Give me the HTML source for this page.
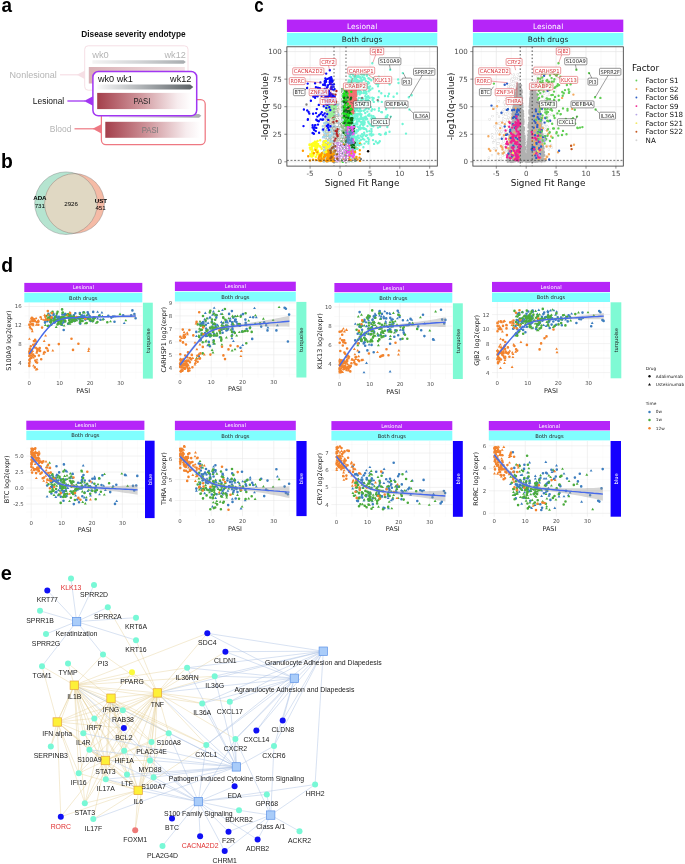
<!DOCTYPE html>
<html><head><meta charset="utf-8"><title>Figure</title>
<style>
html,body{margin:0;padding:0;background:#fff;}
svg{display:block;}
text.ls{font-family:"Liberation Sans",sans-serif;}
text.dv{font-family:"DejaVu Sans","Liberation Sans",sans-serif;}
</style></head><body>
<svg width="685" height="864" viewBox="0 0 685 864">
<rect width="685" height="864" fill="#fff"/>
<g id="panel_ab">
<defs>
<linearGradient id="gA" x1="0" x2="1" y1="0" y2="0"><stop offset="0" stop-color="#fafafa"/><stop offset="0.12" stop-color="#e6e7e8"/><stop offset="0.5" stop-color="#a9adb0"/><stop offset="1" stop-color="#5b6165"/></linearGradient>
<linearGradient id="gA2" x1="0" x2="1" y1="0" y2="0"><stop offset="0" stop-color="#f4f4f4"/><stop offset="0.5" stop-color="#d2d4d6"/><stop offset="1" stop-color="#a8acaf"/></linearGradient>
<linearGradient id="gP" x1="0" x2="1" y1="0" y2="0"><stop offset="0" stop-color="#a43f4b"/><stop offset="0.45" stop-color="#cf959b"/><stop offset="0.85" stop-color="#f7ecee"/><stop offset="1" stop-color="#ffffff"/></linearGradient>
<linearGradient id="gP2" x1="0" x2="1" y1="0" y2="0"><stop offset="0" stop-color="#d9b0b5"/><stop offset="1" stop-color="#f3e3e5"/></linearGradient>
</defs>
<text class="ls" x="1.4" y="11.8" font-size="21" fill="#000" font-weight="bold" textLength="10.5" lengthAdjust="spacingAndGlyphs">a</text>
<text class="ls" x="0.9" y="168.2" font-size="21" fill="#000" font-weight="bold" textLength="11.8" lengthAdjust="spacingAndGlyphs">b</text>
<text class="ls" x="254.3" y="11.6" font-size="21" fill="#000" font-weight="bold" textLength="9.4" lengthAdjust="spacingAndGlyphs">c</text>
<text class="ls" x="1.2" y="271.5" font-size="21" fill="#000" font-weight="bold" textLength="11.8" lengthAdjust="spacingAndGlyphs">d</text>
<text class="ls" x="0.7" y="579.9" font-size="21" fill="#000" font-weight="bold" textLength="11.1" lengthAdjust="spacingAndGlyphs">e</text>
<text class="ls" x="81.2" y="36.6" font-size="8.4" fill="#111" font-weight="bold" textLength="104.5" lengthAdjust="spacingAndGlyphs">Disease severity endotype</text>
<rect x="84.7" y="45.8" width="103.3" height="44.4" rx="3.5" fill="#fff" stroke="#f6dfe5" stroke-width="1"/>
<text class="ls" x="92.2" y="57.6" font-size="8.4" fill="#b4b4b4" textLength="16.6" lengthAdjust="spacingAndGlyphs">wk0</text>
<text class="ls" x="164.5" y="57.6" font-size="8.4" fill="#b4b4b4" textLength="21.3" lengthAdjust="spacingAndGlyphs">wk12</text>
<path d="M92.4 60.2 H183.6 L185.8 62 L183.6 63.8 H92.4 Z" fill="url(#gA2)"/>
<rect x="88.8" y="67" width="96" height="16.5" fill="url(#gP2)"/>
<text class="ls" x="9.6" y="77.6" font-size="8.4" fill="#b4b4b4" textLength="47.2" lengthAdjust="spacingAndGlyphs">Nonlesional</text>
<path d="M60 74.8 H78" stroke="#f6dfe5" stroke-width="1.2"/><path d="M76.8 74.8 L85 70.4 V79.2 Z" fill="#f6dfe5"/>
<rect x="101.4" y="99.5" width="103.8" height="45.1" rx="4.5" fill="#fff" stroke="#ee7882" stroke-width="1.25"/>
<path d="M109 113.9 H199 L201.3 115.8 L199 117.8 H109 Z" fill="url(#gA2)"/>
<rect x="105.3" y="121.8" width="95" height="16" fill="url(#gP)"/>
<text class="ls" x="150.2" y="132.5" font-size="8.2" fill="#7a7a7a" text-anchor="middle" textLength="17" lengthAdjust="spacingAndGlyphs">PASI</text>
<text class="ls" x="49.8" y="131.8" font-size="8.4" fill="#b4b4b4" textLength="21.6" lengthAdjust="spacingAndGlyphs">Blood</text>
<path d="M74.5 128.8 H94" stroke="#ee7882" stroke-width="1.2"/><path d="M92.6 128.8 L101.4 124.2 V133.4 Z" fill="#ee7882"/>
<rect x="92.9" y="71.5" width="103.8" height="44.3" rx="5.5" fill="#fff" stroke="#a136f2" stroke-width="1.5"/>
<text class="ls" x="97.9" y="82.3" font-size="8.4" fill="#111" textLength="35" lengthAdjust="spacingAndGlyphs">wk0 wk1</text>
<text class="ls" x="170.1" y="82.3" font-size="8.4" fill="#111" textLength="21.3" lengthAdjust="spacingAndGlyphs">wk12</text>
<path d="M97.2 84.5 H190.2 L193.3 87 L190.2 89.5 H97.2 Z" fill="url(#gA)"/>
<rect x="97.2" y="92.9" width="94.2" height="16.2" fill="url(#gP)"/>
<text class="ls" x="141.9" y="104" font-size="8.2" fill="#222" text-anchor="middle" textLength="17" lengthAdjust="spacingAndGlyphs">PASI</text>
<text class="ls" x="32.8" y="104" font-size="8.4" fill="#111" textLength="31.4" lengthAdjust="spacingAndGlyphs">Lesional</text>
<path d="M67.4 101 H85" stroke="#a136f2" stroke-width="1.3"/><path d="M84 101 L93 96.2 V105.8 Z" fill="#a136f2"/>
<circle cx="66" cy="203.2" r="31.3" fill="#b5e4d0"/>
<circle cx="74.5" cy="203.5" r="29.9" fill="#f5bba6"/>
<clipPath id="cv"><circle cx="66" cy="203.2" r="31.3"/></clipPath>
<circle cx="74.5" cy="203.5" r="29.9" fill="#e0d8c3" clip-path="url(#cv)"/>
<circle cx="66" cy="203.2" r="31.3" fill="none" stroke="#6b6b6b" stroke-width="0.35"/>
<circle cx="74.5" cy="203.5" r="29.9" fill="none" stroke="#6b6b6b" stroke-width="0.35"/>
<text class="ls" x="39.9" y="200.1" font-size="6.2" fill="#000" text-anchor="middle" font-weight="bold">ADA</text>
<text class="ls" x="39.8" y="207.8" font-size="6.2" fill="#000" text-anchor="middle">731</text>
<text class="ls" x="71.1" y="206" font-size="6.2" fill="#000" text-anchor="middle">2926</text>
<text class="ls" x="100.9" y="202.9" font-size="6.2" fill="#000" text-anchor="middle" font-weight="bold">UST</text>
<text class="ls" x="100.6" y="210" font-size="6.2" fill="#000" text-anchor="middle">451</text>
</g>
<g id="panel_c">
<rect x="286.9" y="19.6" width="150.4" height="12.4" fill="#b525f8"/>
<rect x="286.9" y="32.9" width="150.4" height="12.6" fill="#80fefe"/>
<text class="dv" x="362.1" y="28.6" font-size="7.4" fill="#fff" text-anchor="middle">Lesional</text>
<text class="dv" x="362.1" y="41.8" font-size="7.4" fill="#1a1a1a" text-anchor="middle">Both drugs</text>
<path d="M295.15 46.8 V166.1 M325.05 46.8 V166.1 M354.95 46.8 V166.1 M384.85 46.8 V166.1 M414.75 46.8 V166.1 M286.9 148.03 H437.3 M286.9 120.48 H437.3 M286.9 92.93 H437.3 M286.9 65.38 H437.3" stroke="#f0f0f0" stroke-width="0.4" fill="none"/>
<path d="M310.1 46.8 V166.1 M340 46.8 V166.1 M369.9 46.8 V166.1 M399.8 46.8 V166.1 M429.7 46.8 V166.1 M286.9 161.8 H437.3 M286.9 134.25 H437.3 M286.9 106.7 H437.3 M286.9 79.15 H437.3 M286.9 51.6 H437.3" stroke="#e6e6e6" stroke-width="0.7" fill="none"/>
<clipPath id="cc0"><rect x="286.9" y="46.8" width="150.4" height="119.3"/></clipPath>
<g clip-path="url(#cc0)" fill="none" stroke-linecap="round"><path d="M327.8 148.6h0M332.4 128.7h0M327.8 138.3h0M338.5 127.3h0M333.7 150.4h0M337.3 123.8h0M329.6 152.7h0M324.4 151.2h0M335.8 130.5h0M330.0 107.1h0M335.9 126.2h0M335.2 114.6h0M324.3 151.4h0M332.1 131.9h0M330.6 144.5h0M335.9 108.8h0M331.2 117.6h0M328.5 120.0h0M335.6 148.4h0M327.3 129.6h0M330.3 151.7h0M328.2 139.6h0M336.3 160.0h0M332.5 116.5h0M329.5 124.0h0M328.4 106.6h0M336.8 130.7h0M327.6 115.6h0M337.9 136.1h0M334.0 134.2h0M334.7 154.1h0M339.1 149.5h0M323.9 136.4h0M327.3 120.6h0M337.9 134.3h0M334.4 118.0h0M325.6 135.1h0M339.0 149.0h0M334.3 137.0h0M333.6 152.2h0M327.0 129.3h0M332.0 114.6h0M332.2 139.4h0M333.2 161.7h0M327.6 108.1h0M326.7 131.8h0M328.8 148.8h0M336.7 142.4h0M326.2 148.9h0M330.2 130.2h0M329.4 113.3h0M329.6 150.6h0M328.0 132.5h0M333.2 155.8h0M325.8 117.7h0M335.3 143.3h0M323.7 141.4h0M338.6 124.0h0M333.8 152.9h0M332.2 109.9h0M335.4 104.1h0M329.1 111.6h0M328.1 139.4h0M333.8 138.2h0M333.2 122.7h0M334.9 109.0h0M329.0 142.2h0M336.5 126.7h0M338.6 157.0h0M325.4 133.1h0M330.0 141.7h0M333.5 134.9h0M330.1 154.4h0M336.6 129.8h0M335.5 103.1h0M335.6 106.7h0M333.1 126.5h0" stroke="#9a9a9a" stroke-width="2.4"/><path d="M327.8 148.6h0M332.4 128.7h0M327.8 138.3h0M338.5 127.3h0M333.7 150.4h0M337.3 123.8h0M329.6 152.7h0M324.4 151.2h0M335.8 130.5h0M330.0 107.1h0M335.9 126.2h0M335.2 114.6h0M324.3 151.4h0M332.1 131.9h0M330.6 144.5h0M335.9 108.8h0M331.2 117.6h0M328.5 120.0h0M335.6 148.4h0M327.3 129.6h0M330.3 151.7h0M328.2 139.6h0M336.3 160.0h0M332.5 116.5h0M329.5 124.0h0M328.4 106.6h0M336.8 130.7h0M327.6 115.6h0M337.9 136.1h0M334.0 134.2h0M334.7 154.1h0M339.1 149.5h0M323.9 136.4h0M327.3 120.6h0M337.9 134.3h0M334.4 118.0h0M325.6 135.1h0M339.0 149.0h0M334.3 137.0h0M333.6 152.2h0M327.0 129.3h0M332.0 114.6h0M332.2 139.4h0M333.2 161.7h0M327.6 108.1h0M326.7 131.8h0M328.8 148.8h0M336.7 142.4h0M326.2 148.9h0M330.2 130.2h0M329.4 113.3h0M329.6 150.6h0M328.0 132.5h0M333.2 155.8h0M325.8 117.7h0M335.3 143.3h0M323.7 141.4h0M338.6 124.0h0M333.8 152.9h0M332.2 109.9h0M335.4 104.1h0M329.1 111.6h0M328.1 139.4h0M333.8 138.2h0M333.2 122.7h0M334.9 109.0h0M329.0 142.2h0M336.5 126.7h0M338.6 157.0h0M325.4 133.1h0M330.0 141.7h0M333.5 134.9h0M330.1 154.4h0M336.6 129.8h0M335.5 103.1h0M335.6 106.7h0M333.1 126.5h0" stroke="#ffffff" stroke-width="1.7"/><path d="M335.3 137.2h0M330.9 138.5h0M326.0 135.4h0M328.8 152.8h0M338.2 133.9h0M334.1 147.1h0M327.4 121.4h0M335.2 150.0h0M330.8 107.3h0M326.4 134.8h0M335.6 127.8h0M329.1 119.3h0M325.2 157.6h0M339.1 143.2h0M333.2 120.4h0M323.8 154.9h0M331.9 115.2h0M332.5 119.1h0M335.2 114.1h0M331.8 159.0h0M334.5 108.2h0M338.1 115.2h0M337.2 141.6h0M326.1 159.9h0M331.9 123.5h0M337.6 151.5h0M328.3 116.1h0M337.7 127.2h0M324.7 153.9h0M331.9 110.5h0M331.8 160.9h0M332.3 107.5h0M332.6 154.3h0M331.7 104.9h0M332.5 124.3h0M332.1 103.9h0M337.0 102.9h0M336.0 117.0h0M326.8 137.8h0M333.0 142.4h0M334.0 161.6h0M326.3 159.3h0M329.7 113.2h0M328.6 113.8h0M332.0 103.0h0M337.9 132.2h0M327.2 105.2h0M338.5 129.1h0M335.0 146.9h0M336.5 147.3h0M335.2 138.4h0M332.4 102.5h0M332.1 121.6h0M337.3 150.4h0M330.2 136.1h0M337.6 149.9h0M330.8 140.3h0M336.0 130.1h0M336.5 136.1h0M335.1 148.7h0M330.0 149.6h0M330.9 124.9h0M328.7 127.6h0M337.2 119.2h0M328.5 140.3h0M336.5 118.5h0M338.8 134.1h0M329.9 146.9h0M337.2 122.7h0M333.5 156.7h0M331.4 116.6h0M325.3 147.1h0M336.7 143.3h0M339.2 138.9h0M338.9 145.1h0M335.4 122.2h0M328.8 130.0h0M325.9 133.9h0M338.1 127.7h0M324.0 154.7h0M329.7 159.1h0M331.2 154.7h0M331.2 127.3h0M330.5 129.4h0M338.0 119.1h0" stroke="#8b5a2b" stroke-width="2.4"/><path d="M335.3 137.2h0M330.9 138.5h0M326.0 135.4h0M328.8 152.8h0M338.2 133.9h0M334.1 147.1h0M327.4 121.4h0M335.2 150.0h0M330.8 107.3h0M326.4 134.8h0M335.6 127.8h0M329.1 119.3h0M325.2 157.6h0M339.1 143.2h0M333.2 120.4h0M323.8 154.9h0M331.9 115.2h0M332.5 119.1h0M335.2 114.1h0M331.8 159.0h0M334.5 108.2h0M338.1 115.2h0M337.2 141.6h0M326.1 159.9h0M331.9 123.5h0M337.6 151.5h0M328.3 116.1h0M337.7 127.2h0M324.7 153.9h0M331.9 110.5h0M331.8 160.9h0M332.3 107.5h0M332.6 154.3h0M331.7 104.9h0M332.5 124.3h0M332.1 103.9h0M337.0 102.9h0M336.0 117.0h0M326.8 137.8h0M333.0 142.4h0M334.0 161.6h0M326.3 159.3h0M329.7 113.2h0M328.6 113.8h0M332.0 103.0h0M337.9 132.2h0M327.2 105.2h0M338.5 129.1h0M335.0 146.9h0M336.5 147.3h0M335.2 138.4h0M332.4 102.5h0M332.1 121.6h0M337.3 150.4h0M330.2 136.1h0M337.6 149.9h0M330.8 140.3h0M336.0 130.1h0M336.5 136.1h0M335.1 148.7h0M330.0 149.6h0M330.9 124.9h0M328.7 127.6h0M337.2 119.2h0M328.5 140.3h0M336.5 118.5h0M338.8 134.1h0M329.9 146.9h0M337.2 122.7h0M333.5 156.7h0M331.4 116.6h0M325.3 147.1h0M336.7 143.3h0M339.2 138.9h0M338.9 145.1h0M335.4 122.2h0M328.8 130.0h0M325.9 133.9h0M338.1 127.7h0M324.0 154.7h0M329.7 159.1h0M331.2 154.7h0M331.2 127.3h0M330.5 129.4h0M338.0 119.1h0" stroke="#ffffff" stroke-width="1.7"/><path d="M327.4 160.5h0M336.4 130.9h0M338.4 116.1h0M329.8 114.2h0M334.4 152.1h0M329.8 157.4h0M337.1 153.9h0M330.8 151.4h0M335.2 113.8h0M335.1 138.4h0M332.2 141.8h0M337.9 130.8h0M325.9 118.2h0M332.6 136.9h0M330.1 107.7h0M328.8 151.0h0M332.3 104.9h0M323.9 155.9h0M325.4 131.6h0M336.5 154.8h0M336.0 131.0h0M329.7 155.3h0M324.9 141.3h0M328.9 104.2h0M330.7 114.8h0M326.4 124.4h0M335.4 110.0h0M329.8 135.3h0M336.6 133.0h0M337.0 112.2h0M335.9 108.2h0M334.2 137.9h0M337.9 112.7h0M331.7 148.6h0M335.0 115.6h0M330.8 151.9h0M335.0 135.4h0M337.5 133.2h0M329.0 153.7h0M325.5 159.4h0M325.3 150.4h0M330.9 160.6h0M335.5 131.7h0M329.2 130.3h0M334.5 131.4h0M329.7 111.1h0M329.1 157.6h0M330.7 108.4h0M328.6 118.0h0M331.3 150.5h0M326.4 147.6h0M327.8 120.7h0M335.7 123.5h0M338.2 104.4h0M332.5 143.1h0M334.2 154.9h0M329.6 136.3h0M332.8 139.5h0M338.3 155.2h0M334.3 122.7h0M325.1 137.2h0M331.3 143.3h0M339.2 148.1h0M328.0 121.8h0M330.0 108.5h0M328.6 138.1h0M333.7 114.0h0" stroke="#bdbdbd" stroke-width="2.4"/><path d="M324.2 146.9h0M336.0 125.7h0M336.6 124.1h0M331.6 138.7h0M327.8 116.7h0M334.8 128.2h0M326.2 145.9h0M337.7 146.3h0M338.3 143.1h0M331.6 114.2h0M338.7 127.4h0M332.5 157.7h0M336.3 115.8h0M329.8 114.3h0M331.9 129.4h0M336.1 142.7h0M334.7 153.1h0M337.4 130.2h0M337.1 113.5h0M333.8 118.7h0M332.0 134.9h0M328.3 113.3h0M324.0 146.8h0M330.7 120.8h0M329.4 135.3h0M327.9 131.9h0M333.7 105.6h0M329.5 115.9h0M328.2 153.0h0M324.4 142.2h0M338.2 103.6h0M333.3 132.8h0M336.7 147.3h0M331.2 154.7h0M335.0 145.1h0M328.0 111.7h0M331.4 120.1h0M334.0 103.8h0M334.7 124.6h0M329.2 157.1h0M334.7 131.2h0M329.3 110.0h0M337.7 108.1h0M332.6 126.1h0M328.2 139.8h0M338.0 156.2h0M330.6 151.1h0M335.5 132.4h0M336.3 133.2h0M325.8 148.7h0M333.6 106.1h0M326.4 137.2h0M336.9 160.5h0M334.4 111.0h0M328.5 134.7h0M338.2 142.7h0M323.8 161.5h0M327.2 121.0h0M334.5 112.6h0M336.8 109.1h0M336.2 118.1h0M335.0 153.2h0M327.4 149.2h0M324.3 132.2h0M326.4 148.8h0M327.6 153.7h0M327.5 129.8h0M325.0 147.7h0M336.1 125.4h0M331.1 140.7h0M334.9 137.4h0M332.3 135.6h0M334.4 157.4h0M327.5 133.1h0M329.4 159.2h0M336.8 159.3h0M334.8 137.2h0M330.0 140.8h0M329.1 109.2h0" stroke="#9cc" stroke-width="2.4"/><path d="M324.2 146.9h0M336.0 125.7h0M336.6 124.1h0M331.6 138.7h0M327.8 116.7h0M334.8 128.2h0M326.2 145.9h0M337.7 146.3h0M338.3 143.1h0M331.6 114.2h0M338.7 127.4h0M332.5 157.7h0M336.3 115.8h0M329.8 114.3h0M331.9 129.4h0M336.1 142.7h0M334.7 153.1h0M337.4 130.2h0M337.1 113.5h0M333.8 118.7h0M332.0 134.9h0M328.3 113.3h0M324.0 146.8h0M330.7 120.8h0M329.4 135.3h0M327.9 131.9h0M333.7 105.6h0M329.5 115.9h0M328.2 153.0h0M324.4 142.2h0M338.2 103.6h0M333.3 132.8h0M336.7 147.3h0M331.2 154.7h0M335.0 145.1h0M328.0 111.7h0M331.4 120.1h0M334.0 103.8h0M334.7 124.6h0M329.2 157.1h0M334.7 131.2h0M329.3 110.0h0M337.7 108.1h0M332.6 126.1h0M328.2 139.8h0M338.0 156.2h0M330.6 151.1h0M335.5 132.4h0M336.3 133.2h0M325.8 148.7h0M333.6 106.1h0M326.4 137.2h0M336.9 160.5h0M334.4 111.0h0M328.5 134.7h0M338.2 142.7h0M323.8 161.5h0M327.2 121.0h0M334.5 112.6h0M336.8 109.1h0M336.2 118.1h0M335.0 153.2h0M327.4 149.2h0M324.3 132.2h0M326.4 148.8h0M327.6 153.7h0M327.5 129.8h0M325.0 147.7h0M336.1 125.4h0M331.1 140.7h0M334.9 137.4h0M332.3 135.6h0M334.4 157.4h0M327.5 133.1h0M329.4 159.2h0M336.8 159.3h0M334.8 137.2h0M330.0 140.8h0M329.1 109.2h0" stroke="#cfeef5" stroke-width="1.7"/><path d="M338.5 154.2h0M330.1 141.6h0M337.2 123.7h0M338.2 143.3h0M327.9 136.3h0M337.6 147.4h0M328.7 145.8h0M329.5 121.3h0M335.7 106.3h0M331.2 112.0h0M328.8 147.0h0M328.1 122.3h0M336.2 130.3h0M331.4 130.3h0M327.1 136.2h0M333.6 121.3h0M334.5 160.2h0M330.5 140.3h0M327.6 109.8h0M339.1 150.4h0M332.6 135.9h0M328.9 143.8h0M338.6 131.3h0M328.6 142.8h0M328.1 124.2h0M328.7 150.9h0M329.5 159.4h0M332.7 111.7h0M338.8 154.0h0M333.4 135.2h0M326.4 131.3h0M337.7 131.8h0M337.2 136.7h0M331.3 112.9h0M336.1 159.0h0M331.3 144.1h0M326.1 159.5h0M335.0 161.5h0M331.5 115.2h0M338.6 146.2h0M330.4 139.2h0M337.2 105.1h0M330.7 160.9h0M334.2 123.6h0M335.4 149.4h0M334.0 135.3h0M329.9 157.6h0M337.9 151.9h0M335.4 160.6h0M333.3 129.2h0M326.3 143.1h0M337.6 150.4h0M335.8 142.5h0M334.8 161.0h0M335.6 132.1h0M329.8 149.5h0M337.8 120.6h0M333.0 113.2h0M335.1 148.6h0M333.6 141.7h0M324.5 156.5h0M328.7 139.8h0M333.5 113.5h0M328.0 141.7h0M333.8 111.5h0M327.6 161.3h0M334.0 145.9h0M334.4 153.4h0M333.1 129.7h0M339.1 144.4h0M324.2 150.7h0M326.0 143.6h0M326.3 122.6h0M330.4 109.6h0M339.1 143.0h0M336.0 130.0h0M336.6 136.8h0M334.2 155.1h0" stroke="#a6e3a6" stroke-width="2.4"/><path d="M338.1 150.2h0M337.1 158.9h0M331.1 109.0h0M329.4 158.8h0M332.5 114.2h0M338.0 114.1h0M333.2 122.5h0M327.2 160.9h0M331.6 117.7h0M331.9 104.5h0M335.0 131.5h0M326.6 112.8h0M338.2 155.0h0M333.2 123.4h0M336.7 108.6h0M325.1 160.4h0M338.2 141.3h0M328.9 139.7h0M328.1 151.5h0M337.6 152.2h0M329.6 125.6h0M333.9 123.7h0M336.4 115.2h0M334.6 131.6h0M326.9 156.2h0M337.5 120.5h0M324.9 155.2h0M334.9 108.6h0M334.5 142.7h0M332.9 138.4h0M336.4 152.9h0M328.5 158.3h0M324.4 160.4h0M336.3 151.9h0M328.4 144.9h0M330.3 120.8h0M336.7 145.9h0M334.7 112.8h0M331.7 116.6h0M331.4 128.4h0M327.1 142.9h0M334.2 134.1h0M335.5 109.9h0M332.9 102.6h0M330.7 137.6h0M326.7 143.6h0M327.5 107.3h0M337.5 140.6h0M329.5 151.1h0M334.7 116.7h0M333.6 158.9h0M333.9 124.8h0M329.9 139.1h0M337.3 135.8h0M328.8 109.5h0M326.6 152.0h0M327.7 118.7h0M334.1 158.3h0M338.6 148.5h0M331.5 111.9h0M331.1 124.4h0M325.4 128.1h0M332.3 130.1h0M334.6 135.8h0M330.8 124.4h0M327.5 110.5h0M328.4 128.4h0M335.5 131.1h0M329.2 107.0h0M336.0 121.3h0M337.5 125.2h0M338.8 142.4h0M332.9 109.6h0M327.8 154.7h0M322.4 160.2h0M327.2 112.3h0" stroke="#777777" stroke-width="2.4"/><path d="M338.1 150.2h0M337.1 158.9h0M331.1 109.0h0M329.4 158.8h0M332.5 114.2h0M338.0 114.1h0M333.2 122.5h0M327.2 160.9h0M331.6 117.7h0M331.9 104.5h0M335.0 131.5h0M326.6 112.8h0M338.2 155.0h0M333.2 123.4h0M336.7 108.6h0M325.1 160.4h0M338.2 141.3h0M328.9 139.7h0M328.1 151.5h0M337.6 152.2h0M329.6 125.6h0M333.9 123.7h0M336.4 115.2h0M334.6 131.6h0M326.9 156.2h0M337.5 120.5h0M324.9 155.2h0M334.9 108.6h0M334.5 142.7h0M332.9 138.4h0M336.4 152.9h0M328.5 158.3h0M324.4 160.4h0M336.3 151.9h0M328.4 144.9h0M330.3 120.8h0M336.7 145.9h0M334.7 112.8h0M331.7 116.6h0M331.4 128.4h0M327.1 142.9h0M334.2 134.1h0M335.5 109.9h0M332.9 102.6h0M330.7 137.6h0M326.7 143.6h0M327.5 107.3h0M337.5 140.6h0M329.5 151.1h0M334.7 116.7h0M333.6 158.9h0M333.9 124.8h0M329.9 139.1h0M337.3 135.8h0M328.8 109.5h0M326.6 152.0h0M327.7 118.7h0M334.1 158.3h0M338.6 148.5h0M331.5 111.9h0M331.1 124.4h0M325.4 128.1h0M332.3 130.1h0M334.6 135.8h0M330.8 124.4h0M327.5 110.5h0M328.4 128.4h0M335.5 131.1h0M329.2 107.0h0M336.0 121.3h0M337.5 125.2h0M338.8 142.4h0M332.9 109.6h0M327.8 154.7h0M322.4 160.2h0M327.2 112.3h0" stroke="#ffffff" stroke-width="1.7"/><path d="M326.2 143.0h0M332.5 116.7h0M334.6 122.2h0M335.0 145.2h0M333.5 122.7h0M323.3 146.6h0M324.3 134.7h0M334.1 159.9h0M338.2 108.7h0M327.3 117.9h0M335.0 126.5h0M332.8 104.3h0M326.1 153.4h0M331.9 155.7h0M337.0 103.9h0M329.2 114.6h0M336.9 160.3h0M329.8 151.1h0M335.3 108.8h0M334.3 102.9h0M338.5 122.9h0M338.8 140.5h0M334.6 139.1h0M334.6 114.2h0M333.3 150.1h0M330.4 127.1h0M326.6 123.7h0M335.8 130.8h0M329.7 132.3h0M332.6 131.9h0M338.9 159.0h0M321.9 155.2h0M328.8 141.3h0M331.0 130.3h0M328.8 129.0h0M334.8 110.4h0M330.2 121.0h0M329.8 116.6h0M330.2 156.9h0M332.4 142.9h0M336.7 158.7h0M328.3 142.5h0M337.4 111.6h0M334.4 157.7h0M324.5 125.6h0M325.0 146.6h0M327.1 153.7h0M337.7 108.7h0M331.3 156.9h0M333.5 132.4h0M329.9 139.3h0M338.0 147.5h0M330.5 144.3h0M327.2 108.8h0M335.9 160.5h0M333.3 140.5h0M327.7 129.7h0M332.6 121.6h0M327.7 124.5h0M337.4 106.6h0M333.7 117.8h0M327.7 109.3h0M324.8 134.1h0M336.5 149.8h0M330.4 111.8h0M334.2 109.2h0M336.7 109.2h0M327.8 143.3h0M339.5 159.5h0M333.0 134.9h0M327.7 119.7h0M330.2 107.8h0M339.4 159.9h0M337.2 139.1h0" stroke="#d8c9a3" stroke-width="2.4"/><path d="M331.0 114.9h0M337.2 102.6h0M328.1 121.5h0M327.9 118.4h0M330.6 146.8h0M337.0 118.5h0M338.1 147.8h0M336.7 122.3h0M329.3 111.8h0M325.1 158.0h0M338.3 114.5h0M337.5 124.5h0M327.1 119.0h0M332.0 112.1h0M337.0 144.6h0M326.6 158.4h0M333.0 141.2h0M329.4 106.8h0M334.8 131.0h0M327.8 104.6h0M331.4 130.2h0M330.2 104.0h0M336.4 149.2h0M337.2 105.0h0M330.9 111.3h0M330.8 154.3h0M329.5 143.8h0M330.9 125.6h0M338.5 139.2h0M331.1 131.2h0M334.5 114.3h0M326.2 133.6h0M336.3 112.2h0M332.1 135.6h0M324.6 152.7h0M335.1 126.5h0M329.1 111.9h0M332.4 148.5h0M325.4 136.4h0M332.0 111.7h0M337.7 133.9h0M335.4 141.3h0M339.0 156.7h0M330.7 121.2h0M334.6 107.4h0M335.6 132.9h0M338.6 145.8h0M328.9 115.5h0M327.1 123.9h0M339.3 147.1h0M330.4 145.0h0M334.9 161.2h0M328.9 136.5h0M331.7 108.5h0M331.5 138.3h0M336.1 129.2h0M330.5 147.4h0M327.8 116.5h0M332.0 152.1h0M335.5 127.4h0M325.5 122.6h0M329.6 151.8h0M335.8 109.9h0M335.7 145.7h0M335.4 157.7h0M338.4 151.1h0M337.9 130.8h0M333.4 120.5h0M338.5 122.5h0M330.6 156.8h0M332.6 154.8h0M330.2 140.9h0M326.9 132.4h0M329.9 137.5h0" stroke="#9fd0ea" stroke-width="2.4"/><path d="M336.2 124.4h0M333.0 154.9h0M337.6 119.4h0M334.7 113.0h0M330.4 119.7h0M327.1 113.2h0M333.7 128.3h0M335.1 143.3h0M335.6 150.6h0M336.8 134.8h0M336.2 136.1h0M327.9 148.5h0M336.5 124.9h0M330.6 147.4h0M334.1 138.9h0M339.3 152.2h0M331.5 103.5h0M331.6 116.2h0M334.1 127.1h0M325.9 151.9h0M337.6 155.5h0M325.9 140.8h0M338.5 120.2h0M326.8 148.8h0M338.8 143.6h0M337.8 150.3h0M338.6 146.7h0M334.5 137.9h0M336.9 129.2h0M333.6 113.0h0M329.3 114.3h0M338.4 135.9h0M327.4 161.5h0M338.7 149.8h0M328.4 128.4h0M330.3 121.4h0M338.0 102.7h0M336.1 140.6h0M333.3 160.0h0M327.7 154.3h0M328.5 140.7h0M326.6 153.6h0M332.4 138.9h0M327.7 137.9h0M338.4 141.1h0M332.2 108.2h0M328.0 141.5h0M324.5 151.5h0M336.8 117.4h0M338.6 136.8h0M338.6 157.5h0M339.4 153.3h0M337.4 124.5h0M335.9 124.0h0M336.7 113.2h0M328.2 112.8h0M336.2 145.0h0M337.1 119.4h0M324.8 137.6h0M333.5 123.1h0M337.4 119.3h0M322.6 160.3h0M331.5 108.8h0M335.8 139.3h0M329.6 109.9h0M334.3 152.2h0M326.6 148.4h0M329.8 156.0h0M336.3 110.6h0M328.2 106.5h0M332.3 123.2h0M339.2 141.8h0M337.2 125.2h0M329.5 157.1h0M334.4 146.8h0M326.9 159.9h0M334.8 106.8h0M326.1 159.0h0M337.0 107.4h0M332.1 107.0h0M334.8 122.9h0M333.4 135.6h0M329.0 140.7h0" stroke="#b8b8b8" stroke-width="2.4"/><path d="M336.2 124.4h0M333.0 154.9h0M337.6 119.4h0M334.7 113.0h0M330.4 119.7h0M327.1 113.2h0M333.7 128.3h0M335.1 143.3h0M335.6 150.6h0M336.8 134.8h0M336.2 136.1h0M327.9 148.5h0M336.5 124.9h0M330.6 147.4h0M334.1 138.9h0M339.3 152.2h0M331.5 103.5h0M331.6 116.2h0M334.1 127.1h0M325.9 151.9h0M337.6 155.5h0M325.9 140.8h0M338.5 120.2h0M326.8 148.8h0M338.8 143.6h0M337.8 150.3h0M338.6 146.7h0M334.5 137.9h0M336.9 129.2h0M333.6 113.0h0M329.3 114.3h0M338.4 135.9h0M327.4 161.5h0M338.7 149.8h0M328.4 128.4h0M330.3 121.4h0M338.0 102.7h0M336.1 140.6h0M333.3 160.0h0M327.7 154.3h0M328.5 140.7h0M326.6 153.6h0M332.4 138.9h0M327.7 137.9h0M338.4 141.1h0M332.2 108.2h0M328.0 141.5h0M324.5 151.5h0M336.8 117.4h0M338.6 136.8h0M338.6 157.5h0M339.4 153.3h0M337.4 124.5h0M335.9 124.0h0M336.7 113.2h0M328.2 112.8h0M336.2 145.0h0M337.1 119.4h0M324.8 137.6h0M333.5 123.1h0M337.4 119.3h0M322.6 160.3h0M331.5 108.8h0M335.8 139.3h0M329.6 109.9h0M334.3 152.2h0M326.6 148.4h0M329.8 156.0h0M336.3 110.6h0M328.2 106.5h0M332.3 123.2h0M339.2 141.8h0M337.2 125.2h0M329.5 157.1h0M334.4 146.8h0M326.9 159.9h0M334.8 106.8h0M326.1 159.0h0M337.0 107.4h0M332.1 107.0h0M334.8 122.9h0M333.4 135.6h0M329.0 140.7h0" stroke="#ffffff" stroke-width="1.7"/><path d="M334.1 155.7h0M337.4 121.7h0M328.6 109.5h0M327.6 135.0h0M328.6 145.0h0M330.1 113.0h0M330.4 159.8h0M332.8 150.1h0M327.6 131.7h0M326.7 120.5h0M336.4 128.1h0M335.3 110.5h0M328.7 147.3h0M330.1 153.2h0M324.4 149.2h0M338.2 142.8h0M339.1 159.7h0M330.2 122.2h0M323.7 148.4h0M323.5 152.0h0M338.5 139.5h0M333.1 102.9h0M332.0 106.9h0M338.0 109.4h0M331.0 112.5h0M326.2 142.2h0M334.9 141.4h0M330.9 121.0h0M337.8 121.3h0M332.0 120.1h0M334.2 129.1h0M336.9 115.6h0M335.8 141.3h0M336.8 159.7h0M337.0 135.7h0M326.2 156.6h0M334.8 160.4h0M330.7 118.9h0M331.0 128.5h0M335.9 160.8h0M332.8 111.1h0M331.4 113.3h0M329.2 139.8h0M331.8 146.5h0M326.6 149.2h0M332.7 130.9h0M328.0 151.0h0M333.9 121.6h0M334.8 150.6h0M337.1 147.7h0M322.5 156.0h0M332.6 135.7h0M332.6 123.6h0M337.3 161.2h0M329.1 124.6h0M328.3 150.6h0M333.7 156.4h0M333.9 128.7h0M329.9 131.9h0M326.2 131.8h0M336.1 161.7h0M330.3 122.2h0M329.4 153.2h0M335.1 122.4h0M334.6 110.1h0M328.6 118.4h0M332.3 154.5h0M338.8 135.4h0M335.3 119.2h0M328.3 121.6h0M328.3 156.0h0M332.8 125.3h0M327.2 159.8h0M338.2 109.3h0M334.9 120.1h0M333.4 116.5h0M322.7 156.6h0M336.5 155.6h0M330.1 124.5h0M331.9 137.3h0M330.2 119.4h0M331.6 113.8h0M336.7 148.8h0M327.7 151.9h0" stroke="#aa9" stroke-width="2.4"/><path d="M334.1 155.7h0M337.4 121.7h0M328.6 109.5h0M327.6 135.0h0M328.6 145.0h0M330.1 113.0h0M330.4 159.8h0M332.8 150.1h0M327.6 131.7h0M326.7 120.5h0M336.4 128.1h0M335.3 110.5h0M328.7 147.3h0M330.1 153.2h0M324.4 149.2h0M338.2 142.8h0M339.1 159.7h0M330.2 122.2h0M323.7 148.4h0M323.5 152.0h0M338.5 139.5h0M333.1 102.9h0M332.0 106.9h0M338.0 109.4h0M331.0 112.5h0M326.2 142.2h0M334.9 141.4h0M330.9 121.0h0M337.8 121.3h0M332.0 120.1h0M334.2 129.1h0M336.9 115.6h0M335.8 141.3h0M336.8 159.7h0M337.0 135.7h0M326.2 156.6h0M334.8 160.4h0M330.7 118.9h0M331.0 128.5h0M335.9 160.8h0M332.8 111.1h0M331.4 113.3h0M329.2 139.8h0M331.8 146.5h0M326.6 149.2h0M332.7 130.9h0M328.0 151.0h0M333.9 121.6h0M334.8 150.6h0M337.1 147.7h0M322.5 156.0h0M332.6 135.7h0M332.6 123.6h0M337.3 161.2h0M329.1 124.6h0M328.3 150.6h0M333.7 156.4h0M333.9 128.7h0M329.9 131.9h0M326.2 131.8h0M336.1 161.7h0M330.3 122.2h0M329.4 153.2h0M335.1 122.4h0M334.6 110.1h0M328.6 118.4h0M332.3 154.5h0M338.8 135.4h0M335.3 119.2h0M328.3 121.6h0M328.3 156.0h0M332.8 125.3h0M327.2 159.8h0M338.2 109.3h0M334.9 120.1h0M333.4 116.5h0M322.7 156.6h0M336.5 155.6h0M330.1 124.5h0M331.9 137.3h0M330.2 119.4h0M331.6 113.8h0M336.7 148.8h0M327.7 151.9h0" stroke="#e8e8d0" stroke-width="1.7"/><path d="M344.9 142.4h0M345.4 115.8h0M350.3 106.7h0M344.9 110.7h0M343.2 126.6h0M346.4 144.5h0M346.6 136.9h0M344.0 91.2h0M343.3 126.9h0M347.8 139.2h0M345.9 125.2h0M342.1 144.2h0M342.9 152.2h0M344.7 136.8h0M350.8 125.4h0M342.6 133.2h0M345.5 143.5h0M349.6 137.4h0M344.3 138.2h0M343.2 113.0h0M344.1 98.7h0M343.8 114.2h0M344.2 124.7h0M349.2 158.4h0M348.8 156.7h0M347.8 98.4h0M343.5 132.8h0M348.0 155.9h0M345.6 135.6h0M350.9 134.2h0M350.1 149.8h0M350.6 110.2h0M344.3 130.6h0M342.0 101.9h0M350.7 151.2h0M345.3 129.0h0M343.8 133.3h0M349.7 147.3h0M343.0 132.7h0M346.4 113.9h0M342.2 122.5h0M350.8 151.2h0M342.9 145.3h0M345.7 130.1h0M345.8 119.8h0M344.7 132.9h0M351.0 123.5h0M348.9 116.1h0M348.0 143.9h0M345.8 150.3h0M341.5 124.0h0M343.4 149.8h0M348.4 122.9h0M344.2 103.0h0M344.3 131.2h0M355.3 158.3h0M344.6 139.9h0M342.3 142.5h0M341.2 155.5h0M343.6 156.8h0M349.4 122.1h0M345.3 98.7h0M340.2 159.3h0M342.3 149.7h0M349.8 107.9h0M341.4 137.4h0M343.4 151.3h0M345.4 161.1h0M349.0 135.6h0M351.3 131.7h0M353.3 150.0h0M351.0 108.6h0M343.4 147.8h0M342.1 119.8h0M348.0 93.6h0M344.0 156.9h0M343.0 127.8h0M353.3 141.1h0M343.2 138.5h0M346.5 98.8h0M347.5 110.6h0" stroke="#9a9a9a" stroke-width="2.4"/><path d="M344.9 142.4h0M345.4 115.8h0M350.3 106.7h0M344.9 110.7h0M343.2 126.6h0M346.4 144.5h0M346.6 136.9h0M344.0 91.2h0M343.3 126.9h0M347.8 139.2h0M345.9 125.2h0M342.1 144.2h0M342.9 152.2h0M344.7 136.8h0M350.8 125.4h0M342.6 133.2h0M345.5 143.5h0M349.6 137.4h0M344.3 138.2h0M343.2 113.0h0M344.1 98.7h0M343.8 114.2h0M344.2 124.7h0M349.2 158.4h0M348.8 156.7h0M347.8 98.4h0M343.5 132.8h0M348.0 155.9h0M345.6 135.6h0M350.9 134.2h0M350.1 149.8h0M350.6 110.2h0M344.3 130.6h0M342.0 101.9h0M350.7 151.2h0M345.3 129.0h0M343.8 133.3h0M349.7 147.3h0M343.0 132.7h0M346.4 113.9h0M342.2 122.5h0M350.8 151.2h0M342.9 145.3h0M345.7 130.1h0M345.8 119.8h0M344.7 132.9h0M351.0 123.5h0M348.9 116.1h0M348.0 143.9h0M345.8 150.3h0M341.5 124.0h0M343.4 149.8h0M348.4 122.9h0M344.2 103.0h0M344.3 131.2h0M355.3 158.3h0M344.6 139.9h0M342.3 142.5h0M341.2 155.5h0M343.6 156.8h0M349.4 122.1h0M345.3 98.7h0M340.2 159.3h0M342.3 149.7h0M349.8 107.9h0M341.4 137.4h0M343.4 151.3h0M345.4 161.1h0M349.0 135.6h0M351.3 131.7h0M353.3 150.0h0M351.0 108.6h0M343.4 147.8h0M342.1 119.8h0M348.0 93.6h0M344.0 156.9h0M343.0 127.8h0M353.3 141.1h0M343.2 138.5h0M346.5 98.8h0M347.5 110.6h0" stroke="#ffffff" stroke-width="1.7"/><path d="M352.7 152.4h0M342.6 152.9h0M340.5 152.8h0M342.8 102.8h0M346.0 136.6h0M343.6 116.0h0M347.5 131.1h0M350.7 118.1h0M348.0 140.4h0M350.3 147.1h0M349.7 123.7h0M343.8 94.2h0M348.0 131.0h0M353.1 160.8h0M343.2 122.4h0M345.3 150.8h0M349.4 136.5h0M348.0 107.9h0M353.8 150.9h0M350.3 124.9h0M344.7 159.1h0M348.2 103.5h0M344.2 100.4h0M341.0 145.2h0M350.7 115.1h0M350.7 138.3h0M343.9 150.7h0M341.8 145.4h0M344.5 117.4h0M349.0 100.6h0M347.0 138.8h0M347.7 120.2h0M351.8 144.5h0M350.9 119.8h0M349.1 123.1h0M342.3 89.1h0M342.7 148.5h0M349.2 120.4h0M342.4 115.9h0M353.0 124.2h0M346.3 93.7h0M348.5 120.2h0M349.8 148.7h0M352.2 146.8h0M344.7 91.5h0M354.3 156.6h0M349.5 153.2h0M344.7 127.0h0M351.5 150.1h0M350.0 109.9h0M346.6 118.8h0M349.1 144.8h0M344.1 129.4h0M347.1 119.7h0M341.9 123.5h0M348.3 90.3h0M342.8 91.6h0M355.3 160.8h0M342.2 140.1h0M347.5 134.9h0M354.0 145.3h0M348.1 143.0h0M347.4 95.0h0M343.5 146.0h0M349.3 153.0h0M350.5 102.7h0M342.4 156.0h0M342.3 144.0h0M342.4 116.1h0M345.7 134.6h0M345.3 149.5h0M351.3 139.2h0M350.1 108.1h0M344.8 131.4h0M350.4 141.6h0M346.4 139.5h0M351.7 115.1h0M353.8 136.6h0M350.2 102.3h0M350.1 113.3h0M351.8 120.5h0M352.1 115.0h0M341.8 126.0h0M350.7 101.7h0M344.8 139.4h0M348.1 135.6h0" stroke="#0b6b1a" stroke-width="2.4"/><path d="M347.6 92.5h0M346.2 140.5h0M350.0 127.0h0M344.9 115.8h0M341.3 158.6h0M355.6 158.4h0M354.8 150.8h0M349.5 147.0h0M342.6 101.5h0M345.5 125.1h0M343.9 96.2h0M340.6 151.8h0M351.9 159.3h0M353.2 151.7h0M352.4 136.3h0M348.7 112.4h0M345.1 125.4h0M349.6 161.1h0M344.8 140.3h0M352.6 133.7h0M342.9 98.4h0M348.4 98.7h0M342.5 122.3h0M352.0 161.1h0M347.9 113.6h0M349.7 141.7h0M352.6 127.7h0M344.5 100.6h0M348.5 115.4h0M345.8 126.2h0M349.9 123.4h0M343.4 90.5h0M346.4 102.5h0M354.1 157.6h0M342.1 113.5h0M342.8 161.8h0M346.2 136.3h0M342.8 95.0h0M349.1 140.0h0M343.8 104.7h0M345.8 122.1h0M344.4 154.8h0M346.2 121.3h0M342.9 157.8h0M349.3 146.6h0M349.4 112.8h0M344.7 129.5h0M344.7 133.8h0M347.9 150.8h0M346.0 97.3h0M350.1 125.6h0M346.1 150.9h0M343.7 99.6h0M342.6 139.9h0M347.3 116.1h0M347.9 157.7h0M343.5 152.5h0M350.6 144.4h0M344.4 117.7h0M343.7 142.9h0M344.7 145.0h0M344.5 119.0h0M350.9 150.2h0M353.1 154.1h0M350.4 130.8h0M342.4 115.9h0M353.5 160.0h0M348.4 117.6h0M347.8 137.2h0M350.3 142.0h0M346.2 93.0h0M342.5 155.8h0M347.1 144.5h0M343.7 128.1h0M345.8 103.4h0M351.2 117.4h0M352.1 120.1h0M343.1 153.5h0" stroke="#1fe01f" stroke-width="2.4"/><path d="M348.4 153.2h0M351.0 106.7h0M342.8 100.4h0M348.7 151.7h0M342.5 117.8h0M347.3 143.9h0M342.2 136.4h0M344.2 105.6h0M347.4 127.9h0M342.7 125.3h0M348.7 159.7h0M346.3 103.9h0M350.4 139.4h0M345.1 155.2h0M341.6 151.6h0M340.9 143.8h0M350.6 116.6h0M349.1 144.8h0M341.3 135.3h0M347.3 156.5h0M342.7 108.5h0M344.4 97.3h0M346.8 112.0h0M350.4 123.3h0M345.0 143.6h0M343.7 158.3h0M351.9 133.6h0M341.5 148.6h0M348.8 100.1h0M343.9 118.7h0M350.9 160.6h0M353.8 149.4h0M342.4 90.1h0M353.0 144.5h0M351.4 144.1h0M343.9 125.6h0M349.7 126.3h0M350.3 132.6h0M345.0 151.1h0M343.0 107.3h0M341.1 149.7h0M347.5 155.8h0M349.1 117.4h0M340.3 155.0h0M342.1 110.0h0M344.6 149.5h0M346.4 107.1h0M347.8 103.5h0M344.5 119.4h0M344.1 91.0h0M350.4 156.9h0M351.7 153.2h0M344.5 138.5h0M347.1 115.7h0M343.1 99.1h0M345.0 111.2h0M352.1 159.6h0M346.1 142.1h0M350.6 152.4h0M349.1 158.7h0M344.5 132.1h0M348.5 152.4h0M347.1 129.7h0M348.8 161.2h0M347.1 90.8h0M346.7 159.0h0M352.3 135.2h0M350.7 113.8h0M351.9 123.7h0M353.3 142.8h0M345.8 150.9h0M346.2 158.6h0M349.6 111.1h0" stroke="#bdbdbd" stroke-width="2.4"/><path d="M349.8 122.6h0M345.4 158.0h0M344.6 114.0h0M349.4 138.4h0M350.9 136.4h0M353.2 125.2h0M344.3 113.0h0M352.6 159.9h0M349.3 117.2h0M346.1 91.0h0M344.6 100.4h0M352.2 142.8h0M349.8 137.6h0M346.2 114.7h0M340.8 151.1h0M349.0 141.4h0M341.4 139.2h0M347.1 100.5h0M343.6 122.7h0M349.0 139.4h0M342.5 92.1h0M352.3 158.7h0M350.8 116.8h0M345.1 132.1h0M346.6 99.7h0M344.8 100.1h0M351.3 112.3h0M348.2 113.1h0M345.6 146.9h0M350.3 144.5h0M342.8 160.1h0M345.7 89.8h0M342.6 125.7h0M347.8 135.7h0M345.1 148.5h0M341.5 147.5h0M345.0 159.2h0M342.4 91.7h0M343.1 99.5h0M349.2 106.5h0M349.0 131.6h0M347.9 104.7h0M350.3 152.4h0M348.0 152.2h0M345.3 102.8h0M344.7 121.9h0M346.2 155.7h0M346.3 155.1h0M350.7 107.4h0M345.3 97.7h0M348.1 140.8h0M344.0 133.1h0M349.1 140.5h0M346.2 141.1h0M346.8 145.2h0M346.8 137.6h0M344.1 130.5h0M342.0 144.5h0M349.0 97.3h0M350.6 109.8h0M352.0 160.8h0M348.3 123.6h0M345.3 130.6h0M348.5 147.1h0M350.4 113.3h0M346.2 89.9h0M348.9 122.5h0M350.1 143.4h0M346.0 159.7h0M349.1 144.1h0M350.9 136.3h0M341.3 149.8h0M343.0 145.9h0M347.2 103.0h0M351.3 114.3h0M344.4 97.4h0M346.3 106.3h0M347.2 110.7h0M350.3 141.8h0M348.1 129.3h0M350.1 116.2h0M348.9 116.0h0M341.7 123.8h0" stroke="#556b2f" stroke-width="2.4"/><path d="M349.8 122.6h0M345.4 158.0h0M344.6 114.0h0M349.4 138.4h0M350.9 136.4h0M353.2 125.2h0M344.3 113.0h0M352.6 159.9h0M349.3 117.2h0M346.1 91.0h0M344.6 100.4h0M352.2 142.8h0M349.8 137.6h0M346.2 114.7h0M340.8 151.1h0M349.0 141.4h0M341.4 139.2h0M347.1 100.5h0M343.6 122.7h0M349.0 139.4h0M342.5 92.1h0M352.3 158.7h0M350.8 116.8h0M345.1 132.1h0M346.6 99.7h0M344.8 100.1h0M351.3 112.3h0M348.2 113.1h0M345.6 146.9h0M350.3 144.5h0M342.8 160.1h0M345.7 89.8h0M342.6 125.7h0M347.8 135.7h0M345.1 148.5h0M341.5 147.5h0M345.0 159.2h0M342.4 91.7h0M343.1 99.5h0M349.2 106.5h0M349.0 131.6h0M347.9 104.7h0M350.3 152.4h0M348.0 152.2h0M345.3 102.8h0M344.7 121.9h0M346.2 155.7h0M346.3 155.1h0M350.7 107.4h0M345.3 97.7h0M348.1 140.8h0M344.0 133.1h0M349.1 140.5h0M346.2 141.1h0M346.8 145.2h0M346.8 137.6h0M344.1 130.5h0M342.0 144.5h0M349.0 97.3h0M350.6 109.8h0M352.0 160.8h0M348.3 123.6h0M345.3 130.6h0M348.5 147.1h0M350.4 113.3h0M346.2 89.9h0M348.9 122.5h0M350.1 143.4h0M346.0 159.7h0M349.1 144.1h0M350.9 136.3h0M341.3 149.8h0M343.0 145.9h0M347.2 103.0h0M351.3 114.3h0M344.4 97.4h0M346.3 106.3h0M347.2 110.7h0M350.3 141.8h0M348.1 129.3h0M350.1 116.2h0M348.9 116.0h0M341.7 123.8h0" stroke="#ffffff" stroke-width="1.7"/><path d="M342.6 103.7h0M353.0 138.5h0M349.0 104.3h0M343.3 111.5h0M343.1 158.4h0M343.9 127.8h0M353.4 159.3h0M344.2 160.2h0M342.8 144.6h0M349.5 100.7h0M353.3 161.3h0M346.5 161.8h0M344.1 105.6h0M349.9 109.0h0M345.6 101.7h0M348.7 154.9h0M342.0 116.6h0M344.3 97.1h0M344.1 105.7h0M345.3 150.7h0M351.3 146.0h0M351.6 124.4h0M343.8 109.4h0M349.2 131.1h0M342.2 112.4h0M347.7 94.4h0M342.7 115.3h0M346.0 152.7h0M345.4 114.3h0M348.6 102.0h0M351.2 116.2h0M344.5 94.0h0M352.3 117.2h0M347.5 139.2h0M350.2 119.0h0M343.0 115.6h0M351.8 155.1h0M346.5 119.3h0M353.5 141.4h0M343.7 129.9h0M347.5 97.5h0M342.7 119.7h0M343.7 101.1h0M342.2 105.4h0M343.6 94.6h0M346.9 137.1h0M349.0 131.0h0M355.7 160.3h0M352.0 150.1h0M347.5 155.9h0M344.0 141.0h0M351.4 157.5h0M352.5 155.6h0M346.3 145.9h0M350.3 114.0h0M347.7 156.6h0M348.1 140.6h0M347.5 112.4h0M348.9 112.9h0M351.6 131.1h0M341.2 139.4h0M344.6 96.2h0" stroke="#b8b8b8" stroke-width="2.4"/><path d="M342.6 103.7h0M353.0 138.5h0M349.0 104.3h0M343.3 111.5h0M343.1 158.4h0M343.9 127.8h0M353.4 159.3h0M344.2 160.2h0M342.8 144.6h0M349.5 100.7h0M353.3 161.3h0M346.5 161.8h0M344.1 105.6h0M349.9 109.0h0M345.6 101.7h0M348.7 154.9h0M342.0 116.6h0M344.3 97.1h0M344.1 105.7h0M345.3 150.7h0M351.3 146.0h0M351.6 124.4h0M343.8 109.4h0M349.2 131.1h0M342.2 112.4h0M347.7 94.4h0M342.7 115.3h0M346.0 152.7h0M345.4 114.3h0M348.6 102.0h0M351.2 116.2h0M344.5 94.0h0M352.3 117.2h0M347.5 139.2h0M350.2 119.0h0M343.0 115.6h0M351.8 155.1h0M346.5 119.3h0M353.5 141.4h0M343.7 129.9h0M347.5 97.5h0M342.7 119.7h0M343.7 101.1h0M342.2 105.4h0M343.6 94.6h0M346.9 137.1h0M349.0 131.0h0M355.7 160.3h0M352.0 150.1h0M347.5 155.9h0M344.0 141.0h0M351.4 157.5h0M352.5 155.6h0M346.3 145.9h0M350.3 114.0h0M347.7 156.6h0M348.1 140.6h0M347.5 112.4h0M348.9 112.9h0M351.6 131.1h0M341.2 139.4h0M344.6 96.2h0" stroke="#ffffff" stroke-width="1.7"/><path d="M350.6 119.0h0M345.3 105.2h0M349.2 144.9h0M344.3 160.4h0M354.8 158.1h0M347.5 158.0h0M343.3 149.5h0M342.2 155.9h0M345.2 157.4h0M347.1 149.2h0M346.9 144.8h0M343.7 106.6h0M345.1 137.7h0M347.7 135.9h0M345.9 90.8h0M347.3 111.3h0M347.6 159.8h0M348.9 116.5h0M343.5 135.5h0M344.0 117.5h0M350.2 109.0h0M346.4 118.6h0M344.5 130.1h0M352.6 137.5h0M350.9 124.3h0M353.5 143.5h0M349.4 125.5h0M352.2 147.1h0M347.7 112.3h0M351.1 148.2h0M349.9 108.7h0M348.6 131.4h0M343.0 113.0h0M352.7 132.0h0M342.6 103.1h0M342.7 95.8h0M349.3 127.5h0M342.5 109.3h0M347.2 125.7h0M345.2 98.3h0M350.5 143.1h0M343.4 89.4h0M345.1 159.7h0M342.2 148.6h0M353.1 143.7h0M346.7 119.5h0M349.9 131.4h0M343.9 157.7h0M341.8 126.8h0M340.2 161.4h0M349.1 134.0h0M344.8 129.8h0M349.9 152.7h0M348.9 135.9h0M344.0 140.2h0M351.8 113.2h0M350.3 157.0h0M347.5 111.1h0M342.1 103.1h0M352.0 139.1h0M343.2 139.9h0M346.2 126.9h0M347.9 108.0h0M344.3 95.8h0M349.2 94.5h0M352.6 136.2h0M346.0 154.1h0M350.8 152.5h0M347.1 113.1h0" stroke="#d8c9a3" stroke-width="2.4"/><path d="M347.7 103.5h0M344.7 96.7h0M350.9 119.4h0M352.4 119.5h0M353.5 150.9h0M344.7 124.2h0M351.2 136.5h0M349.6 110.6h0M346.5 144.3h0M353.5 132.3h0M345.2 149.8h0M341.8 158.1h0M344.4 102.6h0M350.9 107.9h0M355.9 159.8h0M343.2 139.8h0M342.3 156.0h0M345.6 102.0h0M350.9 112.3h0M348.8 111.4h0M350.1 155.3h0M342.6 129.1h0M342.4 136.7h0M346.1 126.9h0M347.7 94.7h0M344.9 91.4h0M348.1 98.9h0M349.8 154.3h0M346.3 141.5h0M347.3 138.5h0M348.2 137.0h0M351.4 115.7h0M352.2 116.7h0M342.8 104.6h0M343.5 157.5h0M345.5 139.3h0M348.8 130.0h0M342.2 156.0h0M349.6 142.9h0M347.8 159.2h0M342.3 98.9h0M343.0 124.5h0M344.6 102.4h0M347.1 132.5h0M343.2 107.0h0M347.7 127.9h0M344.3 147.8h0M340.9 157.3h0M344.9 156.9h0M352.3 148.9h0M344.2 100.6h0M350.9 141.8h0M346.7 142.9h0M353.8 132.6h0M342.9 92.5h0M355.7 157.1h0M352.2 148.1h0M349.1 154.3h0M350.7 123.1h0M342.9 150.2h0M347.5 144.0h0M345.9 149.5h0M349.9 116.9h0M351.8 125.9h0M344.6 102.7h0M348.4 99.6h0M352.1 119.6h0M345.5 120.0h0M347.3 159.9h0M343.5 133.3h0M350.2 139.7h0M349.3 149.1h0M347.1 149.5h0M347.4 122.1h0M343.3 91.4h0M344.0 102.4h0M350.6 138.9h0M346.2 100.0h0M353.8 142.8h0M348.4 139.6h0M343.0 150.6h0M350.6 145.2h0M344.3 131.7h0M349.3 132.0h0M343.3 148.1h0M346.3 97.4h0M351.6 159.6h0M351.7 137.3h0M341.2 147.2h0M348.8 110.5h0M346.9 148.4h0M343.1 95.5h0M341.8 116.0h0M342.5 118.9h0" stroke="#888" stroke-width="2.4"/><path d="M347.7 103.5h0M344.7 96.7h0M350.9 119.4h0M352.4 119.5h0M353.5 150.9h0M344.7 124.2h0M351.2 136.5h0M349.6 110.6h0M346.5 144.3h0M353.5 132.3h0M345.2 149.8h0M341.8 158.1h0M344.4 102.6h0M350.9 107.9h0M355.9 159.8h0M343.2 139.8h0M342.3 156.0h0M345.6 102.0h0M350.9 112.3h0M348.8 111.4h0M350.1 155.3h0M342.6 129.1h0M342.4 136.7h0M346.1 126.9h0M347.7 94.7h0M344.9 91.4h0M348.1 98.9h0M349.8 154.3h0M346.3 141.5h0M347.3 138.5h0M348.2 137.0h0M351.4 115.7h0M352.2 116.7h0M342.8 104.6h0M343.5 157.5h0M345.5 139.3h0M348.8 130.0h0M342.2 156.0h0M349.6 142.9h0M347.8 159.2h0M342.3 98.9h0M343.0 124.5h0M344.6 102.4h0M347.1 132.5h0M343.2 107.0h0M347.7 127.9h0M344.3 147.8h0M340.9 157.3h0M344.9 156.9h0M352.3 148.9h0M344.2 100.6h0M350.9 141.8h0M346.7 142.9h0M353.8 132.6h0M342.9 92.5h0M355.7 157.1h0M352.2 148.1h0M349.1 154.3h0M350.7 123.1h0M342.9 150.2h0M347.5 144.0h0M345.9 149.5h0M349.9 116.9h0M351.8 125.9h0M344.6 102.7h0M348.4 99.6h0M352.1 119.6h0M345.5 120.0h0M347.3 159.9h0M343.5 133.3h0M350.2 139.7h0M349.3 149.1h0M347.1 149.5h0M347.4 122.1h0M343.3 91.4h0M344.0 102.4h0M350.6 138.9h0M346.2 100.0h0M353.8 142.8h0M348.4 139.6h0M343.0 150.6h0M350.6 145.2h0M344.3 131.7h0M349.3 132.0h0M343.3 148.1h0M346.3 97.4h0M351.6 159.6h0M351.7 137.3h0M341.2 147.2h0M348.8 110.5h0M346.9 148.4h0M343.1 95.5h0M341.8 116.0h0M342.5 118.9h0" stroke="#ffffff" stroke-width="1.7"/><path d="M342.2 103.4h0M344.4 132.2h0M344.3 89.7h0M351.6 123.9h0M350.8 125.4h0M345.3 108.0h0M351.3 156.6h0M345.3 107.3h0M353.3 153.4h0M344.5 156.4h0M343.8 108.5h0M350.1 101.3h0M346.4 118.6h0M347.9 108.6h0M346.8 131.9h0M344.4 92.1h0M343.6 102.5h0M342.3 144.6h0M349.5 158.3h0M344.0 146.1h0M345.4 142.7h0M346.6 118.4h0M341.8 121.3h0M353.0 131.2h0M343.3 89.9h0M342.3 95.7h0M346.5 145.9h0M350.6 110.4h0M341.6 129.9h0M342.9 144.0h0M346.6 130.5h0M352.1 136.7h0M342.8 118.3h0M350.1 125.4h0M349.4 104.1h0M345.6 159.5h0M345.7 90.5h0M346.4 99.8h0M342.0 109.3h0M350.1 109.1h0M349.5 142.0h0M350.7 158.1h0M343.8 150.5h0M350.0 141.9h0M342.9 134.4h0M342.4 136.7h0M346.6 159.1h0M348.9 115.3h0M343.8 100.9h0M349.8 99.2h0M344.3 158.0h0M346.8 157.5h0M346.9 146.7h0M348.8 154.1h0M348.2 116.4h0M344.7 142.7h0M351.5 119.0h0M344.3 102.7h0M349.3 107.0h0M346.2 141.3h0M350.9 149.8h0M352.7 148.0h0M343.1 113.2h0M346.6 117.0h0M346.2 123.9h0M346.2 126.8h0M348.4 158.2h0M349.9 157.6h0M344.0 111.8h0M342.8 134.3h0M343.5 150.1h0M349.7 132.8h0M350.1 158.8h0M346.0 133.7h0M343.0 119.7h0M349.1 95.5h0M345.8 108.9h0M354.8 156.9h0M345.0 114.9h0M344.4 131.3h0M347.3 153.7h0" stroke="#9cc" stroke-width="2.4"/><path d="M342.2 103.4h0M344.4 132.2h0M344.3 89.7h0M351.6 123.9h0M350.8 125.4h0M345.3 108.0h0M351.3 156.6h0M345.3 107.3h0M353.3 153.4h0M344.5 156.4h0M343.8 108.5h0M350.1 101.3h0M346.4 118.6h0M347.9 108.6h0M346.8 131.9h0M344.4 92.1h0M343.6 102.5h0M342.3 144.6h0M349.5 158.3h0M344.0 146.1h0M345.4 142.7h0M346.6 118.4h0M341.8 121.3h0M353.0 131.2h0M343.3 89.9h0M342.3 95.7h0M346.5 145.9h0M350.6 110.4h0M341.6 129.9h0M342.9 144.0h0M346.6 130.5h0M352.1 136.7h0M342.8 118.3h0M350.1 125.4h0M349.4 104.1h0M345.6 159.5h0M345.7 90.5h0M346.4 99.8h0M342.0 109.3h0M350.1 109.1h0M349.5 142.0h0M350.7 158.1h0M343.8 150.5h0M350.0 141.9h0M342.9 134.4h0M342.4 136.7h0M346.6 159.1h0M348.9 115.3h0M343.8 100.9h0M349.8 99.2h0M344.3 158.0h0M346.8 157.5h0M346.9 146.7h0M348.8 154.1h0M348.2 116.4h0M344.7 142.7h0M351.5 119.0h0M344.3 102.7h0M349.3 107.0h0M346.2 141.3h0M350.9 149.8h0M352.7 148.0h0M343.1 113.2h0M346.6 117.0h0M346.2 123.9h0M346.2 126.8h0M348.4 158.2h0M349.9 157.6h0M344.0 111.8h0M342.8 134.3h0M343.5 150.1h0M349.7 132.8h0M350.1 158.8h0M346.0 133.7h0M343.0 119.7h0M349.1 95.5h0M345.8 108.9h0M354.8 156.9h0M345.0 114.9h0M344.4 131.3h0M347.3 153.7h0" stroke="#cfeef5" stroke-width="1.7"/><path d="M347.8 98.7h0M343.4 152.2h0M348.4 139.5h0M346.5 113.2h0M341.3 141.5h0M353.7 152.0h0M350.3 146.9h0M346.3 138.7h0M348.5 102.9h0M349.0 107.1h0M342.3 130.9h0M353.6 131.7h0M346.1 128.7h0M350.2 148.7h0M344.4 115.4h0M346.9 141.7h0M349.5 119.9h0M353.5 137.5h0M342.9 122.5h0M346.2 131.4h0M349.4 114.1h0M342.0 107.1h0M352.3 153.1h0M353.5 133.3h0M342.2 89.3h0M344.2 130.6h0M348.9 136.1h0M343.9 130.6h0M342.3 117.6h0M349.1 132.4h0M344.5 114.2h0M344.9 115.4h0M341.6 126.9h0M346.9 124.2h0M347.2 93.2h0M345.8 93.0h0M343.3 147.7h0M349.1 158.6h0M345.5 143.7h0M351.0 123.6h0M344.7 155.1h0M349.0 100.3h0M346.4 128.6h0M342.1 161.0h0M350.5 106.8h0M347.2 128.2h0M348.5 131.4h0M350.6 137.1h0M345.9 115.5h0M348.3 115.0h0M351.0 153.1h0M346.8 130.5h0M346.5 100.4h0M349.8 126.9h0M344.2 97.3h0M349.5 151.2h0M349.7 125.1h0M344.9 130.1h0M349.2 143.2h0M345.7 118.9h0M351.5 150.8h0M350.8 118.7h0M349.6 119.2h0M345.1 129.9h0M346.7 109.7h0M344.0 108.8h0M346.7 138.8h0M340.8 152.4h0M345.5 122.3h0M346.7 130.5h0M349.6 156.5h0M350.3 146.0h0M353.0 136.5h0M343.1 128.0h0M343.0 106.1h0M348.0 132.6h0" stroke="#8fbf8f" stroke-width="2.4"/><path d="M333.9 118.5h0M336.8 131.4h0M336.4 91.0h0M334.1 147.1h0M335.7 101.5h0M335.5 138.6h0M335.7 103.5h0M336.3 156.6h0M335.9 102.3h0M333.2 116.7h0M333.4 110.1h0M333.4 122.2h0M337.5 129.2h0M332.8 94.4h0M337.4 135.6h0M336.7 121.1h0M334.5 140.7h0M334.4 144.2h0M335.5 94.6h0M337.6 135.1h0M333.8 101.7h0M337.6 136.3h0M335.6 130.9h0M336.7 133.8h0" stroke="#b32424" stroke-width="2.4"/><path d="M331.9 107.8h0M331.0 111.5h0M331.9 115.5h0M331.4 115.0h0M334.4 108.5h0M326.6 109.2h0M329.6 107.7h0M332.8 114.2h0M331.7 106.4h0M335.8 103.6h0M335.8 105.8h0M329.4 110.5h0M329.1 115.3h0M330.3 102.3h0M331.7 108.6h0M329.0 113.5h0M327.4 107.5h0M330.9 116.3h0M334.1 118.8h0M333.1 115.8h0M334.3 106.7h0M334.0 103.9h0M325.8 107.4h0M332.0 103.7h0M329.8 115.3h0M334.1 113.2h0M331.5 113.9h0M326.1 110.1h0M333.8 106.4h0M330.2 114.5h0M330.5 106.9h0M331.4 108.9h0M332.7 113.6h0M332.7 110.4h0M332.5 111.4h0M335.8 106.1h0M328.9 104.9h0M334.0 104.5h0M335.8 108.0h0M331.8 115.7h0M328.6 105.9h0M327.8 113.1h0M332.9 113.0h0M329.3 117.4h0M334.0 110.5h0M330.6 106.4h0M327.5 106.9h0M333.4 105.9h0" stroke="#98f098" stroke-width="2.4"/><path d="M322.8 126.3h0M322.2 118.6h0M331.4 129.9h0M330.6 136.3h0M323.5 131.3h0M327.5 140.8h0M324.2 123.2h0M330.3 145.3h0M327.8 130.3h0M322.3 129.7h0M330.2 135.4h0M332.5 133.5h0M332.5 134.6h0M325.1 133.6h0M324.6 142.0h0M330.0 128.7h0M328.2 125.5h0M332.1 132.8h0M333.2 126.2h0M323.0 137.2h0M327.4 126.7h0M324.8 150.2h0M326.3 145.9h0M324.1 137.0h0M327.4 147.0h0M324.6 145.3h0" stroke="#9fd8ee" stroke-width="2.4"/><path d="M315.0 148.7h0M320.6 146.7h0M314.8 144.6h0M323.4 144.4h0M322.5 156.3h0M323.0 145.3h0M328.9 152.5h0M322.3 152.9h0M319.6 154.9h0M318.0 152.2h0M322.4 156.5h0M322.8 154.4h0M313.4 155.6h0M317.6 141.0h0M324.2 144.4h0M323.5 145.3h0M322.7 144.6h0M321.2 153.9h0M327.5 153.8h0M312.7 150.2h0M317.5 152.3h0M312.1 151.7h0M320.2 140.3h0M325.9 144.4h0M328.7 155.8h0M313.1 152.4h0M316.2 143.4h0M327.6 153.9h0M329.2 146.5h0M314.9 146.0h0M326.4 152.1h0M325.6 145.2h0M319.2 153.8h0M314.4 146.1h0M323.5 142.4h0M317.9 150.8h0M326.8 145.7h0M311.8 148.4h0M322.3 153.2h0M325.5 151.7h0M311.6 154.5h0M330.3 144.4h0M311.8 146.5h0M312.2 155.1h0M330.0 151.9h0M313.6 143.0h0M310.6 155.7h0M316.6 150.8h0M312.1 153.5h0M315.8 156.9h0M317.5 145.0h0M313.2 154.5h0M312.6 145.3h0M327.9 147.4h0M321.6 148.7h0M314.9 141.8h0M316.7 154.8h0M315.2 146.5h0M316.2 151.8h0M315.7 145.8h0M325.9 148.4h0M316.6 143.4h0M328.1 142.6h0M311.5 155.0h0M309.5 144.4h0M316.6 141.8h0M319.6 146.3h0M326.7 154.2h0M324.4 141.3h0M325.9 140.9h0M311.6 156.5h0M312.4 143.7h0M310.2 154.2h0M309.9 147.7h0M311.9 145.2h0M320.3 156.3h0M315.6 148.8h0M316.2 149.6h0M312.8 152.8h0M317.3 147.0h0M317.7 144.1h0M318.6 153.9h0M328.7 155.3h0M316.0 145.1h0M318.2 144.2h0M314.2 153.1h0M310.5 149.4h0M312.1 156.6h0M316.6 148.5h0M314.6 142.2h0M312.1 146.7h0M327.5 147.6h0M327.3 150.8h0M311.2 144.4h0M309.5 144.9h0" stroke="#ffff1e" stroke-width="2.4"/><path d="M333.6 154.2h0M329.6 156.3h0M319.2 159.7h0M331.8 158.5h0M327.1 155.0h0M327.9 156.8h0M334.4 155.2h0M332.6 161.3h0M327.5 155.1h0M324.7 154.6h0M329.9 159.5h0M331.0 158.8h0M329.5 159.6h0M329.9 160.5h0M320.9 156.3h0M329.0 159.1h0M333.4 161.2h0M331.4 154.4h0M334.3 150.9h0M329.6 159.1h0M332.7 159.3h0M334.0 155.7h0M329.7 157.0h0M334.2 157.1h0M329.9 156.1h0M327.1 160.1h0M328.8 160.2h0M328.2 150.4h0M334.1 160.8h0M320.8 154.8h0M321.8 153.3h0M331.4 151.9h0M318.8 157.2h0M326.0 160.6h0M328.1 160.6h0M325.4 156.0h0M327.1 154.3h0M331.6 153.2h0M333.2 159.1h0M323.5 159.3h0M321.4 158.2h0M330.8 158.2h0M333.9 155.5h0M334.0 157.9h0M329.6 158.9h0M330.1 158.3h0M317.3 152.3h0M319.9 159.6h0M329.5 157.7h0M333.3 158.2h0M334.2 152.2h0M331.1 156.5h0M308.2 156.3h0M326.0 154.9h0M329.6 154.8h0M329.6 156.6h0M315.5 150.1h0M327.0 158.4h0M310.0 160.5h0M331.4 156.3h0M318.7 160.3h0M333.0 156.4h0M331.4 160.0h0M332.3 159.8h0M327.0 158.8h0M329.9 154.8h0M328.7 153.2h0M320.2 161.0h0M333.4 155.7h0M321.3 160.7h0M331.4 152.3h0M329.1 157.6h0M334.2 158.0h0M330.8 160.4h0M326.8 161.3h0M313.8 153.3h0M328.5 152.1h0M319.5 155.4h0M327.1 160.1h0M328.8 158.2h0M329.3 158.0h0M318.6 158.8h0M324.0 157.0h0M313.0 159.6h0M328.0 154.6h0M315.9 160.0h0M333.3 153.8h0M333.3 159.0h0M331.4 155.6h0M328.8 158.4h0M328.4 159.1h0M330.6 157.0h0M333.6 157.5h0M329.2 159.0h0M331.8 158.5h0M332.4 160.2h0M321.2 155.0h0M330.9 159.4h0M323.9 159.8h0M359.5 157.6h0M349.4 145.0h0M347.2 159.0h0M358.2 144.8h0M353.1 145.9h0M351.3 151.8h0M349.4 155.1h0M349.0 147.5h0M348.5 159.5h0M344.5 157.9h0M355.4 145.8h0M357.3 143.4h0M359.8 150.3h0M354.6 151.4h0M343.4 144.4h0M345.4 152.2h0M350.5 154.1h0M359.7 154.1h0M349.3 156.8h0M355.2 152.2h0M356.5 156.9h0M354.7 151.0h0M350.3 152.2h0M357.5 159.5h0M360.0 160.9h0M360.0 143.5h0M354.7 158.8h0M350.7 159.9h0M343.9 159.1h0M351.6 152.3h0M356.6 148.5h0M347.0 144.0h0M345.2 159.7h0M352.9 151.0h0" stroke="#ff9a00" stroke-width="2.4"/><path d="M328.1 91.5h0M330.6 77.7h0M331.2 88.2h0M333.2 95.8h0M329.1 102.5h0M333.6 86.9h0M331.2 77.1h0M330.5 78.0h0M325.1 90.7h0M330.7 84.0h0M327.5 87.0h0M331.3 87.9h0M330.7 88.7h0M334.6 100.0h0M325.8 104.2h0M331.5 79.9h0M325.4 78.4h0M329.6 82.1h0M330.1 83.6h0M329.0 91.0h0M329.0 93.8h0M333.6 89.9h0M330.6 95.1h0M335.1 104.0h0M324.7 88.9h0M327.7 78.9h0M326.9 97.3h0M330.2 77.6h0M324.7 90.7h0M330.0 80.3h0M326.2 101.5h0M331.1 99.7h0M327.2 94.7h0M325.9 79.9h0M325.8 104.1h0M328.5 93.6h0M330.5 83.1h0M331.0 88.3h0M326.2 99.9h0M333.5 97.9h0M329.4 77.9h0M324.7 95.3h0M328.6 93.3h0M328.5 102.0h0M326.1 102.1h0M325.9 89.4h0M325.3 99.6h0M330.2 100.0h0M325.8 81.3h0M331.4 87.0h0M331.3 94.5h0M331.8 97.7h0M326.1 81.7h0M330.0 83.7h0M326.9 87.8h0M333.3 98.8h0M327.9 97.7h0M330.3 81.1h0M332.8 80.7h0M324.8 83.2h0M334.6 101.1h0M331.6 78.8h0M331.8 97.1h0M334.6 89.1h0M330.5 81.1h0M332.2 81.7h0M328.1 85.3h0M334.7 96.8h0M330.6 93.6h0M332.4 84.6h0M328.1 95.6h0M330.3 79.8h0M330.0 96.1h0M326.7 98.9h0M328.5 93.5h0M334.0 84.3h0M326.7 99.6h0M331.9 89.1h0M331.2 88.3h0M331.2 81.1h0M323.1 84.7h0M318.3 92.1h0M323.8 94.6h0M317.9 94.9h0M320.4 82.4h0M325.6 97.2h0M315.9 87.3h0M323.8 84.9h0M319.9 93.7h0M317.9 87.7h0M318.9 92.9h0M319.1 88.2h0M315.1 83.2h0M319.9 88.3h0M320.5 93.9h0M325.4 85.3h0M324.5 92.0h0M321.6 95.8h0M316.2 95.7h0M324.7 81.4h0M321.6 93.4h0M324.9 80.9h0M312.6 133.0h0M317.4 116.6h0M327.6 104.7h0M323.2 129.5h0M314.4 127.2h0M322.5 119.7h0M328.3 124.7h0M325.3 116.5h0M328.2 127.8h0M318.8 104.9h0M323.7 106.2h0M328.1 95.2h0M329.0 130.0h0M316.3 127.9h0M327.9 125.2h0M326.3 107.9h0M319.1 115.2h0M313.3 96.6h0M318.0 124.6h0M323.2 119.4h0M312.6 127.4h0M312.6 125.3h0M324.8 99.9h0M329.3 107.2h0M315.6 95.8h0M330.0 102.5h0M314.5 95.4h0M317.5 120.8h0M326.7 126.1h0M324.6 113.5h0M319.1 132.8h0M317.6 96.3h0M313.6 128.7h0M328.9 130.1h0M322.9 115.3h0M316.0 113.1h0M313.1 113.8h0M329.0 103.9h0M315.4 125.1h0M327.2 114.1h0M326.2 95.9h0M318.8 121.3h0M320.6 93.9h0M324.5 98.1h0M330.2 93.2h0M316.8 109.1h0M316.3 119.8h0M315.1 97.8h0M315.8 131.1h0M315.1 125.3h0M329.1 100.3h0M314.2 130.0h0M330.2 102.6h0M321.8 112.2h0M330.4 126.2h0M330.3 110.0h0M313.9 133.7h0M320.7 113.8h0M328.3 119.9h0M320.5 119.4h0M307.9 119.3h0M310.9 100.8h0M307.8 119.7h0M303.9 109.5h0M308.6 112.0h0M303.5 126.1h0M307.2 110.4h0M309.3 113.6h0" stroke="#0a0aff" stroke-width="2.4"/><path d="M378.9 110.7h0M350.7 89.8h0M386.1 109.2h0M355.0 85.7h0M349.6 110.8h0M354.1 103.0h0M348.7 83.6h0M359.5 81.0h0M359.4 92.2h0M350.8 118.4h0M397.0 93.5h0M357.8 100.1h0M364.4 74.8h0M350.9 100.0h0M368.2 87.2h0M355.8 92.5h0M361.6 81.4h0M352.3 96.8h0M356.2 118.8h0M349.7 87.0h0M348.3 82.5h0M367.5 101.3h0M359.9 91.0h0M355.9 80.3h0M363.7 74.6h0M381.3 93.3h0M363.7 79.5h0M387.0 116.9h0M351.8 99.7h0M350.8 112.5h0M367.0 75.8h0M370.1 86.4h0M365.8 98.9h0M353.2 75.3h0M358.5 105.8h0M351.0 104.1h0M368.1 96.3h0M358.4 75.8h0M354.1 87.3h0M352.2 79.4h0M353.1 92.8h0M365.2 105.5h0M351.0 116.5h0M365.3 109.6h0M398.1 79.4h0M354.8 110.3h0M351.7 97.8h0M372.2 109.3h0M357.7 92.1h0M368.9 83.0h0M364.3 106.8h0M361.7 74.5h0M373.7 98.2h0M351.0 111.5h0M368.7 109.1h0M382.0 112.3h0M351.2 117.9h0M350.1 115.6h0M368.7 101.0h0M360.4 118.7h0M370.3 89.8h0M398.5 83.0h0M357.8 105.9h0M364.9 78.9h0M379.0 108.3h0M355.8 104.7h0M372.5 117.9h0M367.5 84.6h0M348.5 84.9h0M356.8 79.7h0M360.3 105.7h0M352.8 119.7h0M378.8 76.8h0M371.5 110.8h0M356.1 115.6h0M348.7 80.4h0M355.3 111.3h0M358.1 77.0h0M356.5 85.2h0M353.4 109.2h0M350.0 81.2h0M355.8 91.5h0M367.4 111.6h0M357.3 105.1h0M352.2 91.1h0M353.1 85.7h0M352.2 96.5h0M352.3 110.7h0M352.6 107.8h0M355.8 114.0h0M357.4 79.9h0M360.3 78.1h0M357.5 84.8h0M361.7 80.9h0M360.9 91.8h0M358.9 90.5h0M400.5 106.6h0M355.8 99.2h0M354.4 110.8h0M352.8 83.8h0M354.1 94.6h0M356.2 110.1h0M348.9 117.3h0M355.2 78.2h0M348.8 117.9h0M351.1 90.8h0M352.2 112.6h0M354.1 113.6h0M352.2 91.9h0M359.6 107.9h0M352.2 97.7h0M354.6 104.6h0M350.1 105.6h0M368.8 101.1h0M352.3 118.2h0M354.3 78.1h0M360.0 109.9h0M349.4 84.2h0M356.7 103.9h0M350.6 74.1h0M358.9 86.0h0M355.1 108.3h0M361.7 80.3h0M354.9 80.5h0M378.4 84.1h0M362.2 88.6h0M351.1 89.8h0M352.1 80.6h0M349.2 104.1h0M349.5 109.6h0M367.9 115.4h0M355.7 114.2h0M365.2 113.0h0M351.9 92.3h0M373.8 101.9h0M365.6 104.1h0M365.5 93.5h0M350.1 103.8h0M352.2 73.7h0M356.6 87.3h0M367.3 75.0h0M353.4 96.5h0M353.0 80.7h0M358.5 82.1h0M348.2 85.2h0M360.8 78.6h0M351.9 114.0h0M363.9 88.7h0M356.7 116.0h0M378.0 86.2h0M350.1 87.1h0M352.0 98.5h0M356.1 86.7h0M352.8 112.0h0M367.0 74.1h0M367.2 84.3h0M355.9 78.4h0M351.3 77.4h0M362.4 98.5h0M352.4 110.5h0M360.5 101.6h0M402.6 102.8h0M349.5 87.5h0M353.5 85.6h0M364.0 87.9h0M359.9 111.3h0M359.8 76.9h0M352.4 74.1h0M358.2 113.8h0M376.4 84.0h0M363.2 104.2h0M357.1 114.4h0M350.4 86.0h0M356.6 76.3h0M361.6 99.9h0M370.8 106.9h0M363.1 98.8h0M366.5 93.8h0M369.3 114.1h0M368.7 91.3h0M356.3 114.4h0M360.3 113.8h0M360.0 77.1h0M362.2 84.4h0M365.8 80.9h0M366.4 108.3h0M365.9 88.3h0M352.2 119.7h0M348.9 94.1h0M373.6 119.3h0M363.4 102.1h0M364.7 90.1h0M358.8 85.4h0M351.4 86.8h0M351.9 97.0h0M361.3 110.8h0M361.1 74.3h0M366.8 106.5h0M357.2 87.4h0M349.7 76.3h0M350.6 83.5h0M354.8 81.0h0M365.9 102.4h0M381.8 101.9h0M378.5 97.3h0M385.9 116.8h0M389.0 93.7h0M356.5 109.5h0M352.6 73.8h0M352.0 88.3h0M359.3 88.0h0M359.7 114.4h0M357.1 107.3h0M352.1 91.5h0M357.7 85.5h0M356.0 96.5h0M366.5 85.4h0M351.0 83.5h0M353.7 96.0h0M405.4 107.0h0M372.6 100.0h0M388.1 96.3h0M356.9 94.6h0M372.4 88.4h0M360.3 85.8h0M365.7 100.3h0M360.3 107.8h0M368.4 78.1h0M364.4 104.4h0M355.5 108.4h0M357.3 109.1h0M365.3 96.3h0M352.9 113.7h0M349.8 80.7h0M363.5 93.0h0M361.0 98.3h0M389.6 84.3h0M354.4 88.5h0M364.3 117.5h0M352.1 82.3h0M352.2 101.3h0M358.2 81.5h0M364.1 74.9h0M352.9 87.5h0M355.7 93.7h0M362.2 87.5h0M379.5 78.5h0M393.6 96.8h0M387.6 115.3h0M353.5 105.1h0M363.1 87.5h0M366.2 91.7h0M351.8 92.5h0M352.7 118.1h0M381.2 112.1h0M354.5 97.8h0M383.4 121.2h0M385.0 96.0h0M363.8 91.0h0M356.8 82.1h0M365.3 103.6h0M378.2 101.2h0M363.8 110.7h0M352.5 84.0h0M358.1 110.7h0M351.4 110.8h0M374.6 109.5h0M359.2 106.0h0M350.7 90.5h0M353.7 75.8h0M371.3 80.2h0M372.2 97.6h0M362.5 77.0h0M359.7 110.4h0M356.4 101.5h0M369.8 101.9h0M349.7 80.5h0M350.7 115.9h0M384.5 120.8h0M359.7 94.4h0M350.7 101.0h0M354.6 108.7h0M374.0 78.8h0M356.3 119.5h0M350.9 110.7h0M351.9 94.2h0M358.7 89.5h0M364.6 92.9h0M358.8 97.9h0M349.9 92.2h0M369.6 97.7h0M364.3 77.6h0M357.7 90.7h0M353.6 96.8h0M369.0 88.5h0M369.6 79.0h0M393.7 107.2h0M356.3 104.3h0M357.2 93.7h0M366.0 96.8h0M373.5 78.1h0M371.3 115.7h0M359.7 103.0h0M351.7 93.7h0M354.6 95.9h0M374.8 117.7h0M379.1 91.2h0M351.8 86.0h0M366.2 117.7h0M353.4 80.8h0M365.3 84.5h0M365.7 87.2h0M354.8 76.3h0M353.1 87.7h0M355.2 79.4h0M356.0 77.4h0M367.4 97.3h0M375.2 119.3h0M350.7 82.4h0M411.7 95.3h0M350.4 107.8h0M361.2 93.1h0M348.2 116.8h0M368.0 81.9h0M368.0 99.7h0M351.6 91.8h0M351.5 104.4h0M361.5 114.4h0M353.6 97.4h0M366.9 87.8h0M359.5 145.1h0M377.1 124.8h0M373.3 134.6h0M352.1 136.2h0M367.5 126.1h0M367.8 138.0h0M356.6 138.4h0M368.2 121.7h0M357.3 123.9h0M359.4 119.0h0M351.2 137.7h0M356.4 132.7h0M358.0 130.4h0M361.4 123.9h0M355.7 139.9h0M352.4 132.6h0M363.0 122.8h0M357.6 115.9h0M351.5 135.1h0M369.4 131.1h0M363.9 128.8h0M353.7 136.3h0M366.0 135.9h0M357.4 119.1h0M358.0 135.7h0M352.6 147.6h0M364.3 121.5h0M349.8 126.0h0M389.5 131.7h0M354.1 134.8h0M357.0 142.5h0M355.5 116.6h0M362.1 134.1h0M357.2 139.9h0M368.5 141.7h0M353.8 120.1h0M353.0 141.0h0M352.9 121.9h0M363.4 147.2h0M351.1 133.4h0M385.8 134.0h0M380.4 122.5h0M356.6 115.6h0M364.1 118.4h0M351.4 139.0h0M365.8 117.3h0M368.8 139.5h0M362.3 137.0h0M371.5 135.6h0M358.5 121.3h0M360.5 135.6h0M360.9 139.7h0M363.4 120.5h0M361.7 118.3h0M373.4 123.8h0M354.0 127.7h0M353.7 148.4h0M360.3 118.2h0M351.1 120.8h0M357.6 148.6h0M349.3 143.2h0M373.0 140.1h0M353.8 118.4h0M354.6 115.9h0M349.6 119.0h0M363.3 124.5h0M360.0 129.2h0M357.1 136.8h0M363.3 118.8h0M351.8 142.9h0M361.5 118.7h0M352.9 141.4h0M359.2 119.9h0M350.1 119.1h0M351.5 140.7h0M360.8 116.0h0M380.1 126.8h0M354.3 149.5h0M363.3 135.4h0M379.2 134.1h0M363.7 124.5h0M364.4 124.3h0M374.5 120.7h0M369.7 134.4h0M355.6 138.3h0M360.2 125.6h0M385.3 123.9h0M359.2 145.4h0M378.0 127.6h0M357.5 143.2h0M358.9 138.1h0M371.6 131.3h0M353.1 119.9h0M355.7 124.6h0M352.3 141.3h0M354.5 144.2h0M357.0 137.7h0M355.0 132.0h0M366.2 141.6h0M352.5 130.4h0M351.1 148.8h0M356.4 139.4h0M383.3 121.0h0M351.9 144.6h0M356.6 130.3h0M371.6 125.9h0M355.4 132.7h0M353.0 135.9h0M365.8 119.4h0M365.7 116.8h0M364.3 134.2h0M352.8 148.1h0M373.3 126.2h0M371.4 128.9h0M351.1 136.6h0M354.0 148.7h0M364.7 122.7h0M352.7 121.6h0M385.8 132.8h0M362.6 118.4h0M359.0 128.3h0M353.0 131.2h0M356.7 139.1h0M380.0 121.8h0M360.8 122.0h0M351.7 117.4h0M367.2 119.0h0M373.4 116.1h0M353.5 135.2h0M402.6 124.0h0M351.4 140.0h0M355.4 123.6h0M350.0 118.0h0M356.2 145.5h0M350.4 149.1h0M364.3 139.6h0M368.4 143.6h0M351.6 129.8h0M350.8 131.9h0M368.8 123.3h0M363.6 128.0h0M357.7 126.8h0M355.8 131.5h0M358.9 120.8h0M406.0 133.6h0M357.2 136.4h0M356.9 121.6h0M354.4 149.5h0M355.9 138.8h0M371.3 118.4h0M376.4 123.7h0M351.0 127.1h0M375.8 141.5h0M376.8 122.7h0M349.5 126.2h0M370.2 124.5h0M385.1 134.0h0M361.6 128.3h0M387.3 127.1h0M367.0 131.4h0M352.1 116.1h0M348.9 138.6h0M361.3 117.1h0M353.5 129.2h0M352.9 132.6h0M350.9 130.5h0M357.0 140.0h0M353.4 144.5h0M352.7 138.4h0M359.8 127.5h0M349.3 121.9h0M355.2 143.1h0M366.9 135.1h0M361.3 144.4h0M350.6 142.4h0M353.2 137.0h0M349.6 143.7h0M351.2 137.7h0M366.2 129.5h0M364.8 128.8h0M356.6 140.9h0M353.6 125.0h0M353.8 146.0h0M350.1 133.6h0M380.6 134.7h0M364.1 132.6h0M379.5 121.9h0M349.7 124.8h0M352.5 132.4h0M374.1 143.9h0M354.9 137.0h0M359.4 141.2h0M357.8 131.1h0M377.6 143.3h0M355.1 149.2h0M351.6 132.8h0M371.3 133.4h0M358.1 144.5h0M357.3 148.8h0M372.2 118.7h0M352.4 143.0h0M363.0 139.0h0M356.7 122.6h0M379.8 141.2h0M352.8 142.6h0M351.8 132.9h0M350.7 140.3h0M352.4 142.8h0M363.9 122.9h0M353.4 124.4h0M360.6 136.3h0M360.6 128.7h0M363.1 125.4h0M353.3 134.7h0M385.8 117.6h0M349.3 132.5h0M369.0 115.8h0M357.6 118.2h0M355.1 126.4h0M362.7 119.4h0M354.6 117.7h0M352.0 127.0h0M362.4 128.3h0M349.9 120.9h0M351.0 147.8h0M378.7 142.5h0M364.5 143.6h0M349.3 149.0h0M354.2 135.6h0M362.5 122.0h0" stroke="#6ff5d6" stroke-width="2.4"/><path d="M343.3 95.9h0M345.4 96.3h0M343.9 109.8h0M349.2 102.0h0M346.2 100.9h0M350.6 107.8h0M348.4 112.3h0M347.4 121.0h0M347.4 113.2h0M344.3 115.5h0M350.6 108.0h0M349.8 100.3h0M349.4 121.1h0M343.8 101.1h0M349.6 109.5h0M345.4 93.9h0M346.1 100.7h0M346.2 98.7h0M349.3 113.4h0M347.6 122.0h0M343.5 112.8h0M347.7 125.4h0M344.7 90.4h0M343.5 123.4h0M347.4 117.3h0M349.6 111.8h0M345.6 117.0h0M343.6 93.6h0M350.4 120.8h0M348.6 106.8h0M345.4 89.6h0M345.8 90.0h0M350.7 119.7h0M347.7 112.0h0M349.2 103.9h0M347.4 122.5h0M343.8 109.1h0M350.1 110.4h0M349.7 101.6h0M350.0 101.1h0M350.6 103.9h0M347.7 95.2h0M349.5 125.1h0M348.4 111.9h0M349.1 97.5h0M343.6 117.6h0M348.5 111.2h0M343.5 113.2h0M348.8 115.5h0M344.6 115.7h0M346.8 114.2h0M348.6 116.2h0M344.6 95.2h0M345.3 108.7h0M344.3 122.3h0M343.8 93.7h0M346.6 112.6h0M344.4 100.5h0M346.4 114.2h0M346.7 119.1h0M346.5 108.3h0M343.8 98.1h0M344.1 96.6h0M345.0 99.5h0M348.3 106.0h0M344.6 122.4h0M347.7 120.0h0M347.4 95.0h0M346.4 122.2h0M346.4 110.0h0M350.2 122.1h0M345.5 106.4h0M346.7 92.8h0M350.3 120.7h0M346.8 123.7h0M345.3 100.7h0M344.3 102.3h0M349.1 102.7h0M346.0 125.4h0M348.2 94.5h0M347.8 114.0h0M350.4 107.4h0M344.5 96.9h0M345.1 104.7h0M349.0 126.2h0" stroke="#19e619" stroke-width="2.4"/><path d="M352.9 110.3h0M354.4 147.7h0M343.9 106.8h0M347.7 108.1h0M345.6 102.8h0M354.1 128.0h0M352.5 96.1h0M349.9 127.8h0M344.2 111.4h0M353.7 131.3h0M348.1 102.2h0M343.6 132.7h0M349.0 123.0h0M351.5 120.2h0M352.4 118.3h0M349.2 108.1h0M346.2 119.0h0M351.3 144.7h0M352.8 130.3h0M351.5 130.2h0M346.9 145.8h0M352.2 98.7h0M352.1 105.3h0M345.1 123.1h0M352.4 132.7h0M346.3 117.4h0M354.2 103.8h0M354.0 126.3h0M346.5 118.9h0M348.5 135.3h0M352.7 131.9h0M353.3 130.5h0M343.7 101.7h0M345.4 110.3h0M349.0 142.9h0M353.9 145.1h0M353.3 111.1h0M347.4 114.7h0M348.2 142.1h0M345.9 141.6h0M352.1 120.2h0M350.4 101.9h0M353.0 99.1h0M345.3 102.0h0M346.5 140.4h0M346.6 109.0h0M351.7 118.5h0M344.2 97.8h0M351.3 131.1h0M353.0 98.6h0M347.8 113.8h0M346.5 111.9h0M351.2 123.3h0M352.5 144.6h0M347.6 101.7h0M352.2 147.2h0M349.4 103.6h0M348.5 117.8h0M344.7 145.6h0M354.8 142.7h0" stroke="#0a6a14" stroke-width="2.4"/><path d="M352.7 103.8h0M353.4 97.3h0M350.5 101.2h0M352.8 108.4h0M350.8 94.5h0M352.8 103.0h0M349.0 89.7h0M351.0 107.1h0M349.8 112.2h0M349.5 89.6h0M351.3 106.0h0M351.9 94.8h0M352.8 95.0h0M352.8 90.5h0M356.2 98.8h0M352.7 91.9h0M349.3 103.2h0M356.2 96.0h0M352.1 99.8h0M353.8 103.0h0M353.0 92.7h0M354.3 97.1h0M353.2 100.3h0M354.2 90.8h0M352.4 93.2h0M349.4 92.7h0M349.7 98.5h0M353.7 94.6h0M352.6 104.5h0M352.4 102.2h0M355.7 101.0h0M352.0 92.6h0M349.5 104.9h0M352.1 92.5h0M350.7 97.2h0M348.5 102.0h0M354.1 99.0h0M355.3 89.5h0M351.7 98.1h0M352.3 103.1h0M350.8 107.2h0M355.3 105.8h0M348.5 94.2h0M349.6 92.8h0M350.9 96.1h0M351.8 100.2h0M356.1 101.0h0M352.9 109.9h0M349.8 98.1h0M353.2 112.3h0M350.0 99.3h0M350.7 93.9h0M354.2 103.2h0M350.6 109.1h0M354.1 101.5h0M351.0 91.0h0M349.8 97.6h0M349.0 92.0h0M349.8 93.7h0M348.4 109.5h0M352.6 106.7h0M351.3 111.3h0M349.5 99.0h0M351.6 90.5h0M353.0 107.4h0M353.7 103.7h0M356.1 105.6h0M354.0 92.1h0M349.1 107.9h0M353.1 90.4h0M355.5 96.2h0M351.8 106.5h0M351.9 94.9h0M355.8 89.3h0M349.9 91.8h0M352.1 100.4h0M353.7 102.0h0M352.0 109.6h0M349.8 98.9h0M350.3 101.3h0M356.0 94.2h0M350.6 105.6h0M350.8 108.5h0M353.7 105.7h0M350.0 106.0h0M352.0 95.0h0M348.6 110.1h0M353.2 112.2h0M349.6 94.0h0M348.4 102.6h0M353.8 94.8h0M352.5 105.8h0M350.4 96.1h0M355.3 91.2h0M350.8 105.4h0M353.4 113.1h0M354.0 97.2h0M349.7 111.6h0M356.1 99.5h0M349.4 92.4h0M352.3 106.8h0M349.4 110.6h0M355.0 98.3h0M348.9 91.6h0M354.0 104.8h0M356.3 103.6h0M351.7 107.0h0M355.8 92.5h0M354.9 97.4h0M352.7 111.5h0M351.5 101.3h0M353.4 97.7h0M350.0 102.0h0M355.6 93.8h0M353.9 101.5h0M355.9 89.3h0M352.5 111.8h0M352.7 89.8h0M352.1 112.2h0M349.7 94.7h0M351.6 94.2h0M349.6 95.7h0M354.1 89.9h0M352.8 103.8h0M348.6 104.7h0M355.3 98.3h0M351.6 111.9h0M349.6 93.9h0M351.7 93.5h0M348.5 90.0h0M353.7 92.1h0M349.7 109.3h0M355.1 99.2h0M350.3 109.6h0M352.1 96.5h0M350.0 98.7h0M350.0 97.2h0M350.5 96.3h0M351.9 113.3h0M351.0 100.2h0M355.8 106.1h0M349.8 106.9h0M350.4 106.5h0M356.0 90.5h0M351.5 91.5h0M351.2 100.8h0M354.8 97.0h0M355.8 102.8h0M351.6 90.9h0M351.1 95.4h0M351.7 101.1h0M349.5 107.9h0M354.9 104.1h0M356.0 104.1h0M351.7 104.9h0M354.9 92.4h0M355.0 100.2h0M350.2 103.8h0M354.7 99.4h0M348.8 90.2h0M356.1 104.3h0M349.0 103.4h0M354.6 99.8h0M353.5 104.2h0M355.6 102.3h0M349.2 95.0h0M350.1 96.5h0M354.5 93.2h0M355.6 102.1h0M353.6 89.2h0M352.9 110.9h0M351.6 107.4h0M349.6 94.8h0M352.1 106.6h0M355.2 96.1h0M348.5 92.2h0M354.7 97.7h0M352.0 106.1h0M350.8 107.0h0M349.4 102.3h0" stroke="#f07272" stroke-width="2.4"/><path d="M349.9 110.5h0" stroke="#19e619" stroke-width="2.4"/><path d="M344.4 115.9h0" stroke="#0a6a14" stroke-width="2.4"/><path d="M345.0 91.5h0M347.8 103.8h0M351.3 91.8h0" stroke="#19e619" stroke-width="2.4"/><path d="M351.3 118.2h0M350.7 119.3h0" stroke="#0a6a14" stroke-width="2.4"/><path d="M351.2 113.7h0" stroke="#19e619" stroke-width="2.4"/><path d="M347.5 97.4h0" stroke="#0a6a14" stroke-width="2.4"/><path d="M345.5 113.4h0M346.4 119.2h0" stroke="#19e619" stroke-width="2.4"/><path d="M344.6 123.2h0" stroke="#0a6a14" stroke-width="2.4"/><path d="M344.4 106.4h0M349.9 106.0h0" stroke="#19e619" stroke-width="2.4"/><path d="M348.5 122.9h0M351.1 97.8h0M351.4 109.4h0M351.4 119.3h0" stroke="#0a6a14" stroke-width="2.4"/><path d="M348.4 114.8h0" stroke="#19e619" stroke-width="2.4"/><path d="M347.6 111.2h0" stroke="#0a6a14" stroke-width="2.4"/><path d="M347.7 114.5h0M347.5 93.4h0" stroke="#19e619" stroke-width="2.4"/><path d="M345.2 120.3h0M350.6 99.2h0M348.9 110.9h0M346.6 111.7h0" stroke="#0a6a14" stroke-width="2.4"/><path d="M351.0 108.9h0M351.3 109.0h0" stroke="#19e619" stroke-width="2.4"/><path d="M349.9 112.8h0M348.5 107.5h0M346.4 91.6h0" stroke="#0a6a14" stroke-width="2.4"/><path d="M344.9 119.7h0" stroke="#19e619" stroke-width="2.4"/><path d="M351.9 122.7h0M346.1 111.4h0M350.9 118.8h0" stroke="#0a6a14" stroke-width="2.4"/><path d="M346.3 150.4h0M353.9 127.0h0M348.1 134.3h0M352.8 130.6h0M350.0 155.2h0M351.2 142.3h0M349.6 133.4h0M348.6 143.3h0M353.6 133.4h0M352.7 149.7h0M349.5 142.8h0M353.6 142.6h0M348.0 127.7h0M347.9 152.4h0M347.8 145.6h0M349.4 148.5h0M352.4 134.3h0M347.4 130.2h0M353.6 155.7h0M352.8 139.9h0M349.0 127.5h0M354.1 153.9h0M353.2 156.9h0M349.8 152.4h0M346.5 136.9h0M346.8 153.0h0M349.8 143.4h0M352.0 155.7h0M351.5 128.4h0M353.1 139.4h0M347.9 127.1h0M352.6 141.9h0M349.3 151.8h0M352.7 130.4h0M346.4 156.6h0M348.8 146.8h0M352.6 152.0h0M352.3 130.9h0M349.1 136.5h0M347.3 130.5h0M353.3 133.4h0M346.7 132.5h0M351.3 126.9h0M352.3 128.4h0M346.3 145.4h0" stroke="#f050f0" stroke-width="2.4"/><path d="M348.2 137.4h0M348.4 141.2h0M349.9 132.2h0M350.3 132.5h0M348.5 142.8h0M350.0 134.9h0M351.7 138.7h0M349.6 132.5h0M347.7 142.3h0M347.4 137.6h0M351.6 132.8h0M347.4 139.7h0M347.5 136.2h0M352.3 142.8h0M350.6 134.1h0M347.2 135.5h0M351.8 142.9h0M350.3 143.1h0M351.3 140.9h0M347.3 143.4h0M346.2 132.5h0M351.2 143.3h0M349.5 139.7h0M348.4 135.7h0M348.9 137.5h0" stroke="#5a8fc8" stroke-width="2.4"/><path d="M346.5 145.7h0" stroke="#c878e0" stroke-width="2.4"/><path d="M346.5 145.7h0" stroke="#ffffff" stroke-width="1.7"/><path d="M343.8 153.1h0" stroke="#b050d8" stroke-width="2.4"/><path d="M343.8 153.1h0" stroke="#ffffff" stroke-width="1.7"/><path d="M346.4 147.4h0" stroke="#c878e0" stroke-width="2.4"/><path d="M346.4 147.4h0" stroke="#ffffff" stroke-width="1.7"/><path d="M335.6 156.1h0" stroke="#b050d8" stroke-width="2.4"/><path d="M335.6 156.1h0" stroke="#ffffff" stroke-width="1.7"/><path d="M335.7 146.1h0M344.7 148.2h0" stroke="#c878e0" stroke-width="2.4"/><path d="M335.7 146.1h0M344.7 148.2h0" stroke="#ffffff" stroke-width="1.7"/><path d="M340.3 153.5h0" stroke="#b050d8" stroke-width="2.4"/><path d="M340.3 153.5h0" stroke="#ffffff" stroke-width="1.7"/><path d="M339.7 146.3h0M338.7 151.9h0" stroke="#c878e0" stroke-width="2.4"/><path d="M339.7 146.3h0M338.7 151.9h0" stroke="#ffffff" stroke-width="1.7"/><path d="M337.3 146.1h0" stroke="#b050d8" stroke-width="2.4"/><path d="M337.3 146.1h0" stroke="#ffffff" stroke-width="1.7"/><path d="M342.3 145.8h0M346.4 148.2h0" stroke="#c878e0" stroke-width="2.4"/><path d="M342.3 145.8h0M346.4 148.2h0" stroke="#ffffff" stroke-width="1.7"/><path d="M340.3 147.1h0M344.0 160.7h0" stroke="#b050d8" stroke-width="2.4"/><path d="M340.3 147.1h0M344.0 160.7h0" stroke="#ffffff" stroke-width="1.7"/><path d="M338.5 152.0h0M337.3 159.9h0M335.0 156.3h0" stroke="#c878e0" stroke-width="2.4"/><path d="M338.5 152.0h0M337.3 159.9h0M335.0 156.3h0" stroke="#ffffff" stroke-width="1.7"/><path d="M335.1 146.1h0" stroke="#b050d8" stroke-width="2.4"/><path d="M335.1 146.1h0" stroke="#ffffff" stroke-width="1.7"/><path d="M336.4 157.4h0" stroke="#c878e0" stroke-width="2.4"/><path d="M336.4 157.4h0" stroke="#ffffff" stroke-width="1.7"/><path d="M347.0 144.4h0M337.8 161.1h0M341.2 148.9h0" stroke="#b050d8" stroke-width="2.4"/><path d="M347.0 144.4h0M337.8 161.1h0M341.2 148.9h0" stroke="#ffffff" stroke-width="1.7"/><path d="M336.0 158.1h0" stroke="#c878e0" stroke-width="2.4"/><path d="M336.0 158.1h0" stroke="#ffffff" stroke-width="1.7"/><path d="M338.2 143.3h0" stroke="#b050d8" stroke-width="2.4"/><path d="M338.2 143.3h0" stroke="#ffffff" stroke-width="1.7"/><path d="M338.7 145.9h0M336.8 146.0h0" stroke="#c878e0" stroke-width="2.4"/><path d="M338.7 145.9h0M336.8 146.0h0" stroke="#ffffff" stroke-width="1.7"/><path d="M347.3 154.9h0M341.6 143.4h0" stroke="#b050d8" stroke-width="2.4"/><path d="M347.3 154.9h0M341.6 143.4h0" stroke="#ffffff" stroke-width="1.7"/><path d="M344.4 157.8h0" stroke="#c878e0" stroke-width="2.4"/><path d="M344.4 157.8h0" stroke="#ffffff" stroke-width="1.7"/><path d="M338.6 155.2h0" stroke="#b050d8" stroke-width="2.4"/><path d="M338.6 155.2h0" stroke="#ffffff" stroke-width="1.7"/><path d="M347.7 154.4h0M343.7 151.1h0" stroke="#c878e0" stroke-width="2.4"/><path d="M347.7 154.4h0M343.7 151.1h0" stroke="#ffffff" stroke-width="1.7"/><path d="M339.0 143.4h0M335.7 143.1h0" stroke="#b050d8" stroke-width="2.4"/><path d="M339.0 143.4h0M335.7 143.1h0" stroke="#ffffff" stroke-width="1.7"/><path d="M338.6 146.5h0" stroke="#c878e0" stroke-width="2.4"/><path d="M338.6 146.5h0" stroke="#ffffff" stroke-width="1.7"/><path d="M338.3 150.2h0" stroke="#b050d8" stroke-width="2.4"/><path d="M338.3 150.2h0" stroke="#ffffff" stroke-width="1.7"/><path d="M337.3 155.4h0" stroke="#c878e0" stroke-width="2.4"/><path d="M337.3 155.4h0" stroke="#ffffff" stroke-width="1.7"/><path d="M342.7 150.7h0M341.8 151.6h0M341.9 155.3h0M346.2 158.8h0M347.2 158.2h0" stroke="#b050d8" stroke-width="2.4"/><path d="M342.7 150.7h0M341.8 151.6h0M341.9 155.3h0M346.2 158.8h0M347.2 158.2h0" stroke="#ffffff" stroke-width="1.7"/><path d="M338.0 157.5h0" stroke="#c878e0" stroke-width="2.4"/><path d="M338.0 157.5h0" stroke="#ffffff" stroke-width="1.7"/><path d="M343.0 146.2h0" stroke="#b050d8" stroke-width="2.4"/><path d="M343.0 146.2h0" stroke="#ffffff" stroke-width="1.7"/><path d="M347.7 157.3h0M338.4 160.6h0M336.3 160.4h0M347.4 159.6h0M340.3 159.1h0M335.1 144.2h0M336.2 148.0h0M343.1 154.8h0" stroke="#c878e0" stroke-width="2.4"/><path d="M347.7 157.3h0M338.4 160.6h0M336.3 160.4h0M347.4 159.6h0M340.3 159.1h0M335.1 144.2h0M336.2 148.0h0M343.1 154.8h0" stroke="#ffffff" stroke-width="1.7"/><path d="M342.9 155.8h0" stroke="#b050d8" stroke-width="2.4"/><path d="M342.9 155.8h0" stroke="#ffffff" stroke-width="1.7"/><path d="M340.0 143.1h0" stroke="#c878e0" stroke-width="2.4"/><path d="M340.0 143.1h0" stroke="#ffffff" stroke-width="1.7"/><path d="M347.6 147.4h0" stroke="#b050d8" stroke-width="2.4"/><path d="M347.6 147.4h0" stroke="#ffffff" stroke-width="1.7"/><path d="M338.3 157.6h0M341.3 157.4h0" stroke="#c878e0" stroke-width="2.4"/><path d="M338.3 157.6h0M341.3 157.4h0" stroke="#ffffff" stroke-width="1.7"/><path d="M336.6 159.4h0M335.1 147.0h0M339.4 144.2h0M337.4 158.3h0" stroke="#b050d8" stroke-width="2.4"/><path d="M336.6 159.4h0M335.1 147.0h0M339.4 144.2h0M337.4 158.3h0" stroke="#ffffff" stroke-width="1.7"/><path d="M340.8 154.3h0M338.3 149.1h0" stroke="#c878e0" stroke-width="2.4"/><path d="M340.8 154.3h0M338.3 149.1h0" stroke="#ffffff" stroke-width="1.7"/><path d="M341.0 152.4h0M345.5 151.9h0" stroke="#b050d8" stroke-width="2.4"/><path d="M341.0 152.4h0M345.5 151.9h0" stroke="#ffffff" stroke-width="1.7"/><path d="M335.3 148.3h0" stroke="#c878e0" stroke-width="2.4"/><path d="M335.3 148.3h0" stroke="#ffffff" stroke-width="1.7"/><path d="M347.2 154.6h0" stroke="#b050d8" stroke-width="2.4"/><path d="M347.2 154.6h0" stroke="#ffffff" stroke-width="1.7"/><path d="M335.3 159.6h0" stroke="#c878e0" stroke-width="2.4"/><path d="M335.3 159.6h0" stroke="#ffffff" stroke-width="1.7"/><path d="M344.0 146.8h0M345.5 159.5h0" stroke="#b050d8" stroke-width="2.4"/><path d="M344.0 146.8h0M345.5 159.5h0" stroke="#ffffff" stroke-width="1.7"/><path d="M330.2 150.5h0M332.3 147.7h0M331.5 156.8h0M331.6 157.2h0M330.5 158.3h0M337.2 158.8h0M335.5 150.6h0M330.7 152.8h0M330.7 150.6h0M332.8 147.5h0M335.3 146.3h0M337.0 154.4h0M331.6 148.3h0M337.4 158.7h0" stroke="#9c5a2c" stroke-width="2.4"/><path d="M368.1 151.3h0" stroke="#000" stroke-width="2.4"/><path d="M306.5 104.5h0M362.1 97.9h0M377.7 100.1h0M354.9 159.6h0M360.9 159.0h0" stroke="#808080" stroke-width="2.4"/><path d="M372.3 63.2h0M390.2 69.8h0M402.8 73.1h0M408.8 97.3h0M409.4 109.5h0M390.8 116.6h0" stroke="#6ff5d6" stroke-width="2.4"/><path d="M329.8 70.3h0M326.2 73.6h0M307.7 83.6h0M307.1 88.0h0" stroke="#0a0aff" stroke-width="2.4"/><path d="M302.9 150.8h0" stroke="#ff9a00" stroke-width="2.4"/></g>
<path d="M334.02 46.8 V166.1 M345.98 46.8 V166.1" stroke="#7d7d7d" stroke-width="1.2" stroke-dasharray="1.5 2.1" fill="none"/>
<path d="M286.9 160.37 H437.3" stroke="#333" stroke-width="0.7" stroke-dasharray="2 1.6" fill="none"/>
<rect x="286.9" y="46.8" width="150.4" height="119.3" fill="none" stroke="#333" stroke-width="0.8"/>
<text class="dv" x="310.1" y="176.1" font-size="7.1" fill="#4d4d4d" text-anchor="middle">-5</text>
<text class="dv" x="340" y="176.1" font-size="7.1" fill="#4d4d4d" text-anchor="middle">0</text>
<text class="dv" x="369.9" y="176.1" font-size="7.1" fill="#4d4d4d" text-anchor="middle">5</text>
<text class="dv" x="399.8" y="176.1" font-size="7.1" fill="#4d4d4d" text-anchor="middle">10</text>
<text class="dv" x="429.7" y="176.1" font-size="7.1" fill="#4d4d4d" text-anchor="middle">15</text>
<text class="dv" x="281.9" y="164.4" font-size="7.1" fill="#4d4d4d" text-anchor="end">0</text>
<text class="dv" x="281.9" y="136.85" font-size="7.1" fill="#4d4d4d" text-anchor="end">25</text>
<text class="dv" x="281.9" y="109.3" font-size="7.1" fill="#4d4d4d" text-anchor="end">50</text>
<text class="dv" x="281.9" y="81.75" font-size="7.1" fill="#4d4d4d" text-anchor="end">75</text>
<text class="dv" x="281.9" y="54.2" font-size="7.1" fill="#4d4d4d" text-anchor="end">100</text>
<path d="M310.1 166.1 v2.6 M340 166.1 v2.6 M369.9 166.1 v2.6 M399.8 166.1 v2.6 M429.7 166.1 v2.6 M286.9 161.8 h-2.6 M286.9 134.25 h-2.6 M286.9 106.7 h-2.6 M286.9 79.15 h-2.6 M286.9 51.6 h-2.6" stroke="#444" stroke-width="0.6" fill="none"/>
<text class="dv" x="362.1" y="186.4" font-size="8.9" fill="#111" text-anchor="middle">Signed Fit Range</text>
<text class="dv" x="267.6" y="106.45" font-size="8.9" fill="#111" text-anchor="middle" transform="rotate(-90 267.6 106.45)">-log10(q-value)</text>
<polyline points="375.8,54.5 372.8,62.6" fill="none" stroke="#d9363c" stroke-width="0.45"/>
<polyline points="389.4,64.5 390.4,69.8" fill="none" stroke="#2a2a2a" stroke-width="0.45"/>
<polyline points="328.4,65.2 329.6,70.2" fill="none" stroke="#d9363c" stroke-width="0.45"/>
<polyline points="323.9,72.6 325.6,74.2" fill="none" stroke="#d9363c" stroke-width="0.45"/>
<polyline points="355.5,73.9 354.8,77.4" fill="none" stroke="#d9363c" stroke-width="0.45"/>
<polyline points="422.4,75 409.4,97" fill="none" stroke="#2a2a2a" stroke-width="0.45"/>
<polyline points="305,81 311,81.8 320.8,82.6" fill="none" stroke="#d9363c" stroke-width="0.45"/>
<polyline points="373.9,78.6 368.8,75" fill="none" stroke="#d9363c" stroke-width="0.45"/>
<polyline points="406,78.5 403.2,72.8" fill="none" stroke="#2a2a2a" stroke-width="0.45"/>
<polyline points="351,83.2 352.6,78" fill="none" stroke="#d9363c" stroke-width="0.45"/>
<polyline points="305,90.2 307.6,86.6" fill="none" stroke="#2a2a2a" stroke-width="0.45"/>
<polyline points="328.4,91 331,88.4" fill="none" stroke="#d9363c" stroke-width="0.45"/>
<polyline points="330.9,97.5 331,82" fill="none" stroke="#d9363c" stroke-width="0.45"/>
<polyline points="353.6,103.6 350.2,102.2" fill="none" stroke="#2a2a2a" stroke-width="0.45"/>
<polyline points="413.6,113.4 409.6,109.4" fill="none" stroke="#2a2a2a" stroke-width="0.45"/>
<polyline points="389.3,120.6 391,116" fill="none" stroke="#2a2a2a" stroke-width="0.45"/>
<rect x="370.3" y="47.8" width="13.4" height="7" rx="1" fill="#fff" fill-opacity="0.85" stroke="#d9363c" stroke-width="0.5"/>
<text class="dv" x="377" y="53.25" font-size="5.4" fill="#d9363c" text-anchor="middle" textLength="11.2" lengthAdjust="spacingAndGlyphs">GJB2</text>
<rect x="378.7" y="57.8" width="22.2" height="7" rx="1" fill="#fff" fill-opacity="0.85" stroke="#2a2a2a" stroke-width="0.5"/>
<text class="dv" x="389.8" y="63.25" font-size="5.4" fill="#2a2a2a" text-anchor="middle" textLength="20" lengthAdjust="spacingAndGlyphs">S100A9</text>
<rect x="320.1" y="58.5" width="16" height="7" rx="1" fill="#fff" fill-opacity="0.85" stroke="#d9363c" stroke-width="0.5"/>
<text class="dv" x="328.1" y="63.95" font-size="5.4" fill="#d9363c" text-anchor="middle" textLength="13.8" lengthAdjust="spacingAndGlyphs">CRY2</text>
<rect x="292.7" y="67.8" width="31.2" height="7" rx="1" fill="#fff" fill-opacity="0.85" stroke="#d9363c" stroke-width="0.5"/>
<text class="dv" x="308.3" y="73.25" font-size="5.4" fill="#d9363c" text-anchor="middle" textLength="29" lengthAdjust="spacingAndGlyphs">CACNA2D2</text>
<rect x="347.7" y="67.1" width="27" height="7" rx="1" fill="#fff" fill-opacity="0.85" stroke="#d9363c" stroke-width="0.5"/>
<text class="dv" x="361.2" y="72.55" font-size="5.4" fill="#d9363c" text-anchor="middle" textLength="24.8" lengthAdjust="spacingAndGlyphs">CARHSP1</text>
<rect x="413.5" y="68.3" width="21.4" height="7" rx="1" fill="#fff" fill-opacity="0.85" stroke="#2a2a2a" stroke-width="0.5"/>
<text class="dv" x="424.2" y="73.75" font-size="5.4" fill="#2a2a2a" text-anchor="middle" textLength="19.2" lengthAdjust="spacingAndGlyphs">SPRR2F</text>
<rect x="289.3" y="77.6" width="15.8" height="7" rx="1" fill="#fff" fill-opacity="0.85" stroke="#d9363c" stroke-width="0.5"/>
<text class="dv" x="297.2" y="83.05" font-size="5.4" fill="#d9363c" text-anchor="middle" textLength="13.6" lengthAdjust="spacingAndGlyphs">RORC</text>
<rect x="373.9" y="76.4" width="17.8" height="7" rx="1" fill="#fff" fill-opacity="0.85" stroke="#d9363c" stroke-width="0.5"/>
<text class="dv" x="382.8" y="81.85" font-size="5.4" fill="#d9363c" text-anchor="middle" textLength="15.6" lengthAdjust="spacingAndGlyphs">KLK13</text>
<rect x="402" y="78.1" width="9.6" height="7" rx="1" fill="#fff" fill-opacity="0.85" stroke="#2a2a2a" stroke-width="0.5"/>
<text class="dv" x="406.8" y="83.55" font-size="5.4" fill="#2a2a2a" text-anchor="middle" textLength="7.4" lengthAdjust="spacingAndGlyphs">PI3</text>
<rect x="343.4" y="83" width="23.6" height="7" rx="1" fill="#fff" fill-opacity="0.85" stroke="#d9363c" stroke-width="0.5"/>
<text class="dv" x="355.2" y="88.45" font-size="5.4" fill="#d9363c" text-anchor="middle" textLength="21.4" lengthAdjust="spacingAndGlyphs">CRABP2</text>
<rect x="293.4" y="88.7" width="11.6" height="7" rx="1" fill="#fff" fill-opacity="0.85" stroke="#2a2a2a" stroke-width="0.5"/>
<text class="dv" x="299.2" y="94.15" font-size="5.4" fill="#2a2a2a" text-anchor="middle" textLength="9.4" lengthAdjust="spacingAndGlyphs">BTC</text>
<rect x="309.2" y="88.7" width="19.2" height="7" rx="1" fill="#fff" fill-opacity="0.85" stroke="#d9363c" stroke-width="0.5"/>
<text class="dv" x="318.8" y="94.15" font-size="5.4" fill="#d9363c" text-anchor="middle" textLength="17" lengthAdjust="spacingAndGlyphs">ZNF34</text>
<rect x="320.1" y="97.5" width="16" height="7" rx="1" fill="#fff" fill-opacity="0.85" stroke="#d9363c" stroke-width="0.5"/>
<text class="dv" x="328.1" y="102.95" font-size="5.4" fill="#d9363c" text-anchor="middle" textLength="13.8" lengthAdjust="spacingAndGlyphs">THRA</text>
<rect x="353.6" y="100.9" width="17" height="7" rx="1" fill="#fff" fill-opacity="0.85" stroke="#2a2a2a" stroke-width="0.5"/>
<text class="dv" x="362.1" y="106.35" font-size="5.4" fill="#2a2a2a" text-anchor="middle" textLength="14.8" lengthAdjust="spacingAndGlyphs">STAT3</text>
<rect x="385" y="100.9" width="23" height="7" rx="1" fill="#fff" fill-opacity="0.85" stroke="#2a2a2a" stroke-width="0.5"/>
<text class="dv" x="396.5" y="106.35" font-size="5.4" fill="#2a2a2a" text-anchor="middle" textLength="20.8" lengthAdjust="spacingAndGlyphs">DEFB4A</text>
<rect x="413.5" y="112.2" width="16" height="7" rx="1" fill="#fff" fill-opacity="0.85" stroke="#2a2a2a" stroke-width="0.5"/>
<text class="dv" x="421.5" y="117.65" font-size="5.4" fill="#2a2a2a" text-anchor="middle" textLength="13.8" lengthAdjust="spacingAndGlyphs">IL36A</text>
<rect x="371.5" y="118.7" width="17.8" height="7" rx="1" fill="#fff" fill-opacity="0.85" stroke="#2a2a2a" stroke-width="0.5"/>
<text class="dv" x="380.4" y="124.15" font-size="5.4" fill="#2a2a2a" text-anchor="middle" textLength="15.6" lengthAdjust="spacingAndGlyphs">CXCL1</text>
<rect x="472.9" y="19.6" width="150.4" height="12.4" fill="#b525f8"/>
<rect x="472.9" y="32.9" width="150.4" height="12.6" fill="#80fefe"/>
<text class="dv" x="548.1" y="28.6" font-size="7.4" fill="#fff" text-anchor="middle">Lesional</text>
<text class="dv" x="548.1" y="41.8" font-size="7.4" fill="#1a1a1a" text-anchor="middle">Both drugs</text>
<path d="M481.35 46.8 V166.1 M511.25 46.8 V166.1 M541.15 46.8 V166.1 M571.05 46.8 V166.1 M600.95 46.8 V166.1 M472.9 148.03 H623.3 M472.9 120.48 H623.3 M472.9 92.93 H623.3 M472.9 65.38 H623.3" stroke="#f0f0f0" stroke-width="0.4" fill="none"/>
<path d="M496.3 46.8 V166.1 M526.2 46.8 V166.1 M556.1 46.8 V166.1 M586 46.8 V166.1 M615.9 46.8 V166.1 M472.9 161.8 H623.3 M472.9 134.25 H623.3 M472.9 106.7 H623.3 M472.9 79.15 H623.3 M472.9 51.6 H623.3" stroke="#e6e6e6" stroke-width="0.7" fill="none"/>
<clipPath id="cc1"><rect x="472.9" y="46.8" width="150.4" height="119.3"/></clipPath>
<g clip-path="url(#cc1)" fill="none" stroke-linecap="round"><path d="M512.6 127.6h0M516.3 108.7h0M543.6 106.0h0M509.7 98.6h0M551.1 145.0h0M546.2 145.6h0M505.3 121.0h0M537.7 82.9h0M544.7 123.5h0M514.0 108.5h0M503.6 115.1h0M550.1 102.0h0M508.0 112.0h0M504.8 102.6h0M493.7 107.8h0M515.4 94.1h0M539.5 138.7h0M533.3 145.2h0M510.9 141.4h0M536.8 103.3h0M534.1 156.7h0M515.6 84.4h0M506.3 108.2h0M511.1 99.7h0M536.7 106.6h0M506.0 114.5h0M535.8 141.3h0M514.0 140.2h0M512.8 137.6h0M503.4 141.4h0M503.1 129.2h0M506.2 146.5h0M504.8 147.9h0M505.3 92.0h0M542.9 134.5h0M515.6 102.1h0M536.7 133.6h0M535.8 119.3h0M513.9 146.8h0M505.0 131.7h0M539.0 75.2h0M496.2 107.2h0M496.9 148.2h0M532.1 114.6h0M518.5 151.4h0M546.5 138.7h0M544.3 161.7h0M545.5 99.6h0M541.2 111.4h0M504.8 101.5h0M516.4 85.4h0M534.9 154.6h0M496.7 123.8h0M507.6 158.7h0M545.2 118.5h0M514.9 122.7h0M545.6 129.5h0M540.3 97.0h0M509.1 91.1h0M542.3 119.9h0M510.1 89.7h0M536.1 102.8h0M549.7 105.7h0M549.1 94.4h0M515.0 122.7h0M549.2 115.2h0M546.8 140.0h0M513.2 92.8h0M531.8 140.4h0M514.6 123.1h0M509.6 158.1h0M506.6 90.7h0M539.6 126.1h0M539.5 79.6h0M517.7 86.6h0M548.4 91.9h0M517.9 132.9h0M505.5 103.0h0M515.9 100.0h0M502.7 155.4h0M542.2 93.0h0M507.2 148.6h0M508.5 120.8h0M538.5 113.5h0M498.8 143.3h0M503.3 150.0h0M516.9 85.4h0M507.1 119.8h0M504.3 145.5h0M517.7 132.5h0M488.9 157.7h0M516.1 111.2h0M508.3 129.4h0M505.4 101.4h0M501.5 122.6h0M500.9 126.1h0M506.0 107.4h0M543.1 97.0h0M537.5 124.5h0M508.3 128.9h0M511.7 86.0h0M532.2 135.8h0M512.4 88.4h0M518.3 108.5h0M507.3 103.9h0M518.0 84.5h0M513.9 119.4h0M540.8 146.2h0M539.2 136.6h0M537.2 83.5h0M547.5 117.4h0M536.0 133.6h0M545.0 134.7h0M539.0 110.4h0M544.8 126.2h0M512.7 87.6h0M507.4 134.9h0M519.0 129.4h0M501.0 160.0h0M502.4 137.3h0M516.2 110.2h0M533.5 100.5h0M515.6 111.2h0M505.2 134.3h0M512.9 129.1h0M508.2 86.7h0M542.8 122.4h0M547.8 90.3h0M501.8 131.6h0M542.9 107.5h0M513.2 149.5h0M543.4 111.1h0M520.1 84.9h0M499.0 154.2h0M512.1 106.8h0M536.9 82.7h0M503.1 118.4h0M551.7 147.4h0M505.2 105.1h0M503.5 121.0h0M538.2 85.8h0M499.0 116.8h0M510.2 94.6h0M532.1 134.3h0M510.9 91.6h0M519.0 112.0h0M499.5 131.0h0M511.0 90.7h0M547.9 128.4h0M513.7 85.7h0M508.3 145.4h0M502.7 111.1h0M536.7 130.0h0M510.4 149.0h0M515.1 114.9h0M514.3 144.2h0M547.9 127.0h0M508.0 120.3h0M498.7 101.3h0M516.5 78.8h0M537.9 102.3h0M541.6 140.0h0M502.0 144.7h0M538.9 76.5h0M508.6 146.1h0M502.7 111.0h0M538.7 132.8h0M546.8 116.8h0M505.8 113.4h0M547.0 96.6h0M511.5 81.3h0M513.0 92.0h0M516.4 87.7h0M511.2 97.6h0M507.7 139.6h0M512.4 107.4h0M550.2 120.8h0M510.7 101.3h0M512.9 142.6h0M510.5 131.7h0M514.0 107.0h0M500.5 133.3h0M512.3 86.6h0M551.3 103.8h0M496.5 129.4h0M509.1 114.9h0M511.3 130.3h0M536.6 141.4h0M510.6 142.1h0M538.3 89.6h0M492.2 134.3h0M536.0 114.8h0M537.3 80.1h0M505.9 97.7h0M515.6 152.7h0M548.9 132.9h0M513.0 89.1h0M538.0 113.9h0M492.0 155.1h0M501.3 113.2h0M518.8 88.7h0M517.6 112.2h0M509.1 135.6h0M504.4 122.2h0M537.3 124.3h0M533.7 84.1h0M510.6 90.3h0M513.0 120.2h0M510.6 97.5h0M517.4 130.2h0M547.0 102.9h0M506.4 102.8h0M517.8 153.1h0M515.9 146.5h0M508.8 129.2h0M515.8 84.7h0M539.0 107.8h0M506.7 91.4h0M547.8 146.0h0M514.1 106.0h0M551.7 114.8h0M536.2 157.5h0M519.2 146.7h0M538.6 128.6h0M510.8 148.6h0M544.7 105.1h0M514.0 94.2h0M518.9 132.2h0M502.8 130.0h0M504.7 151.8h0M511.9 113.5h0M546.9 126.0h0M543.8 149.2h0M518.8 77.4h0M539.9 81.6h0M504.7 154.4h0M496.6 132.9h0M546.9 100.7h0M513.2 79.6h0M541.4 135.4h0M512.4 78.8h0M538.5 116.7h0M538.0 84.8h0M519.8 115.6h0M542.4 127.5h0M494.7 140.2h0M540.9 112.7h0M520.1 84.5h0M537.7 98.5h0M533.7 102.4h0M514.6 139.9h0M506.0 134.6h0M517.8 74.2h0M514.3 100.4h0M515.0 160.3h0M542.0 122.4h0M539.7 143.5h0M504.6 149.7h0M539.5 90.5h0M514.8 94.9h0M545.5 117.0h0M516.4 82.4h0M508.3 115.6h0M541.5 131.1h0M533.6 116.6h0M503.8 109.4h0M520.5 131.7h0M504.1 119.3h0M519.7 129.3h0M513.9 126.0h0M548.9 149.6h0M541.2 152.0h0M536.0 147.2h0M516.9 115.6h0M507.0 159.5h0M539.7 132.2h0M518.5 79.3h0M510.1 116.2h0M534.2 113.5h0M514.2 142.3h0M539.7 76.3h0M506.9 134.2h0M492.5 116.1h0M515.8 152.3h0M500.4 122.8h0M540.1 135.8h0M509.2 151.0h0M533.1 137.7h0M511.2 107.4h0M494.6 126.4h0M514.4 76.7h0M510.8 142.2h0M513.9 110.7h0M510.4 145.2h0M497.5 143.5h0M506.1 93.3h0M515.3 105.6h0M545.7 122.1h0M492.3 137.5h0M538.2 111.4h0M505.4 113.7h0M537.1 76.6h0M506.6 125.9h0M516.1 113.4h0M517.1 121.3h0M515.6 105.3h0M544.2 93.5h0M519.0 159.7h0M548.1 120.4h0M541.3 118.0h0M514.5 143.0h0M503.3 127.7h0M510.5 86.9h0M540.5 95.7h0M515.7 84.2h0M509.5 148.6h0M513.9 105.5h0M538.8 91.9h0M513.5 81.8h0M506.9 150.1h0M534.8 94.5h0M507.9 109.8h0M540.7 95.1h0M515.3 110.3h0M539.1 155.6h0M537.5 130.6h0M515.1 126.9h0M510.3 90.5h0M550.0 104.1h0M539.7 136.0h0M516.8 155.6h0M516.9 103.6h0M506.4 102.0h0M538.4 117.3h0M507.8 102.0h0M497.1 113.2h0M547.3 90.0h0M504.6 138.0h0M542.9 158.5h0M535.4 124.2h0M514.1 131.1h0M503.0 111.8h0M540.4 90.9h0M507.7 109.9h0M549.8 106.7h0M518.8 146.7h0M538.1 128.5h0M539.7 149.3h0M497.4 160.1h0M513.9 115.5h0M510.8 122.1h0M512.7 152.0h0M542.2 104.0h0M515.1 151.5h0M510.2 136.4h0M514.7 110.2h0M536.8 146.7h0M511.8 151.0h0M503.9 140.2h0M519.8 115.5h0M511.4 94.1h0M512.9 123.8h0M540.7 141.7h0M537.3 116.9h0M499.5 123.5h0M542.6 84.4h0M518.4 84.0h0M507.4 151.1h0M539.2 81.2h0M513.1 102.0h0M509.4 113.0h0M512.3 118.4h0M508.8 101.3h0M534.5 74.4h0M511.2 154.4h0M500.6 158.2h0M493.1 142.3h0M518.0 94.2h0M499.0 123.6h0M513.8 74.8h0M539.4 134.7h0M514.5 90.2h0M511.2 93.5h0M542.7 88.0h0M511.0 112.7h0M517.6 144.8h0M544.0 123.1h0M511.1 80.0h0M544.5 92.0h0M510.5 146.3h0M493.9 148.5h0M546.9 92.0h0M507.8 107.2h0M532.6 95.6h0M512.0 127.3h0M549.2 129.6h0M532.5 128.6h0M542.1 91.6h0M489.6 119.2h0M538.5 118.9h0M507.7 131.7h0M548.2 139.9h0M534.2 81.6h0M509.9 143.3h0M508.5 117.7h0M536.1 120.1h0M513.8 119.3h0M510.1 84.4h0M514.6 90.3h0M519.2 91.8h0M512.9 149.6h0M512.8 109.9h0M546.5 104.7h0M542.4 144.3h0M510.2 148.2h0M506.5 105.4h0M542.1 130.3h0M502.2 153.3h0M538.8 110.9h0M503.9 103.1h0M498.8 139.0h0M536.3 127.0h0M534.9 91.0h0M513.0 87.8h0M505.3 119.8h0M519.3 105.5h0M498.0 153.4h0M534.6 81.8h0M515.3 139.2h0M518.0 94.0h0M517.2 90.2h0" stroke="#d2d2d2" stroke-width="2.4"/><path d="M512.6 127.6h0M516.3 108.7h0M543.6 106.0h0M509.7 98.6h0M551.1 145.0h0M546.2 145.6h0M505.3 121.0h0M537.7 82.9h0M544.7 123.5h0M514.0 108.5h0M503.6 115.1h0M550.1 102.0h0M508.0 112.0h0M504.8 102.6h0M493.7 107.8h0M515.4 94.1h0M539.5 138.7h0M533.3 145.2h0M510.9 141.4h0M536.8 103.3h0M534.1 156.7h0M515.6 84.4h0M506.3 108.2h0M511.1 99.7h0M536.7 106.6h0M506.0 114.5h0M535.8 141.3h0M514.0 140.2h0M512.8 137.6h0M503.4 141.4h0M503.1 129.2h0M506.2 146.5h0M504.8 147.9h0M505.3 92.0h0M542.9 134.5h0M515.6 102.1h0M536.7 133.6h0M535.8 119.3h0M513.9 146.8h0M505.0 131.7h0M539.0 75.2h0M496.2 107.2h0M496.9 148.2h0M532.1 114.6h0M518.5 151.4h0M546.5 138.7h0M544.3 161.7h0M545.5 99.6h0M541.2 111.4h0M504.8 101.5h0M516.4 85.4h0M534.9 154.6h0M496.7 123.8h0M507.6 158.7h0M545.2 118.5h0M514.9 122.7h0M545.6 129.5h0M540.3 97.0h0M509.1 91.1h0M542.3 119.9h0M510.1 89.7h0M536.1 102.8h0M549.7 105.7h0M549.1 94.4h0M515.0 122.7h0M549.2 115.2h0M546.8 140.0h0M513.2 92.8h0M531.8 140.4h0M514.6 123.1h0M509.6 158.1h0M506.6 90.7h0M539.6 126.1h0M539.5 79.6h0M517.7 86.6h0M548.4 91.9h0M517.9 132.9h0M505.5 103.0h0M515.9 100.0h0M502.7 155.4h0M542.2 93.0h0M507.2 148.6h0M508.5 120.8h0M538.5 113.5h0M498.8 143.3h0M503.3 150.0h0M516.9 85.4h0M507.1 119.8h0M504.3 145.5h0M517.7 132.5h0M488.9 157.7h0M516.1 111.2h0M508.3 129.4h0M505.4 101.4h0M501.5 122.6h0M500.9 126.1h0M506.0 107.4h0M543.1 97.0h0M537.5 124.5h0M508.3 128.9h0M511.7 86.0h0M532.2 135.8h0M512.4 88.4h0M518.3 108.5h0M507.3 103.9h0M518.0 84.5h0M513.9 119.4h0M540.8 146.2h0M539.2 136.6h0M537.2 83.5h0M547.5 117.4h0M536.0 133.6h0M545.0 134.7h0M539.0 110.4h0M544.8 126.2h0M512.7 87.6h0M507.4 134.9h0M519.0 129.4h0M501.0 160.0h0M502.4 137.3h0M516.2 110.2h0M533.5 100.5h0M515.6 111.2h0M505.2 134.3h0M512.9 129.1h0M508.2 86.7h0M542.8 122.4h0M547.8 90.3h0M501.8 131.6h0M542.9 107.5h0M513.2 149.5h0M543.4 111.1h0M520.1 84.9h0M499.0 154.2h0M512.1 106.8h0M536.9 82.7h0M503.1 118.4h0M551.7 147.4h0M505.2 105.1h0M503.5 121.0h0M538.2 85.8h0M499.0 116.8h0M510.2 94.6h0M532.1 134.3h0M510.9 91.6h0M519.0 112.0h0M499.5 131.0h0M511.0 90.7h0M547.9 128.4h0M513.7 85.7h0M508.3 145.4h0M502.7 111.1h0M536.7 130.0h0M510.4 149.0h0M515.1 114.9h0M514.3 144.2h0M547.9 127.0h0M508.0 120.3h0M498.7 101.3h0M516.5 78.8h0M537.9 102.3h0M541.6 140.0h0M502.0 144.7h0M538.9 76.5h0M508.6 146.1h0M502.7 111.0h0M538.7 132.8h0M546.8 116.8h0M505.8 113.4h0M547.0 96.6h0M511.5 81.3h0M513.0 92.0h0M516.4 87.7h0M511.2 97.6h0M507.7 139.6h0M512.4 107.4h0M550.2 120.8h0M510.7 101.3h0M512.9 142.6h0M510.5 131.7h0M514.0 107.0h0M500.5 133.3h0M512.3 86.6h0M551.3 103.8h0M496.5 129.4h0M509.1 114.9h0M511.3 130.3h0M536.6 141.4h0M510.6 142.1h0M538.3 89.6h0M492.2 134.3h0M536.0 114.8h0M537.3 80.1h0M505.9 97.7h0M515.6 152.7h0M548.9 132.9h0M513.0 89.1h0M538.0 113.9h0M492.0 155.1h0M501.3 113.2h0M518.8 88.7h0M517.6 112.2h0M509.1 135.6h0M504.4 122.2h0M537.3 124.3h0M533.7 84.1h0M510.6 90.3h0M513.0 120.2h0M510.6 97.5h0M517.4 130.2h0M547.0 102.9h0M506.4 102.8h0M517.8 153.1h0M515.9 146.5h0M508.8 129.2h0M515.8 84.7h0M539.0 107.8h0M506.7 91.4h0M547.8 146.0h0M514.1 106.0h0M551.7 114.8h0M536.2 157.5h0M519.2 146.7h0M538.6 128.6h0M510.8 148.6h0M544.7 105.1h0M514.0 94.2h0M518.9 132.2h0M502.8 130.0h0M504.7 151.8h0M511.9 113.5h0M546.9 126.0h0M543.8 149.2h0M518.8 77.4h0M539.9 81.6h0M504.7 154.4h0M496.6 132.9h0M546.9 100.7h0M513.2 79.6h0M541.4 135.4h0M512.4 78.8h0M538.5 116.7h0M538.0 84.8h0M519.8 115.6h0M542.4 127.5h0M494.7 140.2h0M540.9 112.7h0M520.1 84.5h0M537.7 98.5h0M533.7 102.4h0M514.6 139.9h0M506.0 134.6h0M517.8 74.2h0M514.3 100.4h0M515.0 160.3h0M542.0 122.4h0M539.7 143.5h0M504.6 149.7h0M539.5 90.5h0M514.8 94.9h0M545.5 117.0h0M516.4 82.4h0M508.3 115.6h0M541.5 131.1h0M533.6 116.6h0M503.8 109.4h0M520.5 131.7h0M504.1 119.3h0M519.7 129.3h0M513.9 126.0h0M548.9 149.6h0M541.2 152.0h0M536.0 147.2h0M516.9 115.6h0M507.0 159.5h0M539.7 132.2h0M518.5 79.3h0M510.1 116.2h0M534.2 113.5h0M514.2 142.3h0M539.7 76.3h0M506.9 134.2h0M492.5 116.1h0M515.8 152.3h0M500.4 122.8h0M540.1 135.8h0M509.2 151.0h0M533.1 137.7h0M511.2 107.4h0M494.6 126.4h0M514.4 76.7h0M510.8 142.2h0M513.9 110.7h0M510.4 145.2h0M497.5 143.5h0M506.1 93.3h0M515.3 105.6h0M545.7 122.1h0M492.3 137.5h0M538.2 111.4h0M505.4 113.7h0M537.1 76.6h0M506.6 125.9h0M516.1 113.4h0M517.1 121.3h0M515.6 105.3h0M544.2 93.5h0M519.0 159.7h0M548.1 120.4h0M541.3 118.0h0M514.5 143.0h0M503.3 127.7h0M510.5 86.9h0M540.5 95.7h0M515.7 84.2h0M509.5 148.6h0M513.9 105.5h0M538.8 91.9h0M513.5 81.8h0M506.9 150.1h0M534.8 94.5h0M507.9 109.8h0M540.7 95.1h0M515.3 110.3h0M539.1 155.6h0M537.5 130.6h0M515.1 126.9h0M510.3 90.5h0M550.0 104.1h0M539.7 136.0h0M516.8 155.6h0M516.9 103.6h0M506.4 102.0h0M538.4 117.3h0M507.8 102.0h0M497.1 113.2h0M547.3 90.0h0M504.6 138.0h0M542.9 158.5h0M535.4 124.2h0M514.1 131.1h0M503.0 111.8h0M540.4 90.9h0M507.7 109.9h0M549.8 106.7h0M518.8 146.7h0M538.1 128.5h0M539.7 149.3h0M497.4 160.1h0M513.9 115.5h0M510.8 122.1h0M512.7 152.0h0M542.2 104.0h0M515.1 151.5h0M510.2 136.4h0M514.7 110.2h0M536.8 146.7h0M511.8 151.0h0M503.9 140.2h0M519.8 115.5h0M511.4 94.1h0M512.9 123.8h0M540.7 141.7h0M537.3 116.9h0M499.5 123.5h0M542.6 84.4h0M518.4 84.0h0M507.4 151.1h0M539.2 81.2h0M513.1 102.0h0M509.4 113.0h0M512.3 118.4h0M508.8 101.3h0M534.5 74.4h0M511.2 154.4h0M500.6 158.2h0M493.1 142.3h0M518.0 94.2h0M499.0 123.6h0M513.8 74.8h0M539.4 134.7h0M514.5 90.2h0M511.2 93.5h0M542.7 88.0h0M511.0 112.7h0M517.6 144.8h0M544.0 123.1h0M511.1 80.0h0M544.5 92.0h0M510.5 146.3h0M493.9 148.5h0M546.9 92.0h0M507.8 107.2h0M532.6 95.6h0M512.0 127.3h0M549.2 129.6h0M532.5 128.6h0M542.1 91.6h0M489.6 119.2h0M538.5 118.9h0M507.7 131.7h0M548.2 139.9h0M534.2 81.6h0M509.9 143.3h0M508.5 117.7h0M536.1 120.1h0M513.8 119.3h0M510.1 84.4h0M514.6 90.3h0M519.2 91.8h0M512.9 149.6h0M512.8 109.9h0M546.5 104.7h0M542.4 144.3h0M510.2 148.2h0M506.5 105.4h0M542.1 130.3h0M502.2 153.3h0M538.8 110.9h0M503.9 103.1h0M498.8 139.0h0M536.3 127.0h0M534.9 91.0h0M513.0 87.8h0M505.3 119.8h0M519.3 105.5h0M498.0 153.4h0M534.6 81.8h0M515.3 139.2h0M518.0 94.0h0M517.2 90.2h0" stroke="#ffffff" stroke-width="1.7"/><path d="M519.4 91.7h0M541.7 140.7h0M517.8 157.9h0M510.5 135.2h0M513.5 129.0h0M512.4 129.1h0M518.6 151.2h0M535.6 144.0h0M519.7 158.5h0M535.4 122.5h0M542.4 139.2h0M534.1 158.9h0M521.0 99.0h0M536.6 97.0h0M514.9 98.1h0M528.7 124.9h0M534.2 90.7h0M532.1 97.8h0M518.5 118.5h0M513.5 107.9h0M519.4 145.3h0M534.5 139.2h0M533.7 110.1h0M532.5 152.9h0M530.6 139.4h0M538.3 146.2h0M535.8 95.2h0M517.0 88.3h0M518.4 120.8h0M518.8 95.9h0M530.2 109.7h0M536.4 137.2h0M522.3 112.0h0M516.6 154.6h0M521.7 135.6h0M521.7 107.2h0M511.1 145.5h0M531.8 135.6h0M513.9 130.2h0M518.4 119.7h0M536.6 146.0h0M530.0 157.4h0M530.7 100.7h0M536.3 137.1h0M517.4 112.2h0M531.7 113.3h0M522.9 149.7h0M532.7 146.3h0M516.6 113.2h0M518.6 115.7h0M531.3 143.8h0M516.0 108.6h0M516.4 92.0h0M531.6 113.7h0M513.4 117.0h0M522.0 114.9h0M515.3 159.1h0M532.9 127.2h0M517.2 128.5h0M535.0 117.3h0M513.6 120.8h0M532.6 115.4h0M516.5 159.0h0M516.0 95.8h0M534.6 100.5h0M538.1 118.2h0M519.3 147.7h0M535.8 150.5h0M537.2 153.4h0M538.0 110.0h0M543.5 159.4h0M529.2 135.4h0M539.6 124.3h0M524.2 145.8h0M511.4 139.0h0M508.8 159.2h0M522.3 105.4h0M531.8 96.6h0M509.9 159.9h0M536.4 159.5h0M532.5 146.3h0M540.3 146.8h0M534.9 96.6h0M522.5 155.2h0M541.7 131.5h0M524.0 139.3h0M513.3 149.7h0M543.3 155.1h0M526.0 161.2h0M533.8 115.1h0M515.3 119.4h0M535.0 116.5h0M512.9 152.9h0M543.7 152.5h0M532.2 134.0h0M532.0 148.0h0M519.2 139.0h0M511.8 143.0h0M534.5 127.2h0M529.0 130.7h0M519.3 146.8h0M535.4 130.6h0M530.8 121.7h0M537.5 117.8h0M541.1 140.2h0M521.1 89.1h0M535.7 143.6h0M518.0 100.5h0M519.9 139.5h0M518.5 115.0h0M531.6 110.7h0M519.6 107.6h0M521.3 105.0h0M535.4 136.7h0M540.0 149.4h0M515.5 124.6h0M515.5 160.7h0M516.4 141.6h0M521.3 159.0h0M533.8 89.5h0M512.6 145.1h0M528.4 158.6h0M523.5 132.1h0M528.9 144.2h0M532.8 110.3h0M512.9 160.3h0M535.2 106.3h0M528.9 147.9h0M536.1 112.9h0M535.4 147.7h0M518.9 151.8h0M520.9 114.0h0M520.6 136.2h0M520.1 121.6h0M520.3 155.5h0M538.1 114.0h0M534.6 144.0h0M523.0 114.2h0M521.8 97.1h0M509.2 156.1h0M511.6 146.2h0M528.9 149.4h0M538.9 159.9h0M516.0 129.5h0M522.8 146.2h0M521.8 146.9h0M516.5 90.5h0M534.5 133.6h0M532.7 143.4h0M511.9 135.8h0M516.5 136.1h0M527.2 157.8h0M518.6 148.0h0M530.8 153.1h0M536.5 123.6h0M529.4 123.6h0M514.9 124.4h0M537.8 133.8h0M534.7 145.9h0M535.0 149.5h0M520.1 160.7h0M517.8 96.5h0M534.5 110.6h0M524.7 155.4h0M533.2 131.7h0M513.4 155.9h0M534.9 152.9h0M515.2 130.4h0M515.9 119.6h0M532.4 151.2h0M522.1 156.7h0M534.4 122.0h0M522.1 137.5h0M519.6 125.4h0M516.9 124.9h0M515.8 156.3h0M537.6 118.2h0M537.3 107.0h0M514.6 106.5h0M527.3 150.9h0M528.9 141.9h0M530.8 137.1h0M520.7 105.5h0M534.2 147.5h0M534.6 134.0h0M520.5 132.1h0M535.7 120.6h0M523.2 128.9h0M533.8 115.7h0M521.5 154.9h0M537.0 161.1h0M520.3 87.8h0M531.2 102.3h0M536.7 126.5h0M539.9 153.6h0M528.7 145.7h0M529.4 125.2h0M514.4 129.5h0M532.1 120.9h0M523.6 141.1h0M514.6 109.2h0M527.5 146.2h0M531.5 140.9h0M540.0 145.8h0M516.0 139.0h0M528.3 149.8h0M530.0 125.8h0M539.2 142.3h0M521.1 149.7h0M517.1 155.3h0M515.7 126.0h0M536.3 136.6h0M519.1 145.8h0M515.5 116.6h0M529.2 146.6h0M531.5 157.2h0M508.6 150.7h0M535.7 127.3h0M534.2 149.7h0M542.0 151.3h0M515.9 115.4h0M514.6 104.2h0M527.3 153.8h0M533.7 104.3h0M518.6 149.8h0M517.7 151.8h0M516.8 127.7h0M531.4 136.8h0M519.3 143.9h0M531.9 91.0h0M532.3 157.7h0M529.8 141.2h0M536.6 96.1h0M533.2 132.8h0M537.6 104.6h0M522.1 150.2h0M512.9 125.0h0M534.4 130.4h0M523.4 130.7h0M516.0 131.4h0M518.7 107.1h0M520.1 148.3h0M536.1 88.8h0M532.6 132.5h0M530.9 156.1h0M512.3 124.6h0M515.8 100.3h0M540.5 154.2h0M516.2 128.8h0M520.4 116.5h0M535.8 93.9h0M521.0 103.4h0M529.6 137.5h0M529.6 142.9h0M517.3 123.3h0M516.9 109.7h0M515.1 131.3h0M520.0 140.3h0M510.3 145.9h0M536.2 122.5h0M528.6 127.5h0M535.7 157.2h0M517.4 147.2h0M532.7 89.8h0M518.6 107.2h0M511.1 138.9h0M542.0 156.2h0M531.8 109.9h0M519.2 117.3h0M511.6 123.5h0M535.9 98.7h0M541.7 136.4h0M544.3 155.3h0M539.3 148.4h0M522.3 103.4h0M532.1 144.6h0M517.8 148.5h0M517.3 125.9h0M514.4 133.8h0M537.0 155.3h0M513.6 106.9h0M517.0 116.4h0M520.4 149.5h0M531.3 100.6h0M539.1 121.1h0M516.5 122.9h0M539.6 154.0h0M536.4 144.9h0M521.1 104.4h0M537.3 113.7h0M542.7 147.2h0M534.3 94.6h0M530.1 133.7h0M540.1 149.9h0M540.4 135.7h0M543.5 148.3h0M539.7 119.6h0M529.7 106.3h0M520.9 113.3h0M538.1 128.7h0M539.2 127.4h0M537.1 97.1h0M535.8 116.1h0M523.5 121.5h0M537.6 160.0h0M535.0 107.4h0M524.6 151.2h0M530.5 129.4h0M542.0 154.1h0M541.0 141.1h0M521.9 112.2h0M517.3 119.0h0M541.2 148.5h0M511.6 136.0h0M530.9 101.3h0M517.2 104.3h0M518.6 130.1h0M510.6 138.8h0M529.8 126.8h0M535.9 117.6h0M509.5 149.3h0M514.8 123.3h0M530.3 153.4h0M517.9 147.6h0M538.6 160.8h0M515.5 144.9h0M531.3 93.3h0M512.2 131.3h0M531.4 111.8h0M530.7 106.4h0M511.5 157.4h0M511.6 143.1h0M521.9 131.6h0M519.3 138.0h0M529.9 147.4h0M530.7 140.3h0M536.2 94.9h0M519.8 148.1h0M530.6 98.7h0M533.5 161.6h0M522.8 121.9h0M517.3 126.6h0M517.2 96.0h0M512.1 147.0h0M528.9 142.7h0M533.8 98.5h0M533.8 160.4h0M536.6 145.8h0M533.2 106.9h0M533.9 110.6h0M542.4 135.1h0M530.0 137.5h0M519.7 148.5h0M519.9 114.1h0M518.8 120.8h0M517.2 90.7h0M537.8 125.8h0M527.1 161.7h0M541.4 131.8h0M533.7 117.8h0M521.0 112.6h0M533.7 86.3h0M537.4 136.5h0M514.5 123.0h0M519.1 99.5h0M517.0 101.3h0M520.7 138.3h0M520.0 118.3h0M512.6 129.3h0M515.2 142.7h0M521.8 103.4h0M514.8 112.8h0M533.7 117.7h0M509.3 154.1h0M531.6 104.7h0M518.9 107.3h0M518.4 159.1h0M514.1 117.8h0M513.8 156.0h0M528.9 134.3h0M535.9 143.2h0M512.3 137.6h0M510.2 149.9h0M521.3 126.1h0M535.8 129.4h0M518.1 94.9h0M511.7 153.9h0M528.3 137.9h0M519.8 119.7h0M517.0 145.7h0M515.0 140.8h0M540.3 135.6h0M523.4 153.6h0M538.7 107.9h0M522.4 156.3h0M539.3 147.4h0M519.3 146.2h0M522.0 149.7h0M529.7 148.5h0M518.2 141.5h0M520.1 101.8h0M519.0 95.0h0M531.2 122.1h0M511.2 131.7h0M536.0 148.7h0M515.5 92.4h0M534.3 122.4h0M530.2 151.2h0M537.4 106.4h0M535.7 136.9h0M516.5 117.2h0M519.4 152.1h0M533.4 124.5h0M536.5 104.1h0M522.4 153.8h0M532.6 147.6h0M512.2 122.7h0M517.2 114.2h0M517.1 110.4h0M512.2 142.7h0M536.3 106.0h0M524.3 138.6h0M532.4 132.2h0M534.9 91.9h0M516.7 95.0h0M531.1 102.9h0M525.1 147.4h0M523.2 119.2h0M532.2 151.2h0M523.5 148.7h0M511.1 138.1h0M509.7 137.1h0M533.6 135.0h0M528.8 149.4h0M515.2 112.0h0M540.4 148.8h0M529.7 124.1h0M531.5 90.4h0M531.2 98.1h0M533.1 127.0h0M534.1 150.6h0M513.8 136.1h0M515.8 151.4h0M517.0 108.0h0M512.6 145.2h0M538.2 109.8h0M532.1 157.1h0M540.7 142.2h0M534.7 91.8h0M532.0 132.2h0M531.2 120.6h0M539.7 128.3h0M510.0 144.0h0M533.8 160.3h0M517.6 94.3h0M520.7 124.4h0M532.4 122.6h0M516.5 116.8h0M516.4 156.9h0M541.9 151.3h0M523.2 116.3h0M530.2 99.1h0M533.3 114.6h0M533.1 146.2h0M514.3 147.5h0M530.2 121.0h0M515.6 102.2h0M530.3 130.5h0M535.0 93.2h0M536.7 116.2h0M538.4 125.3h0M529.2 149.1h0M522.7 126.5h0M535.5 137.0h0M516.7 138.4h0M520.0 90.7h0M532.7 88.3h0M536.8 155.1h0M519.8 146.0h0M515.2 153.9h0M534.2 127.1h0M536.8 132.2h0M518.0 105.4h0M533.7 141.4h0M532.4 102.9h0M539.0 155.5h0M521.4 92.3h0M518.5 141.9h0M540.0 133.7h0M512.6 142.7h0M520.5 152.3h0M532.1 99.8h0M519.6 114.5h0M528.5 157.3h0M516.3 118.6h0M519.7 100.9h0M532.2 110.1h0M540.5 133.2h0M511.4 127.9h0M510.2 150.6h0M538.7 145.3h0M508.8 152.2h0M536.4 119.4h0M534.3 115.8h0M520.8 123.7h0M515.0 134.3h0M540.7 136.3h0M513.4 115.9h0M521.7 98.9h0M516.2 122.6h0M529.7 130.7h0M518.3 105.2h0M538.9 121.1h0M509.0 155.5h0M534.2 101.3h0M536.2 93.4h0M512.8 139.1h0M536.1 101.5h0M518.0 135.1h0M536.2 117.9h0M534.2 147.8h0M536.3 156.3h0M523.1 122.1h0M519.2 112.0h0M517.5 95.6h0M536.8 150.2h0M538.0 157.9h0M539.5 153.7h0M529.7 113.9h0M509.6 149.2h0M513.3 108.4h0M539.4 138.3h0M523.2 142.6h0M523.7 155.1h0M519.1 125.7h0M535.3 142.9h0M533.2 103.3h0M515.0 126.8h0M516.3 111.8h0M518.9 135.6h0M517.7 125.2h0M534.5 140.3h0M522.3 160.4h0M512.9 112.3h0M516.9 118.1h0M530.5 155.2h0M538.1 136.2h0M530.5 105.6h0M522.0 102.9h0M532.6 132.7h0M535.3 109.2h0M522.1 130.2h0M515.3 135.8h0M520.5 104.3h0M518.3 117.9h0M512.1 122.8h0M512.7 114.5h0M535.4 135.7h0M525.7 160.4h0M521.0 92.0h0M510.1 161.0h0M522.5 140.7h0M530.2 160.2h0M532.3 87.1h0M533.2 108.4h0M510.4 149.9h0M533.1 131.7h0M530.7 113.5h0M517.5 85.8h0M517.3 144.2h0M514.5 149.0h0M538.6 153.9h0M530.6 136.2h0M532.2 143.9h0M511.3 150.0h0M529.2 159.2h0M531.8 106.9h0M539.3 132.1h0M528.3 155.9h0M535.5 128.0h0M516.3 148.4h0M517.0 121.1h0M523.6 130.0h0M519.9 104.1h0M520.5 128.6h0M529.4 145.5h0M532.2 122.3h0M521.7 113.9h0M520.2 129.9h0M521.6 156.9h0M524.6 154.2h0M538.7 111.4h0M515.0 131.8h0M539.3 160.8h0M524.5 135.9h0M522.1 146.7h0M533.3 150.3h0M527.1 154.6h0M535.8 90.3h0M522.1 135.8h0M516.0 126.8h0M520.2 104.5h0M521.5 151.3h0M534.9 89.6h0M539.2 131.8h0M517.6 107.2h0M510.1 155.6h0M538.8 123.2h0M539.6 139.3h0M521.4 122.8h0M513.9 117.1h0M513.7 138.4h0M516.6 96.1h0M519.7 97.2h0M528.0 159.5h0M517.3 125.3h0M532.0 118.6h0M536.9 116.5h0M539.7 120.9h0M537.6 153.8h0M531.8 103.0h0M516.3 115.8h0M512.3 117.3h0M530.6 118.7h0M518.4 105.6h0M532.1 125.5h0M520.1 127.3h0M531.5 160.8h0M524.0 149.1h0M531.1 91.0h0M519.9 129.1h0M519.7 98.4h0M522.0 115.6h0M522.1 146.7h0M520.6 142.4h0M519.0 100.2h0M540.8 159.0h0M543.1 154.1h0M519.7 95.6h0M520.6 85.6h0M543.2 159.7h0M516.8 137.2h0M522.4 111.4h0M532.5 115.9h0M519.3 106.5h0M522.0 116.2h0M537.3 103.4h0M539.7 127.6h0M541.6 130.2h0M517.8 143.3h0M525.6 161.4h0M537.0 103.7h0M538.3 112.5h0M532.8 152.3h0M521.1 153.0h0M520.1 112.5h0M519.0 133.4h0M523.2 128.2h0M534.4 97.6h0M535.0 111.0h0M520.2 135.5h0M535.1 126.9h0M522.1 140.8h0M534.7 158.5h0M533.8 99.7h0M534.3 153.5h0M536.8 121.3h0M523.5 154.6h0M536.6 159.4h0M520.4 127.5h0M539.2 117.9h0M510.1 142.9h0M515.7 156.0h0M529.6 138.9h0M517.9 149.6h0M523.2 120.4h0M512.9 137.0h0M515.2 113.7h0M513.8 152.7h0M519.9 122.6h0M537.9 123.7h0M536.2 101.4h0M522.6 128.9h0M517.3 98.1h0M532.4 124.3h0M516.1 134.3h0M536.6 125.7h0M529.7 155.9h0M536.4 114.7h0M534.8 96.6h0M521.0 122.6h0M514.0 127.6h0M541.5 155.8h0M538.7 145.1h0M521.6 123.3h0M522.4 156.1h0M537.9 149.4h0M532.5 133.8h0M515.9 159.4h0M538.0 117.8h0M514.8 144.9h0M534.9 116.9h0M517.8 131.2h0M529.8 158.4h0M540.3 149.2h0M514.0 125.6h0M513.1 154.3h0M533.0 138.0h0M534.4 134.7h0M529.1 134.2h0M539.8 159.1h0M509.4 153.1h0M536.8 123.1h0M523.3 127.1h0M532.7 149.7h0M536.4 132.3h0M534.0 120.4h0M539.6 142.1h0M532.3 102.8h0M537.7 118.9h0M529.5 110.3h0M531.8 91.8h0M539.6 112.4h0M525.3 149.2h0M529.5 145.6h0M512.7 149.1h0M521.0 93.3h0M536.4 158.8h0M531.4 91.7h0M536.3 101.8h0M531.4 93.8h0M540.9 123.9h0M532.1 117.1h0M524.1 147.7h0M529.8 133.2h0M533.2 95.4h0M529.2 150.4h0M528.6 158.1h0M532.5 118.4h0M531.0 135.2h0M516.1 110.2h0M534.7 98.5h0M530.7 94.6h0M521.4 136.4h0M528.5 145.8h0M520.8 117.3h0M530.3 119.8h0M531.0 150.4h0M520.0 113.9h0M510.7 158.2h0M517.3 159.6h0M533.7 124.1h0M513.6 111.0h0M543.0 147.5h0M523.2 158.2h0M538.5 117.9h0M524.0 160.4h0M519.9 126.4h0M514.5 142.4h0M519.1 153.6h0M516.5 150.9h0M516.7 136.3h0M521.7 157.6h0M525.6 158.2h0M520.1 122.5h0M537.3 123.4h0M532.4 148.5h0M510.2 152.0h0M529.4 142.7h0M534.3 123.5h0M514.3 158.4h0M515.3 125.9h0M520.6 109.5h0M535.1 129.3h0M534.0 130.5h0M535.3 159.4h0M537.1 109.8h0M515.5 140.1h0M534.3 137.2h0M518.9 98.5h0M536.4 123.0h0M524.4 148.1h0M514.1 151.4h0M519.0 144.3h0M530.5 115.1h0M531.1 150.7h0M517.1 96.5h0M524.5 136.7h0M521.3 92.8h0M516.2 112.8h0M538.7 128.2h0M533.2 89.4h0M518.8 111.8h0M520.6 159.9h0M537.9 161.1h0M524.7 153.7h0M518.4 113.7h0M519.1 133.6h0M510.2 147.7h0M520.5 152.3h0M521.5 119.7h0M514.2 109.8h0M518.3 134.2h0M540.4 134.1h0M518.8 117.1h0M539.8 151.3h0M518.9 120.0h0M518.8 124.5h0M514.1 109.4h0M534.9 116.8h0M535.3 140.1h0M519.7 95.5h0M525.0 154.2h0M528.2 135.2h0M539.4 130.7h0M518.3 106.5h0M527.7 152.8h0M533.6 143.0h0M523.1 113.8h0M534.6 148.9h0M510.8 148.4h0M526.9 155.7h0M521.6 142.9h0M511.4 161.8h0M536.2 157.4h0M525.3 149.1h0M538.6 112.0h0M520.1 95.1h0M529.8 106.1h0M518.8 153.4h0M516.3 127.3h0M519.4 92.1h0M514.4 145.0h0M527.2 155.5h0M534.9 139.3h0M532.2 124.2h0M531.1 125.9h0M535.6 99.5h0M536.3 95.6h0M514.7 144.8h0M534.8 111.8h0M532.4 117.7h0M514.5 134.4h0M536.3 107.0h0M536.6 122.6h0M543.2 146.7h0M525.3 156.1h0M516.3 135.6h0M524.6 142.6h0M518.5 112.2h0M518.5 123.0h0M522.3 137.1h0M515.1 98.6h0M516.2 107.5h0M522.1 98.0h0M510.8 131.7h0M516.0 140.9h0M536.3 154.2h0M532.9 107.6h0M517.4 142.9h0M514.1 135.4h0M520.2 113.6h0M531.6 139.5h0M535.7 143.3h0M520.2 89.9h0M521.8 142.5h0M517.1 151.0h0M524.0 127.9h0M528.2 139.8h0M513.9 116.2h0M521.1 112.4h0M514.3 143.8h0M535.7 142.4h0M538.8 128.7h0M512.7 121.6h0M529.0 161.7h0M518.1 129.4h0M514.1 123.0h0M518.1 133.6h0M534.7 121.7h0M535.4 135.9h0M540.9 141.0h0M532.2 131.5h0M518.3 151.7h0M512.2 150.3h0M518.8 138.1h0M539.7 113.0h0M522.6 148.1h0M538.8 160.7h0M511.1 136.2h0M535.7 131.9h0M531.0 116.5h0M529.9 136.1h0M535.7 107.6h0M538.5 152.2h0M515.5 143.3h0M510.3 155.5h0M529.2 142.3h0M514.3 126.6h0M540.6 139.5h0M517.4 153.4h0M535.6 141.0h0M521.2 140.5h0M532.6 114.3h0M514.4 123.8h0M528.2 151.8h0M538.6 146.7h0M534.8 114.3h0M512.4 113.9h0M518.9 111.5h0M515.5 113.5h0M532.3 145.4h0M533.8 100.3h0M508.1 153.9h0M515.0 100.3h0M538.8 141.6h0M525.1 156.5h0M530.6 111.0h0M518.8 128.0h0M534.6 158.5h0M522.0 113.7h0M530.5 161.2h0M538.9 132.0h0M537.6 161.5h0M511.0 135.0h0M520.5 137.3h0M512.5 139.0h0M533.6 118.1h0M531.2 135.7h0M516.7 125.3h0M521.9 136.8h0M514.8 100.9h0M535.6 159.8h0M522.9 145.8h0M529.8 106.2h0M538.6 129.3h0M519.2 129.2h0M519.0 148.2h0M515.9 146.8h0M533.0 148.1h0M535.7 95.0h0M515.7 159.9h0M516.9 96.3h0M518.7 147.2h0M521.5 153.9h0M540.5 128.8h0M534.6 112.7h0M516.5 107.0h0M534.4 153.4h0M538.0 110.9h0M528.9 155.6h0M515.6 143.2h0M515.9 108.7h0M538.2 121.9h0M541.2 136.3h0M510.4 151.9h0M535.2 108.9h0M543.4 159.3h0M520.9 95.7h0M520.7 155.0h0M519.5 150.5h0M512.6 128.4h0M532.4 127.4h0M507.8 161.7h0M536.8 126.3h0M522.1 116.6h0M536.7 105.6h0M513.0 161.7h0M520.3 157.5h0M524.8 149.2h0M535.7 129.9h0M533.4 122.0h0M514.3 140.8h0M522.4 115.7h0M539.8 160.4h0M524.3 152.2h0M518.1 111.9h0M510.0 156.2h0M532.5 96.6h0M531.2 144.3h0M519.8 117.8h0M514.6 151.3h0M532.5 90.9h0M513.8 108.9h0M541.0 159.9h0M518.5 156.6h0M531.8 103.8h0M516.7 125.8h0M540.9 125.3h0M532.8 140.2h0M517.7 124.8h0M535.2 151.6h0M535.6 103.7h0M515.9 143.2h0M531.8 123.5h0M536.4 120.1h0M524.5 157.7h0M527.4 152.2h0M531.1 106.2h0M520.1 148.7h0M537.0 125.9h0M517.0 137.4h0M520.7 100.9h0M530.4 159.7h0M534.8 156.0h0M514.8 109.8h0M536.9 135.5h0M524.4 157.2h0M513.4 116.3h0M533.2 114.7h0M518.1 106.9h0M515.8 139.9h0M537.2 122.7h0M521.5 106.4h0M513.3 120.3h0M520.9 113.2h0M515.5 155.1h0M514.2 117.8h0M530.9 142.0h0M522.2 132.8h0M542.8 148.0h0M522.0 118.9h0M537.2 128.1h0M518.2 96.6h0M521.9 157.6h0M510.8 134.2h0M521.1 85.4h0M531.7 110.9h0M519.9 105.9h0M538.5 113.0h0M536.5 158.4h0M529.8 136.0h0M520.0 93.4h0M528.1 155.9h0M536.7 140.3h0M516.6 134.0h0M515.1 131.1h0M537.3 135.8h0M540.5 121.2h0M536.6 95.2h0M530.5 150.4h0M535.1 128.1h0M539.5 141.7h0M515.7 159.5h0M524.5 155.9h0M515.6 114.9h0M516.5 134.6h0M514.7 129.4h0M521.7 161.3h0M530.5 107.0h0M532.9 133.0h0M534.0 126.0h0M518.0 121.2h0M530.7 110.8h0M524.3 156.8h0M517.4 114.3h0M538.8 102.6h0M508.7 160.8h0M538.8 127.2h0M516.0 116.3h0M530.6 157.4h0M518.6 97.9h0M514.8 137.8h0M539.2 136.4h0M530.2 103.0h0M536.7 98.6h0M515.3 123.8h0M525.0 157.2h0M528.6 160.0h0M522.8 131.8h0M521.6 125.9h0M512.8 147.3h0M540.6 120.9h0M535.0 103.9h0M523.4 119.9h0M519.5 129.2h0M516.5 99.1h0M521.6 102.3h0M531.0 128.4h0M513.1 129.2h0M535.4 156.1h0M539.2 131.1h0M514.6 100.1h0M521.9 147.1h0M523.8 130.3h0M531.3 104.3h0M537.7 128.4h0M537.7 101.2h0M514.4 113.9h0M539.3 135.6h0M514.8 111.7h0M538.3 137.4h0M514.7 111.4h0M521.1 105.1h0M516.9 100.7h0M520.8 124.6h0M518.1 121.7h0M522.9 137.5h0M518.3 161.5h0M513.2 108.3h0M529.9 130.6h0M519.8 101.3h0M531.2 135.8h0M518.8 159.4h0M522.7 112.0h0M514.0 140.5h0M520.3 99.3h0M531.8 108.9h0M515.5 155.8h0M540.4 115.0h0M518.2 95.2h0M519.2 137.7h0M516.9 124.7h0M520.8 140.6h0M541.5 130.5h0M538.3 134.0h0M529.4 112.1h0M514.5 145.3h0M512.6 134.0h0M521.1 150.0h0M519.4 97.4h0M537.3 112.1h0M522.0 146.9h0M519.2 140.1h0M519.0 84.7h0M522.5 120.5h0M525.5 161.5h0M521.5 142.7h0M521.2 123.9h0M522.7 119.7h0M517.3 147.6h0M522.8 123.4h0M520.4 123.6h0M519.0 156.3h0M532.4 150.3h0M530.3 103.4h0M522.6 126.0h0M515.5 102.3h0M540.8 124.8h0M530.6 93.9h0M535.5 101.3h0M521.3 93.6h0M515.3 151.3h0M510.3 161.0h0M534.0 112.1h0M522.7 136.9h0M533.5 134.6h0M533.2 158.0h0M537.7 151.0h0M531.2 127.5h0M519.7 89.1h0M538.0 101.6h0M519.1 106.1h0M514.7 141.1h0M522.7 127.4h0M523.9 151.0h0M513.5 148.8h0M522.4 157.1h0M518.2 107.3h0M540.7 160.4h0M519.1 117.3h0M533.6 99.3h0M541.8 151.0h0M520.0 146.4h0M514.2 125.5h0M535.5 101.8h0M522.2 131.0h0M519.2 128.9h0M535.4 158.4h0M532.7 108.0h0M535.8 156.6h0M540.5 124.8h0M539.8 119.1h0M537.7 139.5h0M533.4 94.7h0M528.7 142.6h0M523.7 141.5h0M530.8 92.0h0M514.5 119.2h0M519.9 115.7h0M533.3 130.6h0M514.5 108.2h0M513.2 138.3h0M530.0 133.6h0M516.4 150.9h0M539.0 115.0h0M524.1 148.4h0M533.2 91.0h0M521.5 95.6h0M518.7 115.8h0M517.8 88.3h0M540.2 151.7h0M509.4 144.6h0M531.7 157.0h0M517.2 103.0h0M517.3 109.2h0M533.2 116.5h0M536.1 122.0h0M511.9 148.6h0M520.5 110.2h0M513.3 149.2h0M532.7 112.4h0M521.1 160.2h0M528.5 137.2h0M537.0 109.6h0M514.8 147.1h0M540.5 140.4h0M517.4 148.8h0M527.9 141.8h0M539.8 112.9h0M531.8 117.2h0M521.0 113.9h0M536.6 135.0h0M529.7 119.3h0M532.2 84.1h0M514.1 157.7h0M518.3 121.8h0M512.9 123.7h0M516.5 120.0h0M532.2 89.3h0M534.8 92.2h0M531.3 145.8h0M529.8 144.7h0M527.6 152.2h0M519.5 158.5h0M516.1 149.2h0M512.8 148.2h0M533.3 107.5h0M518.9 159.0h0M525.2 154.1h0M535.7 153.5h0M514.9 122.2h0M519.7 138.1h0M519.5 119.3h0M534.9 136.8h0M540.5 141.1h0M511.9 124.9h0M539.2 130.1h0M519.0 160.7h0M538.5 133.7h0M539.1 115.5h0M516.9 109.7h0M536.4 139.6h0M520.6 111.4h0M533.5 106.1h0M536.0 131.5h0M515.4 96.1h0M519.6 96.1h0M513.8 150.9h0M514.4 141.9h0M539.4 145.9h0M521.5 100.8h0M536.2 121.8h0M523.6 149.4h0M535.5 132.8h0M523.2 129.4h0M517.0 94.0h0M541.7 161.5h0M534.4 135.7h0M514.4 122.5h0M520.2 150.4h0M513.6 114.2h0M520.0 145.2h0M513.8 153.8h0M533.3 143.7h0M515.2 120.2h0M530.8 136.2h0M540.5 123.7h0M523.1 129.9h0M519.5 98.7h0M511.8 151.7h0M532.1 161.6h0M537.3 148.7h0M534.1 134.9h0M537.5 109.4h0M517.8 99.3h0M537.4 144.7h0M508.9 157.8h0M536.7 115.3h0M514.7 117.5h0M519.2 110.9h0M516.9 141.1h0M527.9 155.3h0M529.3 133.3h0M521.3 125.6h0M523.4 122.8h0M510.1 150.8h0M519.8 111.6h0M534.8 141.5h0M514.2 138.6h0M539.4 155.3h0M537.4 147.2h0M539.3 131.8h0M528.2 153.4h0M534.1 141.7h0M538.1 159.2h0M528.3 152.7h0M531.7 136.2h0M515.4 145.8h0M534.7 106.4h0M513.7 152.9h0M532.2 149.3h0M538.4 126.4h0M536.0 97.7h0M521.6 153.9h0M530.7 158.5h0M537.1 141.8h0M516.4 134.8h0M529.2 149.0h0M536.2 117.2h0M515.9 106.4h0M517.9 92.8h0M540.0 142.8h0M519.1 122.3h0M535.3 101.3h0M529.0 136.4h0M511.5 161.1h0M511.4 132.0h0M517.9 131.1h0M516.5 92.9h0M523.8 159.9h0M529.6 160.3h0M519.6 91.4h0M533.4 137.7h0M525.5 157.8h0M508.2 158.4h0M522.8 159.8h0M537.4 106.0h0M535.3 143.6h0M536.1 98.4h0M533.2 131.0h0M519.9 154.3h0M535.4 133.6h0M531.0 99.4h0M535.2 135.6h0M530.6 136.3h0M539.0 145.1h0M521.4 92.1h0M516.2 127.0h0M537.0 115.7h0M514.1 123.4h0M530.8 131.7h0M529.4 125.2h0M528.8 138.4h0M536.7 146.8h0M529.2 140.1h0M517.9 140.2h0M513.4 114.2h0M531.0 125.0h0M539.7 152.3h0M529.7 131.4h0M531.6 105.6h0M523.2 131.1h0M530.1 133.4h0M518.7 115.6h0M538.5 131.2h0M533.0 104.2h0M533.8 158.1h0M512.3 147.4h0M521.6 157.8h0M527.1 158.5h0M532.6 111.4h0M520.6 137.7h0M518.5 123.5h0M539.7 113.8h0M537.7 158.2h0M520.3 142.8h0M520.1 161.1h0M514.6 130.7h0M514.4 119.3h0M538.6 106.1h0M516.5 101.9h0M538.2 154.9h0M517.0 120.7h0M532.1 130.4h0M513.0 128.3h0M524.8 156.6h0M530.8 96.4h0M535.9 158.3h0M517.7 100.8h0M533.3 106.8h0M509.3 152.2h0M512.5 127.2h0M539.8 122.8h0M536.9 122.3h0M542.0 135.4h0M538.5 134.8h0M530.6 113.7h0M520.2 100.0h0M529.0 160.3h0M542.4 147.1h0M533.6 125.9h0M535.3 107.0h0M529.4 157.6h0M536.7 151.3h0M523.1 116.4h0M509.5 158.1h0M520.1 127.9h0M535.1 98.3h0M528.8 126.3h0M517.2 148.1h0M515.9 103.9h0M540.8 118.5h0M517.1 155.9h0M539.3 159.9h0M534.3 118.9h0M537.4 145.2h0M530.3 101.9h0M511.8 161.7h0M518.9 154.6h0M520.6 130.6h0M518.8 149.1h0M511.7 141.2h0M515.4 119.8h0M519.8 121.2h0M521.1 98.5h0M522.3 106.1h0M536.0 105.6h0M539.1 144.3h0M537.4 159.6h0M536.1 116.8h0M530.4 143.9h0M537.4 130.7h0M531.8 95.2h0M515.5 144.1h0M515.3 94.1h0M517.9 159.2h0M524.8 159.6h0M521.4 132.3h0M530.2 152.5h0M513.4 137.5h0M542.5 134.8h0M533.4 134.1h0M539.7 143.8h0M539.6 113.5h0M512.9 147.4h0M536.4 112.1h0M531.5 160.9h0M513.7 131.5h0M539.0 161.1h0M509.7 135.2h0M535.7 112.6h0M540.7 158.8h0M515.1 138.0h0M532.7 152.3h0M530.0 159.9h0M539.9 138.9h0M520.6 126.4h0M540.4 134.8h0M528.2 154.2h0M512.8 127.9h0M538.6 131.7h0M537.0 121.1h0M513.4 113.6h0M532.6 132.2h0M538.9 106.4h0M519.6 85.1h0M538.1 153.5h0M517.7 93.1h0M518.4 93.1h0M530.7 133.3h0M521.8 104.4h0M524.2 146.9h0M531.9 131.5h0M523.7 142.1h0M512.1 130.7h0M534.3 91.5h0M538.9 148.5h0M521.2 141.1h0M512.6 131.6h0M521.5 101.5h0M521.1 130.8h0M535.2 91.3h0M539.6 110.4h0M517.6 96.7h0M521.8 124.3h0M541.6 153.9h0M538.2 110.1h0M518.1 133.7h0M530.0 118.1h0M530.1 131.1h0M515.1 149.4h0M541.4 124.1h0M525.4 157.1h0M537.8 111.0h0M520.8 142.4h0M514.9 118.0h0M519.4 150.2h0M536.1 137.9h0M539.0 137.8h0M531.5 96.7h0M531.7 154.2h0M518.0 133.9h0M535.0 112.8h0M540.9 138.2h0M535.7 152.4h0M514.6 106.1h0M518.6 104.6h0M512.4 145.0h0M534.3 145.9h0M533.7 116.4h0M525.0 156.6h0M524.8 148.7h0M520.1 97.9h0M536.6 121.4h0M514.3 106.3h0M522.5 111.0h0M542.9 153.0h0M519.3 90.3h0M529.6 111.3h0M539.9 138.9h0M535.9 130.9h0M512.2 128.1h0M517.3 91.2h0M538.5 143.3h0M534.6 125.6h0M516.7 92.6h0M517.9 91.4h0M518.7 127.2h0M516.8 132.5h0M519.7 158.9h0M535.4 110.7h0M541.3 140.3h0M519.6 110.7h0M511.7 138.7h0M519.3 105.3h0M537.2 147.7h0M529.3 118.9h0M515.7 142.8h0M520.9 139.2h0M530.5 105.6h0M531.5 154.6h0M520.3 93.3h0M520.6 131.6h0M516.1 155.6h0M541.5 142.2h0M513.0 159.9h0M520.8 154.0h0M518.6 112.9h0M537.2 140.6h0M530.8 100.7h0M515.6 136.7h0M520.0 158.3h0M522.3 134.9h0M531.0 139.1h0M539.9 128.1h0M519.8 86.1h0M512.7 115.5h0M513.1 130.1h0M533.4 88.5h0M533.7 121.2h0M533.8 144.3h0M530.5 111.6h0M530.5 101.8h0M538.2 139.4h0M523.9 129.8h0M528.9 140.8h0M512.5 146.9h0M510.5 144.2h0M534.2 89.1h0M515.0 109.0h0M522.2 119.0h0M522.1 116.9h0M512.2 138.1h0M542.9 154.8h0M528.5 136.8h0M534.8 128.7h0M511.5 132.1h0M520.1 125.8h0M541.6 132.8h0M521.0 144.3h0M523.3 127.5h0M521.0 91.8h0M520.3 117.8h0M515.6 154.5h0M517.6 160.8h0M534.5 128.8h0M518.2 89.3h0M518.8 93.7h0M529.5 153.2h0M537.0 115.9h0M535.6 147.0h0M541.1 122.8h0M530.6 159.3h0M518.0 134.6h0M534.1 130.4h0M542.3 146.0h0M514.6 102.1h0M507.7 159.6h0M509.4 159.0h0M523.9 143.9h0M532.1 161.4h0M541.9 148.7h0M534.0 111.0h0M527.1 157.0h0M523.0 111.3h0M518.3 99.0h0M519.8 93.0h0M531.0 156.6h0M529.8 134.5h0M524.3 140.4h0M533.1 153.3h0M519.4 87.9h0M534.9 110.1h0M515.5 148.0h0M536.2 134.4h0M536.1 115.6h0M521.6 123.7h0M517.9 91.7h0M533.2 143.8h0M522.5 111.0h0M538.2 121.1h0M539.6 155.7h0M521.8 143.1h0M529.2 159.8h0M529.4 140.9h0M521.1 158.0h0M529.7 119.0h0M540.8 139.7h0M530.2 100.8h0M512.2 152.0h0M523.1 150.6h0M518.2 144.4h0M516.4 142.5h0M528.8 133.2h0M520.4 126.0h0M530.1 155.3h0M512.6 149.1h0M519.6 157.5h0M522.5 128.6h0M515.8 150.2h0M513.5 145.2h0M521.0 118.7h0M532.4 131.6h0M518.5 158.6h0M529.3 161.1h0M542.4 146.1h0M536.9 98.4h0M512.5 140.1h0M534.2 139.5h0M535.0 157.5h0M531.5 121.1h0M533.2 95.0h0M529.5 113.0h0M519.1 129.6h0M521.2 145.3h0M535.7 115.1h0M534.2 121.3h0M542.5 141.9h0M538.2 155.9h0M523.3 123.0h0M509.8 151.0h0M542.5 150.1h0M539.9 115.2h0M515.5 142.1h0M528.1 154.6h0M534.0 118.5h0M529.7 153.2h0M514.8 153.1h0M511.3 136.9h0M539.3 139.2h0M518.8 146.4h0M530.1 107.1h0M540.9 143.6h0M535.4 135.3h0M530.6 93.8h0M536.2 102.3h0M520.2 98.5h0M528.7 133.1h0M537.7 146.4h0M520.5 110.0h0M513.8 106.8h0M533.0 146.9h0M519.1 117.5h0M540.3 122.8h0M518.5 111.7h0M536.8 111.4h0M529.9 154.5h0M542.2 135.7h0M515.1 157.9h0M536.9 141.4h0M509.1 160.3h0M518.1 150.6h0M541.1 144.3h0M543.9 152.6h0M514.1 107.9h0M515.1 96.4h0M530.0 147.8h0M519.1 105.7h0M516.3 141.8h0M537.7 115.4h0M523.2 148.8h0M517.0 146.4h0M529.4 134.8h0M515.3 109.0h0M530.8 148.2h0M537.7 121.9h0M537.6 145.3h0M531.1 157.1h0M520.2 135.4h0M513.7 102.1h0M535.8 123.5h0M520.6 91.5h0M518.9 98.9h0M533.2 131.8h0M532.1 94.4h0M520.2 92.9h0M530.6 114.8h0M520.3 149.3h0M516.5 105.9h0M521.3 148.6h0M541.1 143.2h0M537.0 145.4h0M536.3 150.3h0M533.4 140.9h0M531.0 159.2h0M524.6 144.0h0M540.2 122.1h0M539.3 154.5h0M537.7 148.0h0M531.8 143.0h0M534.1 143.3h0M516.7 108.8h0M514.0 144.1h0M531.1 102.8h0M519.1 99.9h0M531.5 93.8h0M533.0 110.9h0M525.3 158.1h0M535.4 109.7h0M519.1 103.1h0M538.0 131.3h0M529.7 139.4h0M516.0 128.9h0M522.0 141.7h0M523.9 155.3h0M521.9 116.9h0M528.4 146.2h0M514.2 108.5h0M516.5 149.4h0M543.9 159.0h0M540.8 141.4h0M524.1 142.3h0M534.7 142.1h0M515.3 116.3h0M509.3 148.1h0M519.7 114.5h0M521.2 128.4h0M530.4 100.4h0M537.1 147.2h0M514.6 141.2h0M514.5 108.4h0M539.7 151.6h0M542.3 138.3h0M536.7 119.8h0M523.0 131.4h0M528.9 125.6h0M534.3 87.8h0M535.7 161.8h0M521.1 140.2h0M514.3 111.1h0M527.7 149.2h0M517.1 132.1h0M540.9 137.1h0M534.4 144.8h0M514.2 140.8h0M520.5 146.8h0M523.4 127.0h0M533.2 109.8h0M520.0 149.8h0M540.5 161.1h0M533.4 113.8h0M538.0 108.5h0M521.6 145.4h0M530.9 156.4h0M517.5 131.8h0M535.8 112.6h0M537.9 115.2h0M532.6 145.9h0M521.5 151.9h0M531.6 87.1h0M520.7 150.9h0M537.3 141.9h0M520.0 88.3h0M517.6 110.3h0M515.0 110.1h0M517.8 100.6h0M512.9 148.9h0M537.6 125.1h0M515.9 120.0h0M519.9 121.1h0M514.8 116.1h0M527.4 145.5h0M519.1 101.8h0M510.0 148.8h0M532.2 100.2h0M519.4 157.9h0M531.9 91.1h0M539.4 117.4h0M544.0 160.4h0M537.2 115.7h0M536.5 157.2h0M519.8 147.8h0M531.6 90.7h0M523.0 136.0h0M536.9 130.5h0M519.3 101.6h0M519.5 117.4h0M518.7 154.7h0M517.7 105.6h0M531.9 100.4h0M532.4 101.5h0M520.5 98.0h0M519.3 132.1h0M520.6 104.2h0M531.9 129.1h0M534.6 139.7h0M521.8 136.6h0M537.2 99.8h0M510.1 140.3h0M532.6 110.3h0M530.5 118.1h0M535.7 132.1h0M528.9 153.9h0M519.7 88.7h0M530.2 114.4h0M519.7 125.4h0M523.0 129.8h0M514.1 138.0h0M538.2 160.8h0M540.5 120.4h0M541.3 146.9h0M520.5 117.2h0M520.7 123.3h0M539.7 151.2h0M530.8 102.3h0M536.4 154.6h0M530.7 129.1h0M522.2 160.4h0M522.9 141.7h0M518.5 138.1h0M541.5 137.0h0M540.8 144.3h0M536.6 144.3h0M516.3 97.0h0M532.8 153.1h0M533.5 118.0h0M538.5 156.6h0M515.3 124.7h0M518.4 136.1h0M533.9 150.2h0M509.7 149.2h0M531.5 160.1h0M542.7 152.1h0M509.0 149.7h0M522.0 116.5h0M534.1 111.8h0M511.9 155.1h0M520.2 138.2h0M519.4 112.6h0M519.3 140.3h0M521.8 154.0h0M517.5 133.7h0M524.8 157.1h0M541.7 149.9h0M519.5 114.4h0M530.2 156.7h0M518.9 99.2h0M517.0 142.6h0M535.1 154.5h0M530.9 133.4h0M538.8 104.6h0M529.2 149.5h0M518.0 105.4h0M539.9 157.4h0M522.0 142.8h0M536.7 102.7h0M518.1 121.9h0M524.0 145.5h0M533.0 98.6h0M535.5 120.8h0M513.8 133.6h0M533.3 142.3h0M521.3 128.6h0M534.6 131.6h0M533.6 119.1h0M513.9 133.5h0M528.5 136.6h0M521.4 107.8h0M536.5 100.4h0M541.3 151.9h0M529.0 151.9h0M518.9 140.2h0M519.9 89.3h0M519.7 129.6h0M514.9 161.2h0M522.9 140.4h0M519.2 86.7h0M535.2 147.2h0M520.5 91.5h0M515.3 149.3h0M529.0 139.1h0M517.9 127.4h0M537.4 141.0h0M512.1 155.7h0M536.8 160.6h0M537.2 134.9h0M537.5 105.9h0M519.0 151.7h0M535.7 123.5h0M529.5 132.5h0M519.9 96.7h0M521.6 120.2h0M539.8 153.7h0M530.2 122.4h0M514.9 121.7h0M521.7 107.5h0M519.1 121.3h0M530.6 143.8h0M512.7 144.3h0M530.0 119.7h0M525.8 157.1h0M515.7 103.4h0M518.8 94.2h0M531.1 140.8h0M529.6 123.9h0M530.1 130.9h0M516.2 128.2h0M529.7 124.8h0M518.0 94.2h0M516.4 106.9h0M530.4 134.2h0M541.2 160.8h0M532.2 138.3h0M521.7 124.1h0M533.2 108.9h0M536.9 114.9h0M529.2 132.6h0M530.0 103.4h0M519.2 106.0h0M531.4 133.0h0M516.8 148.1h0M516.3 103.8h0M523.4 136.9h0M534.8 127.3h0M520.7 129.6h0M530.7 91.7h0M517.1 128.6h0M535.1 156.1h0M518.2 153.3h0M521.2 132.1h0M511.9 154.8h0M516.8 120.7h0M529.6 135.5h0M528.2 158.9h0M535.9 113.9h0M519.2 100.8h0M532.5 150.8h0M520.0 136.2h0M510.8 132.8h0M534.0 138.9h0M514.9 121.2h0M533.3 148.4h0M535.2 153.0h0M536.2 136.8h0M529.8 118.8h0M514.1 105.0h0M534.0 144.4h0M520.2 133.2h0M529.2 145.8h0M532.8 104.5h0M529.7 154.6h0M532.3 137.0h0M511.9 134.7h0M516.5 154.9h0M518.8 103.4h0M533.1 116.1h0M518.0 117.6h0M515.0 123.7h0M539.0 119.9h0M512.9 151.2h0M520.0 92.8h0M520.2 97.7h0M527.3 151.7h0M514.3 111.7h0M534.6 153.4h0M537.7 117.6h0M534.1 129.8h0M532.2 138.9h0M532.1 152.1h0M515.6 121.1h0M535.4 118.6h0M531.4 154.1h0M541.3 126.7h0M535.1 98.2h0M536.0 120.1h0M533.2 139.1h0M528.3 154.1h0M513.5 115.9h0M512.7 155.2h0M520.1 98.7h0M535.9 103.1h0M519.5 142.1h0M509.0 159.2h0M529.4 161.4h0M517.2 89.2h0M536.1 145.0h0M538.7 128.4h0M541.2 141.3h0M531.7 129.0h0M515.3 99.7h0M517.1 115.5h0M535.0 161.5h0M533.0 88.3h0M531.7 141.1h0M517.5 132.6h0M537.9 142.4h0M527.6 160.2h0M539.8 137.5h0M537.6 132.9h0M540.6 127.6h0M531.0 113.1h0M540.8 156.6h0M518.1 127.5h0M519.2 133.0h0M530.0 104.8h0M515.3 100.2h0M514.2 151.7h0M542.2 138.3h0M537.1 94.3h0M523.0 116.4h0M527.9 143.9h0M533.5 152.8h0M532.7 155.1h0M533.7 101.4h0M517.8 104.5h0M537.6 133.2h0M519.4 109.9h0M536.3 100.2h0M517.1 135.5h0M519.2 90.4h0M535.1 153.8h0M533.8 150.3h0M511.3 142.6h0M519.8 156.5h0M528.2 159.4h0M515.7 107.7h0M515.4 110.2h0M536.4 125.1h0M508.5 157.5h0M514.6 109.9h0M537.5 128.6h0M536.2 135.5h0M522.6 114.3h0M533.8 132.7h0M534.1 146.6h0M529.8 136.6h0M513.4 149.8h0M516.7 144.5h0M541.1 136.9h0M520.7 110.5h0M541.6 129.6h0M536.2 151.3h0M534.1 114.8h0M514.9 118.1h0M530.7 110.0h0M532.7 157.0h0M532.7 120.5h0M532.3 158.0h0M517.4 134.4h0M518.2 145.8h0M522.6 143.2h0M532.7 116.2h0M512.3 130.6h0M532.6 147.5h0M510.0 143.5h0M520.1 133.5h0M518.7 131.1h0M529.1 159.6h0M535.0 152.3h0M522.0 157.2h0M535.5 99.8h0M519.7 151.6h0M532.2 103.0h0M533.5 125.9h0M520.7 97.6h0M533.1 96.3h0M534.3 90.2h0M519.9 119.1h0M520.7 124.5h0M537.0 157.7h0M514.6 123.9h0M513.0 130.8h0M529.1 122.9h0M533.4 129.7h0M534.7 142.1h0M543.0 146.0h0M538.9 103.3h0M537.7 109.8h0M518.5 141.1h0M530.3 139.3h0M520.1 94.9h0M519.7 113.6h0M516.5 131.8h0M519.1 90.8h0M535.0 141.9h0M522.9 113.0h0M530.8 152.4h0M529.1 149.3h0M520.2 119.9h0M519.6 98.3h0M532.0 95.6h0M529.6 113.8h0M532.2 117.7h0M539.1 123.0h0M521.0 145.9h0M515.7 99.7h0M538.3 111.4h0M519.5 126.2h0M519.4 105.0h0M517.1 133.4h0M518.1 92.0h0M518.6 153.7h0M521.1 141.1h0M511.2 154.4h0M531.7 121.7h0M515.2 108.1h0M517.5 103.6h0M521.7 146.8h0M538.4 158.3h0M534.0 123.1h0M518.3 126.0h0M513.7 156.5h0M540.1 148.4h0M512.9 126.2h0M514.2 116.0h0M512.2 142.1h0M530.2 102.6h0M530.3 100.0h0M527.2 155.8h0M527.4 146.6h0M534.7 112.2h0M515.3 98.1h0M530.3 157.2h0M535.4 139.5h0M532.8 97.6h0M517.9 129.4h0M534.6 127.7h0M533.3 96.1h0M536.8 122.2h0M511.0 145.8h0M520.1 119.8h0M534.6 160.8h0M539.2 158.0h0M517.3 87.4h0M511.8 143.2h0M535.6 113.4h0M513.3 109.8h0M537.6 136.9h0M532.4 111.7h0M540.6 141.9h0M531.5 140.7h0M529.2 148.1h0M528.2 144.2h0M512.6 143.3h0M513.3 138.6h0M534.9 102.1h0M534.7 136.8h0M509.2 160.1h0M536.3 97.5h0M541.2 126.3h0M515.4 156.0h0M516.2 124.2h0M535.8 149.5h0M518.2 141.0h0M514.7 137.3h0M520.1 131.2h0M518.4 99.2h0M517.5 154.3h0M540.4 146.6h0M527.5 161.4h0M531.3 121.4h0M535.4 116.4h0M530.2 135.8h0M523.1 129.6h0M537.1 106.7h0M533.4 154.6h0M515.0 148.8h0M530.0 144.3h0M528.3 139.6h0M538.3 160.5h0M533.4 91.9h0M524.7 159.3h0M514.0 108.7h0M516.2 152.1h0M534.3 91.2h0M532.5 153.4h0M536.1 147.1h0M511.5 132.0h0M539.7 128.4h0M537.0 134.8h0M536.2 95.8h0M533.2 120.3h0M536.5 121.2h0M536.4 129.1h0M535.9 157.6h0M514.2 135.7h0M540.2 160.6h0M519.0 111.3h0M535.2 108.5h0M512.7 152.9h0M532.2 157.2h0M518.5 130.9h0M517.3 155.2h0M533.1 129.9h0M522.0 100.3h0M537.0 133.2h0M518.3 153.4h0M539.5 119.5h0M530.0 121.3h0M518.8 158.4h0M512.2 135.5h0M510.0 150.7h0M533.7 96.4h0M520.9 143.8h0M519.3 158.5h0M531.9 132.4h0M540.2 119.0h0M532.0 138.5h0M533.6 148.6h0M538.5 128.1h0M528.5 153.2h0M536.4 154.8h0M514.1 120.3h0M536.6 94.9h0M529.9 131.2h0M509.4 153.3h0M540.3 144.4h0M542.1 142.3h0M514.7 105.7h0M512.8 156.5h0M522.2 110.3h0M521.6 136.8h0M532.0 112.5h0M511.4 139.1h0M518.7 89.3h0M529.8 107.2h0M523.2 149.6h0M515.7 159.4h0M534.6 132.3h0M522.7 117.5h0M530.3 101.2h0M511.8 155.0h0M512.7 132.8h0M541.3 148.2h0M520.7 150.9h0M519.7 138.9h0M542.0 134.7h0M532.4 134.1h0M533.3 159.4h0M537.6 132.1h0M522.1 110.5h0M513.0 143.1h0M514.3 127.0h0M521.6 140.7h0M511.0 136.3h0M516.4 127.7h0M529.6 120.7h0M519.4 125.4h0M512.2 128.8h0M533.9 154.6h0M519.7 98.6h0M520.6 137.9h0M515.0 101.2h0M516.4 119.9h0M530.6 122.4h0M537.6 141.8h0M511.8 124.5h0M529.6 135.3h0M533.6 140.3h0M541.0 143.7h0M520.2 124.5h0M543.6 156.3h0M533.3 147.8h0M531.0 115.6h0M541.9 130.9h0M518.7 103.6h0M530.9 149.5h0M519.2 157.0h0M517.9 159.6h0M518.1 108.5h0M516.7 100.8h0M533.1 103.7h0M512.3 146.3h0M510.8 138.0h0M527.9 158.3h0M518.5 154.7h0M537.6 102.1h0M533.9 144.9h0M529.0 145.1h0M535.3 106.1h0M535.2 125.1h0M526.7 159.8h0M523.2 149.4h0M515.1 121.9h0M535.7 160.3h0M520.4 132.3h0M537.1 102.9h0M517.3 132.6h0M539.4 119.4h0M532.6 117.3h0M536.9 141.3h0M520.3 106.9h0M515.4 103.5h0M518.0 150.3h0M533.5 154.8h0M521.1 111.3h0M520.5 135.3h0M520.6 137.0h0M517.8 134.5h0M528.5 137.9h0M538.6 144.6h0M515.5 120.4h0M520.8 123.0h0M528.1 152.6h0M532.4 156.6h0M533.7 161.5h0M538.7 127.7h0M534.5 114.6h0M531.3 153.2h0M533.1 138.8h0M528.9 155.5h0M536.8 126.5h0M531.4 136.3h0M532.1 133.2h0M519.3 150.6h0M511.7 145.8h0M518.3 99.3h0M540.4 118.8h0M514.6 104.0h0M516.2 125.5h0M542.3 142.6h0M528.5 134.4h0M516.1 146.0h0M518.5 146.6h0M532.5 115.2h0M543.6 160.2h0M510.6 156.6h0M515.4 145.1h0M514.4 125.9h0M533.1 90.1h0M539.6 131.6h0M529.2 136.2h0M540.1 137.2h0M520.2 89.7h0M529.5 155.4h0M516.2 103.5h0M514.0 123.7h0M537.2 150.3h0M531.4 118.7h0M520.6 119.6h0M522.3 126.0h0M532.7 132.4h0M512.4 143.0h0M522.1 119.8h0M524.4 143.1h0M531.6 148.7h0M530.2 131.3h0M515.9 121.6h0M529.9 156.9h0M514.2 106.9h0M515.8 154.0h0M534.9 132.6h0M522.9 151.7h0M539.6 141.6h0M514.6 135.0h0M521.4 130.4h0M538.3 153.5h0M524.1 159.4h0M515.2 99.7h0M537.0 106.0h0M537.2 129.7h0M513.2 147.9h0M537.1 97.9h0M538.6 149.4h0M537.1 104.6h0M537.1 109.0h0M533.4 160.4h0M537.7 103.4h0M535.2 145.9h0M511.6 156.7h0M530.6 130.8h0M515.9 137.9h0M513.2 158.0h0M538.0 127.1h0M517.6 97.6h0M535.6 140.9h0M530.6 120.9h0M532.9 127.8h0M520.1 118.6h0M517.2 130.5h0M528.4 161.2h0M515.5 113.9h0M538.1 135.6h0M531.9 158.4h0M521.3 90.1h0M514.5 132.3h0M532.4 119.2h0M513.2 161.1h0M521.1 138.6h0M539.0 114.3h0M534.5 94.0h0M515.5 93.6h0M535.5 148.6h0M537.4 134.9h0M541.2 155.7h0M530.2 98.5h0M534.7 92.1h0M531.0 125.4h0M509.4 159.8h0M539.3 160.4h0M539.4 155.5h0M512.8 139.8h0M535.9 139.2h0M540.6 124.4h0M535.5 140.3h0M518.2 159.2h0M531.5 156.9h0M541.8 158.4h0M523.6 129.2h0M520.7 109.8h0M522.7 148.7h0M535.7 101.6h0M535.3 117.5h0M516.5 99.8h0M535.8 100.1h0M532.1 92.9h0M534.0 154.9h0M539.1 117.2h0M515.7 143.1h0M537.5 103.1h0M522.5 143.1h0M538.3 115.2h0M518.4 106.6h0M532.0 160.2h0M539.9 133.6h0M539.8 126.2h0M514.5 150.2h0M517.5 83.8h0M537.7 138.7h0M531.6 129.9h0M540.3 116.1h0M536.1 122.4h0M540.9 129.6h0M531.4 114.1h0M520.2 135.8h0M516.3 143.0h0M522.3 111.9h0M510.8 152.4h0M533.1 118.2h0M516.6 100.2h0M536.4 151.1h0M522.4 160.0h0M528.8 156.2h0M522.0 124.6h0M528.7 141.3h0M523.4 129.7h0M530.8 150.4h0M520.4 98.2h0M521.0 147.0h0M516.4 98.1h0M516.7 140.7h0M514.2 152.8h0M536.0 152.2h0M518.7 122.7h0M540.6 131.6h0M511.1 142.3h0M531.3 158.9h0M538.5 134.6h0M536.8 93.8h0M537.6 143.3h0M532.9 139.6h0M535.5 151.6h0M530.9 127.8h0M531.4 146.1h0M531.7 100.1h0M533.3 128.0h0M518.1 106.8h0M517.8 131.5h0M530.8 89.3h0M532.7 118.3h0M520.7 96.0h0M513.7 155.4h0M537.5 129.7h0M516.5 134.1h0M529.3 147.6h0M530.1 140.6h0M527.6 141.8h0M519.6 159.9h0M532.7 157.6h0M521.6 98.4h0M511.5 157.7h0M515.4 137.9h0M539.7 121.2h0M536.2 128.2h0M517.1 113.6h0M516.0 125.2h0M520.1 141.2h0M534.2 103.1h0M532.4 100.9h0M537.3 143.4h0M528.3 131.1h0M537.2 108.5h0M514.0 135.5h0M522.5 107.2h0M520.3 100.8h0M532.3 105.4h0M514.8 155.1h0M535.5 157.4h0M536.0 130.7h0M517.0 103.6h0M531.0 135.9h0M540.5 154.9h0M521.3 135.1h0M512.2 147.0h0M520.4 143.9h0M541.2 143.1h0M523.3 143.0h0M536.9 122.7h0M533.6 134.5h0M528.8 144.2h0M519.2 104.8h0M522.5 161.4h0M530.8 134.3h0M515.5 96.4h0M518.5 105.6h0M531.1 152.9h0M539.6 152.1h0M518.8 117.6h0M530.6 138.0h0M517.0 100.1h0M517.3 119.2h0M521.4 133.7h0M532.1 152.5h0M521.0 100.7h0M532.3 120.9h0M537.8 160.9h0M515.1 101.4h0M517.1 120.9h0M530.3 129.0h0M532.6 141.5h0M538.5 157.5h0M537.0 141.4h0M519.1 122.4h0M530.1 158.2h0M539.9 138.2h0M513.2 137.2h0M512.9 125.5h0M516.8 146.2h0M531.9 152.5h0M536.8 118.6h0M532.1 138.8h0M517.3 110.1h0M525.4 158.1h0M534.4 100.7h0M538.3 131.0h0M540.1 126.1h0M516.2 133.1h0M514.0 103.3h0M528.3 158.8h0M533.2 135.8h0M540.9 135.8h0M519.3 147.4h0M514.0 117.0h0M532.6 128.2h0M511.4 145.2h0M518.5 89.8h0M535.2 89.8h0M513.1 137.8h0M523.1 143.4h0M518.2 119.2h0M521.2 134.4h0M536.5 129.2h0M520.8 89.7h0M516.0 98.6h0M515.2 95.0h0M532.6 150.6h0M514.4 155.7h0M534.3 129.3h0M540.7 128.9h0M531.1 140.5h0M535.5 161.3h0M535.2 147.3h0M541.4 157.0h0M535.8 103.6h0M538.5 132.4h0M539.1 139.7h0M534.4 135.0h0M537.4 110.4h0M522.0 161.7h0M523.0 155.3h0M522.8 110.7h0M537.7 109.1h0M514.7 137.7h0M514.5 153.9h0M518.2 131.5h0M533.5 127.6h0M538.8 139.9h0M513.6 129.8h0M532.2 130.8h0M517.3 139.4h0M520.2 119.3h0M511.3 149.5h0M536.2 148.2h0M510.6 147.2h0M532.1 147.8h0M533.5 107.7h0M524.8 146.9h0M535.4 117.8h0M540.0 155.5h0M541.0 140.9h0M514.9 109.3h0M537.0 120.4h0M523.1 116.4h0M523.8 133.7h0M525.5 161.6h0M535.0 155.0h0M522.4 158.0h0M521.5 147.0h0M532.4 138.2h0M536.8 115.3h0M533.5 106.3h0M515.9 159.5h0M535.2 155.2h0M534.5 132.4h0M513.1 150.3h0M528.6 161.1h0M510.4 145.7h0M517.2 129.6h0M530.3 101.7h0M534.2 97.4h0M520.4 102.9h0M539.5 124.4h0M542.9 159.2h0M516.6 109.8h0M519.2 155.8h0M515.2 158.8h0M539.1 134.3h0M529.8 126.9h0M511.1 161.5h0M533.2 152.2h0M534.5 129.7h0M522.7 129.5h0M510.3 156.7h0M531.3 148.7h0M515.9 120.9h0M514.2 115.4h0M529.6 142.3h0M531.9 149.2h0M511.4 133.3h0M539.2 125.3h0M516.2 149.9h0M535.3 102.9h0M520.2 108.6h0M526.5 159.7h0M537.0 127.6h0M537.7 151.3h0M531.8 97.4h0M520.7 111.4h0M517.3 147.0h0M513.1 115.0h0M523.3 120.1h0M515.5 97.6h0M535.6 142.1h0M515.9 95.5h0M517.1 151.6h0M518.1 116.1h0M531.6 120.8h0M520.6 133.0h0M515.2 112.7h0M532.4 89.0h0M541.6 146.1h0M512.3 154.9h0M528.4 151.5h0M512.0 131.4h0M524.1 146.8h0M516.6 97.7h0M533.8 109.6h0M537.7 119.0h0M514.9 160.6h0M537.9 137.3h0M540.2 155.7h0M525.3 157.2h0M517.0 125.6h0M513.2 127.3h0M516.6 109.1h0M517.8 149.0h0M515.5 126.3h0M534.3 146.7h0M536.9 153.4h0M534.2 137.6h0M538.9 118.1h0M533.3 135.1h0M524.6 153.3h0M531.3 95.5h0M531.5 145.9h0M541.0 143.9h0M517.5 156.5h0M533.1 117.9h0M539.7 127.5h0M534.6 147.0h0M518.9 96.4h0M509.0 148.9h0M542.3 141.3h0M511.9 118.7h0M524.6 139.8h0M542.1 155.8h0M512.8 132.2h0M533.0 109.2h0M523.8 140.6h0M517.1 132.6h0M513.5 130.8h0M529.8 142.3h0M532.5 155.9h0M531.8 127.6h0M521.3 131.2h0M523.2 127.4h0M517.0 96.4h0M532.4 106.3h0M514.9 140.0h0M527.5 146.9h0M512.9 133.7h0M514.2 129.2h0M522.0 133.8h0M517.3 120.5h0M537.3 140.9h0M517.1 144.0h0M509.9 139.5h0M532.2 87.0h0M517.3 148.7h0M531.6 112.6h0M520.5 153.0h0M520.4 127.2h0M537.7 133.6h0M530.3 158.2h0M524.8 142.6h0M532.5 158.2h0M532.6 135.9h0M509.7 153.3h0M536.0 152.8h0M519.7 135.4h0M517.2 105.6h0M513.9 154.5h0M515.8 145.9h0M534.2 145.3h0M527.0 158.2h0M535.8 128.3h0M519.3 142.3h0M520.6 158.0h0M512.6 119.0h0M543.2 152.7h0M518.3 110.5h0M512.0 151.5h0M523.0 151.7h0M535.0 98.7h0M534.2 87.6h0M516.3 107.4h0M530.6 97.1h0M532.5 138.2h0M517.3 145.2h0M537.6 105.9h0M535.8 151.4h0M541.0 148.7h0M544.8 160.7h0M528.4 143.4h0M515.5 96.7h0M522.2 152.5h0M519.3 101.7h0M528.8 140.5h0M535.5 134.4h0M513.5 107.3h0M512.8 143.9h0M517.7 102.4h0M513.1 125.2h0M511.4 141.2h0M522.6 121.3h0M510.3 141.8h0M528.2 146.2h0M514.8 105.3h0M519.4 142.9h0M513.1 139.2h0M523.3 123.9h0M537.8 107.7h0M521.1 114.4h0M518.6 116.5h0M524.0 143.9h0M522.8 144.3h0M533.5 100.6h0M522.5 137.2h0M522.5 134.6h0M519.0 155.5h0M537.5 135.3h0M513.4 153.0h0M530.2 127.9h0M528.7 151.3h0M522.6 135.8h0M517.8 126.1h0M531.9 118.3h0M517.3 140.0h0M529.5 120.7h0M535.4 110.8h0M519.6 142.3h0M529.7 154.7h0M532.8 151.2h0M516.7 117.5h0M517.2 99.1h0M510.4 153.3h0M524.5 140.3h0M525.6 156.6h0M517.4 100.1h0M533.8 92.1h0M531.4 128.8h0M538.0 135.5h0M531.2 108.3h0M521.5 107.7h0M516.6 156.1h0M518.2 139.1h0M537.5 146.5h0M518.9 112.6h0M510.3 161.7h0M522.7 131.5h0M533.4 157.0h0M536.2 131.5h0M527.1 159.4h0M535.7 154.4h0M519.9 106.0h0M523.6 158.1h0M509.9 153.7h0M523.1 134.5h0M535.7 107.6h0M519.8 122.3h0M538.4 158.4h0M530.4 101.5h0M521.0 149.8h0M515.6 101.9h0M540.8 134.9h0M535.6 111.9h0M519.1 101.6h0M515.6 94.6h0M540.9 135.7h0M543.8 151.8h0M529.8 112.8h0M538.4 102.5h0M530.8 135.9h0M520.0 102.5h0M522.2 115.0h0M535.0 119.8h0M530.6 149.3h0M519.6 122.0h0M532.1 150.3h0M531.1 139.7h0M540.5 152.5h0M518.9 139.8h0M516.2 132.0h0M510.9 155.0h0M533.4 150.2h0M515.0 149.2h0M536.6 159.1h0M511.3 150.1h0M534.5 160.6h0M516.7 158.2h0M515.5 116.0h0M536.2 104.9h0M519.6 121.7h0M515.3 107.3h0M531.4 128.7h0M533.8 110.4h0M537.5 160.0h0M522.9 120.4h0M539.3 131.2h0M515.8 118.9h0M531.5 138.7h0M530.6 126.1h0M529.1 117.6h0M516.1 117.2h0M536.7 135.1h0M529.5 160.6h0M512.0 136.3h0M519.8 99.6h0M519.6 134.3h0M539.7 123.3h0M540.8 135.8h0M524.5 138.5h0M534.9 118.1h0M513.9 147.1h0M533.8 146.5h0M519.7 130.8h0M530.9 130.3h0M528.6 152.8h0M515.1 131.8h0M521.5 98.2h0M518.3 115.1h0M534.0 147.4h0M539.3 118.5h0M531.9 152.5h0M523.7 140.1h0M527.6 154.2h0M514.5 111.8h0M515.1 128.6h0M514.6 147.6h0M520.3 151.0h0M525.0 153.3h0M519.5 154.3h0M540.0 130.2h0M541.3 152.9h0M516.8 89.6h0M516.1 127.1h0M532.8 105.4h0M519.8 150.5h0M519.1 122.3h0M523.3 138.5h0M521.6 161.5h0M521.6 90.4h0M514.4 130.5h0M522.4 128.9h0M512.6 116.6h0M529.3 117.8h0M521.8 105.1h0M514.6 109.7h0M517.1 132.2h0M522.5 152.4h0M535.9 143.9h0M515.9 135.8h0M538.1 110.1h0M538.2 105.0h0M533.3 95.7h0M514.8 107.7h0M541.1 153.3h0M536.8 121.4h0M518.6 128.2h0M530.5 159.5h0M539.2 151.2h0M514.6 118.8h0M519.0 140.0h0M518.3 115.5h0M532.1 123.4h0M518.2 143.8h0M532.6 118.7h0M541.0 134.9h0M519.3 154.4h0M520.1 88.8h0M522.2 133.7h0M521.3 153.0h0M517.3 154.1h0M539.3 144.5h0M534.6 119.5h0M541.7 139.8h0M517.0 127.1h0M530.5 99.9h0M515.7 147.4h0M515.5 130.1h0M533.3 104.8h0M531.8 111.8h0M532.7 123.3h0M537.5 145.7h0M535.0 120.5h0M517.2 110.0h0M518.8 155.0h0M529.2 158.1h0M518.7 125.3h0M519.4 151.7h0M538.2 155.4h0M540.3 158.7h0M516.1 125.3h0M517.1 160.2h0M515.5 157.5h0M515.6 151.3h0M533.7 118.5h0M520.1 120.2h0M513.3 154.2h0M537.3 136.1h0M520.2 90.5h0M534.3 99.2h0M532.5 146.9h0M521.6 115.7h0M521.8 92.3h0M518.1 88.4h0M534.9 118.4h0M531.5 120.6h0M515.7 113.3h0M534.6 92.8h0M520.8 91.6h0M523.7 142.8h0M530.7 149.1h0M534.3 99.6h0M519.8 98.0h0M522.9 161.1h0M519.3 117.4h0M528.8 146.8h0M512.6 141.9h0" stroke="#b0b0b0" stroke-width="2.4"/><path d="M533.7 149.1h0M532.4 140.6h0M514.3 132.4h0M539.9 126.4h0M516.5 140.7h0M534.8 137.4h0M508.9 121.7h0M535.0 143.3h0M541.4 149.6h0M501.8 147.0h0M537.4 122.3h0M538.5 158.5h0M541.0 106.5h0M515.5 108.3h0M519.1 157.9h0M533.7 134.0h0M509.2 142.8h0M540.6 137.8h0M542.8 128.2h0M517.5 149.1h0M516.0 143.3h0M518.2 154.1h0M534.2 154.2h0M515.7 141.9h0M506.7 147.9h0M548.9 154.3h0M537.0 147.8h0M539.1 124.4h0M503.9 135.3h0M514.4 148.1h0M506.9 143.7h0M539.9 124.9h0M539.2 112.2h0M497.1 106.2h0M508.6 148.4h0M558.0 152.2h0M538.6 134.7h0M542.4 118.0h0M509.9 136.8h0M535.5 127.4h0M495.9 150.6h0M550.3 146.2h0M519.2 153.5h0M514.7 150.7h0M500.2 128.1h0M500.9 146.0h0M513.3 117.4h0M539.5 106.3h0M536.2 117.4h0M488.9 149.0h0M539.6 137.1h0M510.9 152.1h0M535.4 123.0h0M545.7 158.9h0M546.6 156.7h0M545.3 139.1h0M503.9 152.5h0M534.9 130.6h0M502.1 122.6h0M547.0 130.5h0M548.1 134.2h0M535.1 142.6h0M535.5 152.3h0M513.0 117.9h0M502.5 149.4h0M499.6 134.5h0M536.4 152.8h0M538.0 124.1h0M547.2 156.7h0M535.0 142.2h0M502.8 153.4h0M508.9 139.3h0M542.4 144.5h0M511.4 150.8h0M513.3 140.5h0M537.8 134.0h0M540.3 157.8h0M506.2 133.9h0M510.3 139.0h0M511.9 137.1h0M514.0 158.3h0M534.3 145.1h0M535.1 109.5h0M536.4 123.1h0M502.3 147.6h0M517.7 152.1h0M538.4 158.9h0M546.6 146.5h0M539.2 151.9h0M488.4 136.2h0M509.6 138.2h0M512.3 117.7h0M498.4 153.6h0M504.8 124.1h0M540.1 133.7h0M518.4 136.1h0M536.8 141.3h0M512.3 154.8h0M551.1 136.4h0M573.4 94.6h0M562.1 97.9h0M577.6 104.5h0M572.2 108.9h0M490.3 150.8h0M574.0 144.7h0M493.3 108.9h0M496.3 123.2h0" stroke="#f4ab62" stroke-width="2.4"/><path d="M545.3 117.9h0M536.3 157.9h0M517.7 109.5h0M533.7 127.6h0M531.7 149.3h0M518.2 114.5h0M504.7 126.5h0M510.1 131.7h0M517.7 139.1h0M535.5 122.8h0M519.1 110.4h0M516.5 154.7h0M501.5 112.8h0M538.9 118.9h0M501.8 138.8h0M532.7 146.7h0M538.6 135.5h0M532.7 147.4h0M541.4 120.1h0M514.8 127.7h0M506.1 134.9h0M514.1 117.0h0M549.2 159.5h0M508.0 109.2h0M512.4 137.9h0M515.8 137.4h0M513.3 145.8h0M537.9 114.1h0M506.8 109.9h0M518.7 149.7h0M550.1 120.8h0M508.5 153.7h0M516.3 123.2h0M510.3 129.7h0M534.3 147.4h0M545.4 118.1h0M516.2 118.2h0M540.5 132.2h0M510.6 151.4h0M516.9 112.1h0M540.0 154.1h0M541.8 108.9h0M537.4 124.9h0M512.9 124.2h0M515.8 114.5h0M515.8 126.0h0M535.7 109.5h0M538.1 132.1h0M533.9 116.0h0M544.5 140.4h0M536.4 142.9h0M534.4 120.7h0M512.0 156.5h0M543.1 137.1h0M545.2 136.5h0M518.2 147.1h0M536.6 143.7h0M536.9 151.4h0M539.1 148.1h0M512.9 117.9h0M514.2 109.8h0M512.1 110.2h0M540.6 113.9h0M537.9 139.3h0M534.4 149.4h0M507.4 134.4h0M516.4 116.4h0M517.1 150.6h0M535.0 135.3h0M538.7 149.9h0M541.8 130.3h0M535.3 155.4h0M517.2 110.5h0M536.0 111.3h0M537.2 126.9h0M517.1 154.8h0M516.9 156.2h0M532.2 150.1h0M511.1 151.2h0M537.6 117.2h0M510.6 138.0h0M544.6 122.6h0M538.7 141.8h0M541.1 146.5h0M517.9 110.2h0M491.5 105.6h0M504.7 84.7h0M507.1 83.6h0M544.1 75.8h0M547.7 90.7h0M559.1 150.8h0" stroke="#2f5fc6" stroke-width="2.4"/><path d="M519.0 137.4h0M515.5 142.2h0M516.2 129.4h0M520.2 123.4h0M519.3 138.1h0M516.4 157.1h0M516.7 159.5h0M518.8 123.8h0M513.4 140.8h0M514.0 147.5h0M518.6 156.9h0M516.5 116.5h0M509.5 122.3h0M510.3 151.2h0M517.2 159.6h0M513.6 150.3h0M511.5 133.9h0M512.6 138.0h0M516.3 158.4h0M515.5 124.8h0M516.7 150.6h0M517.2 155.1h0M506.0 138.7h0M517.4 119.7h0M505.9 147.3h0M519.0 137.6h0M519.5 149.7h0M517.4 159.7h0M516.7 144.2h0M507.1 141.7h0M512.3 136.4h0M519.1 144.6h0M514.2 135.5h0M518.3 157.6h0M518.3 120.6h0M515.6 142.9h0M506.3 143.8h0M513.6 125.3h0M513.4 136.5h0M511.8 147.5h0M512.2 127.6h0M511.7 154.6h0M518.9 144.5h0M518.0 125.1h0M509.8 123.0h0M519.8 124.4h0M517.3 151.6h0M512.9 148.3h0M512.9 155.4h0M517.7 155.2h0M510.8 142.4h0M517.7 150.5h0M511.8 140.5h0M517.6 134.4h0M516.1 124.5h0M513.7 139.6h0M516.2 136.1h0M514.1 140.6h0M519.1 123.5h0M505.6 130.5h0M518.1 122.1h0M518.9 150.9h0M518.3 160.2h0M515.5 122.2h0M516.7 155.8h0M513.5 136.1h0M519.5 152.4h0M517.8 125.3h0M519.1 133.4h0M520.0 134.6h0M518.3 134.6h0M518.4 131.7h0M510.7 142.3h0M515.5 155.1h0M512.5 147.7h0M507.3 155.1h0M516.4 160.0h0M507.3 156.9h0M513.2 134.7h0M517.5 127.2h0M514.9 152.6h0M515.8 127.8h0M517.9 125.4h0M518.5 125.1h0M516.8 124.6h0M515.0 143.5h0M509.2 126.8h0M515.8 153.3h0M515.7 154.9h0M518.6 147.0h0M517.2 160.1h0M517.0 123.7h0M511.4 142.6h0M509.9 157.9h0M514.6 152.1h0M519.0 152.5h0M518.8 125.5h0M517.5 142.1h0M518.5 121.8h0M520.7 146.4h0M514.8 159.5h0M516.1 158.6h0M519.6 140.0h0M519.2 149.0h0M514.0 150.9h0M510.7 158.2h0M514.1 152.6h0M507.9 144.2h0M510.9 133.0h0M507.0 157.2h0M516.8 131.4h0M539.6 157.6h0M538.2 155.4h0M536.3 153.4h0M534.1 149.3h0M536.2 139.6h0M538.5 157.4h0M539.7 142.1h0M538.3 156.4h0M535.2 138.0h0M540.0 129.7h0M537.6 136.1h0M531.7 132.0h0M537.0 139.1h0M532.4 134.4h0M539.8 149.9h0M532.6 137.9h0" stroke="#f0218f" stroke-width="2.4"/><path d="M563.0 108.4h0M552.3 72.6h0M551.4 103.7h0M537.8 94.6h0M559.0 111.0h0M577.3 127.8h0M546.9 111.6h0M547.2 120.8h0M542.2 96.5h0M553.9 115.7h0M554.1 103.8h0M547.0 85.2h0M562.7 95.8h0M540.0 106.3h0M563.8 93.2h0M558.6 95.7h0M551.6 78.1h0M554.4 79.2h0M552.8 94.9h0M543.0 140.5h0M542.3 82.8h0M542.5 115.5h0M549.2 103.6h0M547.2 80.0h0M558.7 100.2h0M556.8 75.2h0M565.0 90.1h0M545.0 109.3h0M540.7 120.7h0M540.4 108.9h0M553.2 106.6h0M562.0 135.0h0M570.6 84.2h0M546.3 101.6h0M548.0 129.3h0M544.6 143.5h0M541.9 88.5h0M552.0 85.7h0M546.1 139.3h0M550.0 141.0h0M553.7 81.5h0M550.3 109.6h0M543.7 87.7h0M556.7 132.3h0M546.5 80.7h0M549.8 132.3h0M541.7 118.1h0M547.6 109.1h0M552.1 110.5h0M538.0 99.6h0M540.2 93.1h0M551.1 109.3h0M555.4 86.9h0M557.8 84.2h0M547.1 102.2h0M550.0 99.1h0M546.3 72.5h0M558.2 135.6h0M539.2 130.0h0M551.4 72.8h0M548.5 85.5h0M543.0 83.5h0M554.4 74.0h0M551.1 102.2h0M558.2 85.2h0M538.5 86.8h0M575.8 80.3h0M546.6 98.4h0M560.8 114.1h0M567.5 110.5h0M546.5 113.8h0M547.4 135.8h0M548.0 112.1h0M556.3 75.6h0M547.8 99.0h0M568.9 92.9h0M559.1 99.9h0M540.2 81.8h0M542.3 77.5h0M545.4 109.6h0M559.1 85.1h0M569.3 91.8h0M573.0 118.2h0M562.3 92.0h0M575.2 123.6h0M553.8 105.0h0M560.4 76.8h0M554.1 99.7h0M574.8 109.8h0M545.3 73.4h0M546.7 117.5h0M571.5 119.5h0M551.8 105.9h0M540.7 89.4h0M566.5 134.3h0M566.9 85.0h0M540.2 78.8h0M549.4 132.7h0M548.9 81.7h0M558.4 128.4h0M553.9 128.5h0M568.6 89.5h0M542.5 82.7h0M577.8 128.1h0M540.6 135.6h0M552.6 137.7h0M546.6 85.8h0M557.7 73.8h0M541.7 82.9h0M554.0 91.6h0M538.0 78.5h0M542.6 80.6h0M543.9 85.7h0M543.6 91.5h0M538.8 90.8h0M557.4 113.4h0M550.0 75.4h0M548.5 121.3h0M556.4 133.2h0M549.4 89.9h0M552.2 123.8h0M567.5 109.0h0M581.6 105.2h0M549.3 88.6h0M539.6 111.6h0M560.5 114.3h0M541.7 131.4h0M545.3 112.4h0M565.9 119.0h0M538.5 139.1h0M561.3 122.2h0M553.1 128.5h0M537.8 132.8h0M554.6 87.9h0M563.0 130.9h0M544.6 136.3h0M536.2 119.7h0M545.7 139.3h0M539.1 97.9h0M548.3 82.8h0M557.1 86.0h0M551.7 81.7h0M554.6 118.0h0M542.4 73.5h0M555.0 96.9h0M543.6 86.7h0M549.3 104.0h0M551.3 95.1h0M558.5 63.2h0M576.4 69.8h0M589.0 73.1h0M595.0 97.3h0M595.6 109.5h0M577.0 116.6h0M580.0 127.6h0M582.4 127.1h0M575.8 81.4h0M493.9 83.6h0M600.4 97.9h0" stroke="#63cf57" stroke-width="2.4"/><path d="M571.1 145.8h0M571.6 149.1h0" stroke="#c4581f" stroke-width="2.4"/><path d="M539.4 155.2h0M515.4 148.6h0M544.7 139.8h0" stroke="#b6a6e6" stroke-width="2.4"/><path d="M513.0 153.0h0M537.6 150.8h0" stroke="#f2e866" stroke-width="2.4"/></g>
<path d="M520.22 46.8 V166.1 M532.18 46.8 V166.1" stroke="#222" stroke-width="0.8" stroke-dasharray="1.5 2.1" fill="none"/>
<path d="M472.9 160.37 H623.3" stroke="#333" stroke-width="0.7" stroke-dasharray="2 1.6" fill="none"/>
<rect x="472.9" y="46.8" width="150.4" height="119.3" fill="none" stroke="#333" stroke-width="0.8"/>
<text class="dv" x="496.3" y="176.1" font-size="7.1" fill="#4d4d4d" text-anchor="middle">-5</text>
<text class="dv" x="526.2" y="176.1" font-size="7.1" fill="#4d4d4d" text-anchor="middle">0</text>
<text class="dv" x="556.1" y="176.1" font-size="7.1" fill="#4d4d4d" text-anchor="middle">5</text>
<text class="dv" x="586" y="176.1" font-size="7.1" fill="#4d4d4d" text-anchor="middle">10</text>
<text class="dv" x="615.9" y="176.1" font-size="7.1" fill="#4d4d4d" text-anchor="middle">15</text>
<text class="dv" x="467.9" y="164.4" font-size="7.1" fill="#4d4d4d" text-anchor="end">0</text>
<text class="dv" x="467.9" y="136.85" font-size="7.1" fill="#4d4d4d" text-anchor="end">25</text>
<text class="dv" x="467.9" y="109.3" font-size="7.1" fill="#4d4d4d" text-anchor="end">50</text>
<text class="dv" x="467.9" y="81.75" font-size="7.1" fill="#4d4d4d" text-anchor="end">75</text>
<text class="dv" x="467.9" y="54.2" font-size="7.1" fill="#4d4d4d" text-anchor="end">100</text>
<path d="M496.3 166.1 v2.6 M526.2 166.1 v2.6 M556.1 166.1 v2.6 M586 166.1 v2.6 M615.9 166.1 v2.6 M472.9 161.8 h-2.6 M472.9 134.25 h-2.6 M472.9 106.7 h-2.6 M472.9 79.15 h-2.6 M472.9 51.6 h-2.6" stroke="#444" stroke-width="0.6" fill="none"/>
<text class="dv" x="548.1" y="186.4" font-size="8.9" fill="#111" text-anchor="middle">Signed Fit Range</text>
<text class="dv" x="453.6" y="106.45" font-size="8.9" fill="#111" text-anchor="middle" transform="rotate(-90 453.6 106.45)">-log10(q-value)</text>
<polyline points="561.8,54.5 558.8,62.6" fill="none" stroke="#d9363c" stroke-width="0.45"/>
<polyline points="575.4,64.5 576.4,69.8" fill="none" stroke="#2a2a2a" stroke-width="0.45"/>
<polyline points="514.4,65.2 515.6,70.2" fill="none" stroke="#d9363c" stroke-width="0.45"/>
<polyline points="509.9,72.6 511.6,74.2" fill="none" stroke="#d9363c" stroke-width="0.45"/>
<polyline points="541.5,73.9 540.8,77.4" fill="none" stroke="#d9363c" stroke-width="0.45"/>
<polyline points="608.4,75 595.4,97" fill="none" stroke="#2a2a2a" stroke-width="0.45"/>
<polyline points="491,81 497,81.8 506.8,82.6" fill="none" stroke="#d9363c" stroke-width="0.45"/>
<polyline points="559.9,78.6 554.8,75" fill="none" stroke="#d9363c" stroke-width="0.45"/>
<polyline points="592,78.5 589.2,72.8" fill="none" stroke="#2a2a2a" stroke-width="0.45"/>
<polyline points="537,83.2 538.6,78" fill="none" stroke="#d9363c" stroke-width="0.45"/>
<polyline points="491,90.2 493.6,86.6" fill="none" stroke="#2a2a2a" stroke-width="0.45"/>
<polyline points="514.4,91 517,88.4" fill="none" stroke="#d9363c" stroke-width="0.45"/>
<polyline points="516.9,97.5 517,82" fill="none" stroke="#d9363c" stroke-width="0.45"/>
<polyline points="539.6,103.6 536.2,102.2" fill="none" stroke="#2a2a2a" stroke-width="0.45"/>
<polyline points="599.6,113.4 595.6,109.4" fill="none" stroke="#2a2a2a" stroke-width="0.45"/>
<polyline points="575.3,120.6 577,116" fill="none" stroke="#2a2a2a" stroke-width="0.45"/>
<rect x="556.3" y="47.8" width="13.4" height="7" rx="1" fill="#fff" fill-opacity="0.85" stroke="#d9363c" stroke-width="0.5"/>
<text class="dv" x="563" y="53.25" font-size="5.4" fill="#d9363c" text-anchor="middle" textLength="11.2" lengthAdjust="spacingAndGlyphs">GJB2</text>
<rect x="564.7" y="57.8" width="22.2" height="7" rx="1" fill="#fff" fill-opacity="0.85" stroke="#2a2a2a" stroke-width="0.5"/>
<text class="dv" x="575.8" y="63.25" font-size="5.4" fill="#2a2a2a" text-anchor="middle" textLength="20" lengthAdjust="spacingAndGlyphs">S100A9</text>
<rect x="506.1" y="58.5" width="16" height="7" rx="1" fill="#fff" fill-opacity="0.85" stroke="#d9363c" stroke-width="0.5"/>
<text class="dv" x="514.1" y="63.95" font-size="5.4" fill="#d9363c" text-anchor="middle" textLength="13.8" lengthAdjust="spacingAndGlyphs">CRY2</text>
<rect x="478.7" y="67.8" width="31.2" height="7" rx="1" fill="#fff" fill-opacity="0.85" stroke="#d9363c" stroke-width="0.5"/>
<text class="dv" x="494.3" y="73.25" font-size="5.4" fill="#d9363c" text-anchor="middle" textLength="29" lengthAdjust="spacingAndGlyphs">CACNA2D2</text>
<rect x="533.7" y="67.1" width="27" height="7" rx="1" fill="#fff" fill-opacity="0.85" stroke="#d9363c" stroke-width="0.5"/>
<text class="dv" x="547.2" y="72.55" font-size="5.4" fill="#d9363c" text-anchor="middle" textLength="24.8" lengthAdjust="spacingAndGlyphs">CARHSP1</text>
<rect x="599.5" y="68.3" width="21.4" height="7" rx="1" fill="#fff" fill-opacity="0.85" stroke="#2a2a2a" stroke-width="0.5"/>
<text class="dv" x="610.2" y="73.75" font-size="5.4" fill="#2a2a2a" text-anchor="middle" textLength="19.2" lengthAdjust="spacingAndGlyphs">SPRR2F</text>
<rect x="475.3" y="77.6" width="15.8" height="7" rx="1" fill="#fff" fill-opacity="0.85" stroke="#d9363c" stroke-width="0.5"/>
<text class="dv" x="483.2" y="83.05" font-size="5.4" fill="#d9363c" text-anchor="middle" textLength="13.6" lengthAdjust="spacingAndGlyphs">RORC</text>
<rect x="559.9" y="76.4" width="17.8" height="7" rx="1" fill="#fff" fill-opacity="0.85" stroke="#d9363c" stroke-width="0.5"/>
<text class="dv" x="568.8" y="81.85" font-size="5.4" fill="#d9363c" text-anchor="middle" textLength="15.6" lengthAdjust="spacingAndGlyphs">KLK13</text>
<rect x="588" y="78.1" width="9.6" height="7" rx="1" fill="#fff" fill-opacity="0.85" stroke="#2a2a2a" stroke-width="0.5"/>
<text class="dv" x="592.8" y="83.55" font-size="5.4" fill="#2a2a2a" text-anchor="middle" textLength="7.4" lengthAdjust="spacingAndGlyphs">PI3</text>
<rect x="529.4" y="83" width="23.6" height="7" rx="1" fill="#fff" fill-opacity="0.85" stroke="#d9363c" stroke-width="0.5"/>
<text class="dv" x="541.2" y="88.45" font-size="5.4" fill="#d9363c" text-anchor="middle" textLength="21.4" lengthAdjust="spacingAndGlyphs">CRABP2</text>
<rect x="479.4" y="88.7" width="11.6" height="7" rx="1" fill="#fff" fill-opacity="0.85" stroke="#2a2a2a" stroke-width="0.5"/>
<text class="dv" x="485.2" y="94.15" font-size="5.4" fill="#2a2a2a" text-anchor="middle" textLength="9.4" lengthAdjust="spacingAndGlyphs">BTC</text>
<rect x="495.2" y="88.7" width="19.2" height="7" rx="1" fill="#fff" fill-opacity="0.85" stroke="#d9363c" stroke-width="0.5"/>
<text class="dv" x="504.8" y="94.15" font-size="5.4" fill="#d9363c" text-anchor="middle" textLength="17" lengthAdjust="spacingAndGlyphs">ZNF34</text>
<rect x="506.1" y="97.5" width="16" height="7" rx="1" fill="#fff" fill-opacity="0.85" stroke="#d9363c" stroke-width="0.5"/>
<text class="dv" x="514.1" y="102.95" font-size="5.4" fill="#d9363c" text-anchor="middle" textLength="13.8" lengthAdjust="spacingAndGlyphs">THRA</text>
<rect x="539.6" y="100.9" width="17" height="7" rx="1" fill="#fff" fill-opacity="0.85" stroke="#2a2a2a" stroke-width="0.5"/>
<text class="dv" x="548.1" y="106.35" font-size="5.4" fill="#2a2a2a" text-anchor="middle" textLength="14.8" lengthAdjust="spacingAndGlyphs">STAT3</text>
<rect x="571" y="100.9" width="23" height="7" rx="1" fill="#fff" fill-opacity="0.85" stroke="#2a2a2a" stroke-width="0.5"/>
<text class="dv" x="582.5" y="106.35" font-size="5.4" fill="#2a2a2a" text-anchor="middle" textLength="20.8" lengthAdjust="spacingAndGlyphs">DEFB4A</text>
<rect x="599.5" y="112.2" width="16" height="7" rx="1" fill="#fff" fill-opacity="0.85" stroke="#2a2a2a" stroke-width="0.5"/>
<text class="dv" x="607.5" y="117.65" font-size="5.4" fill="#2a2a2a" text-anchor="middle" textLength="13.8" lengthAdjust="spacingAndGlyphs">IL36A</text>
<rect x="557.5" y="118.7" width="17.8" height="7" rx="1" fill="#fff" fill-opacity="0.85" stroke="#2a2a2a" stroke-width="0.5"/>
<text class="dv" x="566.4" y="124.15" font-size="5.4" fill="#2a2a2a" text-anchor="middle" textLength="15.6" lengthAdjust="spacingAndGlyphs">CXCL1</text>
<text class="dv" x="632" y="70.5" font-size="8.9" fill="#111">Factor</text>
<circle cx="636.4" cy="80.5" r="0.95" fill="#63cf57"/>
<text class="dv" x="645.6" y="83.1" font-size="7.1" fill="#111">Factor S1</text>
<circle cx="636.4" cy="89.03" r="0.95" fill="#f4ab62"/>
<text class="dv" x="645.6" y="91.63" font-size="7.1" fill="#111">Factor S2</text>
<circle cx="636.4" cy="97.56" r="0.95" fill="#2f5fc6"/>
<text class="dv" x="645.6" y="100.16" font-size="7.1" fill="#111">Factor S6</text>
<circle cx="636.4" cy="106.09" r="0.95" fill="#f0218f"/>
<text class="dv" x="645.6" y="108.69" font-size="7.1" fill="#111">Factor S9</text>
<circle cx="636.4" cy="114.62" r="0.95" fill="#b6a6e6"/>
<text class="dv" x="645.6" y="117.22" font-size="7.1" fill="#111">Factor S18</text>
<circle cx="636.4" cy="123.15" r="0.95" fill="#f2e866"/>
<text class="dv" x="645.6" y="125.75" font-size="7.1" fill="#111">Factor S21</text>
<circle cx="636.4" cy="131.68" r="0.95" fill="#c4581f"/>
<text class="dv" x="645.6" y="134.28" font-size="7.1" fill="#111">Factor S22</text>
<circle cx="636.4" cy="140.21" r="0.95" fill="#d6d6d6"/>
<text class="dv" x="645.6" y="142.81" font-size="7.1" fill="#111">NA</text>
</g>
<g id="panel_d">
<rect x="24.3" y="282.9" width="118" height="9.2" fill="#b525f8"/>
<rect x="24.3" y="292.9" width="118" height="9.5" fill="#80fefe"/>
<rect x="142.9" y="302.7" width="9.9" height="75.9" fill="#7ffad4"/>
<text class="dv" x="83.3" y="289.4" font-size="5.2" fill="#fff" text-anchor="middle">Lesional</text>
<text class="dv" x="83.3" y="299.55" font-size="5.2" fill="#222" text-anchor="middle">Both drugs</text>
<text class="dv" x="149.65" y="340.65" font-size="5.2" fill="#222" text-anchor="middle" transform="rotate(-90 149.65 340.65)">turquoise</text>
<path d="M24.3 372.42H142.3M24.3 353.58H142.3M24.3 334.75H142.3M24.3 315.92H142.3M44.35 302.7V378.6M74.85 302.7V378.6M105.35 302.7V378.6M135.85 302.7V378.6" stroke="#f2f2f2" stroke-width="0.35" fill="none"/>
<path d="M24.3 363H142.3M24.3 344.17H142.3M24.3 325.33H142.3M24.3 306.5H142.3M29.1 302.7V378.6M59.6 302.7V378.6M90.1 302.7V378.6M120.6 302.7V378.6" stroke="#e8e8e8" stroke-width="0.55" fill="none"/>
<path d="M81.6 315.6h0M73.8 315.3h0M100.5 319.7h0M82.9 318.2h0M123.2 315.3h0M58.8 318.5h0M79.8 313.1h0M89.6 316.3h0M69.6 318.8h0M48.5 313.9h0M83.5 312.2h0M76.2 319.9h0M87.7 312.3h0M47.4 321.3h0M111.3 317.6h0M50.0 317.5h0M60.2 317.6h0M84.3 315.7h0M50.3 315.9h0M55.0 321.9h0M114.5 321.8h0M58.9 316.9h0M90.6 320.9h0M63.9 321.0h0M113.1 316.5h0M58.3 317.4h0M77.9 317.4h0M132.4 310.4h0M80.4 317.2h0M49.4 317.3h0M80.0 323.5h0M61.5 324.6h0M54.4 319.9h0M58.5 321.0h0M77.0 317.9h0M134.4 314.1h0M51.1 322.2h0M48.8 325.7h0M54.5 322.4h0M64.5 314.7h0M80.3 323.6h0M63.7 330.0h0M62.4 314.5h0M68.1 323.7h0M53.5 315.0h0M85.3 319.6h0M131.2 315.4h0M70.6 316.6h0M71.9 319.9h0M63.6 322.3h0M51.9 317.9h0M70.7 317.0h0M50.3 320.8h0M64.8 321.0h0M94.1 318.5h0M57.2 319.2h0M93.2 311.9h0M75.3 313.3h0M45.0 322.6h0M92.9 321.1h0M81.1 321.0h0M54.5 321.8h0M61.9 323.6h0M51.8 318.4h0M93.7 317.3h0M108.3 315.9h0M58.4 317.1h0M88.2 314.3h0M135.6 318.2h0M99.6 315.3h0M74.3 321.1h0M49.2 319.3h0" stroke="#3d7ebf" stroke-width="2.6" stroke-linecap="round" fill="none"/><path d="M69.2 312.4l1.45 2.4h-2.9zM60.8 318.1l1.45 2.4h-2.9zM53.2 316.7l1.45 2.4h-2.9zM63.9 315.8l1.45 2.4h-2.9zM59.0 317.6l1.45 2.4h-2.9zM75.7 316.2l1.45 2.4h-2.9zM65.8 312.3l1.45 2.4h-2.9zM79.7 317.2l1.45 2.4h-2.9zM56.1 314.6l1.45 2.4h-2.9zM56.4 313.6l1.45 2.4h-2.9zM54.6 318.3l1.45 2.4h-2.9zM75.9 316.6l1.45 2.4h-2.9zM74.8 316.6l1.45 2.4h-2.9zM82.8 314.5l1.45 2.4h-2.9zM58.5 316.6l1.45 2.4h-2.9zM53.8 312.0l1.45 2.4h-2.9zM56.5 314.8l1.45 2.4h-2.9zM63.8 317.2l1.45 2.4h-2.9zM114.9 314.8l1.45 2.4h-2.9zM70.7 314.1l1.45 2.4h-2.9zM61.7 316.5l1.45 2.4h-2.9zM62.5 315.5l1.45 2.4h-2.9zM71.2 314.9l1.45 2.4h-2.9zM97.6 310.4l1.45 2.4h-2.9zM80.2 315.2l1.45 2.4h-2.9zM55.4 319.6l1.45 2.4h-2.9zM78.1 316.8l1.45 2.4h-2.9zM61.9 323.5l1.45 2.4h-2.9zM82.3 313.9l1.45 2.4h-2.9zM92.7 317.0l1.45 2.4h-2.9zM69.5 315.0l1.45 2.4h-2.9zM70.6 318.0l1.45 2.4h-2.9zM87.4 317.4l1.45 2.4h-2.9zM85.9 316.0l1.45 2.4h-2.9zM45.1 319.3l1.45 2.4h-2.9zM56.2 315.5l1.45 2.4h-2.9zM103.6 317.5l1.45 2.4h-2.9zM64.9 312.6l1.45 2.4h-2.9zM97.6 317.0l1.45 2.4h-2.9zM73.7 318.3l1.45 2.4h-2.9zM79.6 317.8l1.45 2.4h-2.9zM54.0 321.1l1.45 2.4h-2.9zM88.6 312.4l1.45 2.4h-2.9zM101.9 311.1l1.45 2.4h-2.9zM81.3 316.9l1.45 2.4h-2.9zM80.1 319.7l1.45 2.4h-2.9zM69.5 312.3l1.45 2.4h-2.9zM124.2 321.7l1.45 2.4h-2.9zM90.3 315.2l1.45 2.4h-2.9zM64.1 312.9l1.45 2.4h-2.9z" fill="#3d7ebf"/><path d="M79.5 317.3h0M62.1 319.3h0M81.2 320.7h0M69.0 315.7h0M47.8 326.0h0M69.1 317.4h0M92.5 321.1h0M61.2 318.7h0M51.3 324.6h0M58.2 321.8h0M99.1 316.0h0M57.6 311.7h0M51.5 312.7h0M82.6 321.0h0M59.6 319.8h0M49.1 317.8h0M61.0 322.0h0M79.9 322.6h0M62.5 312.7h0M62.1 309.4h0M86.7 323.0h0M60.4 319.6h0M60.1 320.4h0M52.6 311.9h0M54.1 320.7h0M74.7 319.8h0M46.4 316.1h0M97.4 322.1h0M63.4 317.3h0M55.1 316.9h0M58.7 321.1h0M62.1 317.6h0M58.7 323.4h0M65.3 321.4h0M60.6 320.3h0M68.0 314.4h0M90.5 319.2h0M73.4 316.5h0M107.3 322.3h0M93.8 318.4h0M56.9 313.6h0M61.1 317.7h0M71.5 318.9h0M71.2 322.0h0M71.4 316.9h0M50.5 322.2h0M61.5 321.3h0M51.2 319.9h0M57.5 324.4h0M61.7 321.0h0M71.9 321.8h0M95.0 317.8h0M69.3 320.2h0M88.3 318.6h0M49.5 317.8h0M50.4 322.0h0M93.2 320.5h0M69.5 322.5h0M62.9 312.5h0M72.9 320.1h0M61.4 319.3h0" stroke="#4bab3d" stroke-width="2.6" stroke-linecap="round" fill="none"/><path d="M56.4 319.1l1.45 2.4h-2.9zM85.2 321.8l1.45 2.4h-2.9zM74.4 315.5l1.45 2.4h-2.9zM82.8 316.5l1.45 2.4h-2.9zM61.6 322.9l1.45 2.4h-2.9zM70.0 322.4l1.45 2.4h-2.9zM52.0 319.1l1.45 2.4h-2.9zM67.1 315.5l1.45 2.4h-2.9zM96.1 321.4l1.45 2.4h-2.9zM63.6 315.8l1.45 2.4h-2.9zM54.7 317.2l1.45 2.4h-2.9zM56.2 325.6l1.45 2.4h-2.9zM120.0 312.5l1.45 2.4h-2.9zM54.0 318.9l1.45 2.4h-2.9zM76.7 318.8l1.45 2.4h-2.9zM66.4 313.6l1.45 2.4h-2.9zM63.0 316.4l1.45 2.4h-2.9zM80.0 312.6l1.45 2.4h-2.9zM78.7 316.8l1.45 2.4h-2.9zM84.4 311.1l1.45 2.4h-2.9zM71.5 316.5l1.45 2.4h-2.9zM102.7 318.1l1.45 2.4h-2.9zM63.9 316.5l1.45 2.4h-2.9zM60.4 322.3l1.45 2.4h-2.9zM86.9 313.8l1.45 2.4h-2.9zM63.2 317.9l1.45 2.4h-2.9zM65.0 315.5l1.45 2.4h-2.9zM89.7 318.8l1.45 2.4h-2.9zM55.3 317.7l1.45 2.4h-2.9zM74.7 319.5l1.45 2.4h-2.9zM61.3 315.6l1.45 2.4h-2.9zM102.4 314.7l1.45 2.4h-2.9zM70.3 312.6l1.45 2.4h-2.9zM69.8 311.1l1.45 2.4h-2.9zM69.3 318.6l1.45 2.4h-2.9zM49.1 316.6l1.45 2.4h-2.9zM57.9 318.0l1.45 2.4h-2.9zM80.4 318.3l1.45 2.4h-2.9zM68.3 321.8l1.45 2.4h-2.9zM48.6 317.4l1.45 2.4h-2.9zM50.7 320.7l1.45 2.4h-2.9zM80.8 316.6l1.45 2.4h-2.9zM45.3 323.7l1.45 2.4h-2.9zM72.0 319.1l1.45 2.4h-2.9zM67.5 313.7l1.45 2.4h-2.9zM65.1 318.5l1.45 2.4h-2.9zM73.3 317.5l1.45 2.4h-2.9zM51.3 320.2l1.45 2.4h-2.9zM47.7 316.5l1.45 2.4h-2.9zM64.1 324.2l1.45 2.4h-2.9zM48.1 313.0l1.45 2.4h-2.9zM125.8 318.9l1.45 2.4h-2.9zM83.4 311.0l1.45 2.4h-2.9zM70.1 316.0l1.45 2.4h-2.9zM62.6 317.9l1.45 2.4h-2.9zM68.3 315.8l1.45 2.4h-2.9zM47.6 318.6l1.45 2.4h-2.9zM110.5 319.9l1.45 2.4h-2.9zM62.5 318.2l1.45 2.4h-2.9zM80.6 315.7l1.45 2.4h-2.9zM57.9 319.9l1.45 2.4h-2.9z" fill="#4bab3d"/><path d="M38.3 321.7h0M34.8 367.4h0M73.0 349.9h0M33.0 324.3h0M35.4 343.7h0M32.8 320.2h0M35.3 360.6h0M29.3 351.5h0M34.8 356.3h0M40.1 350.9h0M37.1 362.6h0M31.9 317.8h0M33.2 344.7h0M29.4 360.2h0M78.4 343.8h0M45.9 319.4h0M36.8 322.3h0M30.8 346.2h0M34.1 319.4h0M30.0 351.2h0M70.1 313.0h0M37.4 351.0h0M29.8 350.7h0M33.0 321.2h0M33.2 354.6h0M29.3 363.7h0M32.5 318.3h0M76.4 317.1h0M30.4 321.7h0M36.9 348.7h0M71.5 338.7h0M34.9 320.9h0M32.0 349.8h0M47.9 350.8h0M46.3 348.0h0M36.1 362.0h0M38.8 349.2h0M39.7 348.0h0M31.8 324.1h0M35.8 343.7h0M48.6 319.7h0M31.0 355.5h0M29.2 363.2h0M51.7 317.4h0M40.6 317.2h0M29.4 324.6h0M85.4 318.7h0M38.3 324.8h0M30.8 351.2h0M42.1 327.6h0M41.2 359.3h0M49.0 345.0h0M29.3 324.7h0M45.3 316.8h0M29.3 365.9h0M58.8 344.1h0M52.0 313.1h0M47.8 311.1h0M33.9 341.1h0M34.0 347.0h0M29.8 348.9h0M29.5 355.2h0M30.0 327.3h0M35.1 339.9h0M38.9 355.5h0M30.9 358.1h0M51.4 317.8h0" stroke="#f2832d" stroke-width="2.6" stroke-linecap="round" fill="none"/><path d="M32.6 349.6l1.45 2.4h-2.9zM32.4 317.8l1.45 2.4h-2.9zM52.8 349.0l1.45 2.4h-2.9zM44.7 313.6l1.45 2.4h-2.9zM33.1 323.9l1.45 2.4h-2.9zM88.9 347.3l1.45 2.4h-2.9zM32.2 355.0l1.45 2.4h-2.9zM43.8 318.4l1.45 2.4h-2.9zM31.5 350.8l1.45 2.4h-2.9zM44.2 339.6l1.45 2.4h-2.9zM88.5 349.5l1.45 2.4h-2.9zM29.4 350.7l1.45 2.4h-2.9zM45.6 334.2l1.45 2.4h-2.9zM33.5 364.2l1.45 2.4h-2.9zM44.9 350.6l1.45 2.4h-2.9zM36.3 346.4l1.45 2.4h-2.9zM43.9 350.8l1.45 2.4h-2.9zM36.1 339.8l1.45 2.4h-2.9zM45.5 318.3l1.45 2.4h-2.9zM31.2 351.5l1.45 2.4h-2.9zM36.2 368.0l1.45 2.4h-2.9zM36.4 323.3l1.45 2.4h-2.9zM47.5 347.2l1.45 2.4h-2.9zM29.9 360.1l1.45 2.4h-2.9zM30.5 323.0l1.45 2.4h-2.9zM36.8 350.2l1.45 2.4h-2.9zM30.7 352.1l1.45 2.4h-2.9zM37.1 367.5l1.45 2.4h-2.9zM44.2 351.1l1.45 2.4h-2.9zM29.6 357.3l1.45 2.4h-2.9zM33.4 356.1l1.45 2.4h-2.9zM29.4 354.6l1.45 2.4h-2.9zM30.7 326.8l1.45 2.4h-2.9zM48.5 313.4l1.45 2.4h-2.9zM36.7 351.3l1.45 2.4h-2.9zM31.0 317.2l1.45 2.4h-2.9zM36.1 316.8l1.45 2.4h-2.9zM41.6 317.5l1.45 2.4h-2.9zM31.1 319.4l1.45 2.4h-2.9zM38.5 319.0l1.45 2.4h-2.9zM37.3 320.0l1.45 2.4h-2.9zM31.7 350.2l1.45 2.4h-2.9zM35.1 346.1l1.45 2.4h-2.9zM43.7 352.4l1.45 2.4h-2.9zM29.4 337.4l1.45 2.4h-2.9zM29.4 351.3l1.45 2.4h-2.9zM34.2 318.5l1.45 2.4h-2.9zM67.4 313.7l1.45 2.4h-2.9zM32.3 329.8l1.45 2.4h-2.9zM31.9 327.8l1.45 2.4h-2.9zM37.0 358.2l1.45 2.4h-2.9z" fill="#f2832d"/>
<path d="M29.1 353.4 L32.1 348.9 L35.2 344.4 L38.2 340.0 L41.3 335.8 L44.4 331.7 L47.4 328.1 L50.5 325.0 L53.5 322.4 L56.5 320.6 L59.6 319.3 L62.6 318.4 L65.7 317.9 L68.8 317.5 L71.8 317.2 L74.8 317.1 L77.9 316.9 L80.9 316.8 L84.0 316.7 L87.0 316.6 L90.1 316.5 L93.2 316.4 L96.2 316.3 L99.2 316.2 L102.3 316.1 L105.3 315.9 L108.4 315.8 L111.4 315.6 L114.5 315.5 L117.5 315.3 L120.6 315.1 L123.7 315.0 L126.7 314.8 L129.8 314.6 L132.8 314.4 L135.8 314.2 L135.8 317.9 L132.8 317.8 L129.8 317.8 L126.7 317.7 L123.7 317.7 L120.6 317.7 L117.5 317.6 L114.5 317.6 L111.4 317.6 L108.4 317.6 L105.3 317.6 L102.3 317.6 L99.2 317.6 L96.2 317.6 L93.2 317.6 L90.1 317.7 L87.0 317.7 L84.0 317.8 L80.9 317.9 L77.9 318.0 L74.8 318.1 L71.8 318.2 L68.8 318.4 L65.7 318.8 L62.6 319.4 L59.6 320.2 L56.5 321.6 L53.5 323.5 L50.5 326.0 L47.4 329.2 L44.4 332.9 L41.3 336.9 L38.2 341.2 L35.2 345.6 L32.1 350.1 L29.1 354.7 Z" fill="#999" fill-opacity="0.4"/>
<path d="M29.1 354.1 L32.1 349.5 L35.2 345.0 L38.2 340.6 L41.3 336.3 L44.4 332.3 L47.4 328.7 L50.5 325.5 L53.5 323.0 L56.5 321.1 L59.6 319.8 L62.6 318.9 L65.7 318.3 L68.8 318.0 L71.8 317.7 L74.8 317.6 L77.9 317.4 L80.9 317.3 L84.0 317.3 L87.0 317.2 L90.1 317.1 L93.2 317.0 L96.2 317.0 L99.2 316.9 L102.3 316.8 L105.3 316.7 L108.4 316.7 L111.4 316.6 L114.5 316.5 L117.5 316.5 L120.6 316.4 L123.7 316.3 L126.7 316.2 L129.8 316.2 L132.8 316.1 L135.8 316.0" fill="none" stroke="#476aeb" stroke-width="1.4" stroke-linejoin="round"/>
<text class="dv" x="21.7" y="364.95" font-size="5.4" fill="#4d4d4d" text-anchor="end">4</text>
<text class="dv" x="21.7" y="346.12" font-size="5.4" fill="#4d4d4d" text-anchor="end">8</text>
<text class="dv" x="21.7" y="327.28" font-size="5.4" fill="#4d4d4d" text-anchor="end">12</text>
<text class="dv" x="21.7" y="308.45" font-size="5.4" fill="#4d4d4d" text-anchor="end">16</text>
<text class="dv" x="29.1" y="385.2" font-size="5.4" fill="#4d4d4d" text-anchor="middle">0</text>
<text class="dv" x="59.6" y="385.2" font-size="5.4" fill="#4d4d4d" text-anchor="middle">10</text>
<text class="dv" x="90.1" y="385.2" font-size="5.4" fill="#4d4d4d" text-anchor="middle">20</text>
<text class="dv" x="120.6" y="385.2" font-size="5.4" fill="#4d4d4d" text-anchor="middle">30</text>
<text class="dv" x="83.3" y="392.6" font-size="6.45" fill="#222" text-anchor="middle">PASI</text>
<text class="dv" x="11.2" y="340.65" font-size="6.45" fill="#222" text-anchor="middle" transform="rotate(-90 11.2 340.65)">S100A9 log2(expr)</text>
<rect x="174.9" y="281.7" width="120.9" height="9.3" fill="#b525f8"/>
<rect x="174.9" y="291.7" width="120.9" height="9.8" fill="#80fefe"/>
<rect x="296.4" y="301.9" width="10" height="75.6" fill="#7ffad4"/>
<text class="dv" x="235.35" y="288.25" font-size="5.2" fill="#fff" text-anchor="middle">Lesional</text>
<text class="dv" x="235.35" y="298.5" font-size="5.2" fill="#222" text-anchor="middle">Both drugs</text>
<text class="dv" x="303.2" y="339.7" font-size="5.2" fill="#222" text-anchor="middle" transform="rotate(-90 303.2 339.7)">turquoise</text>
<path d="M174.9 374.29H295.8M174.9 361.31H295.8M174.9 348.33H295.8M174.9 335.35H295.8M174.9 322.37H295.8M174.9 309.39H295.8M195.62 301.9V377.5M226.88 301.9V377.5M258.12 301.9V377.5M289.38 301.9V377.5" stroke="#f2f2f2" stroke-width="0.35" fill="none"/>
<path d="M174.9 367.8H295.8M174.9 354.82H295.8M174.9 341.84H295.8M174.9 328.86H295.8M174.9 315.88H295.8M174.9 302.9H295.8M180 301.9V377.5M211.25 301.9V377.5M242.5 301.9V377.5M273.75 301.9V377.5" stroke="#e8e8e8" stroke-width="0.55" fill="none"/>
<path d="M233.8 331.8h0M225.8 322.1h0M253.2 317.2h0M235.1 320.1h0M276.4 330.4h0M210.4 334.0h0M231.9 311.1h0M242.0 331.5h0M221.5 329.1h0M199.9 340.4h0M235.7 319.5h0M228.2 328.8h0M240.0 324.4h0M198.8 356.2h0M264.2 322.4h0M201.4 335.2h0M211.9 321.5h0M236.5 322.1h0M201.7 334.2h0M206.5 330.1h0M267.5 330.4h0M210.5 335.0h0M243.0 314.1h0M215.6 324.6h0M266.1 325.3h0M209.9 346.3h0M230.0 320.9h0M285.9 308.7h0M232.5 329.2h0M200.8 340.1h0M232.2 322.2h0M213.2 324.2h0M205.9 324.7h0M210.1 336.4h0M229.1 313.9h0M287.9 341.5h0M202.5 325.6h0M200.2 324.4h0M206.0 335.9h0M216.3 317.6h0M232.4 328.3h0M215.5 326.3h0M214.1 334.0h0M219.9 337.2h0M205.0 333.0h0M237.5 324.4h0M284.6 307.8h0M222.6 332.8h0M223.8 328.7h0M215.4 328.4h0M203.4 323.5h0M222.6 323.5h0M201.7 323.1h0M216.6 315.4h0M246.6 329.0h0M208.8 341.9h0M245.7 322.8h0M227.4 329.9h0M196.3 331.9h0M245.4 319.6h0M233.3 317.8h0M206.0 334.4h0M213.6 340.2h0M203.2 322.1h0M246.2 324.7h0M261.2 326.6h0M210.0 317.6h0M240.5 347.7h0M289.1 314.6h0M252.2 338.9h0M226.4 330.4h0M200.6 330.1h0" stroke="#3d7ebf" stroke-width="2.6" stroke-linecap="round" fill="none"/><path d="M221.0 312.4l1.45 2.4h-2.9zM212.5 313.4l1.45 2.4h-2.9zM204.7 317.8l1.45 2.4h-2.9zM215.6 313.3l1.45 2.4h-2.9zM210.6 327.2l1.45 2.4h-2.9zM227.7 321.1l1.45 2.4h-2.9zM217.6 323.5l1.45 2.4h-2.9zM231.9 336.8l1.45 2.4h-2.9zM207.6 316.9l1.45 2.4h-2.9zM207.9 331.6l1.45 2.4h-2.9zM206.1 326.5l1.45 2.4h-2.9zM227.9 324.1l1.45 2.4h-2.9zM226.8 319.0l1.45 2.4h-2.9zM235.0 314.7l1.45 2.4h-2.9zM210.1 325.5l1.45 2.4h-2.9zM205.3 311.6l1.45 2.4h-2.9zM208.1 321.5l1.45 2.4h-2.9zM215.6 334.4l1.45 2.4h-2.9zM267.9 326.0l1.45 2.4h-2.9zM222.6 326.7l1.45 2.4h-2.9zM213.4 310.1l1.45 2.4h-2.9zM214.2 306.4l1.45 2.4h-2.9zM223.1 326.6l1.45 2.4h-2.9zM250.2 315.7l1.45 2.4h-2.9zM232.3 323.7l1.45 2.4h-2.9zM207.0 334.5l1.45 2.4h-2.9zM230.2 317.0l1.45 2.4h-2.9zM213.6 342.3l1.45 2.4h-2.9zM234.5 319.8l1.45 2.4h-2.9zM245.2 323.1l1.45 2.4h-2.9zM221.4 320.5l1.45 2.4h-2.9zM222.5 308.7l1.45 2.4h-2.9zM239.8 324.6l1.45 2.4h-2.9zM238.1 323.3l1.45 2.4h-2.9zM196.4 334.7l1.45 2.4h-2.9zM207.7 343.8l1.45 2.4h-2.9zM256.3 315.8l1.45 2.4h-2.9zM216.7 325.7l1.45 2.4h-2.9zM250.2 325.3l1.45 2.4h-2.9zM225.7 323.8l1.45 2.4h-2.9zM231.8 322.7l1.45 2.4h-2.9zM205.6 320.0l1.45 2.4h-2.9zM241.0 313.5l1.45 2.4h-2.9zM254.5 306.7l1.45 2.4h-2.9zM233.4 339.7l1.45 2.4h-2.9zM232.2 333.0l1.45 2.4h-2.9zM221.4 328.5l1.45 2.4h-2.9zM277.4 323.9l1.45 2.4h-2.9zM242.7 343.7l1.45 2.4h-2.9zM215.9 327.7l1.45 2.4h-2.9z" fill="#3d7ebf"/><path d="M231.7 335.9h0M213.8 341.0h0M233.4 325.1h0M220.9 328.5h0M199.2 336.9h0M221.0 337.6h0M245.0 331.0h0M212.9 332.0h0M202.7 353.4h0M209.8 312.4h0M251.7 331.9h0M209.2 335.2h0M203.0 316.0h0M234.8 332.9h0M211.2 335.6h0M200.5 325.6h0M212.7 329.2h0M232.0 331.9h0M214.2 323.6h0M213.8 313.8h0M239.0 324.1h0M212.0 319.5h0M211.8 322.5h0M204.1 326.0h0M205.6 320.5h0M226.7 325.5h0M197.7 324.4h0M249.9 328.1h0M215.2 319.7h0M206.6 330.9h0M210.3 310.7h0M213.8 335.6h0M210.3 328.1h0M217.1 335.4h0M212.3 326.6h0M219.9 331.8h0M242.9 331.5h0M225.4 319.8h0M260.1 323.4h0M246.3 343.3h0M208.5 335.0h0M212.8 327.4h0M223.4 326.3h0M223.2 317.3h0M223.4 317.9h0M201.9 329.8h0M213.2 332.0h0M202.7 342.3h0M209.1 344.7h0M213.4 329.8h0M223.8 326.8h0M247.5 331.0h0M221.2 340.6h0M240.7 316.6h0M200.9 329.9h0M201.8 333.5h0M245.6 313.3h0M221.4 339.3h0M214.6 335.1h0M224.9 309.0h0M213.1 329.4h0" stroke="#4bab3d" stroke-width="2.6" stroke-linecap="round" fill="none"/><path d="M207.9 328.3l1.45 2.4h-2.9zM237.5 314.6l1.45 2.4h-2.9zM226.4 336.0l1.45 2.4h-2.9zM235.0 347.8l1.45 2.4h-2.9zM213.3 340.9l1.45 2.4h-2.9zM221.9 343.2l1.45 2.4h-2.9zM203.5 333.1l1.45 2.4h-2.9zM218.9 309.5l1.45 2.4h-2.9zM248.7 319.2l1.45 2.4h-2.9zM215.4 313.8l1.45 2.4h-2.9zM206.2 339.2l1.45 2.4h-2.9zM207.7 330.9l1.45 2.4h-2.9zM273.1 318.7l1.45 2.4h-2.9zM205.6 340.0l1.45 2.4h-2.9zM228.8 316.9l1.45 2.4h-2.9zM218.2 325.2l1.45 2.4h-2.9zM214.7 342.2l1.45 2.4h-2.9zM232.1 349.0l1.45 2.4h-2.9zM230.9 328.3l1.45 2.4h-2.9zM236.7 334.1l1.45 2.4h-2.9zM223.4 321.2l1.45 2.4h-2.9zM255.4 313.9l1.45 2.4h-2.9zM215.6 325.9l1.45 2.4h-2.9zM212.1 348.6l1.45 2.4h-2.9zM239.3 330.7l1.45 2.4h-2.9zM214.9 322.5l1.45 2.4h-2.9zM216.8 313.4l1.45 2.4h-2.9zM242.1 330.1l1.45 2.4h-2.9zM206.8 316.9l1.45 2.4h-2.9zM226.7 327.2l1.45 2.4h-2.9zM213.0 351.0l1.45 2.4h-2.9zM255.1 322.2l1.45 2.4h-2.9zM222.2 312.5l1.45 2.4h-2.9zM221.7 323.5l1.45 2.4h-2.9zM221.2 327.8l1.45 2.4h-2.9zM200.5 336.9l1.45 2.4h-2.9zM209.5 333.4l1.45 2.4h-2.9zM232.6 314.6l1.45 2.4h-2.9zM220.2 327.1l1.45 2.4h-2.9zM200.0 320.1l1.45 2.4h-2.9zM202.1 333.0l1.45 2.4h-2.9zM233.0 315.4l1.45 2.4h-2.9zM196.6 356.7l1.45 2.4h-2.9zM224.0 327.2l1.45 2.4h-2.9zM219.3 329.2l1.45 2.4h-2.9zM216.9 331.6l1.45 2.4h-2.9zM225.3 326.4l1.45 2.4h-2.9zM202.8 324.0l1.45 2.4h-2.9zM199.0 330.2l1.45 2.4h-2.9zM215.9 326.3l1.45 2.4h-2.9zM199.4 327.2l1.45 2.4h-2.9zM279.1 305.7l1.45 2.4h-2.9zM235.6 314.9l1.45 2.4h-2.9zM222.0 325.2l1.45 2.4h-2.9zM214.3 326.6l1.45 2.4h-2.9zM220.2 331.8l1.45 2.4h-2.9zM198.9 334.0l1.45 2.4h-2.9zM263.4 317.3l1.45 2.4h-2.9zM214.2 322.7l1.45 2.4h-2.9zM232.8 321.9l1.45 2.4h-2.9zM209.6 332.5l1.45 2.4h-2.9z" fill="#4bab3d"/><path d="M189.4 370.5h0M185.9 365.1h0M225.0 359.1h0M184.0 368.1h0M186.5 366.5h0M183.8 335.2h0M186.3 362.8h0M180.2 364.3h0M185.9 361.0h0M191.2 359.5h0M188.2 370.9h0M182.9 342.3h0M184.2 365.2h0M180.3 354.2h0M230.5 345.6h0M197.3 355.8h0M187.9 368.5h0M181.7 365.3h0M185.2 355.5h0M180.9 362.3h0M222.0 346.7h0M188.5 360.5h0M180.8 366.7h0M184.0 363.6h0M184.2 337.8h0M180.2 366.7h0M183.5 336.8h0M228.5 349.4h0M181.3 366.3h0M188.0 352.4h0M223.4 355.4h0M186.0 344.5h0M183.0 359.8h0M199.3 358.6h0M197.6 361.7h0M187.2 366.7h0M189.9 362.3h0M190.9 358.9h0M182.8 329.6h0M186.9 360.6h0M200.0 358.4h0M182.0 370.7h0M180.1 363.5h0M203.2 327.4h0M191.8 354.9h0M180.3 340.6h0M237.7 346.2h0M189.4 330.0h0M181.8 370.6h0M193.3 335.4h0M192.4 367.2h0M200.4 353.4h0M180.3 336.8h0M196.6 321.9h0M180.2 367.0h0M210.4 354.6h0M203.5 334.3h0M199.2 312.3h0M184.9 337.0h0M185.0 368.4h0M180.7 360.2h0M180.5 367.3h0M180.9 371.6h0M186.2 363.5h0M190.1 358.1h0M181.8 367.5h0M202.8 346.9h0" stroke="#f2832d" stroke-width="2.6" stroke-linecap="round" fill="none"/><path d="M183.6 357.6l1.45 2.4h-2.9zM183.4 364.0l1.45 2.4h-2.9zM204.3 353.0l1.45 2.4h-2.9zM196.0 322.2l1.45 2.4h-2.9zM184.1 330.8l1.45 2.4h-2.9zM241.3 349.6l1.45 2.4h-2.9zM183.2 359.1l1.45 2.4h-2.9zM195.0 341.2l1.45 2.4h-2.9zM182.5 363.3l1.45 2.4h-2.9zM195.4 358.7l1.45 2.4h-2.9zM240.9 354.7l1.45 2.4h-2.9zM180.3 357.4l1.45 2.4h-2.9zM196.9 357.4l1.45 2.4h-2.9zM184.6 367.7l1.45 2.4h-2.9zM196.2 359.3l1.45 2.4h-2.9zM187.4 363.5l1.45 2.4h-2.9zM195.2 361.4l1.45 2.4h-2.9zM187.2 355.5l1.45 2.4h-2.9zM196.9 347.8l1.45 2.4h-2.9zM182.2 369.5l1.45 2.4h-2.9zM187.3 355.0l1.45 2.4h-2.9zM187.5 332.9l1.45 2.4h-2.9zM198.9 352.5l1.45 2.4h-2.9zM180.8 358.0l1.45 2.4h-2.9zM181.4 368.8l1.45 2.4h-2.9zM187.9 356.2l1.45 2.4h-2.9zM181.6 363.8l1.45 2.4h-2.9zM188.2 363.5l1.45 2.4h-2.9zM195.5 361.6l1.45 2.4h-2.9zM180.5 369.3l1.45 2.4h-2.9zM184.4 360.2l1.45 2.4h-2.9zM180.3 363.3l1.45 2.4h-2.9zM181.7 336.7l1.45 2.4h-2.9zM199.9 343.0l1.45 2.4h-2.9zM187.7 362.5l1.45 2.4h-2.9zM182.0 361.2l1.45 2.4h-2.9zM187.2 331.3l1.45 2.4h-2.9zM192.8 356.6l1.45 2.4h-2.9zM182.0 357.7l1.45 2.4h-2.9zM189.6 366.6l1.45 2.4h-2.9zM188.4 363.9l1.45 2.4h-2.9zM182.6 368.6l1.45 2.4h-2.9zM186.2 362.3l1.45 2.4h-2.9zM195.0 363.2l1.45 2.4h-2.9zM180.3 363.2l1.45 2.4h-2.9zM180.3 361.7l1.45 2.4h-2.9zM185.2 333.1l1.45 2.4h-2.9zM219.2 328.3l1.45 2.4h-2.9zM183.3 341.1l1.45 2.4h-2.9zM182.9 366.0l1.45 2.4h-2.9zM188.1 359.5l1.45 2.4h-2.9z" fill="#f2832d"/>
<path d="M180.0 363.3 L183.1 359.1 L186.2 354.9 L189.4 350.8 L192.5 346.8 L195.6 343.0 L198.8 339.4 L201.9 336.2 L205.0 333.4 L208.1 331.2 L211.2 329.5 L214.4 328.2 L217.5 327.3 L220.6 326.5 L223.8 325.9 L226.9 325.5 L230.0 325.0 L233.1 324.7 L236.2 324.3 L239.4 324.0 L242.5 323.7 L245.6 323.3 L248.8 322.9 L251.9 322.5 L255.0 322.0 L258.1 321.5 L261.2 321.0 L264.4 320.5 L267.5 320.0 L270.6 319.4 L273.8 318.9 L276.9 318.3 L280.0 317.7 L283.1 317.1 L286.2 316.4 L289.4 315.8 L289.4 326.7 L286.2 326.6 L283.1 326.6 L280.0 326.5 L276.9 326.4 L273.8 326.4 L270.6 326.4 L267.5 326.4 L264.4 326.4 L261.2 326.4 L258.1 326.5 L255.0 326.5 L251.9 326.6 L248.8 326.7 L245.6 326.9 L242.5 327.1 L239.4 327.3 L236.2 327.6 L233.1 327.8 L230.0 328.1 L226.9 328.5 L223.8 328.9 L220.6 329.4 L217.5 330.0 L214.4 331.0 L211.2 332.4 L208.1 334.2 L205.0 336.5 L201.9 339.4 L198.8 342.7 L195.6 346.4 L192.5 350.3 L189.4 354.4 L186.2 358.5 L183.1 362.8 L180.0 367.1 Z" fill="#999" fill-opacity="0.4"/>
<path d="M180.0 365.2 L183.1 361.0 L186.2 356.7 L189.4 352.6 L192.5 348.6 L195.6 344.7 L198.8 341.1 L201.9 337.8 L205.0 335.0 L208.1 332.7 L211.2 330.9 L214.4 329.6 L217.5 328.6 L220.6 327.9 L223.8 327.4 L226.9 327.0 L230.0 326.6 L233.1 326.3 L236.2 326.0 L239.4 325.7 L242.5 325.4 L245.6 325.1 L248.8 324.8 L251.9 324.5 L255.0 324.3 L258.1 324.0 L261.2 323.7 L264.4 323.4 L267.5 323.2 L270.6 322.9 L273.8 322.6 L276.9 322.4 L280.0 322.1 L283.1 321.8 L286.2 321.5 L289.4 321.3" fill="none" stroke="#476aeb" stroke-width="1.4" stroke-linejoin="round"/>
<text class="dv" x="172.3" y="369.75" font-size="5.4" fill="#4d4d4d" text-anchor="end">4</text>
<text class="dv" x="172.3" y="356.77" font-size="5.4" fill="#4d4d4d" text-anchor="end">5</text>
<text class="dv" x="172.3" y="343.79" font-size="5.4" fill="#4d4d4d" text-anchor="end">6</text>
<text class="dv" x="172.3" y="330.81" font-size="5.4" fill="#4d4d4d" text-anchor="end">7</text>
<text class="dv" x="172.3" y="317.83" font-size="5.4" fill="#4d4d4d" text-anchor="end">8</text>
<text class="dv" x="172.3" y="304.85" font-size="5.4" fill="#4d4d4d" text-anchor="end">9</text>
<text class="dv" x="180" y="384" font-size="5.4" fill="#4d4d4d" text-anchor="middle">0</text>
<text class="dv" x="211.25" y="384" font-size="5.4" fill="#4d4d4d" text-anchor="middle">10</text>
<text class="dv" x="242.5" y="384" font-size="5.4" fill="#4d4d4d" text-anchor="middle">20</text>
<text class="dv" x="273.75" y="384" font-size="5.4" fill="#4d4d4d" text-anchor="middle">30</text>
<text class="dv" x="235" y="391.4" font-size="6.45" fill="#222" text-anchor="middle">PASI</text>
<text class="dv" x="165.6" y="339.7" font-size="6.45" fill="#222" text-anchor="middle" transform="rotate(-90 165.6 339.7)">CARHSP1 log2(expr)</text>
<rect x="334.4" y="283" width="117.9" height="9.2" fill="#b525f8"/>
<rect x="334.4" y="293" width="117.9" height="9.7" fill="#80fefe"/>
<rect x="452.9" y="303.3" width="9.9" height="75.7" fill="#7ffad4"/>
<text class="dv" x="393.35" y="289.5" font-size="5.2" fill="#fff" text-anchor="middle">Lesional</text>
<text class="dv" x="393.35" y="299.75" font-size="5.2" fill="#222" text-anchor="middle">Both drugs</text>
<text class="dv" x="459.65" y="341.15" font-size="5.2" fill="#222" text-anchor="middle" transform="rotate(-90 459.65 341.15)">turquoise</text>
<path d="M334.4 373.87H452.3M334.4 354.73H452.3M334.4 335.6H452.3M334.4 316.47H452.3M354.57 303.3V379M384.92 303.3V379M415.27 303.3V379M445.62 303.3V379" stroke="#f2f2f2" stroke-width="0.35" fill="none"/>
<path d="M334.4 364.3H452.3M334.4 345.17H452.3M334.4 326.03H452.3M334.4 306.9H452.3M339.4 303.3V379M369.75 303.3V379M400.1 303.3V379M430.45 303.3V379" stroke="#e8e8e8" stroke-width="0.55" fill="none"/>
<path d="M391.6 319.9h0M383.9 318.2h0M410.5 318.9h0M392.9 326.0h0M433.1 339.4h0M368.9 328.6h0M389.8 329.2h0M399.6 317.0h0M379.7 311.0h0M358.7 343.2h0M393.5 323.2h0M386.2 318.4h0M397.7 310.7h0M357.7 333.7h0M421.2 330.2h0M360.2 324.8h0M370.3 329.3h0M394.3 336.7h0M360.5 326.9h0M365.2 345.8h0M424.4 336.1h0M369.1 317.4h0M400.5 339.2h0M374.0 322.7h0M423.0 314.7h0M368.5 316.2h0M387.9 330.4h0M442.2 319.6h0M390.4 329.5h0M359.6 312.1h0M390.1 343.7h0M371.6 344.9h0M364.5 319.9h0M368.6 328.6h0M387.1 313.3h0M444.2 323.5h0M361.3 340.8h0M359.0 352.0h0M364.7 342.3h0M374.7 317.8h0M390.3 317.9h0M373.8 316.4h0M372.5 319.7h0M378.2 335.4h0M363.7 343.4h0M395.3 330.3h0M441.0 309.7h0M380.7 327.2h0M381.9 313.9h0M373.7 352.2h0M362.1 329.8h0M380.8 318.7h0M360.5 334.7h0M374.9 316.5h0M404.0 333.7h0M367.4 350.4h0M403.2 330.0h0M385.4 335.7h0M355.2 340.4h0M402.9 320.3h0M391.2 324.9h0M364.7 335.2h0M372.0 327.0h0M362.0 325.8h0M403.7 332.5h0M418.2 326.4h0M368.5 334.0h0M398.2 335.3h0M445.4 319.9h0M409.6 323.4h0M384.4 326.0h0M359.4 326.6h0" stroke="#3d7ebf" stroke-width="2.6" stroke-linecap="round" fill="none"/><path d="M379.3 310.1l1.45 2.4h-2.9zM370.9 321.3l1.45 2.4h-2.9zM363.4 333.1l1.45 2.4h-2.9zM374.0 330.1l1.45 2.4h-2.9zM369.1 343.2l1.45 2.4h-2.9zM385.7 319.9l1.45 2.4h-2.9zM375.9 313.5l1.45 2.4h-2.9zM389.8 337.4l1.45 2.4h-2.9zM366.2 324.9l1.45 2.4h-2.9zM366.5 361.5l1.45 2.4h-2.9zM364.8 320.0l1.45 2.4h-2.9zM385.9 321.4l1.45 2.4h-2.9zM384.8 309.9l1.45 2.4h-2.9zM392.8 317.5l1.45 2.4h-2.9zM368.6 318.8l1.45 2.4h-2.9zM364.0 370.9l1.45 2.4h-2.9zM366.7 324.7l1.45 2.4h-2.9zM373.9 330.9l1.45 2.4h-2.9zM424.7 321.9l1.45 2.4h-2.9zM380.8 326.3l1.45 2.4h-2.9zM371.8 329.9l1.45 2.4h-2.9zM372.6 318.0l1.45 2.4h-2.9zM381.3 315.1l1.45 2.4h-2.9zM407.6 318.8l1.45 2.4h-2.9zM390.2 312.5l1.45 2.4h-2.9zM365.6 337.1l1.45 2.4h-2.9zM388.1 325.7l1.45 2.4h-2.9zM372.0 339.0l1.45 2.4h-2.9zM392.3 325.2l1.45 2.4h-2.9zM402.7 327.8l1.45 2.4h-2.9zM379.6 327.4l1.45 2.4h-2.9zM380.6 332.7l1.45 2.4h-2.9zM397.4 316.9l1.45 2.4h-2.9zM395.9 330.1l1.45 2.4h-2.9zM355.3 322.4l1.45 2.4h-2.9zM366.3 320.9l1.45 2.4h-2.9zM413.5 322.8l1.45 2.4h-2.9zM375.0 312.3l1.45 2.4h-2.9zM407.6 323.8l1.45 2.4h-2.9zM383.8 314.9l1.45 2.4h-2.9zM389.7 311.7l1.45 2.4h-2.9zM364.2 340.6l1.45 2.4h-2.9zM398.6 310.9l1.45 2.4h-2.9zM411.8 318.3l1.45 2.4h-2.9zM391.3 322.9l1.45 2.4h-2.9zM390.1 370.1l1.45 2.4h-2.9zM379.6 314.0l1.45 2.4h-2.9zM434.0 338.4l1.45 2.4h-2.9zM400.3 328.3l1.45 2.4h-2.9zM374.3 329.8l1.45 2.4h-2.9z" fill="#3d7ebf"/><path d="M389.6 324.7h0M372.3 328.9h0M391.2 331.9h0M379.1 313.5h0M358.0 339.8h0M379.2 339.4h0M402.5 338.8h0M371.3 329.7h0M361.5 341.0h0M368.3 315.5h0M409.0 324.8h0M367.7 318.6h0M361.7 339.5h0M392.6 321.9h0M369.7 316.3h0M359.3 332.3h0M371.2 339.9h0M389.9 331.0h0M372.6 330.7h0M372.2 310.4h0M396.7 330.5h0M370.5 334.4h0M370.3 341.4h0M362.8 321.4h0M364.2 337.7h0M384.8 330.7h0M356.6 329.8h0M407.3 338.8h0M373.6 322.8h0M365.2 339.9h0M368.8 322.7h0M372.2 341.2h0M368.9 325.5h0M375.4 317.7h0M370.7 328.8h0M378.1 341.1h0M400.5 326.6h0M383.5 336.4h0M417.2 328.9h0M403.8 327.0h0M367.0 317.6h0M371.3 330.6h0M381.6 337.2h0M381.3 332.5h0M381.5 328.4h0M360.7 327.0h0M371.6 329.1h0M361.4 334.3h0M367.6 341.6h0M371.8 328.5h0M381.9 324.9h0M405.0 334.8h0M379.4 339.4h0M398.3 314.7h0M359.7 337.3h0M360.6 339.4h0M403.2 328.2h0M379.6 323.5h0M373.0 337.6h0M383.0 331.7h0M371.5 334.1h0" stroke="#4bab3d" stroke-width="2.6" stroke-linecap="round" fill="none"/><path d="M366.5 338.0l1.45 2.4h-2.9zM395.2 319.8l1.45 2.4h-2.9zM384.4 324.5l1.45 2.4h-2.9zM392.9 323.1l1.45 2.4h-2.9zM371.7 338.3l1.45 2.4h-2.9zM380.1 334.0l1.45 2.4h-2.9zM362.2 330.4l1.45 2.4h-2.9zM377.2 326.3l1.45 2.4h-2.9zM406.1 323.8l1.45 2.4h-2.9zM373.8 333.6l1.45 2.4h-2.9zM364.9 331.3l1.45 2.4h-2.9zM366.3 332.0l1.45 2.4h-2.9zM429.8 329.1l1.45 2.4h-2.9zM364.2 324.1l1.45 2.4h-2.9zM386.8 324.1l1.45 2.4h-2.9zM376.5 325.6l1.45 2.4h-2.9zM373.1 323.5l1.45 2.4h-2.9zM390.0 320.5l1.45 2.4h-2.9zM388.8 330.4l1.45 2.4h-2.9zM394.4 331.2l1.45 2.4h-2.9zM381.6 334.2l1.45 2.4h-2.9zM412.6 321.4l1.45 2.4h-2.9zM374.0 331.3l1.45 2.4h-2.9zM370.6 326.6l1.45 2.4h-2.9zM397.0 323.2l1.45 2.4h-2.9zM373.3 334.7l1.45 2.4h-2.9zM375.1 323.6l1.45 2.4h-2.9zM399.7 313.7l1.45 2.4h-2.9zM365.4 331.7l1.45 2.4h-2.9zM384.8 322.0l1.45 2.4h-2.9zM371.5 322.7l1.45 2.4h-2.9zM412.3 323.1l1.45 2.4h-2.9zM380.4 317.5l1.45 2.4h-2.9zM379.9 326.8l1.45 2.4h-2.9zM379.4 327.4l1.45 2.4h-2.9zM359.3 322.8l1.45 2.4h-2.9zM368.1 330.1l1.45 2.4h-2.9zM390.4 334.7l1.45 2.4h-2.9zM378.4 343.8l1.45 2.4h-2.9zM358.8 330.0l1.45 2.4h-2.9zM360.9 336.2l1.45 2.4h-2.9zM390.8 325.1l1.45 2.4h-2.9zM355.5 341.9l1.45 2.4h-2.9zM382.1 329.2l1.45 2.4h-2.9zM377.6 332.0l1.45 2.4h-2.9zM375.3 334.4l1.45 2.4h-2.9zM383.4 331.5l1.45 2.4h-2.9zM361.5 313.3l1.45 2.4h-2.9zM357.9 323.0l1.45 2.4h-2.9zM374.3 320.6l1.45 2.4h-2.9zM358.3 315.1l1.45 2.4h-2.9zM435.6 310.1l1.45 2.4h-2.9zM393.4 311.6l1.45 2.4h-2.9zM380.2 311.3l1.45 2.4h-2.9zM372.8 320.6l1.45 2.4h-2.9zM378.4 321.5l1.45 2.4h-2.9zM357.8 343.8l1.45 2.4h-2.9zM420.4 315.9l1.45 2.4h-2.9zM372.6 329.1l1.45 2.4h-2.9zM390.7 337.4l1.45 2.4h-2.9zM368.1 327.2l1.45 2.4h-2.9z" fill="#4bab3d"/><path d="M348.5 368.9h0M345.1 365.9h0M383.1 355.4h0M343.3 342.2h0M345.7 361.6h0M343.1 362.8h0M345.6 363.2h0M339.6 364.8h0M345.1 367.5h0M350.3 371.4h0M347.4 367.9h0M342.2 334.8h0M343.5 360.5h0M339.7 361.7h0M388.5 355.3h0M356.2 357.0h0M347.1 348.5h0M341.1 360.5h0M344.4 352.6h0M340.3 366.4h0M380.2 356.8h0M347.6 355.5h0M340.1 363.1h0M343.3 366.7h0M343.5 369.2h0M339.6 365.1h0M342.8 345.5h0M386.5 349.2h0M340.7 370.2h0M347.2 361.0h0M381.6 355.9h0M345.2 353.7h0M342.3 361.1h0M358.2 360.1h0M356.5 364.5h0M346.4 362.4h0M349.0 356.7h0M350.0 367.3h0M342.1 340.2h0M346.1 356.8h0M358.8 330.7h0M341.3 363.5h0M339.5 368.2h0M361.9 360.1h0M350.8 366.0h0M339.7 342.7h0M395.5 342.7h0M348.5 358.2h0M341.1 365.8h0M352.3 359.5h0M351.4 363.3h0M359.2 361.1h0M339.6 331.8h0M355.5 357.3h0M339.6 371.7h0M368.9 353.5h0M362.2 320.4h0M358.1 343.5h0M344.2 340.4h0M344.3 362.8h0M340.1 370.4h0M339.8 369.0h0M340.3 351.0h0M345.4 343.0h0M349.2 365.9h0M341.2 371.9h0M361.5 324.2h0" stroke="#f2832d" stroke-width="2.6" stroke-linecap="round" fill="none"/><path d="M342.9 363.2l1.45 2.4h-2.9zM342.7 365.5l1.45 2.4h-2.9zM363.0 358.3l1.45 2.4h-2.9zM354.9 352.9l1.45 2.4h-2.9zM343.4 327.2l1.45 2.4h-2.9zM398.9 349.0l1.45 2.4h-2.9zM342.5 359.5l1.45 2.4h-2.9zM354.0 361.2l1.45 2.4h-2.9zM341.8 364.2l1.45 2.4h-2.9zM354.4 359.9l1.45 2.4h-2.9zM398.5 353.0l1.45 2.4h-2.9zM339.7 358.3l1.45 2.4h-2.9zM355.8 357.5l1.45 2.4h-2.9zM343.8 367.7l1.45 2.4h-2.9zM355.1 362.0l1.45 2.4h-2.9zM346.6 355.0l1.45 2.4h-2.9zM354.2 360.7l1.45 2.4h-2.9zM346.4 367.3l1.45 2.4h-2.9zM355.8 362.8l1.45 2.4h-2.9zM341.5 364.3l1.45 2.4h-2.9zM346.5 368.6l1.45 2.4h-2.9zM346.7 328.5l1.45 2.4h-2.9zM357.7 349.0l1.45 2.4h-2.9zM340.2 337.0l1.45 2.4h-2.9zM340.8 358.9l1.45 2.4h-2.9zM347.0 357.7l1.45 2.4h-2.9zM341.0 330.2l1.45 2.4h-2.9zM347.3 366.2l1.45 2.4h-2.9zM354.4 347.5l1.45 2.4h-2.9zM339.9 371.0l1.45 2.4h-2.9zM343.7 364.9l1.45 2.4h-2.9zM339.7 367.5l1.45 2.4h-2.9zM341.0 329.7l1.45 2.4h-2.9zM358.7 354.8l1.45 2.4h-2.9zM346.9 368.9l1.45 2.4h-2.9zM341.3 366.8l1.45 2.4h-2.9zM346.4 328.2l1.45 2.4h-2.9zM351.8 358.0l1.45 2.4h-2.9zM341.3 362.9l1.45 2.4h-2.9zM348.7 369.1l1.45 2.4h-2.9zM347.6 362.7l1.45 2.4h-2.9zM342.0 359.1l1.45 2.4h-2.9zM345.4 366.9l1.45 2.4h-2.9zM354.0 358.7l1.45 2.4h-2.9zM339.7 368.0l1.45 2.4h-2.9zM339.7 357.9l1.45 2.4h-2.9zM344.5 330.1l1.45 2.4h-2.9zM377.5 350.7l1.45 2.4h-2.9zM342.6 370.5l1.45 2.4h-2.9zM342.2 329.0l1.45 2.4h-2.9zM347.2 365.0l1.45 2.4h-2.9z" fill="#f2832d"/>
<path d="M339.4 364.5 L342.4 360.0 L345.5 355.5 L348.5 351.1 L351.5 346.8 L354.6 342.7 L357.6 338.9 L360.6 335.6 L363.7 332.7 L366.7 330.5 L369.8 328.9 L372.8 327.7 L375.8 326.9 L378.9 326.3 L381.9 325.8 L384.9 325.4 L388.0 325.1 L391.0 324.8 L394.0 324.5 L397.1 324.2 L400.1 323.9 L403.1 323.6 L406.2 323.3 L409.2 322.9 L412.2 322.5 L415.3 322.1 L418.3 321.7 L421.3 321.3 L424.4 320.8 L427.4 320.4 L430.4 319.9 L433.5 319.4 L436.5 318.9 L439.6 318.3 L442.6 317.8 L445.6 317.3 L445.6 327.1 L442.6 327.0 L439.6 326.9 L436.5 326.8 L433.5 326.7 L430.4 326.6 L427.4 326.6 L424.4 326.6 L421.3 326.6 L418.3 326.6 L415.3 326.6 L412.2 326.6 L409.2 326.7 L406.2 326.8 L403.1 326.9 L400.1 327.0 L397.1 327.2 L394.0 327.4 L391.0 327.6 L388.0 327.8 L384.9 328.1 L381.9 328.4 L378.9 328.8 L375.8 329.4 L372.8 330.3 L369.8 331.5 L366.7 333.2 L363.7 335.5 L360.6 338.4 L357.6 341.8 L354.6 345.7 L351.5 349.9 L348.5 354.2 L345.5 358.7 L342.4 363.3 L339.4 367.9 Z" fill="#999" fill-opacity="0.4"/>
<path d="M339.4 366.2 L342.4 361.6 L345.5 357.1 L348.5 352.6 L351.5 348.3 L354.6 344.2 L357.6 340.4 L360.6 337.0 L363.7 334.1 L366.7 331.9 L369.8 330.2 L372.8 329.0 L375.8 328.2 L378.9 327.6 L381.9 327.1 L384.9 326.8 L388.0 326.5 L391.0 326.2 L394.0 325.9 L397.1 325.7 L400.1 325.5 L403.1 325.2 L406.2 325.0 L409.2 324.8 L412.2 324.6 L415.3 324.4 L418.3 324.1 L421.3 323.9 L424.4 323.7 L427.4 323.5 L430.4 323.3 L433.5 323.0 L436.5 322.8 L439.6 322.6 L442.6 322.4 L445.6 322.2" fill="none" stroke="#476aeb" stroke-width="1.4" stroke-linejoin="round"/>
<text class="dv" x="331.8" y="366.25" font-size="5.4" fill="#4d4d4d" text-anchor="end">4</text>
<text class="dv" x="331.8" y="347.12" font-size="5.4" fill="#4d4d4d" text-anchor="end">6</text>
<text class="dv" x="331.8" y="327.98" font-size="5.4" fill="#4d4d4d" text-anchor="end">8</text>
<text class="dv" x="331.8" y="308.85" font-size="5.4" fill="#4d4d4d" text-anchor="end">10</text>
<text class="dv" x="339.4" y="385.7" font-size="5.4" fill="#4d4d4d" text-anchor="middle">0</text>
<text class="dv" x="369.75" y="385.7" font-size="5.4" fill="#4d4d4d" text-anchor="middle">10</text>
<text class="dv" x="400.1" y="385.7" font-size="5.4" fill="#4d4d4d" text-anchor="middle">20</text>
<text class="dv" x="430.45" y="385.7" font-size="5.4" fill="#4d4d4d" text-anchor="middle">30</text>
<text class="dv" x="393.2" y="393.6" font-size="6.45" fill="#222" text-anchor="middle">PASI</text>
<text class="dv" x="322" y="341.15" font-size="6.45" fill="#222" text-anchor="middle" transform="rotate(-90 322 341.15)">KLK13 log2(expr)</text>
<rect x="492" y="281.9" width="118" height="10.1" fill="#b525f8"/>
<rect x="492" y="292.6" width="118" height="9.4" fill="#80fefe"/>
<rect x="610.6" y="302.3" width="10.7" height="76" fill="#7ffad4"/>
<text class="dv" x="551" y="288.85" font-size="5.2" fill="#fff" text-anchor="middle">Lesional</text>
<text class="dv" x="551" y="299.2" font-size="5.2" fill="#222" text-anchor="middle">Both drugs</text>
<text class="dv" x="617.75" y="340.3" font-size="5.2" fill="#222" text-anchor="middle" transform="rotate(-90 617.75 340.3)">turquoise</text>
<path d="M492 365.35H610M492 350.85H610M492 336.35H610M492 321.85H610M492 307.35H610M512.51 302.3V378.3M542.95 302.3V378.3M573.38 302.3V378.3M603.81 302.3V378.3" stroke="#f2f2f2" stroke-width="0.35" fill="none"/>
<path d="M492 372.6H610M492 358.1H610M492 343.6H610M492 329.1H610M492 314.6H610M497.3 302.3V378.3M527.73 302.3V378.3M558.16 302.3V378.3M588.59 302.3V378.3" stroke="#e8e8e8" stroke-width="0.55" fill="none"/>
<path d="M549.7 328.0h0M541.9 316.9h0M568.6 315.4h0M550.9 319.2h0M591.2 326.3h0M526.9 326.8h0M547.9 312.1h0M557.7 317.2h0M537.7 325.0h0M516.7 320.0h0M551.6 324.6h0M544.2 312.5h0M555.7 319.8h0M515.6 326.1h0M579.3 319.0h0M518.1 324.7h0M528.3 311.5h0M552.3 318.2h0M518.4 320.6h0M523.1 329.9h0M582.5 312.6h0M527.0 321.7h0M558.6 321.0h0M532.0 318.5h0M581.1 319.3h0M526.5 313.7h0M546.0 317.1h0M600.4 312.3h0M548.5 322.3h0M517.5 313.7h0M548.1 316.5h0M529.6 322.6h0M522.5 312.2h0M526.6 321.8h0M545.1 317.2h0M602.4 320.1h0M519.2 313.0h0M517.0 334.0h0M522.7 320.2h0M532.7 310.6h0M548.3 318.9h0M531.8 316.4h0M530.5 324.3h0M536.2 329.1h0M521.7 322.0h0M553.3 321.5h0M599.2 311.1h0M538.7 320.9h0M540.0 322.7h0M531.7 322.8h0M520.0 318.5h0M538.8 324.6h0M518.4 322.8h0M532.9 311.8h0M562.1 319.6h0M525.4 332.3h0M561.3 317.6h0M543.4 314.1h0M513.2 328.7h0M561.0 318.0h0M549.2 321.5h0M522.6 320.9h0M530.0 324.5h0M519.9 320.6h0M561.8 325.3h0M576.4 323.0h0M526.5 317.6h0M556.2 324.7h0M603.6 320.9h0M567.7 321.4h0M542.4 320.8h0M517.4 329.3h0" stroke="#3d7ebf" stroke-width="2.6" stroke-linecap="round" fill="none"/><path d="M537.3 312.6l1.45 2.4h-2.9zM528.9 319.1l1.45 2.4h-2.9zM521.4 327.7l1.45 2.4h-2.9zM532.0 309.2l1.45 2.4h-2.9zM527.1 317.2l1.45 2.4h-2.9zM543.7 323.7l1.45 2.4h-2.9zM533.9 318.8l1.45 2.4h-2.9zM547.8 323.5l1.45 2.4h-2.9zM524.2 314.6l1.45 2.4h-2.9zM524.5 325.4l1.45 2.4h-2.9zM522.8 319.0l1.45 2.4h-2.9zM544.0 317.3l1.45 2.4h-2.9zM542.8 317.0l1.45 2.4h-2.9zM550.9 315.8l1.45 2.4h-2.9zM526.6 314.4l1.45 2.4h-2.9zM521.9 319.5l1.45 2.4h-2.9zM524.7 318.1l1.45 2.4h-2.9zM531.9 321.0l1.45 2.4h-2.9zM582.9 316.6l1.45 2.4h-2.9zM538.8 308.6l1.45 2.4h-2.9zM529.8 318.4l1.45 2.4h-2.9zM530.6 319.0l1.45 2.4h-2.9zM539.3 321.5l1.45 2.4h-2.9zM565.6 318.0l1.45 2.4h-2.9zM548.2 313.0l1.45 2.4h-2.9zM523.6 317.0l1.45 2.4h-2.9zM546.1 324.6l1.45 2.4h-2.9zM530.0 320.1l1.45 2.4h-2.9zM550.4 309.0l1.45 2.4h-2.9zM560.8 316.1l1.45 2.4h-2.9zM537.6 318.1l1.45 2.4h-2.9zM538.7 319.1l1.45 2.4h-2.9zM555.5 313.4l1.45 2.4h-2.9zM553.9 308.9l1.45 2.4h-2.9zM513.2 320.8l1.45 2.4h-2.9zM524.3 320.2l1.45 2.4h-2.9zM571.6 312.2l1.45 2.4h-2.9zM533.0 326.3l1.45 2.4h-2.9zM565.7 315.5l1.45 2.4h-2.9zM541.8 316.9l1.45 2.4h-2.9zM547.7 309.4l1.45 2.4h-2.9zM522.2 325.2l1.45 2.4h-2.9zM556.7 310.2l1.45 2.4h-2.9zM569.9 314.7l1.45 2.4h-2.9zM549.3 318.6l1.45 2.4h-2.9zM548.2 317.2l1.45 2.4h-2.9zM537.6 319.9l1.45 2.4h-2.9zM592.2 321.6l1.45 2.4h-2.9zM558.3 318.9l1.45 2.4h-2.9zM532.3 320.9l1.45 2.4h-2.9z" fill="#3d7ebf"/><path d="M547.6 317.2h0M530.3 327.2h0M549.3 318.3h0M537.1 316.9h0M516.0 322.1h0M537.2 324.1h0M560.6 319.2h0M529.3 318.3h0M519.4 331.0h0M526.3 321.4h0M567.1 316.9h0M525.7 316.9h0M519.7 319.0h0M550.7 316.1h0M527.7 316.9h0M517.3 335.6h0M529.1 318.1h0M548.0 324.6h0M530.6 313.6h0M530.2 320.3h0M554.7 325.9h0M528.5 321.2h0M528.3 316.0h0M520.7 324.2h0M522.2 318.4h0M542.8 308.9h0M514.5 310.9h0M565.4 325.4h0M531.6 311.6h0M523.2 333.8h0M526.8 318.8h0M530.2 321.4h0M526.8 310.6h0M533.4 314.6h0M528.7 315.7h0M536.1 317.7h0M558.5 324.4h0M541.5 325.6h0M575.3 314.1h0M561.9 319.0h0M525.0 315.8h0M529.2 318.6h0M539.6 328.6h0M539.3 323.1h0M539.5 321.1h0M518.7 314.2h0M529.6 326.7h0M519.4 314.8h0M525.6 324.4h0M529.8 316.2h0M540.0 319.4h0M563.1 315.2h0M537.5 325.3h0M556.4 313.4h0M517.6 316.5h0M518.5 332.1h0M561.2 323.0h0M537.6 315.1h0M531.0 318.4h0M541.0 327.7h0M529.5 323.8h0" stroke="#4bab3d" stroke-width="2.6" stroke-linecap="round" fill="none"/><path d="M524.5 320.0l1.45 2.4h-2.9zM553.3 325.6l1.45 2.4h-2.9zM542.4 317.2l1.45 2.4h-2.9zM550.9 317.0l1.45 2.4h-2.9zM529.7 323.9l1.45 2.4h-2.9zM538.1 319.0l1.45 2.4h-2.9zM520.2 325.4l1.45 2.4h-2.9zM535.2 322.2l1.45 2.4h-2.9zM564.2 313.5l1.45 2.4h-2.9zM531.8 318.1l1.45 2.4h-2.9zM522.8 321.7l1.45 2.4h-2.9zM524.3 319.7l1.45 2.4h-2.9zM588.0 310.9l1.45 2.4h-2.9zM522.2 310.6l1.45 2.4h-2.9zM544.8 316.8l1.45 2.4h-2.9zM534.5 319.1l1.45 2.4h-2.9zM531.1 325.0l1.45 2.4h-2.9zM548.0 313.6l1.45 2.4h-2.9zM546.8 320.6l1.45 2.4h-2.9zM552.5 308.2l1.45 2.4h-2.9zM539.6 313.1l1.45 2.4h-2.9zM570.7 319.0l1.45 2.4h-2.9zM532.0 326.8l1.45 2.4h-2.9zM528.6 322.4l1.45 2.4h-2.9zM555.0 317.3l1.45 2.4h-2.9zM531.3 320.5l1.45 2.4h-2.9zM533.1 316.4l1.45 2.4h-2.9zM557.7 316.7l1.45 2.4h-2.9zM523.4 315.1l1.45 2.4h-2.9zM542.8 318.1l1.45 2.4h-2.9zM529.5 312.9l1.45 2.4h-2.9zM570.4 315.9l1.45 2.4h-2.9zM538.4 314.9l1.45 2.4h-2.9zM537.9 319.5l1.45 2.4h-2.9zM537.4 328.8l1.45 2.4h-2.9zM517.3 321.5l1.45 2.4h-2.9zM526.1 319.1l1.45 2.4h-2.9zM548.5 319.0l1.45 2.4h-2.9zM536.4 324.9l1.45 2.4h-2.9zM516.8 322.9l1.45 2.4h-2.9zM518.8 323.3l1.45 2.4h-2.9zM548.9 314.6l1.45 2.4h-2.9zM513.5 324.0l1.45 2.4h-2.9zM540.1 319.0l1.45 2.4h-2.9zM535.6 309.6l1.45 2.4h-2.9zM533.3 314.2l1.45 2.4h-2.9zM541.4 316.8l1.45 2.4h-2.9zM519.5 323.9l1.45 2.4h-2.9zM515.8 331.7l1.45 2.4h-2.9zM532.2 309.5l1.45 2.4h-2.9zM516.2 314.8l1.45 2.4h-2.9zM593.8 313.9l1.45 2.4h-2.9zM551.5 313.4l1.45 2.4h-2.9zM538.2 328.9l1.45 2.4h-2.9zM530.7 317.7l1.45 2.4h-2.9zM536.4 325.5l1.45 2.4h-2.9zM515.7 334.0l1.45 2.4h-2.9zM578.5 311.0l1.45 2.4h-2.9zM530.6 315.2l1.45 2.4h-2.9zM548.7 324.3l1.45 2.4h-2.9zM526.1 316.7l1.45 2.4h-2.9z" fill="#4bab3d"/><path d="M506.4 325.0h0M503.0 352.9h0M541.1 343.4h0M501.2 329.3h0M503.6 321.6h0M501.0 359.5h0M503.5 348.3h0M497.5 331.2h0M503.0 325.9h0M508.2 353.6h0M505.3 342.0h0M500.1 328.4h0M501.4 353.1h0M497.6 354.8h0M546.5 336.4h0M514.1 327.7h0M505.0 345.6h0M499.0 358.0h0M502.3 354.7h0M498.2 353.4h0M538.2 318.5h0M505.6 351.6h0M498.0 363.3h0M501.2 350.5h0M501.4 350.8h0M497.5 354.7h0M500.7 321.3h0M544.5 338.2h0M498.6 328.7h0M505.1 348.7h0M539.6 349.4h0M503.1 340.1h0M500.2 352.6h0M516.1 349.2h0M514.4 346.0h0M504.3 357.4h0M506.9 335.1h0M507.9 347.4h0M500.0 328.8h0M504.0 346.9h0M516.8 328.2h0M499.2 351.8h0M497.4 351.0h0M519.9 325.3h0M508.8 352.5h0M497.6 326.1h0M553.5 329.5h0M506.5 328.4h0M499.0 358.8h0M510.2 322.4h0M509.4 356.8h0M517.2 350.6h0M497.5 322.9h0M513.5 320.6h0M497.5 359.2h0M526.9 344.9h0M520.2 320.2h0M516.0 312.8h0M502.1 349.1h0M502.2 353.6h0M498.0 362.4h0M497.7 351.5h0M498.2 356.2h0M503.3 355.6h0M507.1 353.0h0M499.1 359.6h0M519.5 310.3h0" stroke="#f2832d" stroke-width="2.6" stroke-linecap="round" fill="none"/><path d="M500.8 345.9l1.45 2.4h-2.9zM500.6 337.4l1.45 2.4h-2.9zM520.9 340.6l1.45 2.4h-2.9zM512.9 355.7l1.45 2.4h-2.9zM501.3 320.4l1.45 2.4h-2.9zM557.0 350.8l1.45 2.4h-2.9zM500.4 343.2l1.45 2.4h-2.9zM511.9 320.0l1.45 2.4h-2.9zM499.7 357.1l1.45 2.4h-2.9zM512.3 351.1l1.45 2.4h-2.9zM556.6 347.4l1.45 2.4h-2.9zM497.6 348.7l1.45 2.4h-2.9zM513.7 343.1l1.45 2.4h-2.9zM501.7 320.8l1.45 2.4h-2.9zM513.0 352.6l1.45 2.4h-2.9zM504.5 344.1l1.45 2.4h-2.9zM512.1 365.6l1.45 2.4h-2.9zM504.3 348.0l1.45 2.4h-2.9zM513.7 322.0l1.45 2.4h-2.9zM499.4 360.1l1.45 2.4h-2.9zM504.4 361.5l1.45 2.4h-2.9zM504.6 319.6l1.45 2.4h-2.9zM515.7 350.3l1.45 2.4h-2.9zM498.1 351.2l1.45 2.4h-2.9zM498.7 320.0l1.45 2.4h-2.9zM505.0 358.7l1.45 2.4h-2.9zM498.9 352.3l1.45 2.4h-2.9zM505.3 351.3l1.45 2.4h-2.9zM512.4 321.4l1.45 2.4h-2.9zM497.8 351.8l1.45 2.4h-2.9zM501.6 346.1l1.45 2.4h-2.9zM497.6 357.7l1.45 2.4h-2.9zM498.9 327.8l1.45 2.4h-2.9zM516.7 322.6l1.45 2.4h-2.9zM504.8 348.1l1.45 2.4h-2.9zM499.2 324.4l1.45 2.4h-2.9zM504.3 319.7l1.45 2.4h-2.9zM509.8 349.4l1.45 2.4h-2.9zM499.3 345.1l1.45 2.4h-2.9zM506.7 323.8l1.45 2.4h-2.9zM505.5 355.2l1.45 2.4h-2.9zM499.9 356.8l1.45 2.4h-2.9zM503.3 350.1l1.45 2.4h-2.9zM511.9 323.7l1.45 2.4h-2.9zM497.6 355.9l1.45 2.4h-2.9zM497.6 321.9l1.45 2.4h-2.9zM502.4 330.0l1.45 2.4h-2.9zM535.5 319.3l1.45 2.4h-2.9zM500.5 366.5l1.45 2.4h-2.9zM500.1 325.7l1.45 2.4h-2.9zM505.1 356.8l1.45 2.4h-2.9z" fill="#f2832d"/>
<path d="M497.3 354.1 L500.3 350.4 L503.4 346.6 L506.4 343.0 L509.5 339.4 L512.5 335.9 L515.6 332.7 L518.6 329.7 L521.6 327.1 L524.7 324.9 L527.7 323.1 L530.8 321.8 L533.8 320.8 L536.9 320.1 L539.9 319.5 L542.9 319.1 L546.0 318.8 L549.0 318.5 L552.1 318.2 L555.1 318.0 L558.2 317.8 L561.2 317.5 L564.2 317.3 L567.3 317.0 L570.3 316.7 L573.4 316.4 L576.4 316.1 L579.5 315.8 L582.5 315.5 L585.5 315.2 L588.6 314.8 L591.6 314.5 L594.7 314.1 L597.7 313.8 L600.8 313.4 L603.8 313.0 L603.8 319.3 L600.8 319.2 L597.7 319.2 L594.7 319.2 L591.6 319.2 L588.6 319.2 L585.5 319.2 L582.5 319.2 L579.5 319.2 L576.4 319.2 L573.4 319.3 L570.3 319.3 L567.3 319.4 L564.2 319.5 L561.2 319.6 L558.2 319.7 L555.1 319.9 L552.1 320.1 L549.0 320.3 L546.0 320.5 L542.9 320.8 L539.9 321.2 L536.9 321.7 L533.8 322.4 L530.8 323.4 L527.7 324.8 L524.7 326.6 L521.6 328.8 L518.6 331.5 L515.6 334.5 L512.5 337.9 L509.5 341.4 L506.4 345.0 L503.4 348.7 L500.3 352.5 L497.3 356.3 Z" fill="#999" fill-opacity="0.4"/>
<path d="M497.3 355.2 L500.3 351.4 L503.4 347.7 L506.4 344.0 L509.5 340.4 L512.5 336.9 L515.6 333.6 L518.6 330.6 L521.6 327.9 L524.7 325.7 L527.7 323.9 L530.8 322.6 L533.8 321.6 L536.9 320.9 L539.9 320.4 L542.9 320.0 L546.0 319.6 L549.0 319.4 L552.1 319.2 L555.1 319.0 L558.2 318.8 L561.2 318.6 L564.2 318.4 L567.3 318.2 L570.3 318.0 L573.4 317.9 L576.4 317.7 L579.5 317.5 L582.5 317.3 L585.5 317.2 L588.6 317.0 L591.6 316.8 L594.7 316.6 L597.7 316.5 L600.8 316.3 L603.8 316.1" fill="none" stroke="#476aeb" stroke-width="1.4" stroke-linejoin="round"/>
<text class="dv" x="489.4" y="374.55" font-size="5.4" fill="#4d4d4d" text-anchor="end">4</text>
<text class="dv" x="489.4" y="360.05" font-size="5.4" fill="#4d4d4d" text-anchor="end">6</text>
<text class="dv" x="489.4" y="345.55" font-size="5.4" fill="#4d4d4d" text-anchor="end">8</text>
<text class="dv" x="489.4" y="331.05" font-size="5.4" fill="#4d4d4d" text-anchor="end">10</text>
<text class="dv" x="489.4" y="316.55" font-size="5.4" fill="#4d4d4d" text-anchor="end">12</text>
<text class="dv" x="497.3" y="385.1" font-size="5.4" fill="#4d4d4d" text-anchor="middle">0</text>
<text class="dv" x="527.73" y="385.1" font-size="5.4" fill="#4d4d4d" text-anchor="middle">10</text>
<text class="dv" x="558.16" y="385.1" font-size="5.4" fill="#4d4d4d" text-anchor="middle">20</text>
<text class="dv" x="588.59" y="385.1" font-size="5.4" fill="#4d4d4d" text-anchor="middle">30</text>
<text class="dv" x="551" y="393" font-size="6.45" fill="#222" text-anchor="middle">PASI</text>
<text class="dv" x="478.7" y="340.3" font-size="6.45" fill="#222" text-anchor="middle" transform="rotate(-90 478.7 340.3)">GJB2 log2(expr)</text>
<rect x="26.3" y="420.7" width="118.1" height="9.2" fill="#b525f8"/>
<rect x="26.3" y="430.7" width="118.1" height="9.4" fill="#80fefe"/>
<rect x="145" y="440.7" width="9.6" height="77.4" fill="#1500ff"/>
<text class="dv" x="85.35" y="427.2" font-size="5.2" fill="#fff" text-anchor="middle">Lesional</text>
<text class="dv" x="85.35" y="437.3" font-size="5.2" fill="#222" text-anchor="middle">Both drugs</text>
<text class="dv" x="151.6" y="479.4" font-size="5.2" fill="#fff" text-anchor="middle" transform="rotate(-90 151.6 479.4)">blue</text>
<path d="M26.3 512H144.4M26.3 496H144.4M26.3 480H144.4M26.3 464H144.4M26.3 448H144.4M46.4 440.7V518.1M76.8 440.7V518.1M107.2 440.7V518.1M137.6 440.7V518.1" stroke="#f2f2f2" stroke-width="0.35" fill="none"/>
<path d="M26.3 504H144.4M26.3 488H144.4M26.3 472H144.4M26.3 456H144.4M31.2 440.7V518.1M61.6 440.7V518.1M92 440.7V518.1M122.4 440.7V518.1" stroke="#e8e8e8" stroke-width="0.55" fill="none"/>
<path d="M83.5 475.0h0M75.8 489.4h0M102.4 475.3h0M84.8 480.6h0M125.0 474.9h0M60.8 496.8h0M81.7 488.5h0M91.5 490.5h0M71.5 485.7h0M50.5 480.1h0M85.4 485.4h0M78.1 482.7h0M89.6 480.8h0M49.5 475.8h0M113.1 486.5h0M52.0 481.9h0M62.2 490.5h0M86.2 499.9h0M52.3 475.4h0M57.0 475.5h0M116.3 484.8h0M60.9 479.3h0M92.4 478.8h0M65.9 490.3h0M115.0 503.9h0M60.3 486.8h0M79.8 488.4h0M134.2 490.4h0M82.3 496.2h0M51.4 493.5h0M82.0 479.7h0M63.5 500.7h0M56.4 492.1h0M60.5 486.5h0M79.0 502.3h0M136.2 485.5h0M53.1 487.1h0M50.8 481.7h0M56.5 466.3h0M66.5 496.1h0M82.2 477.1h0M65.7 479.6h0M64.4 491.2h0M70.1 477.8h0M55.6 477.8h0M87.2 484.1h0M133.0 485.9h0M72.6 473.8h0M73.8 504.1h0M65.6 470.8h0M53.9 478.8h0M72.6 485.5h0M52.3 485.8h0M66.8 485.3h0M95.9 486.0h0M59.2 472.4h0M95.1 488.6h0M77.3 499.5h0M47.1 485.5h0M94.8 478.7h0M83.1 487.0h0M56.5 480.9h0M63.9 464.4h0M53.8 481.0h0M95.6 492.2h0M110.2 492.1h0M60.4 488.2h0M90.1 486.4h0M137.3 475.9h0M101.5 485.1h0M76.3 490.3h0M51.2 486.8h0" stroke="#3d7ebf" stroke-width="2.6" stroke-linecap="round" fill="none"/><path d="M71.1 484.5l1.45 2.4h-2.9zM62.8 491.0l1.45 2.4h-2.9zM55.3 490.8l1.45 2.4h-2.9zM65.9 483.6l1.45 2.4h-2.9zM61.0 480.2l1.45 2.4h-2.9zM77.6 485.1l1.45 2.4h-2.9zM67.8 486.6l1.45 2.4h-2.9zM81.7 478.7l1.45 2.4h-2.9zM58.1 493.8l1.45 2.4h-2.9zM58.4 482.4l1.45 2.4h-2.9zM56.6 473.3l1.45 2.4h-2.9zM77.8 488.1l1.45 2.4h-2.9zM76.7 485.1l1.45 2.4h-2.9zM84.7 490.8l1.45 2.4h-2.9zM60.5 486.3l1.45 2.4h-2.9zM55.8 495.5l1.45 2.4h-2.9zM58.5 488.7l1.45 2.4h-2.9zM65.8 485.1l1.45 2.4h-2.9zM116.7 499.6l1.45 2.4h-2.9zM72.6 472.7l1.45 2.4h-2.9zM63.6 489.9l1.45 2.4h-2.9zM64.5 492.1l1.45 2.4h-2.9zM73.2 480.1l1.45 2.4h-2.9zM99.5 492.9l1.45 2.4h-2.9zM82.1 484.0l1.45 2.4h-2.9zM57.5 473.4l1.45 2.4h-2.9zM80.0 481.4l1.45 2.4h-2.9zM63.9 477.9l1.45 2.4h-2.9zM84.2 496.0l1.45 2.4h-2.9zM94.6 475.3l1.45 2.4h-2.9zM71.5 491.4l1.45 2.4h-2.9zM72.5 476.7l1.45 2.4h-2.9zM89.3 485.7l1.45 2.4h-2.9zM87.8 489.6l1.45 2.4h-2.9zM47.1 495.1l1.45 2.4h-2.9zM58.2 478.5l1.45 2.4h-2.9zM105.4 488.5l1.45 2.4h-2.9zM66.9 470.0l1.45 2.4h-2.9zM99.5 476.8l1.45 2.4h-2.9zM75.6 494.0l1.45 2.4h-2.9zM81.6 480.2l1.45 2.4h-2.9zM56.1 477.9l1.45 2.4h-2.9zM90.5 494.1l1.45 2.4h-2.9zM103.7 484.3l1.45 2.4h-2.9zM83.2 464.0l1.45 2.4h-2.9zM82.0 480.8l1.45 2.4h-2.9zM71.4 489.9l1.45 2.4h-2.9zM126.0 473.8l1.45 2.4h-2.9zM92.2 481.1l1.45 2.4h-2.9zM66.1 482.5l1.45 2.4h-2.9z" fill="#3d7ebf"/><path d="M81.5 470.7h0M64.1 482.7h0M83.1 478.1h0M70.9 497.8h0M49.9 491.7h0M71.0 482.4h0M94.4 483.7h0M63.2 497.0h0M53.3 478.3h0M60.2 485.1h0M100.9 491.8h0M59.6 476.9h0M53.6 490.8h0M84.5 492.9h0M61.6 486.6h0M51.2 478.6h0M63.0 479.5h0M81.8 485.9h0M64.4 482.8h0M64.0 495.4h0M88.6 486.2h0M62.4 487.5h0M62.1 488.8h0M54.6 484.6h0M56.1 489.0h0M76.7 488.9h0M48.4 484.2h0M99.2 478.4h0M65.4 496.7h0M57.1 482.6h0M60.7 502.9h0M64.1 480.8h0M60.7 480.3h0M67.2 493.8h0M62.6 482.5h0M70.0 480.7h0M92.4 490.8h0M75.3 489.6h0M109.1 483.3h0M95.7 499.3h0M58.9 494.5h0M63.1 479.4h0M73.4 481.8h0M73.2 494.0h0M73.4 491.4h0M52.5 489.4h0M63.5 486.6h0M53.3 479.8h0M59.5 477.6h0M63.7 488.0h0M73.8 485.8h0M96.9 490.0h0M71.3 476.5h0M90.2 493.8h0M51.5 491.6h0M52.4 474.2h0M95.1 491.3h0M71.5 486.7h0M64.9 494.1h0M74.9 500.0h0M63.4 471.5h0" stroke="#4bab3d" stroke-width="2.6" stroke-linecap="round" fill="none"/><path d="M58.4 474.2l1.45 2.4h-2.9zM87.1 482.3l1.45 2.4h-2.9zM76.3 483.2l1.45 2.4h-2.9zM84.7 481.2l1.45 2.4h-2.9zM63.6 479.7l1.45 2.4h-2.9zM71.9 490.7l1.45 2.4h-2.9zM54.0 493.6l1.45 2.4h-2.9zM69.1 476.4l1.45 2.4h-2.9zM98.0 482.8l1.45 2.4h-2.9zM65.6 486.5l1.45 2.4h-2.9zM56.7 484.4l1.45 2.4h-2.9zM58.2 480.6l1.45 2.4h-2.9zM121.8 472.2l1.45 2.4h-2.9zM56.1 480.4l1.45 2.4h-2.9zM78.6 487.2l1.45 2.4h-2.9zM68.3 483.5l1.45 2.4h-2.9zM65.0 484.8l1.45 2.4h-2.9zM81.9 470.1l1.45 2.4h-2.9zM80.7 481.7l1.45 2.4h-2.9zM86.3 495.9l1.45 2.4h-2.9zM73.5 492.4l1.45 2.4h-2.9zM104.5 472.7l1.45 2.4h-2.9zM65.9 483.5l1.45 2.4h-2.9zM62.4 484.2l1.45 2.4h-2.9zM88.8 488.4l1.45 2.4h-2.9zM65.2 484.8l1.45 2.4h-2.9zM67.0 474.0l1.45 2.4h-2.9zM91.6 486.0l1.45 2.4h-2.9zM57.3 476.2l1.45 2.4h-2.9zM76.6 486.8l1.45 2.4h-2.9zM63.3 477.3l1.45 2.4h-2.9zM104.3 493.2l1.45 2.4h-2.9zM72.3 491.0l1.45 2.4h-2.9zM71.8 481.7l1.45 2.4h-2.9zM71.3 483.9l1.45 2.4h-2.9zM51.2 482.3l1.45 2.4h-2.9zM59.9 493.2l1.45 2.4h-2.9zM82.3 490.1l1.45 2.4h-2.9zM70.3 489.7l1.45 2.4h-2.9zM50.7 478.7l1.45 2.4h-2.9zM52.7 483.3l1.45 2.4h-2.9zM82.7 500.6l1.45 2.4h-2.9zM47.3 464.2l1.45 2.4h-2.9zM74.0 485.0l1.45 2.4h-2.9zM69.5 499.7l1.45 2.4h-2.9zM67.1 477.7l1.45 2.4h-2.9zM75.2 489.3l1.45 2.4h-2.9zM53.3 475.0l1.45 2.4h-2.9zM49.7 474.0l1.45 2.4h-2.9zM66.1 489.5l1.45 2.4h-2.9zM50.1 476.7l1.45 2.4h-2.9zM127.6 484.5l1.45 2.4h-2.9zM85.3 502.0l1.45 2.4h-2.9zM72.1 479.4l1.45 2.4h-2.9zM64.6 474.6l1.45 2.4h-2.9zM70.3 472.1l1.45 2.4h-2.9zM49.6 461.3l1.45 2.4h-2.9zM112.3 486.2l1.45 2.4h-2.9zM64.5 468.4l1.45 2.4h-2.9zM82.5 479.9l1.45 2.4h-2.9zM60.0 489.3l1.45 2.4h-2.9z" fill="#4bab3d"/><path d="M40.3 466.3h0M36.9 453.1h0M75.0 493.0h0M35.1 456.1h0M37.5 460.5h0M34.9 469.4h0M37.4 467.6h0M31.4 463.2h0M36.9 460.5h0M42.1 462.7h0M39.2 453.7h0M34.0 469.0h0M35.3 469.3h0M31.5 448.8h0M80.4 499.8h0M48.0 464.7h0M38.9 470.9h0M32.9 455.6h0M36.2 460.1h0M32.1 472.6h0M72.1 485.9h0M39.5 461.1h0M31.9 453.3h0M35.1 455.8h0M35.3 448.4h0M31.4 453.9h0M34.6 453.9h0M78.4 497.9h0M32.5 459.3h0M39.0 463.1h0M73.5 477.5h0M37.0 469.6h0M34.1 470.0h0M50.0 467.9h0M48.3 473.1h0M38.2 455.3h0M40.8 466.7h0M41.8 472.6h0M33.9 452.7h0M37.9 469.1h0M50.7 472.6h0M33.1 455.7h0M31.3 452.1h0M53.7 478.7h0M42.7 478.3h0M31.5 459.7h0M87.3 471.8h0M40.4 473.7h0M32.9 458.0h0M44.1 477.5h0M43.3 461.4h0M51.0 480.8h0M31.4 464.2h0M47.4 479.6h0M31.4 466.3h0M60.8 493.1h0M54.1 487.0h0M49.9 488.3h0M36.0 457.8h0M36.1 473.1h0M31.9 457.1h0M31.6 451.3h0M32.1 461.3h0M37.2 468.1h0M41.0 461.8h0M33.0 450.0h0M53.4 479.5h0" stroke="#f2832d" stroke-width="2.6" stroke-linecap="round" fill="none"/><path d="M34.7 447.7l1.45 2.4h-2.9zM34.5 459.1l1.45 2.4h-2.9zM54.8 477.0l1.45 2.4h-2.9zM46.8 480.8l1.45 2.4h-2.9zM35.2 462.5l1.45 2.4h-2.9zM90.8 480.0l1.45 2.4h-2.9zM34.3 455.7l1.45 2.4h-2.9zM45.8 471.1l1.45 2.4h-2.9zM33.6 460.1l1.45 2.4h-2.9zM46.2 465.8l1.45 2.4h-2.9zM90.4 498.0l1.45 2.4h-2.9zM31.5 461.1l1.45 2.4h-2.9zM47.6 466.0l1.45 2.4h-2.9zM35.6 450.9l1.45 2.4h-2.9zM46.9 472.5l1.45 2.4h-2.9zM38.4 469.8l1.45 2.4h-2.9zM46.0 460.0l1.45 2.4h-2.9zM38.2 456.1l1.45 2.4h-2.9zM47.6 478.6l1.45 2.4h-2.9zM33.3 452.5l1.45 2.4h-2.9zM38.3 458.8l1.45 2.4h-2.9zM38.5 458.4l1.45 2.4h-2.9zM49.5 478.9l1.45 2.4h-2.9zM32.0 455.8l1.45 2.4h-2.9zM32.6 451.0l1.45 2.4h-2.9zM38.8 467.0l1.45 2.4h-2.9zM32.8 457.0l1.45 2.4h-2.9zM39.2 465.0l1.45 2.4h-2.9zM46.2 468.8l1.45 2.4h-2.9zM31.7 462.4l1.45 2.4h-2.9zM35.5 450.0l1.45 2.4h-2.9zM31.5 465.6l1.45 2.4h-2.9zM32.8 447.1l1.45 2.4h-2.9zM50.5 479.1l1.45 2.4h-2.9zM38.7 452.8l1.45 2.4h-2.9zM33.1 447.7l1.45 2.4h-2.9zM38.2 459.0l1.45 2.4h-2.9zM43.7 479.4l1.45 2.4h-2.9zM33.2 466.3l1.45 2.4h-2.9zM40.6 466.2l1.45 2.4h-2.9zM39.4 457.0l1.45 2.4h-2.9zM33.8 459.1l1.45 2.4h-2.9zM37.2 456.7l1.45 2.4h-2.9zM45.8 474.4l1.45 2.4h-2.9zM31.5 468.3l1.45 2.4h-2.9zM31.5 454.4l1.45 2.4h-2.9zM36.3 476.7l1.45 2.4h-2.9zM69.4 492.4l1.45 2.4h-2.9zM34.4 456.4l1.45 2.4h-2.9zM34.0 447.7l1.45 2.4h-2.9zM39.0 450.3l1.45 2.4h-2.9z" fill="#f2832d"/>
<path d="M31.2 455.0 L34.2 458.6 L37.3 462.2 L40.3 465.7 L43.4 469.1 L46.4 472.3 L49.4 475.3 L52.5 477.9 L55.5 480.1 L58.6 481.7 L61.6 483.0 L64.6 483.9 L67.7 484.5 L70.7 484.9 L73.8 485.1 L76.8 485.3 L79.8 485.5 L82.9 485.6 L85.9 485.8 L89.0 485.9 L92.0 486.0 L95.0 486.1 L98.1 486.1 L101.1 486.2 L104.2 486.2 L107.2 486.1 L110.2 486.1 L113.3 486.0 L116.3 486.0 L119.4 485.9 L122.4 485.8 L125.4 485.6 L128.5 485.5 L131.5 485.3 L134.6 485.2 L137.6 485.0 L137.6 494.7 L134.6 494.2 L131.5 493.7 L128.5 493.3 L125.4 492.9 L122.4 492.4 L119.4 492.0 L116.3 491.6 L113.3 491.2 L110.2 490.9 L107.2 490.5 L104.2 490.2 L101.1 489.9 L98.1 489.6 L95.0 489.3 L92.0 489.1 L89.0 488.9 L85.9 488.7 L82.9 488.5 L79.8 488.2 L76.8 488.0 L73.8 487.7 L70.7 487.4 L67.7 486.9 L64.6 486.4 L61.6 485.6 L58.6 484.4 L55.5 482.8 L52.5 480.7 L49.4 478.2 L46.4 475.3 L43.4 472.1 L40.3 468.8 L37.3 465.4 L34.2 461.9 L31.2 458.3 Z" fill="#999" fill-opacity="0.4"/>
<path d="M31.2 456.6 L34.2 460.2 L37.3 463.8 L40.3 467.2 L43.4 470.6 L46.4 473.8 L49.4 476.7 L52.5 479.3 L55.5 481.4 L58.6 483.1 L61.6 484.3 L64.6 485.1 L67.7 485.7 L70.7 486.1 L73.8 486.4 L76.8 486.7 L79.8 486.9 L82.9 487.1 L85.9 487.2 L89.0 487.4 L92.0 487.5 L95.0 487.7 L98.1 487.9 L101.1 488.0 L104.2 488.2 L107.2 488.3 L110.2 488.5 L113.3 488.6 L116.3 488.8 L119.4 488.9 L122.4 489.1 L125.4 489.2 L128.5 489.4 L131.5 489.5 L134.6 489.7 L137.6 489.9" fill="none" stroke="#476aeb" stroke-width="1.4" stroke-linejoin="round"/>
<text class="dv" x="23.7" y="505.95" font-size="5.4" fill="#4d4d4d" text-anchor="end">-2.5</text>
<text class="dv" x="23.7" y="489.95" font-size="5.4" fill="#4d4d4d" text-anchor="end">0.0</text>
<text class="dv" x="23.7" y="473.95" font-size="5.4" fill="#4d4d4d" text-anchor="end">2.5</text>
<text class="dv" x="23.7" y="457.95" font-size="5.4" fill="#4d4d4d" text-anchor="end">5.0</text>
<text class="dv" x="31.2" y="524.9" font-size="5.4" fill="#4d4d4d" text-anchor="middle">0</text>
<text class="dv" x="61.6" y="524.9" font-size="5.4" fill="#4d4d4d" text-anchor="middle">10</text>
<text class="dv" x="92" y="524.9" font-size="5.4" fill="#4d4d4d" text-anchor="middle">20</text>
<text class="dv" x="122.4" y="524.9" font-size="5.4" fill="#4d4d4d" text-anchor="middle">30</text>
<text class="dv" x="84.8" y="532.3" font-size="6.45" fill="#222" text-anchor="middle">PASI</text>
<text class="dv" x="8.8" y="479.4" font-size="6.45" fill="#222" text-anchor="middle" transform="rotate(-90 8.8 479.4)">BTC log2(expr)</text>
<rect x="174.9" y="420.8" width="120.9" height="9.5" fill="#b525f8"/>
<rect x="174.9" y="430.8" width="120.9" height="9.7" fill="#80fefe"/>
<rect x="296.4" y="441" width="10.2" height="75.1" fill="#1500ff"/>
<text class="dv" x="235.35" y="427.45" font-size="5.2" fill="#fff" text-anchor="middle">Lesional</text>
<text class="dv" x="235.35" y="437.55" font-size="5.2" fill="#222" text-anchor="middle">Both drugs</text>
<text class="dv" x="303.3" y="478.55" font-size="5.2" fill="#fff" text-anchor="middle" transform="rotate(-90 303.3 478.55)">blue</text>
<path d="M174.9 510.98H295.8M174.9 490.02H295.8M174.9 469.08H295.8M174.9 448.12H295.8M195.62 441V516.1M226.88 441V516.1M258.12 441V516.1M289.38 441V516.1" stroke="#f2f2f2" stroke-width="0.35" fill="none"/>
<path d="M174.9 500.5H295.8M174.9 479.55H295.8M174.9 458.6H295.8M180 441V516.1M211.25 441V516.1M242.5 441V516.1M273.75 441V516.1" stroke="#e8e8e8" stroke-width="0.55" fill="none"/>
<path d="M233.8 490.6h0M225.8 487.5h0M253.2 485.0h0M235.1 488.1h0M276.4 469.2h0M210.4 478.8h0M231.9 484.5h0M242.0 471.7h0M221.5 482.9h0M199.9 484.3h0M235.7 498.5h0M228.2 505.1h0M240.0 488.5h0M198.8 463.5h0M264.2 496.1h0M201.4 467.5h0M211.9 494.5h0M236.5 489.1h0M201.7 476.6h0M206.5 474.5h0M267.5 480.6h0M210.5 490.4h0M243.0 487.3h0M215.6 470.2h0M266.1 489.5h0M209.9 474.3h0M230.0 482.1h0M285.9 492.9h0M232.5 501.9h0M200.8 470.5h0M232.2 473.4h0M213.2 472.4h0M205.9 481.8h0M210.1 479.0h0M229.1 486.1h0M287.9 494.2h0M202.5 480.5h0M200.2 464.0h0M206.0 469.0h0M216.3 486.2h0M232.4 488.1h0M215.5 481.6h0M214.1 469.9h0M219.9 480.7h0M205.0 472.6h0M237.5 492.1h0M284.6 486.6h0M222.6 473.9h0M223.8 489.3h0M215.4 465.2h0M203.4 474.4h0M222.6 491.0h0M201.7 474.3h0M216.6 494.3h0M246.6 480.6h0M208.8 471.0h0M245.7 484.4h0M227.4 480.5h0M196.3 488.6h0M245.4 489.9h0M233.3 492.2h0M206.0 482.6h0M213.6 476.5h0M203.2 480.1h0M246.2 485.7h0M261.2 478.8h0M210.0 488.8h0M240.5 489.2h0M289.1 483.7h0M252.2 482.7h0M226.4 469.7h0M200.6 488.1h0" stroke="#3d7ebf" stroke-width="2.6" stroke-linecap="round" fill="none"/><path d="M221.0 485.0l1.45 2.4h-2.9zM212.5 505.0l1.45 2.4h-2.9zM204.7 491.8l1.45 2.4h-2.9zM215.6 496.5l1.45 2.4h-2.9zM210.6 475.9l1.45 2.4h-2.9zM227.7 476.8l1.45 2.4h-2.9zM217.6 486.2l1.45 2.4h-2.9zM231.9 487.9l1.45 2.4h-2.9zM207.6 488.3l1.45 2.4h-2.9zM207.9 481.4l1.45 2.4h-2.9zM206.1 480.7l1.45 2.4h-2.9zM227.9 489.3l1.45 2.4h-2.9zM226.8 492.1l1.45 2.4h-2.9zM235.0 481.0l1.45 2.4h-2.9zM210.1 474.4l1.45 2.4h-2.9zM205.3 471.7l1.45 2.4h-2.9zM208.1 481.8l1.45 2.4h-2.9zM215.6 470.2l1.45 2.4h-2.9zM267.9 488.8l1.45 2.4h-2.9zM222.6 493.0l1.45 2.4h-2.9zM213.4 471.0l1.45 2.4h-2.9zM214.2 487.3l1.45 2.4h-2.9zM223.1 473.3l1.45 2.4h-2.9zM250.2 478.2l1.45 2.4h-2.9zM232.3 497.4l1.45 2.4h-2.9zM207.0 477.2l1.45 2.4h-2.9zM230.2 478.2l1.45 2.4h-2.9zM213.6 465.2l1.45 2.4h-2.9zM234.5 477.4l1.45 2.4h-2.9zM245.2 498.8l1.45 2.4h-2.9zM221.4 491.7l1.45 2.4h-2.9zM222.5 485.1l1.45 2.4h-2.9zM239.8 483.8l1.45 2.4h-2.9zM238.1 480.5l1.45 2.4h-2.9zM196.4 489.3l1.45 2.4h-2.9zM207.7 479.6l1.45 2.4h-2.9zM256.3 485.2l1.45 2.4h-2.9zM216.7 481.2l1.45 2.4h-2.9zM250.2 476.0l1.45 2.4h-2.9zM225.7 491.7l1.45 2.4h-2.9zM231.8 480.3l1.45 2.4h-2.9zM205.6 478.5l1.45 2.4h-2.9zM241.0 507.1l1.45 2.4h-2.9zM254.5 490.9l1.45 2.4h-2.9zM233.4 479.3l1.45 2.4h-2.9zM232.2 485.8l1.45 2.4h-2.9zM221.4 488.0l1.45 2.4h-2.9zM277.4 475.1l1.45 2.4h-2.9zM242.7 479.9l1.45 2.4h-2.9zM215.9 484.3l1.45 2.4h-2.9z" fill="#3d7ebf"/><path d="M231.7 478.9h0M213.8 483.1h0M233.4 474.9h0M220.9 509.3h0M199.2 472.9h0M221.0 471.5h0M245.0 481.7h0M212.9 497.6h0M202.7 476.7h0M209.8 478.0h0M251.7 496.3h0M209.2 481.3h0M203.0 498.4h0M234.8 480.5h0M211.2 489.7h0M200.5 493.7h0M212.7 484.1h0M232.0 469.0h0M214.2 490.5h0M213.8 508.1h0M239.0 498.8h0M212.0 490.1h0M211.8 491.0h0M204.1 489.8h0M205.6 487.7h0M226.7 495.8h0M197.7 484.5h0M249.9 484.7h0M215.2 507.5h0M206.6 495.4h0M210.3 497.5h0M213.8 495.1h0M210.3 509.3h0M217.1 504.4h0M212.3 486.5h0M219.9 490.1h0M242.9 486.5h0M225.4 483.0h0M260.1 479.8h0M246.3 492.0h0M208.5 490.2h0M212.8 498.2h0M223.4 479.6h0M223.2 502.8h0M223.4 493.2h0M201.9 490.3h0M213.2 481.2h0M202.7 489.1h0M209.1 473.3h0M213.4 489.2h0M223.8 501.7h0M247.5 479.9h0M221.2 496.2h0M240.7 490.8h0M200.9 493.5h0M201.8 478.0h0M245.6 499.0h0M221.4 484.2h0M214.6 486.8h0M224.9 487.9h0M213.1 469.6h0" stroke="#4bab3d" stroke-width="2.6" stroke-linecap="round" fill="none"/><path d="M207.9 478.7l1.45 2.4h-2.9zM237.5 493.5l1.45 2.4h-2.9zM226.4 492.8l1.45 2.4h-2.9zM235.0 478.6l1.45 2.4h-2.9zM213.3 500.9l1.45 2.4h-2.9zM221.9 486.1l1.45 2.4h-2.9zM203.5 487.4l1.45 2.4h-2.9zM218.9 482.0l1.45 2.4h-2.9zM248.7 497.0l1.45 2.4h-2.9zM215.4 492.4l1.45 2.4h-2.9zM206.2 486.5l1.45 2.4h-2.9zM207.7 470.7l1.45 2.4h-2.9zM273.1 485.4l1.45 2.4h-2.9zM205.6 483.7l1.45 2.4h-2.9zM228.8 487.0l1.45 2.4h-2.9zM218.2 487.6l1.45 2.4h-2.9zM214.7 482.4l1.45 2.4h-2.9zM232.1 486.2l1.45 2.4h-2.9zM230.9 484.9l1.45 2.4h-2.9zM236.7 486.3l1.45 2.4h-2.9zM223.4 475.5l1.45 2.4h-2.9zM255.4 483.0l1.45 2.4h-2.9zM215.6 478.6l1.45 2.4h-2.9zM212.1 469.4l1.45 2.4h-2.9zM239.3 481.9l1.45 2.4h-2.9zM214.9 492.2l1.45 2.4h-2.9zM216.8 499.7l1.45 2.4h-2.9zM242.1 505.2l1.45 2.4h-2.9zM206.8 488.1l1.45 2.4h-2.9zM226.7 496.2l1.45 2.4h-2.9zM213.0 472.5l1.45 2.4h-2.9zM255.1 497.6l1.45 2.4h-2.9zM222.2 495.4l1.45 2.4h-2.9zM221.7 474.7l1.45 2.4h-2.9zM221.2 488.1l1.45 2.4h-2.9zM200.5 481.0l1.45 2.4h-2.9zM209.5 490.9l1.45 2.4h-2.9zM232.6 492.2l1.45 2.4h-2.9zM220.2 500.3l1.45 2.4h-2.9zM200.0 459.7l1.45 2.4h-2.9zM202.1 463.4l1.45 2.4h-2.9zM233.0 484.3l1.45 2.4h-2.9zM196.6 472.3l1.45 2.4h-2.9zM224.0 483.5l1.45 2.4h-2.9zM219.3 492.4l1.45 2.4h-2.9zM216.9 472.3l1.45 2.4h-2.9zM225.3 492.1l1.45 2.4h-2.9zM202.8 466.2l1.45 2.4h-2.9zM199.0 480.4l1.45 2.4h-2.9zM215.9 501.7l1.45 2.4h-2.9zM199.4 488.2l1.45 2.4h-2.9zM279.1 477.8l1.45 2.4h-2.9zM235.6 485.6l1.45 2.4h-2.9zM222.0 475.4l1.45 2.4h-2.9zM214.3 490.6l1.45 2.4h-2.9zM220.2 478.9l1.45 2.4h-2.9zM198.9 477.1l1.45 2.4h-2.9zM263.4 485.0l1.45 2.4h-2.9zM214.2 486.1l1.45 2.4h-2.9zM232.8 492.4l1.45 2.4h-2.9zM209.6 479.9l1.45 2.4h-2.9z" fill="#4bab3d"/><path d="M189.4 464.4h0M185.9 457.1h0M225.0 482.0h0M184.0 461.3h0M186.5 458.2h0M183.8 463.9h0M186.3 460.4h0M180.2 454.9h0M185.9 466.9h0M191.2 458.1h0M188.2 454.1h0M182.9 455.6h0M184.2 470.6h0M180.3 459.1h0M230.5 494.7h0M197.3 475.7h0M187.9 472.1h0M181.7 448.9h0M185.2 460.2h0M180.9 450.9h0M222.0 466.8h0M188.5 476.9h0M180.8 454.8h0M184.0 465.5h0M184.2 446.4h0M180.2 448.7h0M183.5 453.8h0M228.5 509.8h0M181.3 455.6h0M188.0 462.6h0M223.4 479.6h0M186.0 470.7h0M183.0 453.0h0M199.3 468.7h0M197.6 457.7h0M187.2 480.9h0M189.9 469.9h0M190.9 462.6h0M182.8 452.5h0M186.9 459.2h0M200.0 466.0h0M182.0 456.2h0M180.1 461.5h0M203.2 483.3h0M191.8 469.5h0M180.3 463.0h0M237.7 472.1h0M189.4 453.3h0M181.8 457.5h0M193.3 465.6h0M192.4 462.0h0M200.4 465.7h0M180.3 467.9h0M196.6 467.9h0M180.2 450.5h0M210.4 486.9h0M203.5 486.6h0M199.2 487.0h0M184.9 466.5h0M185.0 459.7h0M180.7 460.2h0M180.5 451.1h0M180.9 458.1h0M186.2 464.5h0M190.1 470.8h0M181.8 456.9h0M202.8 490.5h0" stroke="#f2832d" stroke-width="2.6" stroke-linecap="round" fill="none"/><path d="M183.6 448.3l1.45 2.4h-2.9zM183.4 452.5l1.45 2.4h-2.9zM204.3 464.0l1.45 2.4h-2.9zM196.0 469.4l1.45 2.4h-2.9zM184.1 457.6l1.45 2.4h-2.9zM241.3 488.4l1.45 2.4h-2.9zM183.2 460.6l1.45 2.4h-2.9zM195.0 465.4l1.45 2.4h-2.9zM182.5 454.7l1.45 2.4h-2.9zM195.4 479.5l1.45 2.4h-2.9zM240.9 486.0l1.45 2.4h-2.9zM180.3 451.5l1.45 2.4h-2.9zM196.9 456.9l1.45 2.4h-2.9zM184.6 445.1l1.45 2.4h-2.9zM196.2 474.9l1.45 2.4h-2.9zM187.4 464.0l1.45 2.4h-2.9zM195.2 462.9l1.45 2.4h-2.9zM187.2 461.9l1.45 2.4h-2.9zM196.9 468.2l1.45 2.4h-2.9zM182.2 448.0l1.45 2.4h-2.9zM187.3 456.4l1.45 2.4h-2.9zM187.5 459.4l1.45 2.4h-2.9zM198.9 486.0l1.45 2.4h-2.9zM180.8 457.2l1.45 2.4h-2.9zM181.4 455.6l1.45 2.4h-2.9zM187.9 463.3l1.45 2.4h-2.9zM181.6 448.8l1.45 2.4h-2.9zM188.2 455.3l1.45 2.4h-2.9zM195.5 451.0l1.45 2.4h-2.9zM180.5 459.7l1.45 2.4h-2.9zM184.4 456.3l1.45 2.4h-2.9zM180.3 454.5l1.45 2.4h-2.9zM181.7 448.0l1.45 2.4h-2.9zM199.9 484.8l1.45 2.4h-2.9zM187.7 455.2l1.45 2.4h-2.9zM182.0 458.4l1.45 2.4h-2.9zM187.2 458.5l1.45 2.4h-2.9zM192.8 473.5l1.45 2.4h-2.9zM182.0 451.8l1.45 2.4h-2.9zM189.6 460.4l1.45 2.4h-2.9zM188.4 466.2l1.45 2.4h-2.9zM182.6 453.2l1.45 2.4h-2.9zM186.2 456.2l1.45 2.4h-2.9zM195.0 454.9l1.45 2.4h-2.9zM180.3 460.0l1.45 2.4h-2.9zM180.3 462.9l1.45 2.4h-2.9zM185.2 458.9l1.45 2.4h-2.9zM219.2 490.8l1.45 2.4h-2.9zM183.3 451.7l1.45 2.4h-2.9zM182.9 455.5l1.45 2.4h-2.9zM188.1 456.7l1.45 2.4h-2.9z" fill="#f2832d"/>
<path d="M180.0 454.5 L183.1 457.7 L186.2 460.9 L189.4 464.1 L192.5 467.1 L195.6 470.1 L198.8 473.0 L201.9 475.6 L205.0 477.9 L208.1 479.8 L211.2 481.4 L214.4 482.7 L217.5 483.7 L220.6 484.3 L223.8 484.8 L226.9 485.2 L230.0 485.5 L233.1 485.8 L236.2 486.0 L239.4 486.3 L242.5 486.5 L245.6 486.6 L248.8 486.8 L251.9 486.9 L255.0 486.9 L258.1 486.9 L261.2 487.0 L264.4 486.9 L267.5 486.9 L270.6 486.9 L273.8 486.8 L276.9 486.7 L280.0 486.6 L283.1 486.5 L286.2 486.4 L289.4 486.2 L289.4 498.0 L286.2 497.4 L283.1 496.7 L280.0 496.1 L276.9 495.5 L273.8 494.9 L270.6 494.4 L267.5 493.8 L264.4 493.3 L261.2 492.8 L258.1 492.3 L255.0 491.8 L251.9 491.3 L248.8 490.9 L245.6 490.5 L242.5 490.2 L239.4 489.9 L236.2 489.5 L233.1 489.2 L230.0 488.8 L226.9 488.4 L223.8 487.9 L220.6 487.4 L217.5 486.6 L214.4 485.8 L211.2 484.6 L208.1 483.1 L205.0 481.2 L201.9 479.0 L198.8 476.5 L195.6 473.7 L192.5 470.8 L189.4 467.9 L186.2 464.8 L183.1 461.7 L180.0 458.5 Z" fill="#999" fill-opacity="0.4"/>
<path d="M180.0 456.5 L183.1 459.7 L186.2 462.8 L189.4 466.0 L192.5 469.0 L195.6 471.9 L198.8 474.7 L201.9 477.3 L205.0 479.5 L208.1 481.5 L211.2 483.0 L214.4 484.2 L217.5 485.1 L220.6 485.8 L223.8 486.4 L226.9 486.8 L230.0 487.2 L233.1 487.5 L236.2 487.8 L239.4 488.1 L242.5 488.3 L245.6 488.6 L248.8 488.8 L251.9 489.1 L255.0 489.4 L258.1 489.6 L261.2 489.9 L264.4 490.1 L267.5 490.4 L270.6 490.6 L273.8 490.9 L276.9 491.1 L280.0 491.4 L283.1 491.6 L286.2 491.9 L289.4 492.1" fill="none" stroke="#476aeb" stroke-width="1.4" stroke-linejoin="round"/>
<text class="dv" x="172.3" y="502.45" font-size="5.4" fill="#4d4d4d" text-anchor="end">4</text>
<text class="dv" x="172.3" y="481.5" font-size="5.4" fill="#4d4d4d" text-anchor="end">5</text>
<text class="dv" x="172.3" y="460.55" font-size="5.4" fill="#4d4d4d" text-anchor="end">6</text>
<text class="dv" x="180" y="523.3" font-size="5.4" fill="#4d4d4d" text-anchor="middle">0</text>
<text class="dv" x="211.25" y="523.3" font-size="5.4" fill="#4d4d4d" text-anchor="middle">10</text>
<text class="dv" x="242.5" y="523.3" font-size="5.4" fill="#4d4d4d" text-anchor="middle">20</text>
<text class="dv" x="273.75" y="523.3" font-size="5.4" fill="#4d4d4d" text-anchor="middle">30</text>
<text class="dv" x="235" y="530.8" font-size="6.45" fill="#222" text-anchor="middle">PASI</text>
<text class="dv" x="165.6" y="478.55" font-size="6.45" fill="#222" text-anchor="middle" transform="rotate(-90 165.6 478.55)">THRA log2(expr)</text>
<rect x="331.4" y="421.1" width="120.9" height="9.1" fill="#b525f8"/>
<rect x="331.4" y="431" width="120.9" height="9.5" fill="#80fefe"/>
<rect x="452.9" y="441" width="9.9" height="75.8" fill="#1500ff"/>
<text class="dv" x="391.85" y="427.55" font-size="5.2" fill="#fff" text-anchor="middle">Lesional</text>
<text class="dv" x="391.85" y="437.65" font-size="5.2" fill="#222" text-anchor="middle">Both drugs</text>
<text class="dv" x="459.65" y="478.9" font-size="5.2" fill="#fff" text-anchor="middle" transform="rotate(-90 459.65 478.9)">blue</text>
<path d="M331.4 513.2H452.3M331.4 496H452.3M331.4 478.8H452.3M331.4 461.6H452.3M331.4 444.4H452.3M351.96 441V516.8M383.09 441V516.8M414.22 441V516.8M445.35 441V516.8" stroke="#f2f2f2" stroke-width="0.35" fill="none"/>
<path d="M331.4 504.6H452.3M331.4 487.4H452.3M331.4 470.2H452.3M331.4 453H452.3M336.4 441V516.8M367.53 441V516.8M398.66 441V516.8M429.79 441V516.8" stroke="#e8e8e8" stroke-width="0.55" fill="none"/>
<path d="M390.0 478.7h0M382.0 496.4h0M409.3 487.7h0M391.3 484.2h0M432.5 497.2h0M366.7 478.1h0M388.1 495.7h0M398.1 476.2h0M377.7 490.1h0M356.2 491.4h0M391.9 487.7h0M384.4 508.1h0M396.2 492.0h0M355.1 474.4h0M420.3 490.2h0M357.7 475.2h0M368.1 492.2h0M392.7 499.2h0M358.0 501.1h0M362.8 487.8h0M423.6 479.9h0M366.8 479.4h0M399.1 474.2h0M371.9 478.6h0M422.2 491.1h0M366.2 495.4h0M386.2 479.2h0M441.8 501.8h0M388.7 488.3h0M357.1 500.8h0M388.4 486.4h0M369.4 495.2h0M362.2 494.5h0M366.4 495.5h0M385.3 497.0h0M443.9 491.0h0M358.8 497.7h0M356.5 474.1h0M362.3 479.8h0M372.6 498.4h0M388.6 487.3h0M371.7 478.5h0M370.4 493.4h0M376.2 471.8h0M361.3 480.1h0M393.7 462.8h0M440.6 503.4h0M378.8 494.1h0M380.0 482.5h0M371.6 480.5h0M359.7 488.1h0M378.8 495.8h0M358.0 479.6h0M372.8 504.3h0M402.7 491.8h0M365.1 473.2h0M401.8 484.4h0M383.6 507.7h0M352.7 466.5h0M401.5 499.3h0M389.5 489.9h0M362.3 497.6h0M369.9 481.9h0M359.5 497.5h0M402.4 491.3h0M417.3 501.0h0M366.3 496.2h0M396.7 485.7h0M445.1 493.1h0M408.4 489.1h0M382.6 472.7h0M356.9 483.5h0" stroke="#3d7ebf" stroke-width="2.6" stroke-linecap="round" fill="none"/><path d="M377.3 493.6l1.45 2.4h-2.9zM368.7 499.4l1.45 2.4h-2.9zM361.0 480.9l1.45 2.4h-2.9zM371.9 486.0l1.45 2.4h-2.9zM366.9 477.3l1.45 2.4h-2.9zM383.9 481.7l1.45 2.4h-2.9zM373.9 478.8l1.45 2.4h-2.9zM388.1 496.5l1.45 2.4h-2.9zM363.9 499.0l1.45 2.4h-2.9zM364.2 481.5l1.45 2.4h-2.9zM362.4 480.5l1.45 2.4h-2.9zM384.1 467.6l1.45 2.4h-2.9zM383.0 489.3l1.45 2.4h-2.9zM391.2 498.9l1.45 2.4h-2.9zM366.4 468.9l1.45 2.4h-2.9zM361.6 494.3l1.45 2.4h-2.9zM364.4 484.6l1.45 2.4h-2.9zM371.8 482.4l1.45 2.4h-2.9zM423.9 488.9l1.45 2.4h-2.9zM378.8 490.5l1.45 2.4h-2.9zM369.6 471.4l1.45 2.4h-2.9zM370.5 472.7l1.45 2.4h-2.9zM379.4 483.7l1.45 2.4h-2.9zM406.3 489.0l1.45 2.4h-2.9zM388.5 506.8l1.45 2.4h-2.9zM363.3 474.0l1.45 2.4h-2.9zM386.4 487.1l1.45 2.4h-2.9zM369.9 465.7l1.45 2.4h-2.9zM390.7 484.0l1.45 2.4h-2.9zM401.3 488.9l1.45 2.4h-2.9zM377.6 494.7l1.45 2.4h-2.9zM378.7 484.8l1.45 2.4h-2.9zM395.9 489.2l1.45 2.4h-2.9zM394.3 478.5l1.45 2.4h-2.9zM352.7 487.1l1.45 2.4h-2.9zM364.0 473.5l1.45 2.4h-2.9zM412.4 479.0l1.45 2.4h-2.9zM372.9 483.1l1.45 2.4h-2.9zM406.3 470.0l1.45 2.4h-2.9zM381.9 494.8l1.45 2.4h-2.9zM388.0 479.9l1.45 2.4h-2.9zM361.9 476.2l1.45 2.4h-2.9zM397.2 485.5l1.45 2.4h-2.9zM410.7 493.3l1.45 2.4h-2.9zM389.6 480.8l1.45 2.4h-2.9zM388.4 494.0l1.45 2.4h-2.9zM377.6 487.7l1.45 2.4h-2.9zM433.5 492.5l1.45 2.4h-2.9zM398.8 485.6l1.45 2.4h-2.9zM372.2 499.8l1.45 2.4h-2.9z" fill="#3d7ebf"/><path d="M387.9 493.9h0M370.1 500.1h0M389.6 495.9h0M377.1 503.4h0M355.5 482.7h0M377.2 501.0h0M401.2 494.4h0M369.2 487.1h0M359.0 492.9h0M366.1 495.1h0M407.8 502.8h0M365.5 495.6h0M359.3 498.1h0M391.0 481.1h0M367.5 491.8h0M356.8 487.4h0M369.0 480.8h0M388.2 506.9h0M370.4 496.7h0M370.0 499.8h0M395.2 481.8h0M368.3 483.6h0M368.1 499.4h0M360.4 504.2h0M361.9 492.4h0M383.0 509.2h0M354.0 495.8h0M406.1 479.0h0M371.5 508.8h0M362.9 493.2h0M366.6 485.6h0M370.1 492.6h0M366.6 507.3h0M373.3 497.5h0M368.5 504.6h0M376.1 494.3h0M399.0 486.6h0M381.6 475.8h0M416.2 491.3h0M402.5 474.3h0M364.7 505.7h0M369.1 500.4h0M379.6 480.9h0M379.4 498.9h0M379.6 490.6h0M358.3 498.4h0M369.4 496.4h0M359.0 506.3h0M365.4 490.9h0M369.7 498.3h0M380.0 495.5h0M403.7 499.6h0M377.5 490.4h0M396.8 489.2h0M357.2 482.0h0M358.1 484.9h0M401.8 495.9h0M377.6 495.7h0M370.9 488.5h0M381.1 486.5h0M369.4 483.5h0" stroke="#4bab3d" stroke-width="2.6" stroke-linecap="round" fill="none"/><path d="M364.2 498.2l1.45 2.4h-2.9zM393.7 493.7l1.45 2.4h-2.9zM382.6 485.7l1.45 2.4h-2.9zM391.2 489.9l1.45 2.4h-2.9zM369.5 503.4l1.45 2.4h-2.9zM378.1 498.5l1.45 2.4h-2.9zM359.8 487.6l1.45 2.4h-2.9zM375.2 496.5l1.45 2.4h-2.9zM404.8 489.1l1.45 2.4h-2.9zM371.7 498.4l1.45 2.4h-2.9zM362.5 502.8l1.45 2.4h-2.9zM364.0 481.4l1.45 2.4h-2.9zM429.2 503.4l1.45 2.4h-2.9zM361.9 483.3l1.45 2.4h-2.9zM385.0 495.3l1.45 2.4h-2.9zM374.4 484.8l1.45 2.4h-2.9zM371.0 472.7l1.45 2.4h-2.9zM388.3 491.1l1.45 2.4h-2.9zM387.1 485.0l1.45 2.4h-2.9zM392.9 496.2l1.45 2.4h-2.9zM379.7 482.1l1.45 2.4h-2.9zM411.5 479.6l1.45 2.4h-2.9zM371.9 473.2l1.45 2.4h-2.9zM368.4 492.2l1.45 2.4h-2.9zM395.4 485.0l1.45 2.4h-2.9zM371.2 469.6l1.45 2.4h-2.9zM373.0 505.7l1.45 2.4h-2.9zM398.2 496.7l1.45 2.4h-2.9zM363.1 486.6l1.45 2.4h-2.9zM382.9 490.0l1.45 2.4h-2.9zM369.3 474.1l1.45 2.4h-2.9zM411.2 487.0l1.45 2.4h-2.9zM378.5 505.3l1.45 2.4h-2.9zM378.0 475.5l1.45 2.4h-2.9zM377.4 485.7l1.45 2.4h-2.9zM356.9 490.0l1.45 2.4h-2.9zM365.8 493.6l1.45 2.4h-2.9zM388.8 484.6l1.45 2.4h-2.9zM376.4 490.9l1.45 2.4h-2.9zM356.3 480.3l1.45 2.4h-2.9zM358.4 477.5l1.45 2.4h-2.9zM389.2 500.3l1.45 2.4h-2.9zM352.9 491.6l1.45 2.4h-2.9zM380.2 496.1l1.45 2.4h-2.9zM375.6 498.2l1.45 2.4h-2.9zM373.2 493.4l1.45 2.4h-2.9zM381.5 489.4l1.45 2.4h-2.9zM359.1 491.9l1.45 2.4h-2.9zM355.3 493.9l1.45 2.4h-2.9zM372.2 499.2l1.45 2.4h-2.9zM355.8 486.0l1.45 2.4h-2.9zM435.1 499.6l1.45 2.4h-2.9zM391.8 506.9l1.45 2.4h-2.9zM378.3 494.3l1.45 2.4h-2.9zM370.6 492.4l1.45 2.4h-2.9zM376.4 486.6l1.45 2.4h-2.9zM355.3 481.4l1.45 2.4h-2.9zM419.5 502.2l1.45 2.4h-2.9zM370.5 479.0l1.45 2.4h-2.9zM389.0 490.7l1.45 2.4h-2.9zM365.8 485.2l1.45 2.4h-2.9z" fill="#4bab3d"/><path d="M345.7 460.5h0M342.2 454.1h0M381.2 471.6h0M340.4 456.1h0M342.9 466.0h0M340.2 465.6h0M342.7 467.0h0M336.6 453.1h0M342.2 463.8h0M347.6 465.3h0M344.6 451.4h0M339.3 458.6h0M340.6 466.5h0M336.7 447.5h0M386.7 489.2h0M353.6 468.9h0M344.3 462.0h0M338.1 465.8h0M341.5 448.1h0M337.3 462.3h0M378.2 496.0h0M344.9 466.7h0M337.2 456.2h0M340.4 460.5h0M340.6 461.7h0M336.6 457.0h0M339.9 446.5h0M384.7 494.6h0M337.7 457.0h0M344.4 462.9h0M379.7 498.6h0M342.3 466.4h0M339.4 466.0h0M355.6 485.4h0M353.9 464.7h0M343.5 452.5h0M346.3 478.7h0M347.3 450.5h0M339.2 467.2h0M343.2 476.0h0M356.3 479.5h0M338.4 461.0h0M336.5 463.3h0M359.5 487.6h0M348.1 457.7h0M336.7 464.4h0M393.9 492.0h0M345.8 467.1h0M338.2 460.5h0M349.6 470.9h0M348.8 450.9h0M356.7 497.9h0M336.7 451.9h0M353.0 471.9h0M336.6 453.5h0M366.7 487.6h0M359.8 490.0h0M355.5 491.8h0M341.3 469.2h0M341.4 460.7h0M337.1 451.6h0M336.9 453.0h0M337.3 448.1h0M342.6 467.6h0M346.4 475.6h0M338.2 451.2h0M359.1 473.3h0" stroke="#f2832d" stroke-width="2.6" stroke-linecap="round" fill="none"/><path d="M340.0 451.2l1.45 2.4h-2.9zM339.8 454.1l1.45 2.4h-2.9zM360.6 472.3l1.45 2.4h-2.9zM352.3 484.3l1.45 2.4h-2.9zM340.5 466.2l1.45 2.4h-2.9zM397.5 482.9l1.45 2.4h-2.9zM339.6 461.0l1.45 2.4h-2.9zM351.4 462.2l1.45 2.4h-2.9zM338.9 454.4l1.45 2.4h-2.9zM351.8 474.1l1.45 2.4h-2.9zM397.0 496.7l1.45 2.4h-2.9zM336.7 459.2l1.45 2.4h-2.9zM353.2 478.8l1.45 2.4h-2.9zM340.9 456.6l1.45 2.4h-2.9zM352.5 480.9l1.45 2.4h-2.9zM343.7 474.8l1.45 2.4h-2.9zM351.6 460.8l1.45 2.4h-2.9zM343.6 466.5l1.45 2.4h-2.9zM353.2 479.4l1.45 2.4h-2.9zM338.5 456.8l1.45 2.4h-2.9zM343.6 463.6l1.45 2.4h-2.9zM343.9 478.4l1.45 2.4h-2.9zM355.2 467.8l1.45 2.4h-2.9zM337.2 457.0l1.45 2.4h-2.9zM337.8 445.3l1.45 2.4h-2.9zM344.2 459.1l1.45 2.4h-2.9zM338.0 455.0l1.45 2.4h-2.9zM344.5 459.3l1.45 2.4h-2.9zM351.8 465.3l1.45 2.4h-2.9zM336.9 446.0l1.45 2.4h-2.9zM340.8 465.0l1.45 2.4h-2.9zM336.7 447.5l1.45 2.4h-2.9zM338.1 446.2l1.45 2.4h-2.9zM356.2 478.9l1.45 2.4h-2.9zM344.1 468.9l1.45 2.4h-2.9zM338.4 462.7l1.45 2.4h-2.9zM343.6 471.1l1.45 2.4h-2.9zM349.2 470.5l1.45 2.4h-2.9zM338.4 464.8l1.45 2.4h-2.9zM346.0 463.2l1.45 2.4h-2.9zM344.8 457.2l1.45 2.4h-2.9zM339.0 462.1l1.45 2.4h-2.9zM342.5 454.9l1.45 2.4h-2.9zM351.3 461.8l1.45 2.4h-2.9zM336.7 468.7l1.45 2.4h-2.9zM336.7 466.9l1.45 2.4h-2.9zM341.6 449.7l1.45 2.4h-2.9zM375.5 481.1l1.45 2.4h-2.9zM339.7 456.2l1.45 2.4h-2.9zM339.3 456.7l1.45 2.4h-2.9zM344.4 458.1l1.45 2.4h-2.9z" fill="#f2832d"/>
<path d="M336.4 454.5 L339.5 458.3 L342.6 462.0 L345.7 465.7 L348.9 469.4 L352.0 472.9 L355.1 476.2 L358.2 479.2 L361.3 481.9 L364.4 484.1 L367.5 486.0 L370.6 487.4 L373.8 488.4 L376.9 489.1 L380.0 489.6 L383.1 490.0 L386.2 490.3 L389.3 490.5 L392.4 490.7 L395.5 490.9 L398.7 491.1 L401.8 491.3 L404.9 491.3 L408.0 491.4 L411.1 491.4 L414.2 491.4 L417.3 491.4 L420.5 491.4 L423.6 491.3 L426.7 491.2 L429.8 491.1 L432.9 491.0 L436.0 490.9 L439.1 490.8 L442.2 490.6 L445.4 490.4 L445.4 501.6 L442.2 501.0 L439.1 500.4 L436.0 499.9 L432.9 499.3 L429.8 498.8 L426.7 498.3 L423.6 497.8 L420.5 497.3 L417.3 496.9 L414.2 496.5 L411.1 496.0 L408.0 495.6 L404.9 495.3 L401.8 494.9 L398.7 494.6 L395.5 494.4 L392.4 494.1 L389.3 493.8 L386.2 493.4 L383.1 493.1 L380.0 492.6 L376.9 492.0 L373.8 491.2 L370.6 490.2 L367.5 488.9 L364.4 487.2 L361.3 485.0 L358.2 482.4 L355.1 479.5 L352.0 476.3 L348.9 472.9 L345.7 469.3 L342.6 465.7 L339.5 462.1 L336.4 458.4 Z" fill="#999" fill-opacity="0.4"/>
<path d="M336.4 456.4 L339.5 460.2 L342.6 463.9 L345.7 467.5 L348.9 471.1 L352.0 474.6 L355.1 477.8 L358.2 480.8 L361.3 483.4 L364.4 485.7 L367.5 487.4 L370.6 488.8 L373.8 489.8 L376.9 490.5 L380.0 491.1 L383.1 491.5 L386.2 491.9 L389.3 492.2 L392.4 492.4 L395.5 492.6 L398.7 492.9 L401.8 493.1 L404.9 493.3 L408.0 493.5 L411.1 493.7 L414.2 493.9 L417.3 494.1 L420.5 494.3 L423.6 494.6 L426.7 494.8 L429.8 495.0 L432.9 495.2 L436.0 495.4 L439.1 495.6 L442.2 495.8 L445.4 496.0" fill="none" stroke="#476aeb" stroke-width="1.4" stroke-linejoin="round"/>
<text class="dv" x="328.8" y="506.55" font-size="5.4" fill="#4d4d4d" text-anchor="end">4</text>
<text class="dv" x="328.8" y="489.35" font-size="5.4" fill="#4d4d4d" text-anchor="end">5</text>
<text class="dv" x="328.8" y="472.15" font-size="5.4" fill="#4d4d4d" text-anchor="end">6</text>
<text class="dv" x="328.8" y="454.95" font-size="5.4" fill="#4d4d4d" text-anchor="end">7</text>
<text class="dv" x="336.4" y="523.5" font-size="5.4" fill="#4d4d4d" text-anchor="middle">0</text>
<text class="dv" x="367.53" y="523.5" font-size="5.4" fill="#4d4d4d" text-anchor="middle">10</text>
<text class="dv" x="398.66" y="523.5" font-size="5.4" fill="#4d4d4d" text-anchor="middle">20</text>
<text class="dv" x="429.79" y="523.5" font-size="5.4" fill="#4d4d4d" text-anchor="middle">30</text>
<text class="dv" x="392.7" y="531.2" font-size="6.45" fill="#222" text-anchor="middle">PASI</text>
<text class="dv" x="322" y="478.9" font-size="6.45" fill="#222" text-anchor="middle" transform="rotate(-90 322 478.9)">CRY2 log2(expr)</text>
<rect x="488.8" y="421" width="121.2" height="9.4" fill="#b525f8"/>
<rect x="488.8" y="431" width="121.2" height="9.4" fill="#80fefe"/>
<rect x="610.6" y="441" width="10.4" height="75.7" fill="#1500ff"/>
<text class="dv" x="549.4" y="427.6" font-size="5.2" fill="#fff" text-anchor="middle">Lesional</text>
<text class="dv" x="549.4" y="437.6" font-size="5.2" fill="#222" text-anchor="middle">Both drugs</text>
<text class="dv" x="617.6" y="478.85" font-size="5.2" fill="#fff" text-anchor="middle" transform="rotate(-90 617.6 478.85)">blue</text>
<path d="M488.8 502.05H610M488.8 479.55H610M488.8 457.05H610M509.74 441V516.7M540.8 441V516.7M571.88 441V516.7M602.94 441V516.7" stroke="#f2f2f2" stroke-width="0.35" fill="none"/>
<path d="M488.8 513.3H610M488.8 490.8H610M488.8 468.3H610M488.8 445.8H610M494.2 441V516.7M525.27 441V516.7M556.34 441V516.7M587.41 441V516.7" stroke="#e8e8e8" stroke-width="0.55" fill="none"/>
<path d="M547.7 482.9h0M539.7 478.8h0M567.0 478.5h0M549.0 481.8h0M590.1 495.3h0M524.4 464.8h0M545.8 489.5h0M555.8 476.5h0M535.4 492.2h0M514.0 471.8h0M549.6 494.2h0M542.1 507.8h0M553.9 471.1h0M512.9 452.3h0M577.9 481.4h0M515.5 476.1h0M525.9 482.7h0M550.4 499.9h0M515.8 498.4h0M520.6 481.5h0M581.2 486.4h0M524.6 485.6h0M556.8 469.6h0M529.6 480.8h0M579.8 473.7h0M524.0 468.9h0M543.9 493.3h0M599.4 501.6h0M546.4 484.0h0M514.9 494.7h0M546.1 472.8h0M527.2 486.9h0M519.9 485.2h0M524.1 479.2h0M543.0 473.3h0M601.5 488.4h0M516.6 480.8h0M514.3 467.9h0M520.1 480.1h0M530.3 500.8h0M546.3 484.4h0M529.5 491.1h0M528.1 477.5h0M533.9 493.9h0M519.1 487.1h0M551.4 469.7h0M598.2 500.7h0M536.5 485.2h0M537.8 485.2h0M529.4 483.3h0M517.4 486.2h0M536.5 486.4h0M515.8 484.4h0M530.5 490.9h0M560.4 486.3h0M522.9 487.2h0M559.5 492.9h0M541.3 510.0h0M510.4 472.9h0M559.2 485.0h0M547.2 491.0h0M520.0 484.7h0M527.6 478.1h0M517.3 484.5h0M560.1 485.6h0M574.9 477.6h0M524.0 497.7h0M554.4 478.7h0M602.7 469.1h0M566.0 490.9h0M540.3 504.2h0M514.7 477.7h0" stroke="#3d7ebf" stroke-width="2.6" stroke-linecap="round" fill="none"/><path d="M535.0 503.6l1.45 2.4h-2.9zM526.5 482.7l1.45 2.4h-2.9zM518.8 480.1l1.45 2.4h-2.9zM529.6 505.5l1.45 2.4h-2.9zM524.6 490.9l1.45 2.4h-2.9zM541.6 494.6l1.45 2.4h-2.9zM531.6 506.5l1.45 2.4h-2.9zM545.8 460.5l1.45 2.4h-2.9zM521.7 502.3l1.45 2.4h-2.9zM522.0 488.0l1.45 2.4h-2.9zM520.2 486.4l1.45 2.4h-2.9zM541.8 489.0l1.45 2.4h-2.9zM540.7 476.1l1.45 2.4h-2.9zM548.9 494.3l1.45 2.4h-2.9zM524.1 476.8l1.45 2.4h-2.9zM519.3 490.3l1.45 2.4h-2.9zM522.1 473.3l1.45 2.4h-2.9zM529.6 461.1l1.45 2.4h-2.9zM581.6 500.3l1.45 2.4h-2.9zM536.5 484.8l1.45 2.4h-2.9zM527.4 476.8l1.45 2.4h-2.9zM528.2 488.0l1.45 2.4h-2.9zM537.1 484.2l1.45 2.4h-2.9zM564.0 494.9l1.45 2.4h-2.9zM546.2 483.6l1.45 2.4h-2.9zM521.0 473.7l1.45 2.4h-2.9zM544.1 477.2l1.45 2.4h-2.9zM527.6 471.1l1.45 2.4h-2.9zM548.4 486.7l1.45 2.4h-2.9zM559.0 495.1l1.45 2.4h-2.9zM535.3 477.2l1.45 2.4h-2.9zM536.4 480.2l1.45 2.4h-2.9zM553.6 477.5l1.45 2.4h-2.9zM552.0 470.5l1.45 2.4h-2.9zM510.5 482.7l1.45 2.4h-2.9zM521.8 484.1l1.45 2.4h-2.9zM570.1 491.2l1.45 2.4h-2.9zM530.7 489.6l1.45 2.4h-2.9zM564.0 472.2l1.45 2.4h-2.9zM539.6 481.1l1.45 2.4h-2.9zM545.7 490.8l1.45 2.4h-2.9zM519.6 463.4l1.45 2.4h-2.9zM554.8 506.6l1.45 2.4h-2.9zM568.3 493.8l1.45 2.4h-2.9zM547.3 472.1l1.45 2.4h-2.9zM546.1 477.1l1.45 2.4h-2.9zM535.3 474.5l1.45 2.4h-2.9zM591.1 469.2l1.45 2.4h-2.9zM556.5 464.0l1.45 2.4h-2.9zM529.9 481.2l1.45 2.4h-2.9z" fill="#3d7ebf"/><path d="M545.6 485.7h0M527.9 464.8h0M547.3 489.6h0M534.8 502.6h0M513.3 489.1h0M534.9 492.9h0M558.8 494.2h0M526.9 489.1h0M516.8 493.7h0M523.8 486.7h0M565.5 501.5h0M523.2 485.1h0M517.1 490.3h0M548.7 482.8h0M525.2 490.1h0M514.6 499.3h0M526.7 486.7h0M545.9 503.8h0M528.2 487.4h0M527.8 508.4h0M552.9 497.9h0M526.1 497.9h0M525.8 488.7h0M518.1 505.1h0M519.6 466.0h0M540.7 489.4h0M511.8 482.7h0M563.7 504.5h0M529.2 506.7h0M520.6 488.6h0M524.3 496.5h0M527.8 491.8h0M524.4 478.0h0M531.0 488.8h0M526.3 481.4h0M533.9 494.1h0M556.7 488.4h0M539.3 480.5h0M573.8 484.9h0M560.2 476.8h0M522.5 497.5h0M526.8 495.1h0M537.4 483.0h0M537.1 494.1h0M537.3 488.9h0M516.0 481.2h0M527.2 493.0h0M516.8 488.3h0M523.1 471.1h0M527.4 503.5h0M537.7 500.2h0M561.4 475.9h0M535.2 483.4h0M554.5 496.0h0M514.9 494.7h0M515.9 476.1h0M559.5 484.6h0M535.4 489.0h0M528.6 476.5h0M538.8 490.2h0M527.1 455.8h0" stroke="#4bab3d" stroke-width="2.6" stroke-linecap="round" fill="none"/><path d="M522.0 488.7l1.45 2.4h-2.9zM551.4 484.2l1.45 2.4h-2.9zM540.3 488.1l1.45 2.4h-2.9zM548.9 474.1l1.45 2.4h-2.9zM527.3 493.7l1.45 2.4h-2.9zM535.8 489.7l1.45 2.4h-2.9zM517.5 492.1l1.45 2.4h-2.9zM532.9 487.5l1.45 2.4h-2.9zM562.5 467.4l1.45 2.4h-2.9zM529.4 484.6l1.45 2.4h-2.9zM520.3 495.7l1.45 2.4h-2.9zM521.8 468.7l1.45 2.4h-2.9zM586.8 473.3l1.45 2.4h-2.9zM519.6 470.2l1.45 2.4h-2.9zM542.7 499.9l1.45 2.4h-2.9zM532.2 498.5l1.45 2.4h-2.9zM528.7 471.2l1.45 2.4h-2.9zM546.0 492.7l1.45 2.4h-2.9zM544.8 483.8l1.45 2.4h-2.9zM550.6 475.7l1.45 2.4h-2.9zM537.4 490.0l1.45 2.4h-2.9zM569.1 479.7l1.45 2.4h-2.9zM529.6 479.3l1.45 2.4h-2.9zM526.1 499.3l1.45 2.4h-2.9zM553.1 468.4l1.45 2.4h-2.9zM528.9 466.9l1.45 2.4h-2.9zM530.8 492.9l1.45 2.4h-2.9zM555.9 498.2l1.45 2.4h-2.9zM520.9 479.2l1.45 2.4h-2.9zM540.6 473.9l1.45 2.4h-2.9zM527.1 489.3l1.45 2.4h-2.9zM568.9 494.8l1.45 2.4h-2.9zM536.2 495.4l1.45 2.4h-2.9zM535.7 482.0l1.45 2.4h-2.9zM535.2 494.5l1.45 2.4h-2.9zM514.6 473.3l1.45 2.4h-2.9zM523.6 480.8l1.45 2.4h-2.9zM546.5 506.9l1.45 2.4h-2.9zM534.1 488.3l1.45 2.4h-2.9zM514.1 487.3l1.45 2.4h-2.9zM516.2 463.1l1.45 2.4h-2.9zM546.9 497.2l1.45 2.4h-2.9zM510.7 475.3l1.45 2.4h-2.9zM537.9 502.3l1.45 2.4h-2.9zM533.3 502.2l1.45 2.4h-2.9zM530.9 489.7l1.45 2.4h-2.9zM539.2 477.8l1.45 2.4h-2.9zM516.8 490.0l1.45 2.4h-2.9zM513.1 493.5l1.45 2.4h-2.9zM529.9 501.2l1.45 2.4h-2.9zM513.5 490.7l1.45 2.4h-2.9zM592.7 507.8l1.45 2.4h-2.9zM549.5 508.3l1.45 2.4h-2.9zM536.0 483.7l1.45 2.4h-2.9zM528.3 496.5l1.45 2.4h-2.9zM534.2 485.0l1.45 2.4h-2.9zM513.0 475.3l1.45 2.4h-2.9zM577.1 482.3l1.45 2.4h-2.9zM528.2 485.0l1.45 2.4h-2.9zM546.7 504.9l1.45 2.4h-2.9zM523.6 492.4l1.45 2.4h-2.9z" fill="#4bab3d"/><path d="M503.5 465.3h0M500.0 451.4h0M538.9 485.3h0M498.2 459.9h0M500.6 475.0h0M498.0 449.3h0M500.5 454.9h0M494.4 456.6h0M500.0 452.6h0M505.4 471.9h0M502.4 455.3h0M497.1 458.0h0M498.4 451.9h0M494.5 448.8h0M544.5 503.0h0M511.4 468.8h0M502.1 468.6h0M495.9 454.6h0M499.3 462.3h0M495.1 447.3h0M536.0 510.1h0M502.6 462.2h0M495.0 469.4h0M498.2 465.0h0M498.4 462.0h0M494.4 448.7h0M497.7 451.5h0M542.4 502.6h0M495.5 461.9h0M502.2 460.8h0M537.4 503.7h0M500.1 472.0h0M497.2 464.7h0M513.4 471.9h0M511.7 468.5h0M501.3 466.9h0M504.0 475.4h0M505.0 478.3h0M497.0 465.7h0M501.0 465.3h0M514.1 456.7h0M496.2 463.9h0M494.3 448.5h0M517.2 472.0h0M505.9 468.9h0M494.5 456.2h0M551.6 480.1h0M503.6 479.2h0M496.0 452.7h0M507.4 465.1h0M506.5 472.6h0M514.5 487.3h0M494.5 457.3h0M510.7 453.8h0M494.4 447.9h0M524.4 487.8h0M517.6 465.4h0M513.3 478.8h0M499.1 467.4h0M499.2 469.7h0M494.9 450.1h0M494.7 452.0h0M495.1 460.5h0M500.3 468.2h0M504.2 469.2h0M496.0 451.1h0M516.9 489.9h0" stroke="#f2832d" stroke-width="2.6" stroke-linecap="round" fill="none"/><path d="M497.8 460.9l1.45 2.4h-2.9zM497.6 472.4l1.45 2.4h-2.9zM518.3 466.2l1.45 2.4h-2.9zM510.1 472.4l1.45 2.4h-2.9zM498.3 470.9l1.45 2.4h-2.9zM555.1 478.6l1.45 2.4h-2.9zM497.3 463.0l1.45 2.4h-2.9zM509.1 472.9l1.45 2.4h-2.9zM496.7 446.4l1.45 2.4h-2.9zM509.5 461.2l1.45 2.4h-2.9zM554.7 469.8l1.45 2.4h-2.9zM494.5 450.0l1.45 2.4h-2.9zM511.0 450.5l1.45 2.4h-2.9zM498.7 445.4l1.45 2.4h-2.9zM510.3 471.2l1.45 2.4h-2.9zM501.5 463.0l1.45 2.4h-2.9zM509.3 455.6l1.45 2.4h-2.9zM501.4 475.0l1.45 2.4h-2.9zM511.0 454.7l1.45 2.4h-2.9zM496.3 445.9l1.45 2.4h-2.9zM501.4 463.1l1.45 2.4h-2.9zM501.6 457.2l1.45 2.4h-2.9zM513.0 478.1l1.45 2.4h-2.9zM495.0 457.7l1.45 2.4h-2.9zM495.6 446.1l1.45 2.4h-2.9zM502.0 463.1l1.45 2.4h-2.9zM495.8 446.8l1.45 2.4h-2.9zM502.3 453.7l1.45 2.4h-2.9zM509.6 453.6l1.45 2.4h-2.9zM494.7 451.2l1.45 2.4h-2.9zM498.6 449.9l1.45 2.4h-2.9zM494.5 459.3l1.45 2.4h-2.9zM495.9 445.8l1.45 2.4h-2.9zM514.0 480.3l1.45 2.4h-2.9zM501.9 473.4l1.45 2.4h-2.9zM496.2 457.9l1.45 2.4h-2.9zM501.4 468.3l1.45 2.4h-2.9zM506.9 469.1l1.45 2.4h-2.9zM496.2 457.2l1.45 2.4h-2.9zM503.8 445.5l1.45 2.4h-2.9zM502.6 467.8l1.45 2.4h-2.9zM496.8 449.9l1.45 2.4h-2.9zM500.3 467.5l1.45 2.4h-2.9zM509.1 471.2l1.45 2.4h-2.9zM494.5 465.2l1.45 2.4h-2.9zM494.5 472.0l1.45 2.4h-2.9zM499.4 453.7l1.45 2.4h-2.9zM533.2 504.3l1.45 2.4h-2.9zM497.5 454.8l1.45 2.4h-2.9zM497.1 445.6l1.45 2.4h-2.9zM502.2 448.4l1.45 2.4h-2.9z" fill="#f2832d"/>
<path d="M494.2 452.5 L497.3 456.3 L500.4 460.0 L503.5 463.7 L506.6 467.3 L509.7 470.7 L512.8 473.9 L515.9 476.8 L519.1 479.4 L522.2 481.4 L525.3 483.1 L528.4 484.3 L531.5 485.2 L534.6 485.8 L537.7 486.3 L540.8 486.6 L543.9 486.9 L547.0 487.2 L550.1 487.4 L553.2 487.7 L556.3 487.9 L559.4 488.1 L562.6 488.2 L565.7 488.3 L568.8 488.3 L571.9 488.3 L575.0 488.3 L578.1 488.3 L581.2 488.3 L584.3 488.2 L587.4 488.1 L590.5 488.0 L593.6 487.9 L596.7 487.7 L599.8 487.6 L602.9 487.4 L602.9 500.7 L599.8 500.0 L596.7 499.3 L593.6 498.6 L590.5 498.0 L587.4 497.3 L584.3 496.7 L581.2 496.1 L578.1 495.5 L575.0 494.9 L571.9 494.4 L568.8 493.9 L565.7 493.4 L562.6 492.9 L559.4 492.5 L556.3 492.1 L553.2 491.8 L550.1 491.4 L547.0 491.1 L543.9 490.7 L540.8 490.3 L537.7 489.8 L534.6 489.3 L531.5 488.6 L528.4 487.8 L525.3 486.6 L522.2 485.1 L519.1 483.2 L515.9 480.7 L512.8 477.9 L509.7 474.8 L506.6 471.5 L503.5 468.0 L500.4 464.4 L497.3 460.8 L494.2 457.1 Z" fill="#999" fill-opacity="0.4"/>
<path d="M494.2 454.8 L497.3 458.5 L500.4 462.2 L503.5 465.8 L506.6 469.4 L509.7 472.8 L512.8 475.9 L515.9 478.8 L519.1 481.3 L522.2 483.3 L525.3 484.8 L528.4 486.0 L531.5 486.9 L534.6 487.5 L537.7 488.0 L540.8 488.5 L543.9 488.8 L547.0 489.1 L550.1 489.4 L553.2 489.7 L556.3 490.0 L559.4 490.3 L562.6 490.5 L565.7 490.8 L568.8 491.1 L571.9 491.4 L575.0 491.6 L578.1 491.9 L581.2 492.2 L584.3 492.4 L587.4 492.7 L590.5 493.0 L593.6 493.3 L596.7 493.5 L599.8 493.8 L602.9 494.1" fill="none" stroke="#476aeb" stroke-width="1.4" stroke-linejoin="round"/>
<text class="dv" x="486.2" y="515.25" font-size="5.4" fill="#4d4d4d" text-anchor="end">0</text>
<text class="dv" x="486.2" y="492.75" font-size="5.4" fill="#4d4d4d" text-anchor="end">2</text>
<text class="dv" x="486.2" y="470.25" font-size="5.4" fill="#4d4d4d" text-anchor="end">4</text>
<text class="dv" x="486.2" y="447.75" font-size="5.4" fill="#4d4d4d" text-anchor="end">6</text>
<text class="dv" x="494.2" y="523.4" font-size="5.4" fill="#4d4d4d" text-anchor="middle">0</text>
<text class="dv" x="525.27" y="523.4" font-size="5.4" fill="#4d4d4d" text-anchor="middle">10</text>
<text class="dv" x="556.34" y="523.4" font-size="5.4" fill="#4d4d4d" text-anchor="middle">20</text>
<text class="dv" x="587.41" y="523.4" font-size="5.4" fill="#4d4d4d" text-anchor="middle">30</text>
<text class="dv" x="549.4" y="531.1" font-size="6.45" fill="#222" text-anchor="middle">PASI</text>
<text class="dv" x="478" y="478.85" font-size="6.45" fill="#222" text-anchor="middle" transform="rotate(-90 478 478.85)">RORC log2(expr)</text>
<text class="dv" x="645.8" y="369.5" font-size="4.3" fill="#222">Drug</text>
<circle cx="649.5" cy="376.3" r="1.2" fill="#111"/>
<text class="dv" x="655.8" y="377.7" font-size="4.3" fill="#222">Adalimumab</text>
<path d="M649.5 383.0l1.5 2.5h-3z" fill="#111"/>
<text class="dv" x="655.8" y="385.9" font-size="4.3" fill="#222">Ustekinumab</text>
<text class="dv" x="645.8" y="405" font-size="4.3" fill="#222">Time</text>
<circle cx="649.5" cy="411.9" r="1.25" fill="#3d7ebf"/>
<text class="dv" x="655.8" y="413.3" font-size="4.3" fill="#222">0w</text>
<circle cx="649.5" cy="420.05" r="1.25" fill="#4bab3d"/>
<text class="dv" x="655.8" y="421.45" font-size="4.3" fill="#222">1w</text>
<circle cx="649.5" cy="428.2" r="1.25" fill="#f2832d"/>
<text class="dv" x="655.8" y="429.6" font-size="4.3" fill="#222">12w</text>
</g>
<g id="panel_e">
<path d="M74.3 685.2L42.0 666.2M74.3 685.2L68.0 663.5M74.3 685.2L103.0 654.5M74.3 685.2L132.0 672.2M74.3 685.2L111.0 698.2M74.3 685.2L157.4 692.9M74.3 685.2L187.1 667.8M74.3 685.2L214.7 676.2M74.3 685.2L202.2 703.5M74.3 685.2L206.3 744.9M74.3 685.2L94.3 718.4M74.3 685.2L83.3 733.2M74.3 685.2L89.4 749.8M74.3 685.2L168.7 733.2M74.3 685.2L78.7 773.3M74.3 685.2L105.5 760.5M74.3 685.2L105.8 779.2M74.3 685.2L138.2 790.4M74.3 685.2L124.2 750.8M74.3 685.2L50.8 746.5M74.3 685.2L57.2 722.0M74.3 685.2L84.8 803.2M74.3 685.2L150.0 760.5M74.3 685.2L127.0 774.6M74.3 685.2L153.6 777.2M74.3 685.2L151.5 742.1M74.3 685.2L207.3 633.3M157.4 692.9L103.0 654.5M157.4 692.9L107.8 607.3M157.4 692.9L136.0 640.2M157.4 692.9L132.0 672.2M157.4 692.9L111.0 698.2M157.4 692.9L187.1 667.8M157.4 692.9L214.7 676.2M157.4 692.9L202.2 703.5M157.4 692.9L229.8 701.8M157.4 692.9L206.3 744.9M157.4 692.9L235.4 739.1M157.4 692.9L207.3 633.3M157.4 692.9L225.4 651.7M157.4 692.9L122.9 710.2M157.4 692.9L123.9 728.1M157.4 692.9L168.7 733.2M157.4 692.9L151.5 742.1M157.4 692.9L150.0 760.5M157.4 692.9L124.2 750.8M157.4 692.9L105.5 760.5M157.4 692.9L138.2 790.4M157.4 692.9L153.6 777.2M157.4 692.9L127.0 774.6M157.4 692.9L94.3 718.4M157.4 692.9L83.3 733.2M157.4 692.9L89.4 749.8M157.4 692.9L105.8 779.2M157.4 692.9L78.7 773.3M157.4 692.9L84.8 803.2M157.4 692.9L135.2 830.3M111.0 698.2L68.0 663.5M111.0 698.2L132.0 672.2M111.0 698.2L122.9 710.2M111.0 698.2L94.3 718.4M111.0 698.2L83.3 733.2M111.0 698.2L123.9 728.1M111.0 698.2L168.7 733.2M111.0 698.2L89.4 749.8M111.0 698.2L124.2 750.8M111.0 698.2L105.5 760.5M111.0 698.2L138.2 790.4M111.0 698.2L78.7 773.3M111.0 698.2L105.8 779.2M111.0 698.2L206.3 744.9M111.0 698.2L150.0 760.5M111.0 698.2L151.5 742.1M111.0 698.2L84.8 803.2M111.0 698.2L127.0 774.6M111.0 698.2L57.2 722.0M57.2 722.0L74.3 685.2M57.2 722.0L157.4 692.9M57.2 722.0L94.3 718.4M57.2 722.0L83.3 733.2M57.2 722.0L50.8 746.5M57.2 722.0L105.5 760.5M57.2 722.0L78.7 773.3M57.2 722.0L138.2 790.4M57.2 722.0L84.8 803.2M57.2 722.0L60.8 816.8M57.2 722.0L42.0 666.2M57.2 722.0L123.9 728.1M57.2 722.0L89.4 749.8M105.5 760.5L83.3 733.2M105.5 760.5L89.4 749.8M105.5 760.5L124.2 750.8M105.5 760.5L78.7 773.3M105.5 760.5L105.8 779.2M105.5 760.5L127.0 774.6M105.5 760.5L138.2 790.4M105.5 760.5L123.9 728.1M105.5 760.5L94.3 718.4M105.5 760.5L150.0 760.5M105.5 760.5L168.7 733.2M105.5 760.5L151.5 742.1M105.5 760.5L84.8 803.2M105.5 760.5L60.8 816.8M105.5 760.5L93.3 819.1M138.2 790.4L127.0 774.6M138.2 790.4L153.6 777.2M138.2 790.4L105.8 779.2M138.2 790.4L84.8 803.2M138.2 790.4L93.3 819.1M138.2 790.4L135.2 830.3M138.2 790.4L60.8 816.8M138.2 790.4L124.2 750.8M138.2 790.4L150.0 760.5M138.2 790.4L168.7 733.2M138.2 790.4L89.4 749.8M138.2 790.4L78.7 773.3M138.2 790.4L151.5 742.1M138.2 790.4L206.3 744.9" stroke="#e4cf98" stroke-width="0.5" fill="none" stroke-opacity="0.85"/>
<path d="M76.6 621.6L71.0 578.6M76.6 621.6L94.0 585.0M76.6 621.6L47.3 590.5M76.6 621.6L40.0 610.8M76.6 621.6L107.8 607.3M76.6 621.6L136.0 617.7M76.6 621.6L46.0 634.0M76.6 621.6L136.0 640.2M76.6 621.6L103.0 654.5M76.6 621.6L42.0 666.2M323.3 651.2L207.3 633.3M323.3 651.2L225.4 651.7M323.3 651.2L187.1 667.8M323.3 651.2L214.7 676.2M323.3 651.2L202.2 703.5M323.3 651.2L229.8 701.8M323.3 651.2L256.4 730.6M323.3 651.2L282.7 720.4M323.3 651.2L235.4 739.1M323.3 651.2L206.3 744.9M323.3 651.2L274.0 746.0M323.3 651.2L315.1 784.5M323.3 651.2L157.4 692.9M294.4 678.3L207.3 633.3M294.4 678.3L225.4 651.7M294.4 678.3L187.1 667.8M294.4 678.3L214.7 676.2M294.4 678.3L202.2 703.5M294.4 678.3L229.8 701.8M294.4 678.3L256.4 730.6M294.4 678.3L282.7 720.4M294.4 678.3L235.4 739.1M294.4 678.3L206.3 744.9M294.4 678.3L274.0 746.0M294.4 678.3L157.4 692.9M236.4 766.9L206.3 744.9M236.4 766.9L235.4 739.1M236.4 766.9L274.0 746.0M236.4 766.9L202.2 703.5M236.4 766.9L214.7 676.2M236.4 766.9L187.1 667.8M236.4 766.9L229.8 701.8M236.4 766.9L74.3 685.2M236.4 766.9L157.4 692.9M236.4 766.9L138.2 790.4M236.4 766.9L105.8 779.2M236.4 766.9L93.3 819.1M236.4 766.9L168.7 733.2M236.4 766.9L89.4 749.8M236.4 766.9L153.6 777.2M236.4 766.9L150.0 760.5M236.4 766.9L127.0 774.6M236.4 766.9L83.3 733.2M198.4 801.6L153.6 777.2M198.4 801.6L168.7 733.2M198.4 801.6L89.4 749.8M198.4 801.6L138.2 790.4M198.4 801.6L172.0 818.5M198.4 801.6L200.1 836.3M198.4 801.6L228.5 831.7M198.4 801.6L224.7 851.1M198.4 801.6L257.6 839.6M198.4 801.6L239.0 810.3M198.4 801.6L266.8 794.4M198.4 801.6L315.1 784.5M198.4 801.6L234.6 786.2M198.4 801.6L162.5 845.9M198.4 801.6L235.4 739.1M198.4 801.6L206.3 744.9M198.4 801.6L74.3 685.2M198.4 801.6L150.0 760.5M198.4 801.6L105.8 779.2M270.7 815.1L266.8 794.4M270.7 815.1L315.1 784.5M270.7 815.1L239.0 810.3M270.7 815.1L299.5 831.2M270.7 815.1L228.5 831.7M270.7 815.1L257.6 839.6M270.7 815.1L224.7 851.1M270.7 815.1L274.0 746.0M270.7 815.1L235.4 739.1" stroke="#a9bfe2" stroke-width="0.5" fill="none" stroke-opacity="0.9"/>
<circle cx="71" cy="578.6" r="3" fill="#78f8d6"/>
<circle cx="94" cy="585" r="3" fill="#78f8d6"/>
<circle cx="47.3" cy="590.5" r="3" fill="#1010f5"/>
<circle cx="40" cy="610.8" r="3" fill="#78f8d6"/>
<circle cx="107.8" cy="607.3" r="3" fill="#78f8d6"/>
<circle cx="136" cy="617.7" r="3" fill="#78f8d6"/>
<rect x="72.4" y="617.4" width="8.4" height="8.4" fill="#a9ccf9" stroke="#5d92e6" stroke-width="0.7"/>
<circle cx="46" cy="634" r="3" fill="#78f8d6"/>
<circle cx="136" cy="640.2" r="3" fill="#78f8d6"/>
<circle cx="103" cy="654.5" r="3" fill="#78f8d6"/>
<circle cx="42" cy="666.2" r="3" fill="#78f8d6"/>
<circle cx="68" cy="663.5" r="3" fill="#78f8d6"/>
<circle cx="132" cy="672.2" r="3" fill="#fbfb3c"/>
<rect x="70.1" y="681" width="8.4" height="8.4" fill="#fdf038" stroke="#e6a43a" stroke-width="0.7"/>
<rect x="106.8" y="694" width="8.4" height="8.4" fill="#fdf038" stroke="#e6a43a" stroke-width="0.7"/>
<rect x="153.2" y="688.7" width="8.4" height="8.4" fill="#fdf038" stroke="#e6a43a" stroke-width="0.7"/>
<circle cx="122.9" cy="710.2" r="3" fill="#78f8d6"/>
<circle cx="94.3" cy="718.4" r="3" fill="#78f8d6"/>
<rect x="53" y="717.8" width="8.4" height="8.4" fill="#fdf038" stroke="#e6a43a" stroke-width="0.7"/>
<circle cx="123.9" cy="728.1" r="3" fill="#1010f5"/>
<circle cx="83.3" cy="733.2" r="3" fill="#78f8d6"/>
<circle cx="168.7" cy="733.2" r="3" fill="#78f8d6"/>
<circle cx="151.5" cy="742.1" r="3" fill="#78f8d6"/>
<circle cx="50.8" cy="746.5" r="3" fill="#78f8d6"/>
<circle cx="89.4" cy="749.8" r="3" fill="#78f8d6"/>
<circle cx="124.2" cy="750.8" r="3" fill="#78f8d6"/>
<rect x="101.3" y="756.3" width="8.4" height="8.4" fill="#fdf038" stroke="#e6a43a" stroke-width="0.7"/>
<circle cx="150" cy="760.5" r="3" fill="#78f8d6"/>
<circle cx="78.7" cy="773.3" r="3" fill="#78f8d6"/>
<circle cx="105.8" cy="779.2" r="3" fill="#78f8d6"/>
<circle cx="127" cy="774.6" r="3" fill="#78f8d6"/>
<circle cx="153.6" cy="777.2" r="3" fill="#78f8d6"/>
<rect x="134" y="786.2" width="8.4" height="8.4" fill="#fdf038" stroke="#e6a43a" stroke-width="0.7"/>
<circle cx="84.8" cy="803.2" r="3" fill="#78f8d6"/>
<circle cx="60.8" cy="816.8" r="3" fill="#1010f5"/>
<circle cx="93.3" cy="819.1" r="3" fill="#78f8d6"/>
<circle cx="135.2" cy="830.3" r="3" fill="#ee7a78"/>
<circle cx="162.5" cy="845.9" r="3" fill="#78f8d6"/>
<circle cx="172" cy="818.5" r="3" fill="#1010f5"/>
<circle cx="207.3" cy="633.3" r="3" fill="#1010f5"/>
<circle cx="225.4" cy="651.7" r="3" fill="#1010f5"/>
<circle cx="187.1" cy="667.8" r="3" fill="#78f8d6"/>
<circle cx="214.7" cy="676.2" r="3" fill="#78f8d6"/>
<rect x="319.1" y="647" width="8.4" height="8.4" fill="#a9ccf9" stroke="#5d92e6" stroke-width="0.7"/>
<rect x="290.2" y="674.1" width="8.4" height="8.4" fill="#a9ccf9" stroke="#5d92e6" stroke-width="0.7"/>
<circle cx="202.2" cy="703.5" r="3" fill="#78f8d6"/>
<circle cx="229.8" cy="701.8" r="3" fill="#78f8d6"/>
<circle cx="282.7" cy="720.4" r="3" fill="#1010f5"/>
<circle cx="256.4" cy="730.6" r="3" fill="#1010f5"/>
<circle cx="235.4" cy="739.1" r="3" fill="#78f8d6"/>
<circle cx="206.3" cy="744.9" r="3" fill="#78f8d6"/>
<circle cx="274" cy="746" r="3" fill="#78f8d6"/>
<rect x="232.2" y="762.7" width="8.4" height="8.4" fill="#a9ccf9" stroke="#5d92e6" stroke-width="0.7"/>
<circle cx="234.6" cy="786.2" r="3" fill="#1010f5"/>
<circle cx="315.1" cy="784.5" r="3" fill="#78f8d6"/>
<circle cx="266.8" cy="794.4" r="3" fill="#78f8d6"/>
<rect x="194.2" y="797.4" width="8.4" height="8.4" fill="#a9ccf9" stroke="#5d92e6" stroke-width="0.7"/>
<circle cx="239" cy="810.3" r="3" fill="#78f8d6"/>
<rect x="266.5" y="810.9" width="8.4" height="8.4" fill="#a9ccf9" stroke="#5d92e6" stroke-width="0.7"/>
<circle cx="299.5" cy="831.2" r="3" fill="#78f8d6"/>
<circle cx="228.5" cy="831.7" r="3" fill="#1010f5"/>
<circle cx="257.6" cy="839.6" r="3" fill="#1010f5"/>
<circle cx="200.1" cy="836.3" r="3" fill="#1010f5"/>
<circle cx="224.7" cy="851.1" r="3" fill="#1010f5"/>
<text class="ls" x="71" y="590.3" font-size="6.9" fill="#e03030" text-anchor="middle">KLK13</text>
<text class="ls" x="94" y="596.7" font-size="6.9" fill="#1a1a1a" text-anchor="middle">SPRR2D</text>
<text class="ls" x="47.3" y="602.2" font-size="6.9" fill="#1a1a1a" text-anchor="middle">KRT77</text>
<text class="ls" x="40" y="622.5" font-size="6.9" fill="#1a1a1a" text-anchor="middle">SPRR1B</text>
<text class="ls" x="107.8" y="619" font-size="6.9" fill="#1a1a1a" text-anchor="middle">SPRR2A</text>
<text class="ls" x="136" y="629.4" font-size="6.9" fill="#1a1a1a" text-anchor="middle">KRT6A</text>
<text class="ls" x="76.6" y="635.5" font-size="6.9" fill="#1a1a1a" text-anchor="middle">Keratinization</text>
<text class="ls" x="46" y="645.7" font-size="6.9" fill="#1a1a1a" text-anchor="middle">SPRR2G</text>
<text class="ls" x="136" y="651.9" font-size="6.9" fill="#1a1a1a" text-anchor="middle">KRT16</text>
<text class="ls" x="103" y="666.2" font-size="6.9" fill="#1a1a1a" text-anchor="middle">PI3</text>
<text class="ls" x="42" y="677.9" font-size="6.9" fill="#1a1a1a" text-anchor="middle">TGM1</text>
<text class="ls" x="68" y="675.2" font-size="6.9" fill="#1a1a1a" text-anchor="middle">TYMP</text>
<text class="ls" x="132" y="683.9" font-size="6.9" fill="#1a1a1a" text-anchor="middle">PPARG</text>
<text class="ls" x="74.3" y="699.1" font-size="6.9" fill="#1a1a1a" text-anchor="middle">IL1B</text>
<text class="ls" x="111" y="712.1" font-size="6.9" fill="#1a1a1a" text-anchor="middle">IFNG</text>
<text class="ls" x="157.4" y="706.8" font-size="6.9" fill="#1a1a1a" text-anchor="middle">TNF</text>
<text class="ls" x="122.9" y="721.9" font-size="6.9" fill="#1a1a1a" text-anchor="middle">RAB38</text>
<text class="ls" x="94.3" y="730.1" font-size="6.9" fill="#1a1a1a" text-anchor="middle">IRF7</text>
<text class="ls" x="57.2" y="735.9" font-size="6.9" fill="#1a1a1a" text-anchor="middle">IFN alpha</text>
<text class="ls" x="123.9" y="739.8" font-size="6.9" fill="#1a1a1a" text-anchor="middle">BCL2</text>
<text class="ls" x="83.3" y="744.9" font-size="6.9" fill="#1a1a1a" text-anchor="middle">IL4R</text>
<text class="ls" x="168.7" y="744.9" font-size="6.9" fill="#1a1a1a" text-anchor="middle">S100A8</text>
<text class="ls" x="151.5" y="753.8" font-size="6.9" fill="#1a1a1a" text-anchor="middle">PLA2G4E</text>
<text class="ls" x="50.8" y="758.2" font-size="6.9" fill="#1a1a1a" text-anchor="middle">SERPINB3</text>
<text class="ls" x="89.4" y="761.5" font-size="6.9" fill="#1a1a1a" text-anchor="middle">S100A9</text>
<text class="ls" x="124.2" y="762.5" font-size="6.9" fill="#1a1a1a" text-anchor="middle">HIF1A</text>
<text class="ls" x="105.5" y="774.4" font-size="6.9" fill="#1a1a1a" text-anchor="middle">STAT3</text>
<text class="ls" x="150" y="772.2" font-size="6.9" fill="#1a1a1a" text-anchor="middle">MYD88</text>
<text class="ls" x="78.7" y="785" font-size="6.9" fill="#1a1a1a" text-anchor="middle">IFI16</text>
<text class="ls" x="105.8" y="790.9" font-size="6.9" fill="#1a1a1a" text-anchor="middle">IL17A</text>
<text class="ls" x="127" y="786.3" font-size="6.9" fill="#1a1a1a" text-anchor="middle">LTF</text>
<text class="ls" x="153.6" y="788.9" font-size="6.9" fill="#1a1a1a" text-anchor="middle">S100A7</text>
<text class="ls" x="138.2" y="804.3" font-size="6.9" fill="#1a1a1a" text-anchor="middle">IL6</text>
<text class="ls" x="84.8" y="814.9" font-size="6.9" fill="#1a1a1a" text-anchor="middle">STAT3</text>
<text class="ls" x="60.8" y="828.5" font-size="6.9" fill="#e03030" text-anchor="middle">RORC</text>
<text class="ls" x="93.3" y="830.8" font-size="6.9" fill="#1a1a1a" text-anchor="middle">IL17F</text>
<text class="ls" x="135.2" y="842" font-size="6.9" fill="#1a1a1a" text-anchor="middle">FOXM1</text>
<text class="ls" x="162.5" y="857.6" font-size="6.9" fill="#1a1a1a" text-anchor="middle">PLA2G4D</text>
<text class="ls" x="172" y="830.2" font-size="6.9" fill="#1a1a1a" text-anchor="middle">BTC</text>
<text class="ls" x="207.3" y="645" font-size="6.9" fill="#1a1a1a" text-anchor="middle">SDC4</text>
<text class="ls" x="225.4" y="663.4" font-size="6.9" fill="#1a1a1a" text-anchor="middle">CLDN1</text>
<text class="ls" x="187.1" y="679.5" font-size="6.9" fill="#1a1a1a" text-anchor="middle">IL36RN</text>
<text class="ls" x="214.7" y="687.9" font-size="6.9" fill="#1a1a1a" text-anchor="middle">IL36G</text>
<text class="ls" x="323.3" y="665.1" font-size="6.9" fill="#1a1a1a" text-anchor="middle">Granulocyte Adhesion and Diapedesis</text>
<text class="ls" x="294.4" y="692.2" font-size="6.9" fill="#1a1a1a" text-anchor="middle">Agranulocyte Adhesion and Diapedesis</text>
<text class="ls" x="202.2" y="715.2" font-size="6.9" fill="#1a1a1a" text-anchor="middle">IL36A</text>
<text class="ls" x="229.8" y="713.5" font-size="6.9" fill="#1a1a1a" text-anchor="middle">CXCL17</text>
<text class="ls" x="282.7" y="732.1" font-size="6.9" fill="#1a1a1a" text-anchor="middle">CLDN8</text>
<text class="ls" x="256.4" y="742.3" font-size="6.9" fill="#1a1a1a" text-anchor="middle">CXCL14</text>
<text class="ls" x="235.4" y="750.8" font-size="6.9" fill="#1a1a1a" text-anchor="middle">CXCR2</text>
<text class="ls" x="206.3" y="756.6" font-size="6.9" fill="#1a1a1a" text-anchor="middle">CXCL1</text>
<text class="ls" x="274" y="757.7" font-size="6.9" fill="#1a1a1a" text-anchor="middle">CXCR6</text>
<text class="ls" x="236.4" y="780.8" font-size="6.9" fill="#1a1a1a" text-anchor="middle">Pathogen Induced Cytokine Storm Signaling</text>
<text class="ls" x="234.6" y="797.9" font-size="6.9" fill="#1a1a1a" text-anchor="middle">EDA</text>
<text class="ls" x="315.1" y="796.2" font-size="6.9" fill="#1a1a1a" text-anchor="middle">HRH2</text>
<text class="ls" x="266.8" y="806.1" font-size="6.9" fill="#1a1a1a" text-anchor="middle">GPR68</text>
<text class="ls" x="198.4" y="815.5" font-size="6.9" fill="#1a1a1a" text-anchor="middle">S100 Family Signaling</text>
<text class="ls" x="239" y="822" font-size="6.9" fill="#1a1a1a" text-anchor="middle">BDKRB2</text>
<text class="ls" x="270.7" y="829" font-size="6.9" fill="#1a1a1a" text-anchor="middle">Class A/1</text>
<text class="ls" x="299.5" y="842.9" font-size="6.9" fill="#1a1a1a" text-anchor="middle">ACKR2</text>
<text class="ls" x="228.5" y="843.4" font-size="6.9" fill="#1a1a1a" text-anchor="middle">F2R</text>
<text class="ls" x="257.6" y="851.3" font-size="6.9" fill="#1a1a1a" text-anchor="middle">ADRB2</text>
<text class="ls" x="200.1" y="848" font-size="6.9" fill="#e03030" text-anchor="middle">CACNA2D2</text>
<text class="ls" x="224.7" y="862.8" font-size="6.9" fill="#1a1a1a" text-anchor="middle">CHRM1</text>
</g>
</svg>
</body></html>
